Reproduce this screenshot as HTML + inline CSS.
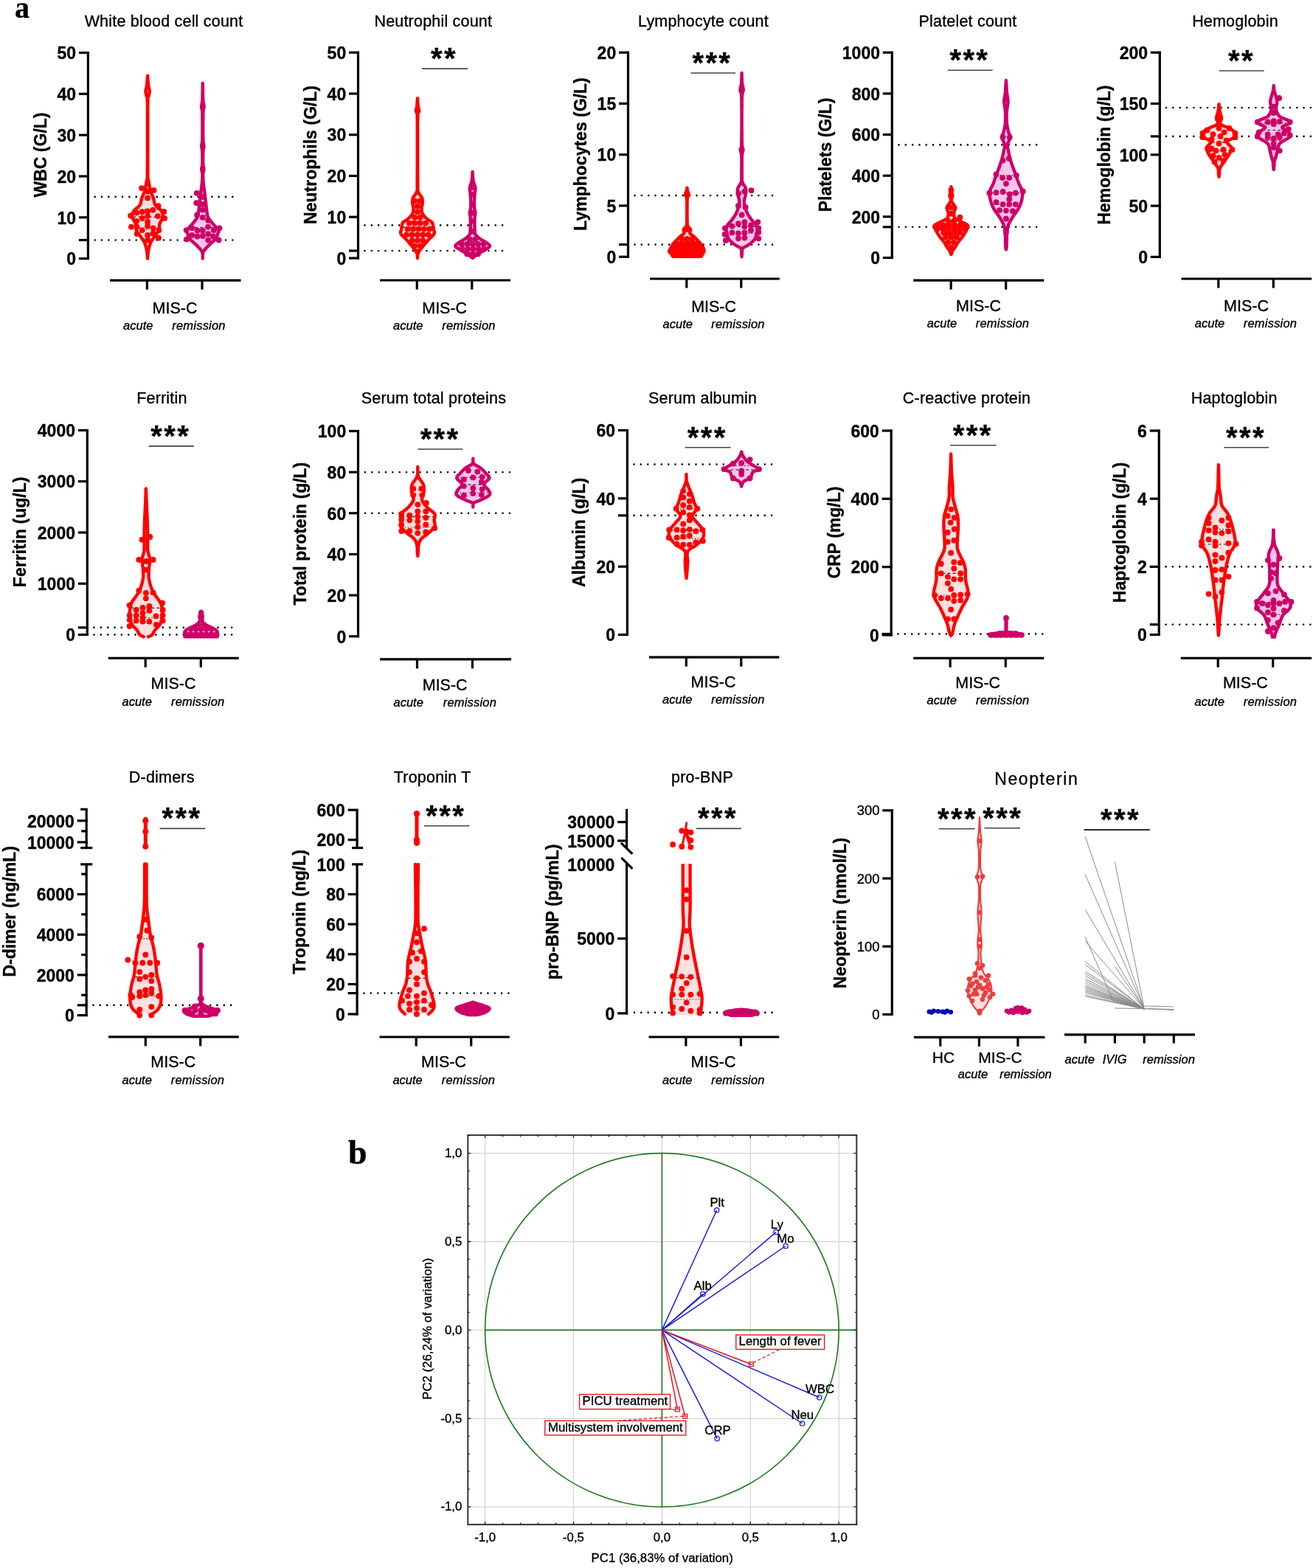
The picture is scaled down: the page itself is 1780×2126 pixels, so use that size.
<!DOCTYPE html>
<html><head><meta charset="utf-8"><title>MIS-C laboratory parameters</title><style>html,body{margin:0;padding:0;background:#fff;}svg{display:block;}</style></head><body>
<svg width="1780" height="2126" viewBox="0 0 1780 2126" style="font-family:'Liberation Sans',Arial,sans-serif">
<style>text{stroke:#000;stroke-width:0.35px;stroke-linejoin:round}</style>
<rect width="1780" height="2126" fill="#fff"/>
<text x="20.0" y="23.5" font-size="40" font-weight="bold" text-anchor="start" fill="#000" font-family="Liberation Serif">a</text>
<text x="222.0" y="35.5" font-size="21.5" text-anchor="middle" fill="#000" letter-spacing="0.2">White blood cell count</text>
<text x="62.5" y="210.0" font-size="23" font-weight="bold" text-anchor="middle" fill="#000" transform="rotate(-90 62.5 210.0)">WBC (G/L)</text>
<path d="M128.7,266.9h0M138.0,266.9h0M147.4,266.9h0M156.7,266.9h0M166.0,266.9h0M175.4,266.9h0M184.7,266.9h0M194.0,266.9h0M203.3,266.9h0M212.7,266.9h0M222.0,266.9h0M231.3,266.9h0M240.7,266.9h0M250.0,266.9h0M259.3,266.9h0M268.7,266.9h0M278.0,266.9h0M287.3,266.9h0M296.6,266.9h0M306.0,266.9h0M315.3,266.9h0" stroke="#000" stroke-width="2.6" stroke-linecap="round"/>
<path d="M128.7,325.5h0M138.0,325.5h0M147.4,325.5h0M156.7,325.5h0M166.0,325.5h0M175.4,325.5h0M184.7,325.5h0M194.0,325.5h0M203.3,325.5h0M212.7,325.5h0M222.0,325.5h0M231.3,325.5h0M240.7,325.5h0M250.0,325.5h0M259.3,325.5h0M268.7,325.5h0M278.0,325.5h0M287.3,325.5h0M296.6,325.5h0M306.0,325.5h0M315.3,325.5h0" stroke="#000" stroke-width="2.6" stroke-linecap="round"/>
<line x1="119.4" y1="70.0" x2="119.4" y2="352.1" stroke="#000" stroke-width="3.2"/>
<line x1="106.9" y1="350.6" x2="120.9" y2="350.6" stroke="#000" stroke-width="3.2"/>
<text x="103.1" y="359.3" font-size="23" font-weight="bold" text-anchor="end" fill="#000">0</text>
<line x1="106.9" y1="294.8" x2="120.9" y2="294.8" stroke="#000" stroke-width="3.2"/>
<text x="103.1" y="303.5" font-size="23" font-weight="bold" text-anchor="end" fill="#000">10</text>
<line x1="106.9" y1="239.0" x2="120.9" y2="239.0" stroke="#000" stroke-width="3.2"/>
<text x="103.1" y="247.7" font-size="23" font-weight="bold" text-anchor="end" fill="#000">20</text>
<line x1="106.9" y1="183.1" x2="120.9" y2="183.1" stroke="#000" stroke-width="3.2"/>
<text x="103.1" y="191.8" font-size="23" font-weight="bold" text-anchor="end" fill="#000">30</text>
<line x1="106.9" y1="127.3" x2="120.9" y2="127.3" stroke="#000" stroke-width="3.2"/>
<text x="103.1" y="136.0" font-size="23" font-weight="bold" text-anchor="end" fill="#000">40</text>
<line x1="106.9" y1="71.5" x2="120.9" y2="71.5" stroke="#000" stroke-width="3.2"/>
<text x="103.1" y="80.2" font-size="23" font-weight="bold" text-anchor="end" fill="#000">50</text>
<line x1="106.9" y1="325.5" x2="120.9" y2="325.5" stroke="#000" stroke-width="3.2"/>
<line x1="149.0" y1="380.1" x2="326.5" y2="380.1" stroke="#000" stroke-width="3.2"/>
<line x1="199.4" y1="380.1" x2="199.4" y2="392.6" stroke="#000" stroke-width="3.2"/>
<line x1="274.0" y1="380.1" x2="274.0" y2="392.6" stroke="#000" stroke-width="3.2"/>
<text x="237.0" y="425.0" font-size="21.5" text-anchor="middle" fill="#000">MIS-C</text>
<text x="187.3" y="447.0" font-size="16.5" font-style="italic" text-anchor="middle" fill="#000">acute</text>
<text x="269.5" y="447.0" font-size="16.5" font-style="italic" text-anchor="middle" fill="#000" letter-spacing="0.2">remission</text>
<path d="M200.1,350.6 L200.1,350.1 L200.2,349.4 L200.3,348.6 L200.4,347.7 L200.4,346.7 L200.5,345.7 L200.6,344.8 L200.7,343.8 L200.8,343.0 L200.9,342.2 L201.0,341.6 L201.0,341.1 L201.1,340.6 L201.1,340.1 L201.2,339.7 L201.3,339.3 L201.3,338.9 L201.4,338.4 L201.5,337.8 L201.7,337.2 L201.9,336.5 L202.1,335.7 L202.3,334.9 L202.5,334.1 L202.7,333.2 L203.0,332.3 L203.3,331.4 L203.6,330.6 L203.9,329.7 L204.3,328.8 L204.7,328.0 L205.2,327.2 L205.7,326.3 L206.3,325.5 L206.9,324.6 L207.5,323.8 L208.1,323.0 L208.7,322.1 L209.2,321.3 L209.8,320.5 L210.4,319.6 L211.0,318.8 L211.6,318.0 L212.2,317.1 L212.8,316.3 L213.4,315.5 L214.0,314.6 L214.5,313.8 L214.9,312.9 L215.3,312.1 L215.6,311.2 L215.8,310.3 L215.9,309.4 L216.0,308.5 L216.0,307.6 L216.1,306.7 L216.1,305.8 L216.2,304.9 L216.4,304.0 L216.6,303.2 L216.9,302.3 L217.3,301.4 L217.8,300.6 L218.3,299.8 L218.8,298.9 L219.3,298.1 L219.7,297.3 L220.1,296.4 L220.4,295.6 L220.6,294.8 L220.7,293.9 L220.8,293.1 L220.8,292.3 L220.7,291.4 L220.6,290.6 L220.5,289.8 L220.2,288.9 L219.9,288.1 L219.6,287.2 L219.1,286.4 L218.5,285.6 L217.8,284.7 L216.9,283.9 L215.9,283.1 L214.9,282.3 L213.9,281.4 L212.9,280.6 L212.0,279.7 L211.2,278.9 L210.6,278.0 L210.1,277.2 L209.7,276.3 L209.4,275.4 L209.2,274.5 L209.0,273.6 L208.9,272.7 L208.7,271.8 L208.6,270.9 L208.4,270.0 L208.1,269.1 L207.8,268.2 L207.5,267.4 L207.1,266.5 L206.7,265.7 L206.4,264.9 L206.0,264.1 L205.7,263.2 L205.3,262.4 L205.0,261.6 L204.7,260.7 L204.4,259.9 L204.2,259.1 L204.0,258.2 L203.7,257.4 L203.5,256.6 L203.3,255.7 L203.1,254.9 L203.0,254.1 L202.8,253.2 L202.6,252.4 L202.4,251.5 L202.2,250.6 L202.1,249.7 L201.9,248.8 L201.8,247.9 L201.6,247.0 L201.5,246.1 L201.3,245.2 L201.2,244.3 L201.1,243.4 L201.0,243.0 L200.9,243.1 L200.8,243.7 L200.7,244.3 L200.7,244.7 L200.6,244.7 L200.5,244.0 L200.5,242.4 L200.4,239.5 L200.4,235.1 L200.4,228.6 L200.3,220.0 L200.3,209.8 L200.3,198.5 L200.3,186.8 L200.3,175.0 L200.3,163.8 L200.3,153.6 L200.3,145.0 L200.4,138.5 L200.5,134.1 L200.6,131.1 L200.7,129.4 L200.8,128.7 L200.9,128.7 L201.1,129.1 L201.2,129.7 L201.3,130.3 L201.5,130.5 L201.6,130.1 L201.7,129.4 L201.9,128.7 L202.0,128.0 L202.2,127.3 L202.3,126.7 L202.4,126.1 L202.6,125.4 L202.6,124.8 L202.7,124.1 L202.7,123.4 L202.7,122.7 L202.6,122.1 L202.5,121.5 L202.3,120.8 L202.1,120.2 L202.0,119.5 L201.8,118.8 L201.6,118.0 L201.4,117.1 L201.3,116.2 L201.2,115.0 L201.0,113.7 L200.9,112.2 L200.7,110.6 L200.6,109.0 L200.5,107.4 L200.4,106.0 L200.3,104.7 L200.2,103.6 L200.1,102.8 L200.1,102.8 L200.0,103.6 L199.9,104.7 L199.8,106.0 L199.7,107.4 L199.6,109.0 L199.5,110.6 L199.3,112.2 L199.2,113.7 L199.0,115.0 L198.9,116.2 L198.8,117.1 L198.6,118.0 L198.4,118.8 L198.2,119.5 L198.1,120.2 L197.9,120.8 L197.7,121.5 L197.6,122.1 L197.5,122.7 L197.5,123.4 L197.5,124.1 L197.6,124.8 L197.6,125.4 L197.8,126.1 L197.9,126.7 L198.0,127.3 L198.2,128.0 L198.3,128.7 L198.5,129.4 L198.6,130.1 L198.7,130.5 L198.9,130.3 L199.0,129.7 L199.1,129.1 L199.3,128.7 L199.4,128.7 L199.5,129.4 L199.6,131.1 L199.7,134.1 L199.8,138.5 L199.9,145.0 L199.9,153.6 L199.9,163.8 L199.9,175.0 L199.9,186.8 L199.9,198.5 L199.9,209.8 L199.9,220.0 L199.8,228.6 L199.8,235.1 L199.8,239.5 L199.7,242.4 L199.7,244.0 L199.6,244.7 L199.5,244.7 L199.5,244.3 L199.4,243.7 L199.3,243.1 L199.2,243.0 L199.1,243.4 L199.0,244.3 L198.9,245.2 L198.7,246.1 L198.6,247.0 L198.4,247.9 L198.3,248.8 L198.1,249.7 L198.0,250.6 L197.8,251.5 L197.6,252.4 L197.4,253.2 L197.2,254.1 L197.1,254.9 L196.9,255.7 L196.7,256.6 L196.5,257.4 L196.2,258.2 L196.0,259.1 L195.8,259.9 L195.5,260.7 L195.2,261.6 L194.9,262.4 L194.5,263.2 L194.2,264.1 L193.8,264.9 L193.5,265.7 L193.1,266.5 L192.7,267.4 L192.4,268.2 L192.1,269.1 L191.8,270.0 L191.6,270.9 L191.5,271.8 L191.3,272.7 L191.2,273.6 L191.0,274.5 L190.8,275.4 L190.5,276.3 L190.1,277.2 L189.6,278.0 L189.0,278.9 L188.2,279.7 L187.3,280.6 L186.3,281.4 L185.3,282.3 L184.3,283.1 L183.3,283.9 L182.4,284.7 L181.7,285.6 L181.1,286.4 L180.6,287.2 L180.3,288.1 L180.0,288.9 L179.7,289.8 L179.6,290.6 L179.5,291.4 L179.4,292.3 L179.4,293.1 L179.5,293.9 L179.6,294.8 L179.8,295.6 L180.1,296.4 L180.5,297.3 L180.9,298.1 L181.4,298.9 L181.9,299.8 L182.4,300.6 L182.9,301.4 L183.3,302.3 L183.6,303.2 L183.8,304.0 L184.0,304.9 L184.1,305.8 L184.1,306.7 L184.2,307.6 L184.2,308.5 L184.3,309.4 L184.4,310.3 L184.6,311.2 L184.9,312.1 L185.3,312.9 L185.7,313.8 L186.2,314.6 L186.8,315.5 L187.4,316.3 L188.0,317.1 L188.6,318.0 L189.2,318.8 L189.8,319.6 L190.4,320.5 L191.0,321.3 L191.5,322.1 L192.1,323.0 L192.7,323.8 L193.3,324.6 L193.9,325.5 L194.5,326.3 L195.0,327.2 L195.5,328.0 L195.9,328.8 L196.3,329.7 L196.6,330.6 L196.9,331.4 L197.2,332.3 L197.5,333.2 L197.7,334.1 L197.9,334.9 L198.1,335.7 L198.3,336.5 L198.5,337.2 L198.7,337.8 L198.8,338.4 L198.9,338.9 L198.9,339.3 L199.0,339.7 L199.1,340.1 L199.1,340.6 L199.2,341.1 L199.2,341.6 L199.3,342.2 L199.4,343.0 L199.5,343.8 L199.6,344.8 L199.7,345.7 L199.8,346.7 L199.8,347.7 L199.9,348.6 L200.0,349.4 L200.1,350.1 L200.1,350.6 Z" fill="#fde0e0" stroke="none"/>
<line x1="180.5" y1="294.2" x2="219.7" y2="294.2" stroke="#222" stroke-width="1.2" stroke-dasharray="4,3"/>
<line x1="185.6" y1="311.0" x2="214.6" y2="311.0" stroke="#222" stroke-width="1.2" stroke-dasharray="1.5,2.5"/>
<line x1="184.3" y1="283.6" x2="215.9" y2="283.6" stroke="#222" stroke-width="1.2" stroke-dasharray="1.5,2.5"/>
<path d="M200.1,350.6 L200.1,350.1 L200.2,349.4 L200.3,348.6 L200.4,347.7 L200.4,346.7 L200.5,345.7 L200.6,344.8 L200.7,343.8 L200.8,343.0 L200.9,342.2 L201.0,341.6 L201.0,341.1 L201.1,340.6 L201.1,340.1 L201.2,339.7 L201.3,339.3 L201.3,338.9 L201.4,338.4 L201.5,337.8 L201.7,337.2 L201.9,336.5 L202.1,335.7 L202.3,334.9 L202.5,334.1 L202.7,333.2 L203.0,332.3 L203.3,331.4 L203.6,330.6 L203.9,329.7 L204.3,328.8 L204.7,328.0 L205.2,327.2 L205.7,326.3 L206.3,325.5 L206.9,324.6 L207.5,323.8 L208.1,323.0 L208.7,322.1 L209.2,321.3 L209.8,320.5 L210.4,319.6 L211.0,318.8 L211.6,318.0 L212.2,317.1 L212.8,316.3 L213.4,315.5 L214.0,314.6 L214.5,313.8 L214.9,312.9 L215.3,312.1 L215.6,311.2 L215.8,310.3 L215.9,309.4 L216.0,308.5 L216.0,307.6 L216.1,306.7 L216.1,305.8 L216.2,304.9 L216.4,304.0 L216.6,303.2 L216.9,302.3 L217.3,301.4 L217.8,300.6 L218.3,299.8 L218.8,298.9 L219.3,298.1 L219.7,297.3 L220.1,296.4 L220.4,295.6 L220.6,294.8 L220.7,293.9 L220.8,293.1 L220.8,292.3 L220.7,291.4 L220.6,290.6 L220.5,289.8 L220.2,288.9 L219.9,288.1 L219.6,287.2 L219.1,286.4 L218.5,285.6 L217.8,284.7 L216.9,283.9 L215.9,283.1 L214.9,282.3 L213.9,281.4 L212.9,280.6 L212.0,279.7 L211.2,278.9 L210.6,278.0 L210.1,277.2 L209.7,276.3 L209.4,275.4 L209.2,274.5 L209.0,273.6 L208.9,272.7 L208.7,271.8 L208.6,270.9 L208.4,270.0 L208.1,269.1 L207.8,268.2 L207.5,267.4 L207.1,266.5 L206.7,265.7 L206.4,264.9 L206.0,264.1 L205.7,263.2 L205.3,262.4 L205.0,261.6 L204.7,260.7 L204.4,259.9 L204.2,259.1 L204.0,258.2 L203.7,257.4 L203.5,256.6 L203.3,255.7 L203.1,254.9 L203.0,254.1 L202.8,253.2 L202.6,252.4 L202.4,251.5 L202.2,250.6 L202.1,249.7 L201.9,248.8 L201.8,247.9 L201.6,247.0 L201.5,246.1 L201.3,245.2 L201.2,244.3 L201.1,243.4 L201.0,243.0 L200.9,243.1 L200.8,243.7 L200.7,244.3 L200.7,244.7 L200.6,244.7 L200.5,244.0 L200.5,242.4 L200.4,239.5 L200.4,235.1 L200.4,228.6 L200.3,220.0 L200.3,209.8 L200.3,198.5 L200.3,186.8 L200.3,175.0 L200.3,163.8 L200.3,153.6 L200.3,145.0 L200.4,138.5 L200.5,134.1 L200.6,131.1 L200.7,129.4 L200.8,128.7 L200.9,128.7 L201.1,129.1 L201.2,129.7 L201.3,130.3 L201.5,130.5 L201.6,130.1 L201.7,129.4 L201.9,128.7 L202.0,128.0 L202.2,127.3 L202.3,126.7 L202.4,126.1 L202.6,125.4 L202.6,124.8 L202.7,124.1 L202.7,123.4 L202.7,122.7 L202.6,122.1 L202.5,121.5 L202.3,120.8 L202.1,120.2 L202.0,119.5 L201.8,118.8 L201.6,118.0 L201.4,117.1 L201.3,116.2 L201.2,115.0 L201.0,113.7 L200.9,112.2 L200.7,110.6 L200.6,109.0 L200.5,107.4 L200.4,106.0 L200.3,104.7 L200.2,103.6 L200.1,102.8 L200.1,102.8 L200.0,103.6 L199.9,104.7 L199.8,106.0 L199.7,107.4 L199.6,109.0 L199.5,110.6 L199.3,112.2 L199.2,113.7 L199.0,115.0 L198.9,116.2 L198.8,117.1 L198.6,118.0 L198.4,118.8 L198.2,119.5 L198.1,120.2 L197.9,120.8 L197.7,121.5 L197.6,122.1 L197.5,122.7 L197.5,123.4 L197.5,124.1 L197.6,124.8 L197.6,125.4 L197.8,126.1 L197.9,126.7 L198.0,127.3 L198.2,128.0 L198.3,128.7 L198.5,129.4 L198.6,130.1 L198.7,130.5 L198.9,130.3 L199.0,129.7 L199.1,129.1 L199.3,128.7 L199.4,128.7 L199.5,129.4 L199.6,131.1 L199.7,134.1 L199.8,138.5 L199.9,145.0 L199.9,153.6 L199.9,163.8 L199.9,175.0 L199.9,186.8 L199.9,198.5 L199.9,209.8 L199.9,220.0 L199.8,228.6 L199.8,235.1 L199.8,239.5 L199.7,242.4 L199.7,244.0 L199.6,244.7 L199.5,244.7 L199.5,244.3 L199.4,243.7 L199.3,243.1 L199.2,243.0 L199.1,243.4 L199.0,244.3 L198.9,245.2 L198.7,246.1 L198.6,247.0 L198.4,247.9 L198.3,248.8 L198.1,249.7 L198.0,250.6 L197.8,251.5 L197.6,252.4 L197.4,253.2 L197.2,254.1 L197.1,254.9 L196.9,255.7 L196.7,256.6 L196.5,257.4 L196.2,258.2 L196.0,259.1 L195.8,259.9 L195.5,260.7 L195.2,261.6 L194.9,262.4 L194.5,263.2 L194.2,264.1 L193.8,264.9 L193.5,265.7 L193.1,266.5 L192.7,267.4 L192.4,268.2 L192.1,269.1 L191.8,270.0 L191.6,270.9 L191.5,271.8 L191.3,272.7 L191.2,273.6 L191.0,274.5 L190.8,275.4 L190.5,276.3 L190.1,277.2 L189.6,278.0 L189.0,278.9 L188.2,279.7 L187.3,280.6 L186.3,281.4 L185.3,282.3 L184.3,283.1 L183.3,283.9 L182.4,284.7 L181.7,285.6 L181.1,286.4 L180.6,287.2 L180.3,288.1 L180.0,288.9 L179.7,289.8 L179.6,290.6 L179.5,291.4 L179.4,292.3 L179.4,293.1 L179.5,293.9 L179.6,294.8 L179.8,295.6 L180.1,296.4 L180.5,297.3 L180.9,298.1 L181.4,298.9 L181.9,299.8 L182.4,300.6 L182.9,301.4 L183.3,302.3 L183.6,303.2 L183.8,304.0 L184.0,304.9 L184.1,305.8 L184.1,306.7 L184.2,307.6 L184.2,308.5 L184.3,309.4 L184.4,310.3 L184.6,311.2 L184.9,312.1 L185.3,312.9 L185.7,313.8 L186.2,314.6 L186.8,315.5 L187.4,316.3 L188.0,317.1 L188.6,318.0 L189.2,318.8 L189.8,319.6 L190.4,320.5 L191.0,321.3 L191.5,322.1 L192.1,323.0 L192.7,323.8 L193.3,324.6 L193.9,325.5 L194.5,326.3 L195.0,327.2 L195.5,328.0 L195.9,328.8 L196.3,329.7 L196.6,330.6 L196.9,331.4 L197.2,332.3 L197.5,333.2 L197.7,334.1 L197.9,334.9 L198.1,335.7 L198.3,336.5 L198.5,337.2 L198.7,337.8 L198.8,338.4 L198.9,338.9 L198.9,339.3 L199.0,339.7 L199.1,340.1 L199.1,340.6 L199.2,341.1 L199.2,341.6 L199.3,342.2 L199.4,343.0 L199.5,343.8 L199.6,344.8 L199.7,345.7 L199.8,346.7 L199.8,347.7 L199.9,348.6 L200.0,349.4 L200.1,350.1 L200.1,350.6 Z" fill="none" stroke="#ff0000" stroke-width="4.4" stroke-linejoin="round"/>
<g fill="#ff0000"><circle cx="200.1" cy="259.6" r="3.9"/><circle cx="200.1" cy="268.5" r="3.9"/><circle cx="192.0" cy="255.1" r="3.9"/><circle cx="208.6" cy="257.9" r="3.9"/><circle cx="214.6" cy="279.2" r="3.9"/><circle cx="207.4" cy="284.7" r="3.9"/><circle cx="200.1" cy="286.4" r="3.9"/><circle cx="192.8" cy="287.5" r="3.9"/><circle cx="185.2" cy="288.6" r="3.9"/><circle cx="222.3" cy="287.0" r="3.9"/><circle cx="177.1" cy="292.5" r="3.9"/><circle cx="200.1" cy="293.1" r="3.9"/><circle cx="213.8" cy="293.1" r="3.9"/><circle cx="192.8" cy="295.9" r="3.9"/><circle cx="223.1" cy="295.9" r="3.9"/><circle cx="200.1" cy="300.9" r="3.9"/><circle cx="185.2" cy="299.8" r="3.9"/><circle cx="200.1" cy="306.5" r="3.9"/><circle cx="177.9" cy="307.6" r="3.9"/><circle cx="185.6" cy="307.6" r="3.9"/><circle cx="207.8" cy="309.3" r="3.9"/><circle cx="192.8" cy="312.1" r="3.9"/><circle cx="215.5" cy="312.1" r="3.9"/><circle cx="185.6" cy="317.1" r="3.9"/><circle cx="207.4" cy="316.5" r="3.9"/><circle cx="200.1" cy="318.8" r="3.9"/><circle cx="215.0" cy="322.7" r="3.9"/><circle cx="200.1" cy="325.5" r="3.9"/></g>
<path d="M274.8,350.6 L274.8,350.1 L274.8,349.4 L274.8,348.6 L274.8,347.6 L274.8,346.7 L274.8,345.6 L274.9,344.6 L275.0,343.6 L275.3,342.6 L275.6,341.7 L276.0,340.8 L276.5,340.0 L277.1,339.1 L277.8,338.3 L278.5,337.5 L279.2,336.7 L280.0,335.8 L280.8,335.0 L281.6,334.2 L282.4,333.3 L283.3,332.4 L284.2,331.5 L285.2,330.6 L286.2,329.7 L287.3,328.8 L288.3,327.9 L289.3,327.0 L290.2,326.1 L291.1,325.2 L291.8,324.4 L292.4,323.5 L293.0,322.6 L293.5,321.7 L293.9,320.8 L294.3,319.9 L294.6,319.0 L294.9,318.2 L295.1,317.4 L295.4,316.6 L295.6,316.0 L295.8,315.4 L296.0,315.0 L296.3,314.6 L296.4,314.3 L296.6,314.1 L296.6,313.8 L296.7,313.5 L296.6,313.1 L296.4,312.7 L296.1,312.1 L295.7,311.4 L295.1,310.6 L294.3,309.8 L293.5,308.8 L292.7,307.9 L291.8,306.9 L290.9,305.9 L290.0,305.0 L289.1,304.0 L288.4,303.2 L287.7,302.3 L287.0,301.4 L286.3,300.6 L285.6,299.8 L285.0,298.9 L284.4,298.1 L283.8,297.3 L283.2,296.4 L282.7,295.6 L282.3,294.8 L281.9,293.9 L281.6,293.1 L281.4,292.3 L281.2,291.4 L281.0,290.6 L280.8,289.8 L280.7,288.9 L280.6,288.1 L280.4,287.2 L280.3,286.4 L280.2,285.6 L280.1,284.7 L280.0,283.9 L279.9,283.1 L279.8,282.3 L279.7,281.4 L279.6,280.6 L279.6,279.7 L279.5,278.9 L279.4,278.0 L279.3,277.2 L279.2,276.3 L279.1,275.4 L279.0,274.5 L278.9,273.6 L278.8,272.7 L278.7,271.8 L278.6,270.9 L278.5,270.0 L278.4,269.1 L278.3,268.2 L278.2,267.4 L278.1,266.5 L278.0,265.7 L277.9,264.9 L277.8,264.1 L277.7,263.2 L277.6,262.4 L277.5,261.6 L277.4,260.7 L277.3,259.9 L277.2,259.1 L277.0,258.2 L276.9,257.4 L276.8,256.6 L276.7,255.7 L276.5,254.9 L276.4,254.1 L276.3,253.2 L276.2,252.4 L276.1,251.5 L276.0,250.6 L275.9,249.7 L275.8,248.8 L275.7,247.9 L275.7,247.0 L275.6,246.1 L275.5,245.2 L275.4,244.3 L275.4,243.4 L275.4,242.6 L275.3,241.7 L275.3,240.8 L275.3,239.9 L275.2,239.0 L275.2,238.2 L275.2,237.3 L275.2,236.5 L275.3,235.8 L275.3,235.1 L275.4,234.4 L275.5,233.8 L275.6,233.2 L275.8,232.7 L275.9,232.2 L276.1,231.7 L276.2,231.2 L276.3,230.6 L276.4,230.1 L276.4,229.5 L276.4,228.9 L276.3,228.3 L276.2,227.7 L276.1,227.1 L275.9,226.5 L275.8,225.9 L275.6,225.1 L275.5,224.3 L275.4,223.3 L275.3,222.2 L275.3,220.9 L275.2,219.3 L275.2,217.6 L275.2,215.8 L275.2,213.9 L275.2,212.0 L275.3,210.1 L275.3,208.4 L275.3,206.8 L275.4,205.5 L275.5,204.3 L275.6,203.4 L275.7,202.5 L275.8,201.8 L276.0,201.1 L276.1,200.4 L276.2,199.8 L276.3,199.1 L276.4,198.4 L276.4,197.7 L276.4,196.9 L276.3,196.4 L276.2,195.9 L276.1,195.5 L275.9,195.0 L275.8,194.3 L275.6,193.4 L275.5,192.3 L275.4,190.7 L275.3,188.7 L275.3,186.1 L275.2,182.8 L275.2,178.9 L275.2,174.8 L275.2,170.5 L275.2,166.2 L275.3,162.1 L275.3,158.3 L275.3,155.0 L275.4,152.4 L275.5,150.5 L275.6,149.2 L275.8,148.2 L275.9,147.6 L276.1,147.1 L276.2,146.9 L276.4,146.6 L276.5,146.3 L276.6,145.9 L276.6,145.2 L276.6,144.4 L276.5,143.6 L276.4,142.9 L276.2,142.2 L276.1,141.4 L275.9,140.6 L275.7,139.6 L275.5,138.5 L275.4,137.2 L275.3,135.7 L275.2,133.8 L275.1,131.6 L275.1,129.1 L275.0,126.4 L275.0,123.7 L274.9,121.0 L274.9,118.4 L274.9,116.1 L274.8,114.2 L274.8,112.8 L274.8,112.8 L274.8,114.2 L274.7,116.1 L274.7,118.4 L274.7,121.0 L274.6,123.7 L274.6,126.4 L274.5,129.1 L274.5,131.6 L274.4,133.8 L274.3,135.7 L274.2,137.2 L274.1,138.5 L273.9,139.6 L273.7,140.6 L273.5,141.4 L273.4,142.2 L273.2,142.9 L273.1,143.6 L273.0,144.4 L273.0,145.2 L273.0,145.9 L273.1,146.3 L273.2,146.6 L273.4,146.9 L273.5,147.1 L273.7,147.6 L273.8,148.2 L274.0,149.2 L274.1,150.5 L274.2,152.4 L274.3,155.0 L274.3,158.3 L274.3,162.1 L274.4,166.2 L274.4,170.5 L274.4,174.8 L274.4,178.9 L274.4,182.8 L274.3,186.1 L274.3,188.7 L274.2,190.7 L274.1,192.3 L274.0,193.4 L273.8,194.3 L273.7,195.0 L273.5,195.5 L273.4,195.9 L273.3,196.4 L273.2,196.9 L273.2,197.7 L273.2,198.4 L273.3,199.1 L273.4,199.8 L273.5,200.4 L273.6,201.1 L273.8,201.8 L273.9,202.5 L274.0,203.4 L274.1,204.3 L274.2,205.5 L274.3,206.8 L274.3,208.4 L274.3,210.1 L274.4,212.0 L274.4,213.9 L274.4,215.8 L274.4,217.6 L274.4,219.3 L274.3,220.9 L274.3,222.2 L274.2,223.3 L274.1,224.3 L274.0,225.1 L273.8,225.9 L273.7,226.5 L273.5,227.1 L273.4,227.7 L273.3,228.3 L273.2,228.9 L273.2,229.5 L273.2,230.1 L273.3,230.6 L273.4,231.2 L273.5,231.7 L273.7,232.2 L273.8,232.7 L274.0,233.2 L274.1,233.8 L274.2,234.4 L274.3,235.1 L274.3,235.8 L274.4,236.5 L274.4,237.3 L274.4,238.2 L274.4,239.0 L274.3,239.9 L274.3,240.8 L274.3,241.7 L274.2,242.6 L274.2,243.4 L274.2,244.3 L274.1,245.2 L274.0,246.1 L273.9,247.0 L273.9,247.9 L273.8,248.8 L273.7,249.7 L273.6,250.6 L273.5,251.5 L273.4,252.4 L273.3,253.2 L273.2,254.1 L273.1,254.9 L272.9,255.7 L272.8,256.6 L272.7,257.4 L272.6,258.2 L272.4,259.1 L272.3,259.9 L272.2,260.7 L272.1,261.6 L272.0,262.4 L271.9,263.2 L271.8,264.1 L271.7,264.9 L271.6,265.7 L271.5,266.5 L271.4,267.4 L271.3,268.2 L271.2,269.1 L271.1,270.0 L271.0,270.9 L270.9,271.8 L270.8,272.7 L270.7,273.6 L270.6,274.5 L270.5,275.4 L270.4,276.3 L270.3,277.2 L270.2,278.0 L270.1,278.9 L270.0,279.7 L270.0,280.6 L269.9,281.4 L269.8,282.3 L269.7,283.1 L269.6,283.9 L269.5,284.7 L269.4,285.6 L269.3,286.4 L269.2,287.2 L269.0,288.1 L268.9,288.9 L268.8,289.8 L268.6,290.6 L268.4,291.4 L268.2,292.3 L268.0,293.1 L267.7,293.9 L267.3,294.8 L266.9,295.6 L266.4,296.4 L265.8,297.3 L265.2,298.1 L264.6,298.9 L264.0,299.8 L263.3,300.6 L262.6,301.4 L261.9,302.3 L261.2,303.2 L260.5,304.0 L259.6,305.0 L258.7,305.9 L257.8,306.9 L256.9,307.9 L256.1,308.8 L255.3,309.8 L254.5,310.6 L253.9,311.4 L253.5,312.1 L253.2,312.7 L253.0,313.1 L252.9,313.5 L253.0,313.8 L253.0,314.1 L253.2,314.3 L253.3,314.6 L253.6,315.0 L253.8,315.4 L254.0,316.0 L254.2,316.6 L254.5,317.4 L254.7,318.2 L255.0,319.0 L255.3,319.9 L255.7,320.8 L256.1,321.7 L256.6,322.6 L257.2,323.5 L257.8,324.4 L258.5,325.2 L259.4,326.1 L260.3,327.0 L261.3,327.9 L262.3,328.8 L263.4,329.7 L264.4,330.6 L265.4,331.5 L266.3,332.4 L267.2,333.3 L268.0,334.2 L268.8,335.0 L269.6,335.8 L270.4,336.7 L271.1,337.5 L271.8,338.3 L272.5,339.1 L273.1,340.0 L273.6,340.8 L274.0,341.7 L274.3,342.6 L274.6,343.6 L274.7,344.6 L274.8,345.6 L274.8,346.7 L274.8,347.6 L274.8,348.6 L274.8,349.4 L274.8,350.1 L274.8,350.6 Z" fill="#f6c6ea" stroke="none"/>
<line x1="257.1" y1="308.5" x2="292.5" y2="308.5" stroke="#222" stroke-width="1.2" stroke-dasharray="4,3"/>
<line x1="256.3" y1="319.9" x2="293.3" y2="319.9" stroke="#222" stroke-width="1.2" stroke-dasharray="1.5,2.5"/>
<line x1="269.2" y1="292.0" x2="280.4" y2="292.0" stroke="#222" stroke-width="1.2" stroke-dasharray="1.5,2.5"/>
<path d="M274.8,350.6 L274.8,350.1 L274.8,349.4 L274.8,348.6 L274.8,347.6 L274.8,346.7 L274.8,345.6 L274.9,344.6 L275.0,343.6 L275.3,342.6 L275.6,341.7 L276.0,340.8 L276.5,340.0 L277.1,339.1 L277.8,338.3 L278.5,337.5 L279.2,336.7 L280.0,335.8 L280.8,335.0 L281.6,334.2 L282.4,333.3 L283.3,332.4 L284.2,331.5 L285.2,330.6 L286.2,329.7 L287.3,328.8 L288.3,327.9 L289.3,327.0 L290.2,326.1 L291.1,325.2 L291.8,324.4 L292.4,323.5 L293.0,322.6 L293.5,321.7 L293.9,320.8 L294.3,319.9 L294.6,319.0 L294.9,318.2 L295.1,317.4 L295.4,316.6 L295.6,316.0 L295.8,315.4 L296.0,315.0 L296.3,314.6 L296.4,314.3 L296.6,314.1 L296.6,313.8 L296.7,313.5 L296.6,313.1 L296.4,312.7 L296.1,312.1 L295.7,311.4 L295.1,310.6 L294.3,309.8 L293.5,308.8 L292.7,307.9 L291.8,306.9 L290.9,305.9 L290.0,305.0 L289.1,304.0 L288.4,303.2 L287.7,302.3 L287.0,301.4 L286.3,300.6 L285.6,299.8 L285.0,298.9 L284.4,298.1 L283.8,297.3 L283.2,296.4 L282.7,295.6 L282.3,294.8 L281.9,293.9 L281.6,293.1 L281.4,292.3 L281.2,291.4 L281.0,290.6 L280.8,289.8 L280.7,288.9 L280.6,288.1 L280.4,287.2 L280.3,286.4 L280.2,285.6 L280.1,284.7 L280.0,283.9 L279.9,283.1 L279.8,282.3 L279.7,281.4 L279.6,280.6 L279.6,279.7 L279.5,278.9 L279.4,278.0 L279.3,277.2 L279.2,276.3 L279.1,275.4 L279.0,274.5 L278.9,273.6 L278.8,272.7 L278.7,271.8 L278.6,270.9 L278.5,270.0 L278.4,269.1 L278.3,268.2 L278.2,267.4 L278.1,266.5 L278.0,265.7 L277.9,264.9 L277.8,264.1 L277.7,263.2 L277.6,262.4 L277.5,261.6 L277.4,260.7 L277.3,259.9 L277.2,259.1 L277.0,258.2 L276.9,257.4 L276.8,256.6 L276.7,255.7 L276.5,254.9 L276.4,254.1 L276.3,253.2 L276.2,252.4 L276.1,251.5 L276.0,250.6 L275.9,249.7 L275.8,248.8 L275.7,247.9 L275.7,247.0 L275.6,246.1 L275.5,245.2 L275.4,244.3 L275.4,243.4 L275.4,242.6 L275.3,241.7 L275.3,240.8 L275.3,239.9 L275.2,239.0 L275.2,238.2 L275.2,237.3 L275.2,236.5 L275.3,235.8 L275.3,235.1 L275.4,234.4 L275.5,233.8 L275.6,233.2 L275.8,232.7 L275.9,232.2 L276.1,231.7 L276.2,231.2 L276.3,230.6 L276.4,230.1 L276.4,229.5 L276.4,228.9 L276.3,228.3 L276.2,227.7 L276.1,227.1 L275.9,226.5 L275.8,225.9 L275.6,225.1 L275.5,224.3 L275.4,223.3 L275.3,222.2 L275.3,220.9 L275.2,219.3 L275.2,217.6 L275.2,215.8 L275.2,213.9 L275.2,212.0 L275.3,210.1 L275.3,208.4 L275.3,206.8 L275.4,205.5 L275.5,204.3 L275.6,203.4 L275.7,202.5 L275.8,201.8 L276.0,201.1 L276.1,200.4 L276.2,199.8 L276.3,199.1 L276.4,198.4 L276.4,197.7 L276.4,196.9 L276.3,196.4 L276.2,195.9 L276.1,195.5 L275.9,195.0 L275.8,194.3 L275.6,193.4 L275.5,192.3 L275.4,190.7 L275.3,188.7 L275.3,186.1 L275.2,182.8 L275.2,178.9 L275.2,174.8 L275.2,170.5 L275.2,166.2 L275.3,162.1 L275.3,158.3 L275.3,155.0 L275.4,152.4 L275.5,150.5 L275.6,149.2 L275.8,148.2 L275.9,147.6 L276.1,147.1 L276.2,146.9 L276.4,146.6 L276.5,146.3 L276.6,145.9 L276.6,145.2 L276.6,144.4 L276.5,143.6 L276.4,142.9 L276.2,142.2 L276.1,141.4 L275.9,140.6 L275.7,139.6 L275.5,138.5 L275.4,137.2 L275.3,135.7 L275.2,133.8 L275.1,131.6 L275.1,129.1 L275.0,126.4 L275.0,123.7 L274.9,121.0 L274.9,118.4 L274.9,116.1 L274.8,114.2 L274.8,112.8 L274.8,112.8 L274.8,114.2 L274.7,116.1 L274.7,118.4 L274.7,121.0 L274.6,123.7 L274.6,126.4 L274.5,129.1 L274.5,131.6 L274.4,133.8 L274.3,135.7 L274.2,137.2 L274.1,138.5 L273.9,139.6 L273.7,140.6 L273.5,141.4 L273.4,142.2 L273.2,142.9 L273.1,143.6 L273.0,144.4 L273.0,145.2 L273.0,145.9 L273.1,146.3 L273.2,146.6 L273.4,146.9 L273.5,147.1 L273.7,147.6 L273.8,148.2 L274.0,149.2 L274.1,150.5 L274.2,152.4 L274.3,155.0 L274.3,158.3 L274.3,162.1 L274.4,166.2 L274.4,170.5 L274.4,174.8 L274.4,178.9 L274.4,182.8 L274.3,186.1 L274.3,188.7 L274.2,190.7 L274.1,192.3 L274.0,193.4 L273.8,194.3 L273.7,195.0 L273.5,195.5 L273.4,195.9 L273.3,196.4 L273.2,196.9 L273.2,197.7 L273.2,198.4 L273.3,199.1 L273.4,199.8 L273.5,200.4 L273.6,201.1 L273.8,201.8 L273.9,202.5 L274.0,203.4 L274.1,204.3 L274.2,205.5 L274.3,206.8 L274.3,208.4 L274.3,210.1 L274.4,212.0 L274.4,213.9 L274.4,215.8 L274.4,217.6 L274.4,219.3 L274.3,220.9 L274.3,222.2 L274.2,223.3 L274.1,224.3 L274.0,225.1 L273.8,225.9 L273.7,226.5 L273.5,227.1 L273.4,227.7 L273.3,228.3 L273.2,228.9 L273.2,229.5 L273.2,230.1 L273.3,230.6 L273.4,231.2 L273.5,231.7 L273.7,232.2 L273.8,232.7 L274.0,233.2 L274.1,233.8 L274.2,234.4 L274.3,235.1 L274.3,235.8 L274.4,236.5 L274.4,237.3 L274.4,238.2 L274.4,239.0 L274.3,239.9 L274.3,240.8 L274.3,241.7 L274.2,242.6 L274.2,243.4 L274.2,244.3 L274.1,245.2 L274.0,246.1 L273.9,247.0 L273.9,247.9 L273.8,248.8 L273.7,249.7 L273.6,250.6 L273.5,251.5 L273.4,252.4 L273.3,253.2 L273.2,254.1 L273.1,254.9 L272.9,255.7 L272.8,256.6 L272.7,257.4 L272.6,258.2 L272.4,259.1 L272.3,259.9 L272.2,260.7 L272.1,261.6 L272.0,262.4 L271.9,263.2 L271.8,264.1 L271.7,264.9 L271.6,265.7 L271.5,266.5 L271.4,267.4 L271.3,268.2 L271.2,269.1 L271.1,270.0 L271.0,270.9 L270.9,271.8 L270.8,272.7 L270.7,273.6 L270.6,274.5 L270.5,275.4 L270.4,276.3 L270.3,277.2 L270.2,278.0 L270.1,278.9 L270.0,279.7 L270.0,280.6 L269.9,281.4 L269.8,282.3 L269.7,283.1 L269.6,283.9 L269.5,284.7 L269.4,285.6 L269.3,286.4 L269.2,287.2 L269.0,288.1 L268.9,288.9 L268.8,289.8 L268.6,290.6 L268.4,291.4 L268.2,292.3 L268.0,293.1 L267.7,293.9 L267.3,294.8 L266.9,295.6 L266.4,296.4 L265.8,297.3 L265.2,298.1 L264.6,298.9 L264.0,299.8 L263.3,300.6 L262.6,301.4 L261.9,302.3 L261.2,303.2 L260.5,304.0 L259.6,305.0 L258.7,305.9 L257.8,306.9 L256.9,307.9 L256.1,308.8 L255.3,309.8 L254.5,310.6 L253.9,311.4 L253.5,312.1 L253.2,312.7 L253.0,313.1 L252.9,313.5 L253.0,313.8 L253.0,314.1 L253.2,314.3 L253.3,314.6 L253.6,315.0 L253.8,315.4 L254.0,316.0 L254.2,316.6 L254.5,317.4 L254.7,318.2 L255.0,319.0 L255.3,319.9 L255.7,320.8 L256.1,321.7 L256.6,322.6 L257.2,323.5 L257.8,324.4 L258.5,325.2 L259.4,326.1 L260.3,327.0 L261.3,327.9 L262.3,328.8 L263.4,329.7 L264.4,330.6 L265.4,331.5 L266.3,332.4 L267.2,333.3 L268.0,334.2 L268.8,335.0 L269.6,335.8 L270.4,336.7 L271.1,337.5 L271.8,338.3 L272.5,339.1 L273.1,340.0 L273.6,340.8 L274.0,341.7 L274.3,342.6 L274.6,343.6 L274.7,344.6 L274.8,345.6 L274.8,346.7 L274.8,347.6 L274.8,348.6 L274.8,349.4 L274.8,350.1 L274.8,350.6 Z" fill="none" stroke="#cd0067" stroke-width="4.4" stroke-linejoin="round"/>
<g fill="#cd0067"><circle cx="274.8" cy="266.9" r="3.9"/><circle cx="274.8" cy="276.9" r="3.9"/><circle cx="274.8" cy="284.7" r="3.9"/><circle cx="274.8" cy="294.8" r="3.9"/><circle cx="266.7" cy="261.8" r="3.9"/><circle cx="266.3" cy="275.2" r="3.9"/><circle cx="267.1" cy="291.4" r="3.9"/><circle cx="282.1" cy="298.7" r="3.9"/><circle cx="282.1" cy="307.6" r="3.9"/><circle cx="289.8" cy="312.1" r="3.9"/><circle cx="297.5" cy="309.3" r="3.9"/><circle cx="260.3" cy="309.3" r="3.9"/><circle cx="267.5" cy="312.6" r="3.9"/><circle cx="274.8" cy="312.6" r="3.9"/><circle cx="252.6" cy="312.1" r="3.9"/><circle cx="282.1" cy="317.1" r="3.9"/><circle cx="260.3" cy="318.8" r="3.9"/><circle cx="267.5" cy="320.5" r="3.9"/><circle cx="274.8" cy="319.9" r="3.9"/><circle cx="288.9" cy="320.5" r="3.9"/><circle cx="253.0" cy="324.4" r="3.9"/><circle cx="282.1" cy="325.5" r="3.9"/><circle cx="296.6" cy="325.5" r="3.9"/></g>
<text x="587.3" y="35.5" font-size="21.5" text-anchor="middle" fill="#000" letter-spacing="0.2">Neutrophil count</text>
<text x="428.5" y="210.0" font-size="23" font-weight="bold" text-anchor="middle" fill="#000" transform="rotate(-90 428.5 210.0)">Neutrophils (G/L)</text>
<path d="M494.5,305.4h0M503.8,305.4h0M513.2,305.4h0M522.5,305.4h0M531.8,305.4h0M541.2,305.4h0M550.5,305.4h0M559.8,305.4h0M569.1,305.4h0M578.5,305.4h0M587.8,305.4h0M597.1,305.4h0M606.5,305.4h0M615.8,305.4h0M625.1,305.4h0M634.5,305.4h0M643.8,305.4h0M653.1,305.4h0M662.4,305.4h0M671.8,305.4h0M681.1,305.4h0" stroke="#000" stroke-width="2.6" stroke-linecap="round"/>
<path d="M494.5,340.0h0M503.8,340.0h0M513.2,340.0h0M522.5,340.0h0M531.8,340.0h0M541.2,340.0h0M550.5,340.0h0M559.8,340.0h0M569.1,340.0h0M578.5,340.0h0M587.8,340.0h0M597.1,340.0h0M606.5,340.0h0M615.8,340.0h0M625.1,340.0h0M634.5,340.0h0M643.8,340.0h0M653.1,340.0h0M662.4,340.0h0M671.8,340.0h0M681.1,340.0h0" stroke="#000" stroke-width="2.6" stroke-linecap="round"/>
<line x1="485.5" y1="69.7" x2="485.5" y2="351.5" stroke="#000" stroke-width="3.2"/>
<line x1="473.0" y1="350.0" x2="487.0" y2="350.0" stroke="#000" stroke-width="3.2"/>
<text x="469.2" y="358.7" font-size="23" font-weight="bold" text-anchor="end" fill="#000">0</text>
<line x1="473.0" y1="294.2" x2="487.0" y2="294.2" stroke="#000" stroke-width="3.2"/>
<text x="469.2" y="302.9" font-size="23" font-weight="bold" text-anchor="end" fill="#000">10</text>
<line x1="473.0" y1="238.5" x2="487.0" y2="238.5" stroke="#000" stroke-width="3.2"/>
<text x="469.2" y="247.2" font-size="23" font-weight="bold" text-anchor="end" fill="#000">20</text>
<line x1="473.0" y1="182.7" x2="487.0" y2="182.7" stroke="#000" stroke-width="3.2"/>
<text x="469.2" y="191.4" font-size="23" font-weight="bold" text-anchor="end" fill="#000">30</text>
<line x1="473.0" y1="127.0" x2="487.0" y2="127.0" stroke="#000" stroke-width="3.2"/>
<text x="469.2" y="135.7" font-size="23" font-weight="bold" text-anchor="end" fill="#000">40</text>
<line x1="473.0" y1="71.2" x2="487.0" y2="71.2" stroke="#000" stroke-width="3.2"/>
<text x="469.2" y="79.9" font-size="23" font-weight="bold" text-anchor="end" fill="#000">50</text>
<line x1="473.0" y1="340.0" x2="487.0" y2="340.0" stroke="#000" stroke-width="3.2"/>
<line x1="515.0" y1="380.0" x2="692.0" y2="380.0" stroke="#000" stroke-width="3.2"/>
<line x1="565.3" y1="380.0" x2="565.3" y2="392.5" stroke="#000" stroke-width="3.2"/>
<line x1="639.8" y1="380.0" x2="639.8" y2="392.5" stroke="#000" stroke-width="3.2"/>
<text x="602.7" y="425.0" font-size="21.5" text-anchor="middle" fill="#000">MIS-C</text>
<text x="553.3" y="447.0" font-size="16.5" font-style="italic" text-anchor="middle" fill="#000">acute</text>
<text x="635.5" y="447.0" font-size="16.5" font-style="italic" text-anchor="middle" fill="#000" letter-spacing="0.2">remission</text>
<text x="602.0" y="93.0" font-size="40" font-weight="bold" text-anchor="middle" fill="#000" letter-spacing="2.4">**</text>
<line x1="572.0" y1="93.1" x2="634.0" y2="93.1" stroke="#444" stroke-width="1.6"/>
<path d="M566.0,350.0 L566.0,349.6 L566.0,349.0 L566.1,348.4 L566.1,347.7 L566.1,346.9 L566.2,346.1 L566.3,345.3 L566.4,344.4 L566.7,343.6 L567.0,342.8 L567.4,341.9 L567.9,341.1 L568.5,340.2 L569.1,339.3 L569.8,338.4 L570.5,337.5 L571.2,336.6 L571.9,335.7 L572.7,334.8 L573.4,333.8 L574.2,332.9 L574.9,331.9 L575.8,331.0 L576.6,330.0 L577.5,329.0 L578.3,328.0 L579.2,327.0 L580.0,326.1 L580.8,325.2 L581.6,324.4 L582.4,323.5 L583.2,322.7 L584.0,322.0 L584.8,321.2 L585.6,320.5 L586.3,319.8 L587.0,319.1 L587.6,318.4 L588.1,317.8 L588.5,317.1 L588.7,316.5 L588.9,315.8 L588.9,315.3 L588.9,314.7 L588.8,314.1 L588.6,313.6 L588.4,313.0 L588.2,312.4 L588.0,311.7 L587.9,311.0 L587.8,310.2 L587.7,309.3 L587.6,308.4 L587.4,307.4 L587.3,306.4 L587.1,305.4 L586.9,304.5 L586.7,303.6 L586.4,302.8 L586.0,302.0 L585.6,301.4 L585.0,300.9 L584.5,300.5 L583.8,300.0 L583.2,299.7 L582.5,299.3 L581.8,298.9 L581.1,298.5 L580.4,298.1 L579.8,297.6 L579.1,297.0 L578.5,296.4 L577.8,295.8 L577.0,295.1 L576.3,294.4 L575.6,293.7 L575.0,293.0 L574.4,292.3 L573.9,291.6 L573.4,290.9 L573.0,290.2 L572.7,289.5 L572.4,288.8 L572.2,288.1 L572.0,287.4 L571.8,286.7 L571.7,286.0 L571.6,285.2 L571.5,284.4 L571.5,283.6 L571.5,282.8 L571.6,281.9 L571.7,281.0 L571.9,280.1 L572.1,279.1 L572.3,278.2 L572.5,277.3 L572.7,276.4 L572.8,275.5 L572.9,274.7 L572.9,274.0 L572.9,273.2 L572.9,272.5 L572.8,271.8 L572.7,271.1 L572.6,270.4 L572.5,269.8 L572.4,269.2 L572.2,268.6 L572.0,268.0 L571.8,267.5 L571.5,267.0 L571.2,266.6 L570.8,266.1 L570.5,265.7 L570.1,265.3 L569.8,264.9 L569.4,264.5 L569.1,264.1 L568.8,263.6 L568.5,263.1 L568.2,262.5 L567.9,262.0 L567.7,261.4 L567.4,260.9 L567.2,260.3 L566.9,259.7 L566.7,259.2 L566.5,258.6 L566.4,258.0 L566.3,257.8 L566.2,258.2 L566.2,258.9 L566.2,259.7 L566.2,260.3 L566.2,260.5 L566.3,260.0 L566.3,258.6 L566.3,255.9 L566.3,251.9 L566.3,245.8 L566.3,237.7 L566.2,228.1 L566.2,217.5 L566.2,206.3 L566.2,195.2 L566.2,184.5 L566.2,174.8 L566.2,166.6 L566.3,160.4 L566.4,156.1 L566.6,153.2 L566.8,151.5 L567.1,150.6 L567.3,150.4 L567.6,150.6 L567.8,151.0 L568.0,151.4 L568.1,151.4 L568.2,150.9 L568.2,150.1 L568.1,149.4 L568.0,148.7 L567.8,148.0 L567.7,147.4 L567.5,146.7 L567.3,146.0 L567.1,145.3 L566.9,144.5 L566.8,143.7 L566.7,142.7 L566.6,141.6 L566.5,140.4 L566.4,139.2 L566.3,137.9 L566.2,136.7 L566.2,135.6 L566.1,134.6 L566.0,133.7 L566.0,133.1 L566.0,133.1 L566.0,133.7 L565.9,134.6 L565.8,135.6 L565.8,136.7 L565.7,137.9 L565.6,139.2 L565.5,140.4 L565.4,141.6 L565.3,142.7 L565.2,143.7 L565.1,144.5 L564.9,145.3 L564.7,146.0 L564.5,146.7 L564.3,147.4 L564.2,148.0 L564.0,148.7 L563.9,149.4 L563.8,150.1 L563.8,150.9 L563.9,151.4 L564.0,151.4 L564.2,151.0 L564.4,150.6 L564.7,150.4 L564.9,150.6 L565.2,151.5 L565.4,153.2 L565.6,156.1 L565.7,160.4 L565.8,166.6 L565.8,174.8 L565.8,184.5 L565.8,195.2 L565.8,206.3 L565.8,217.5 L565.8,228.1 L565.7,237.7 L565.7,245.8 L565.7,251.9 L565.7,255.9 L565.7,258.6 L565.7,260.0 L565.8,260.5 L565.8,260.3 L565.8,259.7 L565.8,258.9 L565.8,258.2 L565.7,257.8 L565.6,258.0 L565.5,258.6 L565.3,259.2 L565.1,259.7 L564.8,260.3 L564.6,260.9 L564.3,261.4 L564.1,262.0 L563.8,262.5 L563.5,263.1 L563.2,263.6 L562.9,264.1 L562.6,264.5 L562.2,264.9 L561.9,265.3 L561.5,265.7 L561.2,266.1 L560.8,266.6 L560.5,267.0 L560.2,267.5 L560.0,268.0 L559.8,268.6 L559.6,269.2 L559.5,269.8 L559.4,270.4 L559.3,271.1 L559.2,271.8 L559.1,272.5 L559.1,273.2 L559.1,274.0 L559.1,274.7 L559.2,275.5 L559.3,276.4 L559.5,277.3 L559.7,278.2 L559.9,279.1 L560.1,280.1 L560.3,281.0 L560.4,281.9 L560.5,282.8 L560.5,283.6 L560.5,284.4 L560.4,285.2 L560.3,286.0 L560.2,286.7 L560.0,287.4 L559.8,288.1 L559.6,288.8 L559.3,289.5 L559.0,290.2 L558.6,290.9 L558.1,291.6 L557.6,292.3 L557.0,293.0 L556.4,293.7 L555.7,294.4 L555.0,295.1 L554.2,295.8 L553.5,296.4 L552.9,297.0 L552.2,297.6 L551.6,298.1 L550.9,298.5 L550.2,298.9 L549.5,299.3 L548.8,299.7 L548.2,300.0 L547.5,300.5 L547.0,300.9 L546.4,301.4 L546.0,302.0 L545.6,302.8 L545.3,303.6 L545.1,304.5 L544.9,305.4 L544.7,306.4 L544.6,307.4 L544.4,308.4 L544.3,309.3 L544.2,310.2 L544.1,311.0 L544.0,311.7 L543.8,312.4 L543.6,313.0 L543.4,313.6 L543.2,314.1 L543.1,314.7 L543.1,315.3 L543.1,315.8 L543.3,316.5 L543.5,317.1 L543.9,317.8 L544.4,318.4 L545.0,319.1 L545.7,319.8 L546.4,320.5 L547.2,321.2 L548.0,322.0 L548.8,322.7 L549.6,323.5 L550.4,324.4 L551.2,325.2 L552.0,326.1 L552.8,327.0 L553.7,328.0 L554.5,329.0 L555.4,330.0 L556.2,331.0 L557.1,331.9 L557.8,332.9 L558.6,333.8 L559.3,334.8 L560.1,335.7 L560.8,336.6 L561.5,337.5 L562.2,338.4 L562.9,339.3 L563.5,340.2 L564.1,341.1 L564.6,341.9 L565.0,342.8 L565.3,343.6 L565.6,344.4 L565.7,345.3 L565.8,346.1 L565.9,346.9 L565.9,347.7 L565.9,348.4 L566.0,349.0 L566.0,349.6 L566.0,350.0 Z" fill="#fde0e0" stroke="none"/>
<line x1="545.4" y1="308.2" x2="586.6" y2="308.2" stroke="#222" stroke-width="1.2" stroke-dasharray="4,3"/>
<line x1="546.0" y1="319.3" x2="586.0" y2="319.3" stroke="#222" stroke-width="1.2" stroke-dasharray="1.5,2.5"/>
<line x1="549.8" y1="299.8" x2="582.2" y2="299.8" stroke="#222" stroke-width="1.2" stroke-dasharray="1.5,2.5"/>
<path d="M566.0,350.0 L566.0,349.6 L566.0,349.0 L566.1,348.4 L566.1,347.7 L566.1,346.9 L566.2,346.1 L566.3,345.3 L566.4,344.4 L566.7,343.6 L567.0,342.8 L567.4,341.9 L567.9,341.1 L568.5,340.2 L569.1,339.3 L569.8,338.4 L570.5,337.5 L571.2,336.6 L571.9,335.7 L572.7,334.8 L573.4,333.8 L574.2,332.9 L574.9,331.9 L575.8,331.0 L576.6,330.0 L577.5,329.0 L578.3,328.0 L579.2,327.0 L580.0,326.1 L580.8,325.2 L581.6,324.4 L582.4,323.5 L583.2,322.7 L584.0,322.0 L584.8,321.2 L585.6,320.5 L586.3,319.8 L587.0,319.1 L587.6,318.4 L588.1,317.8 L588.5,317.1 L588.7,316.5 L588.9,315.8 L588.9,315.3 L588.9,314.7 L588.8,314.1 L588.6,313.6 L588.4,313.0 L588.2,312.4 L588.0,311.7 L587.9,311.0 L587.8,310.2 L587.7,309.3 L587.6,308.4 L587.4,307.4 L587.3,306.4 L587.1,305.4 L586.9,304.5 L586.7,303.6 L586.4,302.8 L586.0,302.0 L585.6,301.4 L585.0,300.9 L584.5,300.5 L583.8,300.0 L583.2,299.7 L582.5,299.3 L581.8,298.9 L581.1,298.5 L580.4,298.1 L579.8,297.6 L579.1,297.0 L578.5,296.4 L577.8,295.8 L577.0,295.1 L576.3,294.4 L575.6,293.7 L575.0,293.0 L574.4,292.3 L573.9,291.6 L573.4,290.9 L573.0,290.2 L572.7,289.5 L572.4,288.8 L572.2,288.1 L572.0,287.4 L571.8,286.7 L571.7,286.0 L571.6,285.2 L571.5,284.4 L571.5,283.6 L571.5,282.8 L571.6,281.9 L571.7,281.0 L571.9,280.1 L572.1,279.1 L572.3,278.2 L572.5,277.3 L572.7,276.4 L572.8,275.5 L572.9,274.7 L572.9,274.0 L572.9,273.2 L572.9,272.5 L572.8,271.8 L572.7,271.1 L572.6,270.4 L572.5,269.8 L572.4,269.2 L572.2,268.6 L572.0,268.0 L571.8,267.5 L571.5,267.0 L571.2,266.6 L570.8,266.1 L570.5,265.7 L570.1,265.3 L569.8,264.9 L569.4,264.5 L569.1,264.1 L568.8,263.6 L568.5,263.1 L568.2,262.5 L567.9,262.0 L567.7,261.4 L567.4,260.9 L567.2,260.3 L566.9,259.7 L566.7,259.2 L566.5,258.6 L566.4,258.0 L566.3,257.8 L566.2,258.2 L566.2,258.9 L566.2,259.7 L566.2,260.3 L566.2,260.5 L566.3,260.0 L566.3,258.6 L566.3,255.9 L566.3,251.9 L566.3,245.8 L566.3,237.7 L566.2,228.1 L566.2,217.5 L566.2,206.3 L566.2,195.2 L566.2,184.5 L566.2,174.8 L566.2,166.6 L566.3,160.4 L566.4,156.1 L566.6,153.2 L566.8,151.5 L567.1,150.6 L567.3,150.4 L567.6,150.6 L567.8,151.0 L568.0,151.4 L568.1,151.4 L568.2,150.9 L568.2,150.1 L568.1,149.4 L568.0,148.7 L567.8,148.0 L567.7,147.4 L567.5,146.7 L567.3,146.0 L567.1,145.3 L566.9,144.5 L566.8,143.7 L566.7,142.7 L566.6,141.6 L566.5,140.4 L566.4,139.2 L566.3,137.9 L566.2,136.7 L566.2,135.6 L566.1,134.6 L566.0,133.7 L566.0,133.1 L566.0,133.1 L566.0,133.7 L565.9,134.6 L565.8,135.6 L565.8,136.7 L565.7,137.9 L565.6,139.2 L565.5,140.4 L565.4,141.6 L565.3,142.7 L565.2,143.7 L565.1,144.5 L564.9,145.3 L564.7,146.0 L564.5,146.7 L564.3,147.4 L564.2,148.0 L564.0,148.7 L563.9,149.4 L563.8,150.1 L563.8,150.9 L563.9,151.4 L564.0,151.4 L564.2,151.0 L564.4,150.6 L564.7,150.4 L564.9,150.6 L565.2,151.5 L565.4,153.2 L565.6,156.1 L565.7,160.4 L565.8,166.6 L565.8,174.8 L565.8,184.5 L565.8,195.2 L565.8,206.3 L565.8,217.5 L565.8,228.1 L565.7,237.7 L565.7,245.8 L565.7,251.9 L565.7,255.9 L565.7,258.6 L565.7,260.0 L565.8,260.5 L565.8,260.3 L565.8,259.7 L565.8,258.9 L565.8,258.2 L565.7,257.8 L565.6,258.0 L565.5,258.6 L565.3,259.2 L565.1,259.7 L564.8,260.3 L564.6,260.9 L564.3,261.4 L564.1,262.0 L563.8,262.5 L563.5,263.1 L563.2,263.6 L562.9,264.1 L562.6,264.5 L562.2,264.9 L561.9,265.3 L561.5,265.7 L561.2,266.1 L560.8,266.6 L560.5,267.0 L560.2,267.5 L560.0,268.0 L559.8,268.6 L559.6,269.2 L559.5,269.8 L559.4,270.4 L559.3,271.1 L559.2,271.8 L559.1,272.5 L559.1,273.2 L559.1,274.0 L559.1,274.7 L559.2,275.5 L559.3,276.4 L559.5,277.3 L559.7,278.2 L559.9,279.1 L560.1,280.1 L560.3,281.0 L560.4,281.9 L560.5,282.8 L560.5,283.6 L560.5,284.4 L560.4,285.2 L560.3,286.0 L560.2,286.7 L560.0,287.4 L559.8,288.1 L559.6,288.8 L559.3,289.5 L559.0,290.2 L558.6,290.9 L558.1,291.6 L557.6,292.3 L557.0,293.0 L556.4,293.7 L555.7,294.4 L555.0,295.1 L554.2,295.8 L553.5,296.4 L552.9,297.0 L552.2,297.6 L551.6,298.1 L550.9,298.5 L550.2,298.9 L549.5,299.3 L548.8,299.7 L548.2,300.0 L547.5,300.5 L547.0,300.9 L546.4,301.4 L546.0,302.0 L545.6,302.8 L545.3,303.6 L545.1,304.5 L544.9,305.4 L544.7,306.4 L544.6,307.4 L544.4,308.4 L544.3,309.3 L544.2,310.2 L544.1,311.0 L544.0,311.7 L543.8,312.4 L543.6,313.0 L543.4,313.6 L543.2,314.1 L543.1,314.7 L543.1,315.3 L543.1,315.8 L543.3,316.5 L543.5,317.1 L543.9,317.8 L544.4,318.4 L545.0,319.1 L545.7,319.8 L546.4,320.5 L547.2,321.2 L548.0,322.0 L548.8,322.7 L549.6,323.5 L550.4,324.4 L551.2,325.2 L552.0,326.1 L552.8,327.0 L553.7,328.0 L554.5,329.0 L555.4,330.0 L556.2,331.0 L557.1,331.9 L557.8,332.9 L558.6,333.8 L559.3,334.8 L560.1,335.7 L560.8,336.6 L561.5,337.5 L562.2,338.4 L562.9,339.3 L563.5,340.2 L564.1,341.1 L564.6,341.9 L565.0,342.8 L565.3,343.6 L565.6,344.4 L565.7,345.3 L565.8,346.1 L565.9,346.9 L565.9,347.7 L565.9,348.4 L566.0,349.0 L566.0,349.6 L566.0,350.0 Z" fill="none" stroke="#ff0000" stroke-width="4.4" stroke-linejoin="round"/>
<g fill="#ff0000"><circle cx="566.0" cy="341.1" r="3.9"/><circle cx="562.3" cy="333.3" r="3.9"/><circle cx="569.7" cy="333.3" r="3.9"/><circle cx="558.6" cy="326.0" r="3.9"/><circle cx="566.0" cy="326.0" r="3.9"/><circle cx="573.4" cy="326.0" r="3.9"/><circle cx="551.2" cy="318.2" r="3.9"/><circle cx="558.6" cy="318.2" r="3.9"/><circle cx="566.0" cy="318.2" r="3.9"/><circle cx="573.4" cy="318.2" r="3.9"/><circle cx="580.8" cy="318.2" r="3.9"/><circle cx="552.7" cy="310.4" r="3.9"/><circle cx="560.1" cy="310.4" r="3.9"/><circle cx="567.5" cy="310.4" r="3.9"/><circle cx="574.9" cy="310.4" r="3.9"/><circle cx="582.3" cy="310.4" r="3.9"/><circle cx="554.9" cy="302.6" r="3.9"/><circle cx="562.3" cy="302.6" r="3.9"/><circle cx="569.7" cy="302.6" r="3.9"/><circle cx="577.1" cy="302.6" r="3.9"/><circle cx="562.3" cy="294.8" r="3.9"/><circle cx="569.7" cy="294.8" r="3.9"/><circle cx="566.0" cy="287.5" r="3.9"/><circle cx="566.0" cy="279.7" r="3.9"/><circle cx="562.3" cy="272.5" r="3.9"/><circle cx="569.7" cy="272.5" r="3.9"/><circle cx="566.0" cy="150.4" r="3.9"/></g>
<path d="M640.6,350.0 L640.9,349.7 L641.2,349.4 L641.6,349.1 L642.1,348.7 L642.6,348.2 L643.2,347.7 L643.8,347.2 L644.5,346.7 L645.3,346.1 L646.1,345.5 L647.1,344.9 L648.2,344.2 L649.4,343.5 L650.7,342.7 L652.0,341.9 L653.4,341.1 L654.7,340.3 L655.9,339.6 L657.0,338.9 L658.0,338.3 L658.9,337.7 L659.7,337.2 L660.5,336.7 L661.3,336.3 L662.0,335.9 L662.5,335.5 L663.1,335.1 L663.5,334.7 L663.7,334.3 L663.9,333.8 L663.9,333.4 L663.8,332.9 L663.5,332.5 L663.2,332.1 L662.7,331.6 L662.2,331.2 L661.6,330.7 L661.0,330.3 L660.4,329.8 L659.8,329.4 L659.1,328.9 L658.4,328.4 L657.6,327.9 L656.7,327.4 L655.8,326.9 L654.9,326.3 L654.0,325.8 L653.1,325.3 L652.3,324.8 L651.6,324.4 L650.9,323.9 L650.3,323.4 L649.6,323.0 L649.0,322.5 L648.5,322.1 L647.9,321.6 L647.4,321.2 L646.9,320.8 L646.5,320.3 L646.1,319.9 L645.7,319.5 L645.4,319.1 L645.1,318.8 L644.9,318.5 L644.7,318.2 L644.5,317.9 L644.3,317.4 L644.2,316.9 L644.0,316.2 L643.9,315.4 L643.8,314.4 L643.7,313.2 L643.6,311.9 L643.5,310.5 L643.5,308.9 L643.5,307.4 L643.4,305.9 L643.4,304.5 L643.4,303.2 L643.4,302.0 L643.4,301.0 L643.4,300.1 L643.4,299.2 L643.4,298.4 L643.4,297.7 L643.5,297.0 L643.5,296.3 L643.5,295.6 L643.6,294.9 L643.6,294.2 L643.7,293.6 L643.7,293.0 L643.8,292.4 L643.9,291.8 L644.1,291.2 L644.1,290.7 L644.2,290.1 L644.3,289.5 L644.3,288.8 L644.3,288.1 L644.2,287.3 L644.1,286.6 L644.0,285.8 L643.8,285.0 L643.6,284.1 L643.4,283.2 L643.2,282.3 L643.1,281.3 L643.0,280.3 L642.9,279.2 L642.9,278.0 L642.9,276.7 L642.9,275.3 L642.9,273.8 L643.0,272.3 L643.1,270.8 L643.2,269.3 L643.2,267.9 L643.3,266.5 L643.4,265.2 L643.5,264.0 L643.6,262.9 L643.7,261.7 L643.9,260.6 L644.0,259.6 L644.2,258.5 L644.3,257.5 L644.3,256.5 L644.3,255.6 L644.3,254.7 L644.2,253.8 L644.0,252.9 L643.8,252.1 L643.6,251.4 L643.3,250.6 L643.0,249.9 L642.7,249.2 L642.4,248.4 L642.2,247.7 L642.0,246.8 L641.8,246.0 L641.7,245.1 L641.6,244.1 L641.4,243.2 L641.3,242.2 L641.2,241.3 L641.1,240.3 L641.0,239.5 L641.0,238.7 L640.9,237.9 L640.8,237.2 L640.8,236.6 L640.7,236.0 L640.7,235.4 L640.7,234.9 L640.7,234.4 L640.6,233.9 L640.6,233.5 L640.6,233.2 L640.6,232.9 L640.6,232.9 L640.6,233.2 L640.6,233.5 L640.6,233.9 L640.5,234.4 L640.5,234.9 L640.5,235.4 L640.5,236.0 L640.4,236.6 L640.4,237.2 L640.3,237.9 L640.2,238.7 L640.2,239.5 L640.1,240.3 L640.0,241.3 L639.9,242.2 L639.8,243.2 L639.6,244.1 L639.5,245.1 L639.4,246.0 L639.2,246.8 L639.0,247.7 L638.8,248.4 L638.5,249.2 L638.2,249.9 L637.9,250.6 L637.6,251.4 L637.4,252.1 L637.2,252.9 L637.0,253.8 L636.9,254.7 L636.9,255.6 L636.9,256.5 L636.9,257.5 L637.0,258.5 L637.2,259.6 L637.3,260.6 L637.5,261.7 L637.6,262.9 L637.7,264.0 L637.8,265.2 L637.9,266.5 L638.0,267.9 L638.0,269.3 L638.1,270.8 L638.2,272.3 L638.3,273.8 L638.3,275.3 L638.3,276.7 L638.3,278.0 L638.3,279.2 L638.2,280.3 L638.1,281.3 L638.0,282.3 L637.8,283.2 L637.6,284.1 L637.4,285.0 L637.2,285.8 L637.1,286.6 L637.0,287.3 L636.9,288.1 L636.9,288.8 L636.9,289.5 L637.0,290.1 L637.1,290.7 L637.1,291.2 L637.3,291.8 L637.4,292.4 L637.5,293.0 L637.5,293.6 L637.6,294.2 L637.6,294.9 L637.7,295.6 L637.7,296.3 L637.7,297.0 L637.8,297.7 L637.8,298.4 L637.8,299.2 L637.8,300.1 L637.8,301.0 L637.8,302.0 L637.8,303.2 L637.8,304.5 L637.8,305.9 L637.7,307.4 L637.7,308.9 L637.7,310.5 L637.6,311.9 L637.5,313.2 L637.4,314.4 L637.3,315.4 L637.2,316.2 L637.0,316.9 L636.9,317.4 L636.7,317.9 L636.5,318.2 L636.3,318.5 L636.1,318.8 L635.8,319.1 L635.5,319.5 L635.1,319.9 L634.7,320.3 L634.3,320.8 L633.8,321.2 L633.3,321.6 L632.7,322.1 L632.2,322.5 L631.6,323.0 L630.9,323.4 L630.3,323.9 L629.6,324.4 L628.9,324.8 L628.1,325.3 L627.2,325.8 L626.3,326.3 L625.4,326.9 L624.5,327.4 L623.6,327.9 L622.8,328.4 L622.1,328.9 L621.4,329.4 L620.8,329.8 L620.2,330.3 L619.6,330.7 L619.0,331.2 L618.5,331.6 L618.0,332.1 L617.7,332.5 L617.4,332.9 L617.3,333.4 L617.3,333.8 L617.5,334.3 L617.7,334.7 L618.1,335.1 L618.7,335.5 L619.2,335.9 L619.9,336.3 L620.7,336.7 L621.5,337.2 L622.3,337.7 L623.2,338.3 L624.2,338.9 L625.3,339.6 L626.5,340.3 L627.8,341.1 L629.2,341.9 L630.5,342.7 L631.8,343.5 L633.0,344.2 L634.1,344.9 L635.1,345.5 L635.9,346.1 L636.7,346.7 L637.4,347.2 L638.0,347.7 L638.6,348.2 L639.1,348.7 L639.6,349.1 L640.0,349.4 L640.3,349.7 L640.6,350.0 Z" fill="#f6c6ea" stroke="none"/>
<path d="M640.6,350.0 L640.9,349.7 L641.2,349.4 L641.6,349.1 L642.1,348.7 L642.6,348.2 L643.2,347.7 L643.8,347.2 L644.5,346.7 L645.3,346.1 L646.1,345.5 L647.1,344.9 L648.2,344.2 L649.4,343.5 L650.7,342.7 L652.0,341.9 L653.4,341.1 L654.7,340.3 L655.9,339.6 L657.0,338.9 L658.0,338.3 L658.9,337.7 L659.7,337.2 L660.5,336.7 L661.3,336.3 L662.0,335.9 L662.5,335.5 L663.1,335.1 L663.5,334.7 L663.7,334.3 L663.9,333.8 L663.9,333.4 L663.8,332.9 L663.5,332.5 L663.2,332.1 L662.7,331.6 L662.2,331.2 L661.6,330.7 L661.0,330.3 L660.4,329.8 L659.8,329.4 L659.1,328.9 L658.4,328.4 L657.6,327.9 L656.7,327.4 L655.8,326.9 L654.9,326.3 L654.0,325.8 L653.1,325.3 L652.3,324.8 L651.6,324.4 L650.9,323.9 L650.3,323.4 L649.6,323.0 L649.0,322.5 L648.5,322.1 L647.9,321.6 L647.4,321.2 L646.9,320.8 L646.5,320.3 L646.1,319.9 L645.7,319.5 L645.4,319.1 L645.1,318.8 L644.9,318.5 L644.7,318.2 L644.5,317.9 L644.3,317.4 L644.2,316.9 L644.0,316.2 L643.9,315.4 L643.8,314.4 L643.7,313.2 L643.6,311.9 L643.5,310.5 L643.5,308.9 L643.5,307.4 L643.4,305.9 L643.4,304.5 L643.4,303.2 L643.4,302.0 L643.4,301.0 L643.4,300.1 L643.4,299.2 L643.4,298.4 L643.4,297.7 L643.5,297.0 L643.5,296.3 L643.5,295.6 L643.6,294.9 L643.6,294.2 L643.7,293.6 L643.7,293.0 L643.8,292.4 L643.9,291.8 L644.1,291.2 L644.1,290.7 L644.2,290.1 L644.3,289.5 L644.3,288.8 L644.3,288.1 L644.2,287.3 L644.1,286.6 L644.0,285.8 L643.8,285.0 L643.6,284.1 L643.4,283.2 L643.2,282.3 L643.1,281.3 L643.0,280.3 L642.9,279.2 L642.9,278.0 L642.9,276.7 L642.9,275.3 L642.9,273.8 L643.0,272.3 L643.1,270.8 L643.2,269.3 L643.2,267.9 L643.3,266.5 L643.4,265.2 L643.5,264.0 L643.6,262.9 L643.7,261.7 L643.9,260.6 L644.0,259.6 L644.2,258.5 L644.3,257.5 L644.3,256.5 L644.3,255.6 L644.3,254.7 L644.2,253.8 L644.0,252.9 L643.8,252.1 L643.6,251.4 L643.3,250.6 L643.0,249.9 L642.7,249.2 L642.4,248.4 L642.2,247.7 L642.0,246.8 L641.8,246.0 L641.7,245.1 L641.6,244.1 L641.4,243.2 L641.3,242.2 L641.2,241.3 L641.1,240.3 L641.0,239.5 L641.0,238.7 L640.9,237.9 L640.8,237.2 L640.8,236.6 L640.7,236.0 L640.7,235.4 L640.7,234.9 L640.7,234.4 L640.6,233.9 L640.6,233.5 L640.6,233.2 L640.6,232.9 L640.6,232.9 L640.6,233.2 L640.6,233.5 L640.6,233.9 L640.5,234.4 L640.5,234.9 L640.5,235.4 L640.5,236.0 L640.4,236.6 L640.4,237.2 L640.3,237.9 L640.2,238.7 L640.2,239.5 L640.1,240.3 L640.0,241.3 L639.9,242.2 L639.8,243.2 L639.6,244.1 L639.5,245.1 L639.4,246.0 L639.2,246.8 L639.0,247.7 L638.8,248.4 L638.5,249.2 L638.2,249.9 L637.9,250.6 L637.6,251.4 L637.4,252.1 L637.2,252.9 L637.0,253.8 L636.9,254.7 L636.9,255.6 L636.9,256.5 L636.9,257.5 L637.0,258.5 L637.2,259.6 L637.3,260.6 L637.5,261.7 L637.6,262.9 L637.7,264.0 L637.8,265.2 L637.9,266.5 L638.0,267.9 L638.0,269.3 L638.1,270.8 L638.2,272.3 L638.3,273.8 L638.3,275.3 L638.3,276.7 L638.3,278.0 L638.3,279.2 L638.2,280.3 L638.1,281.3 L638.0,282.3 L637.8,283.2 L637.6,284.1 L637.4,285.0 L637.2,285.8 L637.1,286.6 L637.0,287.3 L636.9,288.1 L636.9,288.8 L636.9,289.5 L637.0,290.1 L637.1,290.7 L637.1,291.2 L637.3,291.8 L637.4,292.4 L637.5,293.0 L637.5,293.6 L637.6,294.2 L637.6,294.9 L637.7,295.6 L637.7,296.3 L637.7,297.0 L637.8,297.7 L637.8,298.4 L637.8,299.2 L637.8,300.1 L637.8,301.0 L637.8,302.0 L637.8,303.2 L637.8,304.5 L637.8,305.9 L637.7,307.4 L637.7,308.9 L637.7,310.5 L637.6,311.9 L637.5,313.2 L637.4,314.4 L637.3,315.4 L637.2,316.2 L637.0,316.9 L636.9,317.4 L636.7,317.9 L636.5,318.2 L636.3,318.5 L636.1,318.8 L635.8,319.1 L635.5,319.5 L635.1,319.9 L634.7,320.3 L634.3,320.8 L633.8,321.2 L633.3,321.6 L632.7,322.1 L632.2,322.5 L631.6,323.0 L630.9,323.4 L630.3,323.9 L629.6,324.4 L628.9,324.8 L628.1,325.3 L627.2,325.8 L626.3,326.3 L625.4,326.9 L624.5,327.4 L623.6,327.9 L622.8,328.4 L622.1,328.9 L621.4,329.4 L620.8,329.8 L620.2,330.3 L619.6,330.7 L619.0,331.2 L618.5,331.6 L618.0,332.1 L617.7,332.5 L617.4,332.9 L617.3,333.4 L617.3,333.8 L617.5,334.3 L617.7,334.7 L618.1,335.1 L618.7,335.5 L619.2,335.9 L619.9,336.3 L620.7,336.7 L621.5,337.2 L622.3,337.7 L623.2,338.3 L624.2,338.9 L625.3,339.6 L626.5,340.3 L627.8,341.1 L629.2,341.9 L630.5,342.7 L631.8,343.5 L633.0,344.2 L634.1,344.9 L635.1,345.5 L635.9,346.1 L636.7,346.7 L637.4,347.2 L638.0,347.7 L638.6,348.2 L639.1,348.7 L639.6,349.1 L640.0,349.4 L640.3,349.7 L640.6,350.0 Z" fill="none" stroke="#cd0067" stroke-width="4.4" stroke-linejoin="round"/>
<g fill="#cd0067"><circle cx="633.2" cy="344.4" r="3.9"/><circle cx="640.6" cy="344.4" r="3.9"/><circle cx="648.0" cy="344.4" r="3.9"/><circle cx="626.8" cy="337.7" r="3.9"/><circle cx="634.2" cy="337.7" r="3.9"/><circle cx="641.6" cy="337.7" r="3.9"/><circle cx="649.0" cy="337.7" r="3.9"/><circle cx="656.4" cy="337.7" r="3.9"/><circle cx="625.8" cy="331.0" r="3.9"/><circle cx="633.2" cy="331.0" r="3.9"/><circle cx="640.6" cy="331.0" r="3.9"/><circle cx="648.0" cy="331.0" r="3.9"/><circle cx="655.4" cy="331.0" r="3.9"/><circle cx="636.9" cy="324.4" r="3.9"/><circle cx="644.3" cy="324.4" r="3.9"/><circle cx="640.6" cy="313.8" r="3.9"/><circle cx="640.6" cy="299.8" r="3.9"/><circle cx="640.6" cy="288.7" r="3.9"/><circle cx="640.6" cy="277.5" r="3.9"/><circle cx="640.6" cy="263.6" r="3.9"/><circle cx="640.6" cy="254.1" r="3.9"/></g>
<text x="953.5" y="35.5" font-size="21.5" text-anchor="middle" fill="#000" letter-spacing="0.2">Lymphocyte count</text>
<text x="795.0" y="209.0" font-size="23" font-weight="bold" text-anchor="middle" fill="#000" transform="rotate(-90 795.0 209.0)">Lymphocytes (G/L)</text>
<path d="M860.5,265.1h0M869.8,265.1h0M879.2,265.1h0M888.5,265.1h0M897.8,265.1h0M907.2,265.1h0M916.5,265.1h0M925.8,265.1h0M935.1,265.1h0M944.5,265.1h0M953.8,265.1h0M963.1,265.1h0M972.5,265.1h0M981.8,265.1h0M991.1,265.1h0M1000.5,265.1h0M1009.8,265.1h0M1019.1,265.1h0M1028.4,265.1h0M1037.8,265.1h0M1047.1,265.1h0" stroke="#000" stroke-width="2.6" stroke-linecap="round"/>
<path d="M860.5,331.6h0M869.8,331.6h0M879.2,331.6h0M888.5,331.6h0M897.8,331.6h0M907.2,331.6h0M916.5,331.6h0M925.8,331.6h0M935.1,331.6h0M944.5,331.6h0M953.8,331.6h0M963.1,331.6h0M972.5,331.6h0M981.8,331.6h0M991.1,331.6h0M1000.5,331.6h0M1009.8,331.6h0M1019.1,331.6h0M1028.4,331.6h0M1037.8,331.6h0M1047.1,331.6h0" stroke="#000" stroke-width="2.6" stroke-linecap="round"/>
<line x1="851.5" y1="69.7" x2="851.5" y2="349.7" stroke="#000" stroke-width="3.2"/>
<line x1="839.0" y1="348.2" x2="853.0" y2="348.2" stroke="#000" stroke-width="3.2"/>
<text x="835.2" y="356.9" font-size="23" font-weight="bold" text-anchor="end" fill="#000">0</text>
<line x1="839.0" y1="278.9" x2="853.0" y2="278.9" stroke="#000" stroke-width="3.2"/>
<text x="835.2" y="287.6" font-size="23" font-weight="bold" text-anchor="end" fill="#000">5</text>
<line x1="839.0" y1="209.7" x2="853.0" y2="209.7" stroke="#000" stroke-width="3.2"/>
<text x="835.2" y="218.4" font-size="23" font-weight="bold" text-anchor="end" fill="#000">10</text>
<line x1="839.0" y1="140.4" x2="853.0" y2="140.4" stroke="#000" stroke-width="3.2"/>
<text x="835.2" y="149.1" font-size="23" font-weight="bold" text-anchor="end" fill="#000">15</text>
<line x1="839.0" y1="71.2" x2="853.0" y2="71.2" stroke="#000" stroke-width="3.2"/>
<text x="835.2" y="79.9" font-size="23" font-weight="bold" text-anchor="end" fill="#000">20</text>
<line x1="839.0" y1="331.6" x2="853.0" y2="331.6" stroke="#000" stroke-width="3.2"/>
<line x1="881.0" y1="378.0" x2="1056.8" y2="378.0" stroke="#000" stroke-width="3.2"/>
<line x1="930.8" y1="378.0" x2="930.8" y2="390.5" stroke="#000" stroke-width="3.2"/>
<line x1="1004.8" y1="378.0" x2="1004.8" y2="390.5" stroke="#000" stroke-width="3.2"/>
<text x="967.6" y="423.0" font-size="21.5" text-anchor="middle" fill="#000">MIS-C</text>
<text x="918.8" y="445.0" font-size="16.5" font-style="italic" text-anchor="middle" fill="#000">acute</text>
<text x="1000.5" y="445.0" font-size="16.5" font-style="italic" text-anchor="middle" fill="#000" letter-spacing="0.2">remission</text>
<text x="965.4" y="99.0" font-size="40" font-weight="bold" text-anchor="middle" fill="#000" letter-spacing="2.4">***</text>
<line x1="936.5" y1="99.0" x2="997.2" y2="99.0" stroke="#444" stroke-width="1.6"/>
<path d="M949.9,347.9 L950.1,347.7 L950.3,347.4 L950.6,347.1 L951.0,346.7 L951.3,346.3 L951.7,345.9 L952.0,345.5 L952.3,345.0 L952.6,344.5 L952.9,344.0 L953.1,343.6 L953.4,343.1 L953.6,342.5 L953.8,342.0 L954.1,341.5 L954.2,340.9 L954.4,340.3 L954.4,339.7 L954.5,339.1 L954.4,338.5 L954.3,337.9 L954.0,337.2 L953.8,336.5 L953.4,335.8 L953.1,335.0 L952.6,334.3 L952.2,333.6 L951.8,332.9 L951.3,332.2 L950.9,331.6 L950.5,331.0 L950.0,330.4 L949.5,329.8 L949.0,329.3 L948.5,328.7 L948.0,328.2 L947.5,327.7 L947.0,327.1 L946.4,326.6 L945.9,326.0 L945.4,325.5 L944.8,324.9 L944.3,324.3 L943.7,323.8 L943.1,323.2 L942.6,322.6 L942.0,322.1 L941.5,321.5 L940.9,321.0 L940.4,320.5 L939.9,320.0 L939.3,319.6 L938.7,319.2 L938.1,318.8 L937.5,318.4 L937.0,318.0 L936.5,317.6 L936.0,317.2 L935.7,316.8 L935.4,316.3 L935.3,315.9 L935.2,315.4 L935.3,314.8 L935.4,314.3 L935.6,313.7 L935.8,313.2 L936.0,312.6 L936.1,312.1 L936.1,311.6 L936.0,311.1 L935.8,310.6 L935.5,310.2 L935.1,309.7 L934.7,309.3 L934.3,308.9 L933.8,308.5 L933.4,308.0 L933.0,307.6 L932.7,307.1 L932.4,306.6 L932.2,306.3 L932.1,306.0 L931.9,305.9 L931.9,305.7 L931.8,305.5 L931.8,305.2 L931.7,304.6 L931.7,303.8 L931.7,302.7 L931.6,301.1 L931.6,299.0 L931.6,296.2 L931.5,293.0 L931.5,289.6 L931.5,285.9 L931.5,282.3 L931.5,278.8 L931.5,275.6 L931.6,272.8 L931.6,270.6 L931.8,269.0 L932.0,267.8 L932.2,266.9 L932.5,266.2 L932.8,265.8 L933.0,265.4 L933.3,265.2 L933.5,264.9 L933.6,264.6 L933.7,264.1 L933.7,263.6 L933.6,263.1 L933.5,262.6 L933.4,262.2 L933.2,261.7 L933.1,261.3 L932.9,260.9 L932.7,260.5 L932.5,260.0 L932.4,259.6 L932.3,259.1 L932.2,258.5 L932.0,258.0 L931.9,257.4 L931.8,256.9 L931.7,256.3 L931.6,255.8 L931.5,255.4 L931.5,255.0 L931.4,254.7 L931.4,254.7 L931.3,255.0 L931.3,255.4 L931.2,255.8 L931.1,256.3 L931.0,256.9 L930.9,257.4 L930.8,258.0 L930.6,258.5 L930.5,259.1 L930.4,259.6 L930.3,260.0 L930.1,260.5 L929.9,260.9 L929.7,261.3 L929.6,261.7 L929.4,262.2 L929.3,262.6 L929.2,263.1 L929.1,263.6 L929.1,264.1 L929.2,264.6 L929.3,264.9 L929.5,265.2 L929.8,265.4 L930.0,265.8 L930.3,266.2 L930.6,266.9 L930.8,267.8 L931.0,269.0 L931.1,270.6 L931.2,272.8 L931.3,275.6 L931.3,278.8 L931.3,282.3 L931.3,285.9 L931.3,289.6 L931.3,293.0 L931.2,296.2 L931.2,299.0 L931.1,301.1 L931.1,302.7 L931.1,303.8 L931.1,304.6 L931.0,305.2 L931.0,305.5 L930.9,305.7 L930.9,305.9 L930.7,306.0 L930.6,306.3 L930.4,306.6 L930.1,307.1 L929.8,307.6 L929.4,308.0 L929.0,308.5 L928.5,308.9 L928.1,309.3 L927.7,309.7 L927.3,310.2 L927.0,310.6 L926.8,311.1 L926.7,311.6 L926.7,312.1 L926.8,312.6 L927.0,313.2 L927.2,313.7 L927.4,314.3 L927.5,314.8 L927.6,315.4 L927.5,315.9 L927.4,316.3 L927.1,316.8 L926.8,317.2 L926.3,317.6 L925.8,318.0 L925.3,318.4 L924.7,318.8 L924.1,319.2 L923.5,319.6 L922.9,320.0 L922.4,320.5 L921.9,321.0 L921.3,321.5 L920.8,322.1 L920.2,322.6 L919.6,323.2 L919.1,323.8 L918.5,324.3 L918.0,324.9 L917.4,325.5 L916.9,326.0 L916.4,326.6 L915.8,327.1 L915.3,327.7 L914.8,328.2 L914.3,328.7 L913.8,329.3 L913.3,329.8 L912.8,330.4 L912.3,331.0 L911.9,331.6 L911.5,332.2 L911.0,332.9 L910.6,333.6 L910.2,334.3 L909.7,335.0 L909.4,335.8 L909.0,336.5 L908.8,337.2 L908.5,337.9 L908.4,338.5 L908.3,339.1 L908.4,339.7 L908.4,340.3 L908.6,340.9 L908.7,341.5 L909.0,342.0 L909.2,342.5 L909.4,343.1 L909.7,343.6 L909.9,344.0 L910.2,344.5 L910.5,345.0 L910.8,345.5 L911.1,345.9 L911.5,346.3 L911.8,346.7 L912.2,347.1 L912.5,347.4 L912.7,347.7 L912.9,347.9 Z" fill="#fde0e0" stroke="none"/>
<line x1="910.4" y1="335.7" x2="952.4" y2="335.7" stroke="#222" stroke-width="1.2" stroke-dasharray="4,3"/>
<path d="M949.9,347.9 L950.1,347.7 L950.3,347.4 L950.6,347.1 L951.0,346.7 L951.3,346.3 L951.7,345.9 L952.0,345.5 L952.3,345.0 L952.6,344.5 L952.9,344.0 L953.1,343.6 L953.4,343.1 L953.6,342.5 L953.8,342.0 L954.1,341.5 L954.2,340.9 L954.4,340.3 L954.4,339.7 L954.5,339.1 L954.4,338.5 L954.3,337.9 L954.0,337.2 L953.8,336.5 L953.4,335.8 L953.1,335.0 L952.6,334.3 L952.2,333.6 L951.8,332.9 L951.3,332.2 L950.9,331.6 L950.5,331.0 L950.0,330.4 L949.5,329.8 L949.0,329.3 L948.5,328.7 L948.0,328.2 L947.5,327.7 L947.0,327.1 L946.4,326.6 L945.9,326.0 L945.4,325.5 L944.8,324.9 L944.3,324.3 L943.7,323.8 L943.1,323.2 L942.6,322.6 L942.0,322.1 L941.5,321.5 L940.9,321.0 L940.4,320.5 L939.9,320.0 L939.3,319.6 L938.7,319.2 L938.1,318.8 L937.5,318.4 L937.0,318.0 L936.5,317.6 L936.0,317.2 L935.7,316.8 L935.4,316.3 L935.3,315.9 L935.2,315.4 L935.3,314.8 L935.4,314.3 L935.6,313.7 L935.8,313.2 L936.0,312.6 L936.1,312.1 L936.1,311.6 L936.0,311.1 L935.8,310.6 L935.5,310.2 L935.1,309.7 L934.7,309.3 L934.3,308.9 L933.8,308.5 L933.4,308.0 L933.0,307.6 L932.7,307.1 L932.4,306.6 L932.2,306.3 L932.1,306.0 L931.9,305.9 L931.9,305.7 L931.8,305.5 L931.8,305.2 L931.7,304.6 L931.7,303.8 L931.7,302.7 L931.6,301.1 L931.6,299.0 L931.6,296.2 L931.5,293.0 L931.5,289.6 L931.5,285.9 L931.5,282.3 L931.5,278.8 L931.5,275.6 L931.6,272.8 L931.6,270.6 L931.8,269.0 L932.0,267.8 L932.2,266.9 L932.5,266.2 L932.8,265.8 L933.0,265.4 L933.3,265.2 L933.5,264.9 L933.6,264.6 L933.7,264.1 L933.7,263.6 L933.6,263.1 L933.5,262.6 L933.4,262.2 L933.2,261.7 L933.1,261.3 L932.9,260.9 L932.7,260.5 L932.5,260.0 L932.4,259.6 L932.3,259.1 L932.2,258.5 L932.0,258.0 L931.9,257.4 L931.8,256.9 L931.7,256.3 L931.6,255.8 L931.5,255.4 L931.5,255.0 L931.4,254.7 L931.4,254.7 L931.3,255.0 L931.3,255.4 L931.2,255.8 L931.1,256.3 L931.0,256.9 L930.9,257.4 L930.8,258.0 L930.6,258.5 L930.5,259.1 L930.4,259.6 L930.3,260.0 L930.1,260.5 L929.9,260.9 L929.7,261.3 L929.6,261.7 L929.4,262.2 L929.3,262.6 L929.2,263.1 L929.1,263.6 L929.1,264.1 L929.2,264.6 L929.3,264.9 L929.5,265.2 L929.8,265.4 L930.0,265.8 L930.3,266.2 L930.6,266.9 L930.8,267.8 L931.0,269.0 L931.1,270.6 L931.2,272.8 L931.3,275.6 L931.3,278.8 L931.3,282.3 L931.3,285.9 L931.3,289.6 L931.3,293.0 L931.2,296.2 L931.2,299.0 L931.1,301.1 L931.1,302.7 L931.1,303.8 L931.1,304.6 L931.0,305.2 L931.0,305.5 L930.9,305.7 L930.9,305.9 L930.7,306.0 L930.6,306.3 L930.4,306.6 L930.1,307.1 L929.8,307.6 L929.4,308.0 L929.0,308.5 L928.5,308.9 L928.1,309.3 L927.7,309.7 L927.3,310.2 L927.0,310.6 L926.8,311.1 L926.7,311.6 L926.7,312.1 L926.8,312.6 L927.0,313.2 L927.2,313.7 L927.4,314.3 L927.5,314.8 L927.6,315.4 L927.5,315.9 L927.4,316.3 L927.1,316.8 L926.8,317.2 L926.3,317.6 L925.8,318.0 L925.3,318.4 L924.7,318.8 L924.1,319.2 L923.5,319.6 L922.9,320.0 L922.4,320.5 L921.9,321.0 L921.3,321.5 L920.8,322.1 L920.2,322.6 L919.6,323.2 L919.1,323.8 L918.5,324.3 L918.0,324.9 L917.4,325.5 L916.9,326.0 L916.4,326.6 L915.8,327.1 L915.3,327.7 L914.8,328.2 L914.3,328.7 L913.8,329.3 L913.3,329.8 L912.8,330.4 L912.3,331.0 L911.9,331.6 L911.5,332.2 L911.0,332.9 L910.6,333.6 L910.2,334.3 L909.7,335.0 L909.4,335.8 L909.0,336.5 L908.8,337.2 L908.5,337.9 L908.4,338.5 L908.3,339.1 L908.4,339.7 L908.4,340.3 L908.6,340.9 L908.7,341.5 L909.0,342.0 L909.2,342.5 L909.4,343.1 L909.7,343.6 L909.9,344.0 L910.2,344.5 L910.5,345.0 L910.8,345.5 L911.1,345.9 L911.5,346.3 L911.8,346.7 L912.2,347.1 L912.5,347.4 L912.7,347.7 L912.9,347.9 Z" fill="none" stroke="#ff0000" stroke-width="4.4" stroke-linejoin="round"/>
<g fill="#ff0000"><circle cx="913.4" cy="346.1" r="3.9"/><circle cx="920.6" cy="346.1" r="3.9"/><circle cx="927.8" cy="346.1" r="3.9"/><circle cx="935.0" cy="346.1" r="3.9"/><circle cx="942.2" cy="346.1" r="3.9"/><circle cx="949.4" cy="346.1" r="3.9"/><circle cx="908.8" cy="340.6" r="3.9"/><circle cx="916.0" cy="340.6" r="3.9"/><circle cx="923.2" cy="340.6" r="3.9"/><circle cx="930.4" cy="340.6" r="3.9"/><circle cx="937.6" cy="340.6" r="3.9"/><circle cx="944.8" cy="340.6" r="3.9"/><circle cx="952.0" cy="340.6" r="3.9"/><circle cx="913.4" cy="335.0" r="3.9"/><circle cx="920.6" cy="335.0" r="3.9"/><circle cx="927.8" cy="335.0" r="3.9"/><circle cx="935.0" cy="335.0" r="3.9"/><circle cx="942.2" cy="335.0" r="3.9"/><circle cx="949.4" cy="335.0" r="3.9"/><circle cx="917.0" cy="329.5" r="3.9"/><circle cx="924.2" cy="329.5" r="3.9"/><circle cx="931.4" cy="329.5" r="3.9"/><circle cx="938.6" cy="329.5" r="3.9"/><circle cx="945.8" cy="329.5" r="3.9"/><circle cx="924.2" cy="324.0" r="3.9"/><circle cx="931.4" cy="324.0" r="3.9"/><circle cx="938.6" cy="324.0" r="3.9"/><circle cx="931.4" cy="311.1" r="3.9"/><circle cx="931.4" cy="264.1" r="3.9"/></g>
<path d="M1005.6,348.2 L1005.6,347.8 L1005.7,347.2 L1005.7,346.6 L1005.7,345.8 L1005.8,345.0 L1005.9,344.2 L1005.9,343.4 L1006.0,342.6 L1006.0,341.9 L1006.1,341.3 L1006.1,340.7 L1006.1,340.2 L1006.1,339.7 L1006.1,339.3 L1006.1,338.8 L1006.1,338.4 L1006.2,338.0 L1006.3,337.6 L1006.6,337.1 L1006.9,336.7 L1007.4,336.3 L1008.0,335.8 L1008.6,335.4 L1009.4,335.0 L1010.2,334.5 L1011.0,334.1 L1011.9,333.7 L1012.7,333.3 L1013.4,332.8 L1014.1,332.4 L1014.7,332.0 L1015.3,331.6 L1015.9,331.1 L1016.5,330.7 L1017.1,330.3 L1017.6,329.8 L1018.1,329.4 L1018.6,329.0 L1019.1,328.5 L1019.6,328.1 L1020.1,327.7 L1020.5,327.3 L1020.9,327.0 L1021.3,326.7 L1021.7,326.3 L1022.0,325.9 L1022.4,325.5 L1022.7,325.1 L1023.1,324.6 L1023.4,324.0 L1023.7,323.3 L1024.1,322.5 L1024.4,321.7 L1024.7,320.8 L1025.0,319.9 L1025.3,319.0 L1025.5,318.1 L1025.8,317.2 L1025.9,316.3 L1026.1,315.4 L1026.2,314.5 L1026.4,313.7 L1026.5,312.8 L1026.6,311.9 L1026.6,311.1 L1026.7,310.2 L1026.6,309.4 L1026.5,308.5 L1026.3,307.6 L1026.0,306.8 L1025.6,305.9 L1025.0,305.1 L1024.4,304.2 L1023.7,303.4 L1022.9,302.5 L1022.1,301.7 L1021.4,300.9 L1020.6,300.0 L1019.9,299.2 L1019.2,298.3 L1018.6,297.5 L1018.0,296.7 L1017.4,295.9 L1016.8,295.0 L1016.2,294.2 L1015.7,293.4 L1015.2,292.6 L1014.7,291.7 L1014.2,290.9 L1013.7,290.0 L1013.3,289.2 L1012.8,288.3 L1012.4,287.4 L1012.1,286.5 L1011.7,285.6 L1011.3,284.7 L1011.0,283.8 L1010.7,282.9 L1010.5,282.0 L1010.2,281.2 L1010.0,280.3 L1009.7,279.5 L1009.6,278.6 L1009.4,277.8 L1009.2,276.9 L1009.1,276.1 L1009.0,275.2 L1008.9,274.4 L1008.9,273.6 L1008.9,272.7 L1009.0,271.9 L1009.1,271.0 L1009.3,270.1 L1009.5,269.3 L1009.7,268.4 L1009.9,267.6 L1010.2,266.7 L1010.4,265.8 L1010.6,265.0 L1010.7,264.1 L1010.8,263.3 L1011.0,262.4 L1011.1,261.6 L1011.2,260.7 L1011.3,259.9 L1011.4,259.1 L1011.4,258.2 L1011.4,257.4 L1011.3,256.5 L1011.1,255.7 L1010.8,254.8 L1010.4,254.0 L1009.9,253.1 L1009.4,252.2 L1008.8,251.4 L1008.2,250.5 L1007.7,249.7 L1007.2,248.8 L1006.7,247.9 L1006.4,247.1 L1006.2,246.3 L1006.0,245.7 L1005.9,245.1 L1005.9,244.6 L1005.9,244.0 L1005.9,243.4 L1005.9,242.6 L1005.9,241.6 L1005.9,240.3 L1005.9,238.8 L1005.9,236.8 L1005.8,234.4 L1005.8,231.7 L1005.8,228.8 L1005.8,225.7 L1005.8,222.7 L1005.8,219.7 L1005.8,217.0 L1005.8,214.5 L1005.9,212.5 L1006.0,210.8 L1006.2,209.5 L1006.3,208.3 L1006.5,207.4 L1006.7,206.6 L1006.9,205.9 L1007.1,205.2 L1007.3,204.4 L1007.4,203.7 L1007.4,202.8 L1007.4,202.0 L1007.3,201.6 L1007.1,201.4 L1006.9,201.3 L1006.7,201.0 L1006.5,200.5 L1006.3,199.7 L1006.2,198.2 L1006.0,196.1 L1005.9,193.1 L1005.8,188.9 L1005.8,183.6 L1005.7,177.4 L1005.7,170.5 L1005.7,163.4 L1005.7,156.3 L1005.7,149.4 L1005.8,143.1 L1005.8,137.7 L1005.9,133.5 L1006.0,130.4 L1006.2,128.2 L1006.4,126.6 L1006.7,125.5 L1006.9,124.9 L1007.1,124.5 L1007.4,124.1 L1007.5,123.8 L1007.6,123.3 L1007.7,122.4 L1007.7,121.4 L1007.6,120.5 L1007.4,119.6 L1007.3,118.7 L1007.0,117.8 L1006.8,116.9 L1006.6,115.9 L1006.4,114.9 L1006.2,113.9 L1006.1,112.8 L1006.0,111.5 L1005.9,110.0 L1005.9,108.5 L1005.8,106.8 L1005.8,105.2 L1005.7,103.6 L1005.7,102.2 L1005.7,100.9 L1005.6,99.7 L1005.6,98.9 L1005.6,98.9 L1005.6,99.7 L1005.5,100.9 L1005.5,102.2 L1005.5,103.6 L1005.5,105.2 L1005.4,106.8 L1005.3,108.5 L1005.3,110.0 L1005.2,111.5 L1005.1,112.8 L1005.0,113.9 L1004.8,114.9 L1004.6,115.9 L1004.4,116.9 L1004.2,117.8 L1003.9,118.7 L1003.8,119.6 L1003.6,120.5 L1003.5,121.4 L1003.5,122.4 L1003.6,123.3 L1003.7,123.8 L1003.8,124.1 L1004.1,124.5 L1004.3,124.9 L1004.5,125.5 L1004.8,126.6 L1005.0,128.2 L1005.2,130.4 L1005.3,133.5 L1005.4,137.7 L1005.4,143.1 L1005.5,149.4 L1005.5,156.3 L1005.5,163.4 L1005.5,170.5 L1005.5,177.4 L1005.4,183.6 L1005.4,188.9 L1005.3,193.1 L1005.2,196.1 L1005.0,198.2 L1004.9,199.7 L1004.7,200.5 L1004.5,201.0 L1004.3,201.3 L1004.1,201.4 L1003.9,201.6 L1003.8,202.0 L1003.8,202.8 L1003.8,203.7 L1003.9,204.4 L1004.1,205.2 L1004.3,205.9 L1004.5,206.6 L1004.7,207.4 L1004.9,208.3 L1005.0,209.5 L1005.2,210.8 L1005.3,212.5 L1005.4,214.5 L1005.4,217.0 L1005.4,219.7 L1005.4,222.7 L1005.4,225.7 L1005.4,228.8 L1005.4,231.7 L1005.4,234.4 L1005.3,236.8 L1005.3,238.8 L1005.3,240.3 L1005.3,241.6 L1005.3,242.6 L1005.3,243.4 L1005.3,244.0 L1005.3,244.6 L1005.3,245.1 L1005.2,245.7 L1005.0,246.3 L1004.8,247.1 L1004.5,247.9 L1004.0,248.8 L1003.5,249.7 L1003.0,250.5 L1002.4,251.4 L1001.8,252.2 L1001.3,253.1 L1000.8,254.0 L1000.4,254.8 L1000.1,255.7 L999.9,256.5 L999.8,257.4 L999.8,258.2 L999.8,259.1 L999.9,259.9 L1000.0,260.7 L1000.1,261.6 L1000.2,262.4 L1000.4,263.3 L1000.5,264.1 L1000.6,265.0 L1000.8,265.8 L1001.0,266.7 L1001.3,267.6 L1001.5,268.4 L1001.7,269.3 L1001.9,270.1 L1002.1,271.0 L1002.2,271.9 L1002.3,272.7 L1002.3,273.6 L1002.3,274.4 L1002.2,275.2 L1002.1,276.1 L1002.0,276.9 L1001.8,277.8 L1001.6,278.6 L1001.5,279.5 L1001.2,280.3 L1001.0,281.2 L1000.7,282.0 L1000.5,282.9 L1000.2,283.8 L999.9,284.7 L999.5,285.6 L999.1,286.5 L998.8,287.4 L998.4,288.3 L997.9,289.2 L997.5,290.0 L997.0,290.9 L996.5,291.7 L996.0,292.6 L995.5,293.4 L995.0,294.2 L994.4,295.0 L993.8,295.9 L993.2,296.7 L992.6,297.5 L992.0,298.3 L991.3,299.2 L990.6,300.0 L989.8,300.9 L989.1,301.7 L988.3,302.5 L987.5,303.4 L986.8,304.2 L986.2,305.1 L985.6,305.9 L985.2,306.8 L984.9,307.6 L984.7,308.5 L984.6,309.4 L984.5,310.2 L984.6,311.1 L984.6,311.9 L984.7,312.8 L984.8,313.7 L985.0,314.5 L985.1,315.4 L985.3,316.3 L985.4,317.2 L985.7,318.1 L985.9,319.0 L986.2,319.9 L986.5,320.8 L986.8,321.7 L987.1,322.5 L987.5,323.3 L987.8,324.0 L988.1,324.6 L988.5,325.1 L988.8,325.5 L989.2,325.9 L989.5,326.3 L989.9,326.7 L990.3,327.0 L990.7,327.3 L991.1,327.7 L991.6,328.1 L992.1,328.5 L992.6,329.0 L993.1,329.4 L993.6,329.8 L994.1,330.3 L994.7,330.7 L995.3,331.1 L995.9,331.6 L996.5,332.0 L997.1,332.4 L997.8,332.8 L998.5,333.3 L999.3,333.7 L1000.2,334.1 L1001.0,334.5 L1001.8,335.0 L1002.6,335.4 L1003.2,335.8 L1003.8,336.3 L1004.3,336.7 L1004.6,337.1 L1004.9,337.6 L1005.0,338.0 L1005.1,338.4 L1005.1,338.8 L1005.1,339.3 L1005.1,339.7 L1005.1,340.2 L1005.1,340.7 L1005.1,341.3 L1005.2,341.9 L1005.2,342.6 L1005.3,343.4 L1005.3,344.2 L1005.4,345.0 L1005.5,345.8 L1005.5,346.6 L1005.5,347.2 L1005.6,347.8 L1005.6,348.2 Z" fill="#f6c6ea" stroke="none"/>
<line x1="985.9" y1="307.3" x2="1025.3" y2="307.3" stroke="#222" stroke-width="1.2" stroke-dasharray="4,3"/>
<line x1="986.3" y1="316.3" x2="1024.9" y2="316.3" stroke="#222" stroke-width="1.2" stroke-dasharray="1.5,2.5"/>
<path d="M1005.6,348.2 L1005.6,347.8 L1005.7,347.2 L1005.7,346.6 L1005.7,345.8 L1005.8,345.0 L1005.9,344.2 L1005.9,343.4 L1006.0,342.6 L1006.0,341.9 L1006.1,341.3 L1006.1,340.7 L1006.1,340.2 L1006.1,339.7 L1006.1,339.3 L1006.1,338.8 L1006.1,338.4 L1006.2,338.0 L1006.3,337.6 L1006.6,337.1 L1006.9,336.7 L1007.4,336.3 L1008.0,335.8 L1008.6,335.4 L1009.4,335.0 L1010.2,334.5 L1011.0,334.1 L1011.9,333.7 L1012.7,333.3 L1013.4,332.8 L1014.1,332.4 L1014.7,332.0 L1015.3,331.6 L1015.9,331.1 L1016.5,330.7 L1017.1,330.3 L1017.6,329.8 L1018.1,329.4 L1018.6,329.0 L1019.1,328.5 L1019.6,328.1 L1020.1,327.7 L1020.5,327.3 L1020.9,327.0 L1021.3,326.7 L1021.7,326.3 L1022.0,325.9 L1022.4,325.5 L1022.7,325.1 L1023.1,324.6 L1023.4,324.0 L1023.7,323.3 L1024.1,322.5 L1024.4,321.7 L1024.7,320.8 L1025.0,319.9 L1025.3,319.0 L1025.5,318.1 L1025.8,317.2 L1025.9,316.3 L1026.1,315.4 L1026.2,314.5 L1026.4,313.7 L1026.5,312.8 L1026.6,311.9 L1026.6,311.1 L1026.7,310.2 L1026.6,309.4 L1026.5,308.5 L1026.3,307.6 L1026.0,306.8 L1025.6,305.9 L1025.0,305.1 L1024.4,304.2 L1023.7,303.4 L1022.9,302.5 L1022.1,301.7 L1021.4,300.9 L1020.6,300.0 L1019.9,299.2 L1019.2,298.3 L1018.6,297.5 L1018.0,296.7 L1017.4,295.9 L1016.8,295.0 L1016.2,294.2 L1015.7,293.4 L1015.2,292.6 L1014.7,291.7 L1014.2,290.9 L1013.7,290.0 L1013.3,289.2 L1012.8,288.3 L1012.4,287.4 L1012.1,286.5 L1011.7,285.6 L1011.3,284.7 L1011.0,283.8 L1010.7,282.9 L1010.5,282.0 L1010.2,281.2 L1010.0,280.3 L1009.7,279.5 L1009.6,278.6 L1009.4,277.8 L1009.2,276.9 L1009.1,276.1 L1009.0,275.2 L1008.9,274.4 L1008.9,273.6 L1008.9,272.7 L1009.0,271.9 L1009.1,271.0 L1009.3,270.1 L1009.5,269.3 L1009.7,268.4 L1009.9,267.6 L1010.2,266.7 L1010.4,265.8 L1010.6,265.0 L1010.7,264.1 L1010.8,263.3 L1011.0,262.4 L1011.1,261.6 L1011.2,260.7 L1011.3,259.9 L1011.4,259.1 L1011.4,258.2 L1011.4,257.4 L1011.3,256.5 L1011.1,255.7 L1010.8,254.8 L1010.4,254.0 L1009.9,253.1 L1009.4,252.2 L1008.8,251.4 L1008.2,250.5 L1007.7,249.7 L1007.2,248.8 L1006.7,247.9 L1006.4,247.1 L1006.2,246.3 L1006.0,245.7 L1005.9,245.1 L1005.9,244.6 L1005.9,244.0 L1005.9,243.4 L1005.9,242.6 L1005.9,241.6 L1005.9,240.3 L1005.9,238.8 L1005.9,236.8 L1005.8,234.4 L1005.8,231.7 L1005.8,228.8 L1005.8,225.7 L1005.8,222.7 L1005.8,219.7 L1005.8,217.0 L1005.8,214.5 L1005.9,212.5 L1006.0,210.8 L1006.2,209.5 L1006.3,208.3 L1006.5,207.4 L1006.7,206.6 L1006.9,205.9 L1007.1,205.2 L1007.3,204.4 L1007.4,203.7 L1007.4,202.8 L1007.4,202.0 L1007.3,201.6 L1007.1,201.4 L1006.9,201.3 L1006.7,201.0 L1006.5,200.5 L1006.3,199.7 L1006.2,198.2 L1006.0,196.1 L1005.9,193.1 L1005.8,188.9 L1005.8,183.6 L1005.7,177.4 L1005.7,170.5 L1005.7,163.4 L1005.7,156.3 L1005.7,149.4 L1005.8,143.1 L1005.8,137.7 L1005.9,133.5 L1006.0,130.4 L1006.2,128.2 L1006.4,126.6 L1006.7,125.5 L1006.9,124.9 L1007.1,124.5 L1007.4,124.1 L1007.5,123.8 L1007.6,123.3 L1007.7,122.4 L1007.7,121.4 L1007.6,120.5 L1007.4,119.6 L1007.3,118.7 L1007.0,117.8 L1006.8,116.9 L1006.6,115.9 L1006.4,114.9 L1006.2,113.9 L1006.1,112.8 L1006.0,111.5 L1005.9,110.0 L1005.9,108.5 L1005.8,106.8 L1005.8,105.2 L1005.7,103.6 L1005.7,102.2 L1005.7,100.9 L1005.6,99.7 L1005.6,98.9 L1005.6,98.9 L1005.6,99.7 L1005.5,100.9 L1005.5,102.2 L1005.5,103.6 L1005.5,105.2 L1005.4,106.8 L1005.3,108.5 L1005.3,110.0 L1005.2,111.5 L1005.1,112.8 L1005.0,113.9 L1004.8,114.9 L1004.6,115.9 L1004.4,116.9 L1004.2,117.8 L1003.9,118.7 L1003.8,119.6 L1003.6,120.5 L1003.5,121.4 L1003.5,122.4 L1003.6,123.3 L1003.7,123.8 L1003.8,124.1 L1004.1,124.5 L1004.3,124.9 L1004.5,125.5 L1004.8,126.6 L1005.0,128.2 L1005.2,130.4 L1005.3,133.5 L1005.4,137.7 L1005.4,143.1 L1005.5,149.4 L1005.5,156.3 L1005.5,163.4 L1005.5,170.5 L1005.5,177.4 L1005.4,183.6 L1005.4,188.9 L1005.3,193.1 L1005.2,196.1 L1005.0,198.2 L1004.9,199.7 L1004.7,200.5 L1004.5,201.0 L1004.3,201.3 L1004.1,201.4 L1003.9,201.6 L1003.8,202.0 L1003.8,202.8 L1003.8,203.7 L1003.9,204.4 L1004.1,205.2 L1004.3,205.9 L1004.5,206.6 L1004.7,207.4 L1004.9,208.3 L1005.0,209.5 L1005.2,210.8 L1005.3,212.5 L1005.4,214.5 L1005.4,217.0 L1005.4,219.7 L1005.4,222.7 L1005.4,225.7 L1005.4,228.8 L1005.4,231.7 L1005.4,234.4 L1005.3,236.8 L1005.3,238.8 L1005.3,240.3 L1005.3,241.6 L1005.3,242.6 L1005.3,243.4 L1005.3,244.0 L1005.3,244.6 L1005.3,245.1 L1005.2,245.7 L1005.0,246.3 L1004.8,247.1 L1004.5,247.9 L1004.0,248.8 L1003.5,249.7 L1003.0,250.5 L1002.4,251.4 L1001.8,252.2 L1001.3,253.1 L1000.8,254.0 L1000.4,254.8 L1000.1,255.7 L999.9,256.5 L999.8,257.4 L999.8,258.2 L999.8,259.1 L999.9,259.9 L1000.0,260.7 L1000.1,261.6 L1000.2,262.4 L1000.4,263.3 L1000.5,264.1 L1000.6,265.0 L1000.8,265.8 L1001.0,266.7 L1001.3,267.6 L1001.5,268.4 L1001.7,269.3 L1001.9,270.1 L1002.1,271.0 L1002.2,271.9 L1002.3,272.7 L1002.3,273.6 L1002.3,274.4 L1002.2,275.2 L1002.1,276.1 L1002.0,276.9 L1001.8,277.8 L1001.6,278.6 L1001.5,279.5 L1001.2,280.3 L1001.0,281.2 L1000.7,282.0 L1000.5,282.9 L1000.2,283.8 L999.9,284.7 L999.5,285.6 L999.1,286.5 L998.8,287.4 L998.4,288.3 L997.9,289.2 L997.5,290.0 L997.0,290.9 L996.5,291.7 L996.0,292.6 L995.5,293.4 L995.0,294.2 L994.4,295.0 L993.8,295.9 L993.2,296.7 L992.6,297.5 L992.0,298.3 L991.3,299.2 L990.6,300.0 L989.8,300.9 L989.1,301.7 L988.3,302.5 L987.5,303.4 L986.8,304.2 L986.2,305.1 L985.6,305.9 L985.2,306.8 L984.9,307.6 L984.7,308.5 L984.6,309.4 L984.5,310.2 L984.6,311.1 L984.6,311.9 L984.7,312.8 L984.8,313.7 L985.0,314.5 L985.1,315.4 L985.3,316.3 L985.4,317.2 L985.7,318.1 L985.9,319.0 L986.2,319.9 L986.5,320.8 L986.8,321.7 L987.1,322.5 L987.5,323.3 L987.8,324.0 L988.1,324.6 L988.5,325.1 L988.8,325.5 L989.2,325.9 L989.5,326.3 L989.9,326.7 L990.3,327.0 L990.7,327.3 L991.1,327.7 L991.6,328.1 L992.1,328.5 L992.6,329.0 L993.1,329.4 L993.6,329.8 L994.1,330.3 L994.7,330.7 L995.3,331.1 L995.9,331.6 L996.5,332.0 L997.1,332.4 L997.8,332.8 L998.5,333.3 L999.3,333.7 L1000.2,334.1 L1001.0,334.5 L1001.8,335.0 L1002.6,335.4 L1003.2,335.8 L1003.8,336.3 L1004.3,336.7 L1004.6,337.1 L1004.9,337.6 L1005.0,338.0 L1005.1,338.4 L1005.1,338.8 L1005.1,339.3 L1005.1,339.7 L1005.1,340.2 L1005.1,340.7 L1005.1,341.3 L1005.2,341.9 L1005.2,342.6 L1005.3,343.4 L1005.3,344.2 L1005.4,345.0 L1005.5,345.8 L1005.5,346.6 L1005.5,347.2 L1005.6,347.8 L1005.6,348.2 Z" fill="none" stroke="#cd0067" stroke-width="4.4" stroke-linejoin="round"/>
<g fill="#cd0067"><circle cx="1005.6" cy="291.4" r="3.9"/><circle cx="1000.9" cy="303.2" r="3.9"/><circle cx="1009.4" cy="301.1" r="3.9"/><circle cx="1009.4" cy="307.3" r="3.9"/><circle cx="1018.0" cy="305.3" r="3.9"/><circle cx="1027.4" cy="301.1" r="3.9"/><circle cx="992.4" cy="306.6" r="3.9"/><circle cx="992.4" cy="315.4" r="3.9"/><circle cx="1000.9" cy="316.3" r="3.9"/><circle cx="1009.4" cy="315.4" r="3.9"/><circle cx="1018.0" cy="312.2" r="3.9"/><circle cx="1000.9" cy="323.3" r="3.9"/><circle cx="1009.4" cy="322.6" r="3.9"/><circle cx="983.8" cy="326.0" r="3.9"/><circle cx="1028.3" cy="309.4" r="3.9"/><circle cx="1028.3" cy="315.0" r="3.9"/><circle cx="1028.3" cy="323.3" r="3.9"/><circle cx="982.9" cy="309.4" r="3.9"/><circle cx="982.6" cy="317.7" r="3.9"/><circle cx="1018.5" cy="258.2" r="3.9"/><circle cx="1001.3" cy="262.3" r="3.9"/><circle cx="1000.9" cy="278.9" r="3.9"/><circle cx="1009.4" cy="259.6" r="3.9"/><circle cx="1010.7" cy="281.0" r="3.9"/></g>
<text x="1312.0" y="35.5" font-size="21.5" text-anchor="middle" fill="#000" letter-spacing="0.2">Platelet count</text>
<text x="1127.0" y="210.0" font-size="23" font-weight="bold" text-anchor="middle" fill="#000" transform="rotate(-90 1127.0 210.0)">Platelets (G/L)</text>
<path d="M1218.5,196.4h0M1227.8,196.4h0M1237.2,196.4h0M1246.5,196.4h0M1255.8,196.4h0M1265.1,196.4h0M1274.5,196.4h0M1283.8,196.4h0M1293.1,196.4h0M1302.5,196.4h0M1311.8,196.4h0M1321.1,196.4h0M1330.5,196.4h0M1339.8,196.4h0M1349.1,196.4h0M1358.4,196.4h0M1367.8,196.4h0M1377.1,196.4h0M1386.4,196.4h0M1395.8,196.4h0M1405.1,196.4h0" stroke="#000" stroke-width="2.6" stroke-linecap="round"/>
<path d="M1218.5,307.8h0M1227.8,307.8h0M1237.2,307.8h0M1246.5,307.8h0M1255.8,307.8h0M1265.1,307.8h0M1274.5,307.8h0M1283.8,307.8h0M1293.1,307.8h0M1302.5,307.8h0M1311.8,307.8h0M1321.1,307.8h0M1330.5,307.8h0M1339.8,307.8h0M1349.1,307.8h0M1358.4,307.8h0M1367.8,307.8h0M1377.1,307.8h0M1386.4,307.8h0M1395.8,307.8h0M1405.1,307.8h0" stroke="#000" stroke-width="2.6" stroke-linecap="round"/>
<line x1="1209.3" y1="69.7" x2="1209.3" y2="351.0" stroke="#000" stroke-width="3.2"/>
<line x1="1196.8" y1="349.5" x2="1210.8" y2="349.5" stroke="#000" stroke-width="3.2"/>
<text x="1193.0" y="358.2" font-size="23" font-weight="bold" text-anchor="end" fill="#000">0</text>
<line x1="1196.8" y1="293.8" x2="1210.8" y2="293.8" stroke="#000" stroke-width="3.2"/>
<text x="1193.0" y="302.5" font-size="23" font-weight="bold" text-anchor="end" fill="#000">200</text>
<line x1="1196.8" y1="238.2" x2="1210.8" y2="238.2" stroke="#000" stroke-width="3.2"/>
<text x="1193.0" y="246.9" font-size="23" font-weight="bold" text-anchor="end" fill="#000">400</text>
<line x1="1196.8" y1="182.5" x2="1210.8" y2="182.5" stroke="#000" stroke-width="3.2"/>
<text x="1193.0" y="191.2" font-size="23" font-weight="bold" text-anchor="end" fill="#000">600</text>
<line x1="1196.8" y1="126.9" x2="1210.8" y2="126.9" stroke="#000" stroke-width="3.2"/>
<text x="1193.0" y="135.6" font-size="23" font-weight="bold" text-anchor="end" fill="#000">800</text>
<line x1="1196.8" y1="71.2" x2="1210.8" y2="71.2" stroke="#000" stroke-width="3.2"/>
<text x="1193.0" y="79.9" font-size="23" font-weight="bold" text-anchor="end" fill="#000">1000</text>
<line x1="1196.8" y1="307.8" x2="1210.8" y2="307.8" stroke="#000" stroke-width="3.2"/>
<line x1="1238.2" y1="380.1" x2="1415.2" y2="380.1" stroke="#000" stroke-width="3.2"/>
<line x1="1289.2" y1="380.1" x2="1289.2" y2="392.6" stroke="#000" stroke-width="3.2"/>
<line x1="1363.7" y1="380.1" x2="1363.7" y2="392.6" stroke="#000" stroke-width="3.2"/>
<text x="1326.5" y="422.0" font-size="21.5" text-anchor="middle" fill="#000">MIS-C</text>
<text x="1277.0" y="444.0" font-size="16.5" font-style="italic" text-anchor="middle" fill="#000">acute</text>
<text x="1359.0" y="444.0" font-size="16.5" font-style="italic" text-anchor="middle" fill="#000" letter-spacing="0.2">remission</text>
<text x="1314.4" y="95.3" font-size="40" font-weight="bold" text-anchor="middle" fill="#000" letter-spacing="2.4">***</text>
<line x1="1284.9" y1="95.3" x2="1345.6" y2="95.3" stroke="#444" stroke-width="1.6"/>
<path d="M1289.4,345.0 L1289.5,344.8 L1289.6,344.4 L1289.8,343.9 L1290.0,343.4 L1290.2,342.9 L1290.4,342.3 L1290.6,341.8 L1290.8,341.2 L1291.1,340.6 L1291.4,340.0 L1291.7,339.5 L1292.1,338.9 L1292.5,338.3 L1292.9,337.7 L1293.3,337.2 L1293.8,336.6 L1294.2,336.0 L1294.6,335.4 L1295.0,334.8 L1295.4,334.2 L1295.7,333.6 L1296.1,333.1 L1296.4,332.5 L1296.7,332.0 L1297.0,331.4 L1297.2,330.9 L1297.5,330.3 L1297.9,329.8 L1298.2,329.2 L1298.6,328.6 L1299.0,328.1 L1299.5,327.5 L1300.0,326.9 L1300.5,326.3 L1301.0,325.7 L1301.5,325.1 L1302.0,324.5 L1302.5,323.9 L1303.0,323.4 L1303.4,322.8 L1303.8,322.2 L1304.2,321.7 L1304.6,321.1 L1305.0,320.6 L1305.4,320.1 L1305.7,319.5 L1306.1,319.0 L1306.5,318.4 L1306.8,317.8 L1307.2,317.2 L1307.6,316.6 L1308.0,315.9 L1308.4,315.2 L1308.8,314.5 L1309.2,313.8 L1309.6,313.1 L1310.0,312.4 L1310.3,311.8 L1310.6,311.1 L1310.9,310.5 L1311.2,310.0 L1311.5,309.5 L1311.8,309.0 L1312.0,308.5 L1312.3,308.1 L1312.5,307.6 L1312.5,307.2 L1312.5,306.7 L1312.4,306.3 L1312.1,305.8 L1311.6,305.3 L1311.0,304.8 L1310.2,304.3 L1309.3,303.8 L1308.3,303.3 L1307.3,302.8 L1306.3,302.2 L1305.3,301.8 L1304.3,301.3 L1303.4,300.8 L1302.5,300.3 L1301.7,299.9 L1300.8,299.5 L1299.9,299.1 L1299.0,298.7 L1298.1,298.3 L1297.4,297.9 L1296.6,297.5 L1296.0,297.1 L1295.4,296.6 L1294.9,296.2 L1294.5,295.7 L1294.2,295.3 L1294.0,294.8 L1293.8,294.3 L1293.6,293.8 L1293.5,293.3 L1293.4,292.9 L1293.3,292.4 L1293.2,291.9 L1293.1,291.4 L1293.1,290.9 L1293.1,290.4 L1293.1,289.9 L1293.2,289.4 L1293.2,288.9 L1293.3,288.4 L1293.4,287.9 L1293.5,287.4 L1293.6,286.9 L1293.7,286.4 L1293.9,285.8 L1294.1,285.3 L1294.4,284.8 L1294.6,284.2 L1294.8,283.7 L1295.0,283.2 L1295.1,282.6 L1295.2,282.1 L1295.2,281.6 L1295.1,281.1 L1294.9,280.6 L1294.7,280.0 L1294.4,279.5 L1294.1,279.0 L1293.7,278.5 L1293.4,278.0 L1293.0,277.5 L1292.7,277.0 L1292.4,276.6 L1292.1,276.2 L1291.8,275.7 L1291.5,275.3 L1291.2,274.9 L1290.9,274.6 L1290.6,274.2 L1290.4,273.8 L1290.1,273.5 L1289.9,273.1 L1289.8,272.7 L1289.7,272.3 L1289.7,271.9 L1289.7,271.5 L1289.7,271.1 L1289.8,270.8 L1289.9,270.4 L1289.9,270.0 L1290.0,269.6 L1290.1,269.2 L1290.2,268.8 L1290.3,268.4 L1290.4,268.0 L1290.5,267.6 L1290.7,267.2 L1290.8,266.8 L1290.9,266.4 L1291.1,266.0 L1291.1,265.5 L1291.2,265.1 L1291.2,264.6 L1291.2,264.1 L1291.1,263.6 L1291.0,263.1 L1290.8,262.5 L1290.6,261.9 L1290.5,261.4 L1290.3,260.8 L1290.1,260.2 L1290.0,259.6 L1289.9,259.1 L1289.8,258.5 L1289.7,257.8 L1289.7,257.1 L1289.6,256.5 L1289.6,255.8 L1289.5,255.1 L1289.5,254.5 L1289.5,254.0 L1289.4,253.6 L1289.4,253.2 L1289.4,253.2 L1289.4,253.6 L1289.3,254.0 L1289.3,254.5 L1289.3,255.1 L1289.2,255.8 L1289.2,256.5 L1289.1,257.1 L1289.1,257.8 L1289.0,258.5 L1288.9,259.1 L1288.8,259.6 L1288.7,260.2 L1288.5,260.8 L1288.3,261.4 L1288.2,261.9 L1288.0,262.5 L1287.8,263.1 L1287.7,263.6 L1287.6,264.1 L1287.6,264.6 L1287.6,265.1 L1287.7,265.5 L1287.7,266.0 L1287.9,266.4 L1288.0,266.8 L1288.1,267.2 L1288.3,267.6 L1288.4,268.0 L1288.5,268.4 L1288.6,268.8 L1288.7,269.2 L1288.8,269.6 L1288.9,270.0 L1288.9,270.4 L1289.0,270.8 L1289.1,271.1 L1289.1,271.5 L1289.1,271.9 L1289.1,272.3 L1289.0,272.7 L1288.9,273.1 L1288.7,273.5 L1288.4,273.8 L1288.2,274.2 L1287.9,274.6 L1287.6,274.9 L1287.3,275.3 L1287.0,275.7 L1286.7,276.2 L1286.4,276.6 L1286.1,277.0 L1285.8,277.5 L1285.4,278.0 L1285.1,278.5 L1284.7,279.0 L1284.4,279.5 L1284.1,280.0 L1283.9,280.6 L1283.7,281.1 L1283.6,281.6 L1283.6,282.1 L1283.7,282.6 L1283.8,283.2 L1284.0,283.7 L1284.2,284.2 L1284.4,284.8 L1284.7,285.3 L1284.9,285.8 L1285.1,286.4 L1285.2,286.9 L1285.3,287.4 L1285.4,287.9 L1285.5,288.4 L1285.6,288.9 L1285.6,289.4 L1285.7,289.9 L1285.7,290.4 L1285.7,290.9 L1285.7,291.4 L1285.6,291.9 L1285.5,292.4 L1285.4,292.9 L1285.3,293.3 L1285.2,293.8 L1285.0,294.3 L1284.8,294.8 L1284.6,295.3 L1284.3,295.7 L1283.9,296.2 L1283.4,296.6 L1282.8,297.1 L1282.2,297.5 L1281.4,297.9 L1280.7,298.3 L1279.8,298.7 L1278.9,299.1 L1278.0,299.5 L1277.1,299.9 L1276.3,300.3 L1275.4,300.8 L1274.5,301.3 L1273.5,301.8 L1272.5,302.2 L1271.5,302.8 L1270.5,303.3 L1269.5,303.8 L1268.6,304.3 L1267.8,304.8 L1267.2,305.3 L1266.7,305.8 L1266.4,306.3 L1266.3,306.7 L1266.3,307.2 L1266.3,307.6 L1266.5,308.1 L1266.8,308.5 L1267.0,309.0 L1267.3,309.5 L1267.6,310.0 L1267.9,310.5 L1268.2,311.1 L1268.5,311.8 L1268.8,312.4 L1269.2,313.1 L1269.6,313.8 L1270.0,314.5 L1270.4,315.2 L1270.8,315.9 L1271.2,316.6 L1271.6,317.2 L1272.0,317.8 L1272.3,318.4 L1272.7,319.0 L1273.1,319.5 L1273.4,320.1 L1273.8,320.6 L1274.2,321.1 L1274.6,321.7 L1275.0,322.2 L1275.4,322.8 L1275.8,323.4 L1276.3,323.9 L1276.8,324.5 L1277.3,325.1 L1277.8,325.7 L1278.3,326.3 L1278.8,326.9 L1279.3,327.5 L1279.8,328.1 L1280.2,328.6 L1280.6,329.2 L1280.9,329.8 L1281.3,330.3 L1281.6,330.9 L1281.9,331.4 L1282.1,332.0 L1282.4,332.5 L1282.7,333.1 L1283.1,333.6 L1283.4,334.2 L1283.8,334.8 L1284.2,335.4 L1284.6,336.0 L1285.0,336.6 L1285.5,337.2 L1285.9,337.7 L1286.3,338.3 L1286.7,338.9 L1287.1,339.5 L1287.4,340.0 L1287.7,340.6 L1288.0,341.2 L1288.2,341.8 L1288.4,342.3 L1288.7,342.9 L1288.8,343.4 L1289.0,343.9 L1289.2,344.4 L1289.3,344.8 L1289.4,345.0 Z" fill="#fde0e0" stroke="none"/>
<line x1="1268.9" y1="310.5" x2="1309.9" y2="310.5" stroke="#222" stroke-width="1.2" stroke-dasharray="4,3"/>
<path d="M1289.4,345.0 L1289.5,344.8 L1289.6,344.4 L1289.8,343.9 L1290.0,343.4 L1290.2,342.9 L1290.4,342.3 L1290.6,341.8 L1290.8,341.2 L1291.1,340.6 L1291.4,340.0 L1291.7,339.5 L1292.1,338.9 L1292.5,338.3 L1292.9,337.7 L1293.3,337.2 L1293.8,336.6 L1294.2,336.0 L1294.6,335.4 L1295.0,334.8 L1295.4,334.2 L1295.7,333.6 L1296.1,333.1 L1296.4,332.5 L1296.7,332.0 L1297.0,331.4 L1297.2,330.9 L1297.5,330.3 L1297.9,329.8 L1298.2,329.2 L1298.6,328.6 L1299.0,328.1 L1299.5,327.5 L1300.0,326.9 L1300.5,326.3 L1301.0,325.7 L1301.5,325.1 L1302.0,324.5 L1302.5,323.9 L1303.0,323.4 L1303.4,322.8 L1303.8,322.2 L1304.2,321.7 L1304.6,321.1 L1305.0,320.6 L1305.4,320.1 L1305.7,319.5 L1306.1,319.0 L1306.5,318.4 L1306.8,317.8 L1307.2,317.2 L1307.6,316.6 L1308.0,315.9 L1308.4,315.2 L1308.8,314.5 L1309.2,313.8 L1309.6,313.1 L1310.0,312.4 L1310.3,311.8 L1310.6,311.1 L1310.9,310.5 L1311.2,310.0 L1311.5,309.5 L1311.8,309.0 L1312.0,308.5 L1312.3,308.1 L1312.5,307.6 L1312.5,307.2 L1312.5,306.7 L1312.4,306.3 L1312.1,305.8 L1311.6,305.3 L1311.0,304.8 L1310.2,304.3 L1309.3,303.8 L1308.3,303.3 L1307.3,302.8 L1306.3,302.2 L1305.3,301.8 L1304.3,301.3 L1303.4,300.8 L1302.5,300.3 L1301.7,299.9 L1300.8,299.5 L1299.9,299.1 L1299.0,298.7 L1298.1,298.3 L1297.4,297.9 L1296.6,297.5 L1296.0,297.1 L1295.4,296.6 L1294.9,296.2 L1294.5,295.7 L1294.2,295.3 L1294.0,294.8 L1293.8,294.3 L1293.6,293.8 L1293.5,293.3 L1293.4,292.9 L1293.3,292.4 L1293.2,291.9 L1293.1,291.4 L1293.1,290.9 L1293.1,290.4 L1293.1,289.9 L1293.2,289.4 L1293.2,288.9 L1293.3,288.4 L1293.4,287.9 L1293.5,287.4 L1293.6,286.9 L1293.7,286.4 L1293.9,285.8 L1294.1,285.3 L1294.4,284.8 L1294.6,284.2 L1294.8,283.7 L1295.0,283.2 L1295.1,282.6 L1295.2,282.1 L1295.2,281.6 L1295.1,281.1 L1294.9,280.6 L1294.7,280.0 L1294.4,279.5 L1294.1,279.0 L1293.7,278.5 L1293.4,278.0 L1293.0,277.5 L1292.7,277.0 L1292.4,276.6 L1292.1,276.2 L1291.8,275.7 L1291.5,275.3 L1291.2,274.9 L1290.9,274.6 L1290.6,274.2 L1290.4,273.8 L1290.1,273.5 L1289.9,273.1 L1289.8,272.7 L1289.7,272.3 L1289.7,271.9 L1289.7,271.5 L1289.7,271.1 L1289.8,270.8 L1289.9,270.4 L1289.9,270.0 L1290.0,269.6 L1290.1,269.2 L1290.2,268.8 L1290.3,268.4 L1290.4,268.0 L1290.5,267.6 L1290.7,267.2 L1290.8,266.8 L1290.9,266.4 L1291.1,266.0 L1291.1,265.5 L1291.2,265.1 L1291.2,264.6 L1291.2,264.1 L1291.1,263.6 L1291.0,263.1 L1290.8,262.5 L1290.6,261.9 L1290.5,261.4 L1290.3,260.8 L1290.1,260.2 L1290.0,259.6 L1289.9,259.1 L1289.8,258.5 L1289.7,257.8 L1289.7,257.1 L1289.6,256.5 L1289.6,255.8 L1289.5,255.1 L1289.5,254.5 L1289.5,254.0 L1289.4,253.6 L1289.4,253.2 L1289.4,253.2 L1289.4,253.6 L1289.3,254.0 L1289.3,254.5 L1289.3,255.1 L1289.2,255.8 L1289.2,256.5 L1289.1,257.1 L1289.1,257.8 L1289.0,258.5 L1288.9,259.1 L1288.8,259.6 L1288.7,260.2 L1288.5,260.8 L1288.3,261.4 L1288.2,261.9 L1288.0,262.5 L1287.8,263.1 L1287.7,263.6 L1287.6,264.1 L1287.6,264.6 L1287.6,265.1 L1287.7,265.5 L1287.7,266.0 L1287.9,266.4 L1288.0,266.8 L1288.1,267.2 L1288.3,267.6 L1288.4,268.0 L1288.5,268.4 L1288.6,268.8 L1288.7,269.2 L1288.8,269.6 L1288.9,270.0 L1288.9,270.4 L1289.0,270.8 L1289.1,271.1 L1289.1,271.5 L1289.1,271.9 L1289.1,272.3 L1289.0,272.7 L1288.9,273.1 L1288.7,273.5 L1288.4,273.8 L1288.2,274.2 L1287.9,274.6 L1287.6,274.9 L1287.3,275.3 L1287.0,275.7 L1286.7,276.2 L1286.4,276.6 L1286.1,277.0 L1285.8,277.5 L1285.4,278.0 L1285.1,278.5 L1284.7,279.0 L1284.4,279.5 L1284.1,280.0 L1283.9,280.6 L1283.7,281.1 L1283.6,281.6 L1283.6,282.1 L1283.7,282.6 L1283.8,283.2 L1284.0,283.7 L1284.2,284.2 L1284.4,284.8 L1284.7,285.3 L1284.9,285.8 L1285.1,286.4 L1285.2,286.9 L1285.3,287.4 L1285.4,287.9 L1285.5,288.4 L1285.6,288.9 L1285.6,289.4 L1285.7,289.9 L1285.7,290.4 L1285.7,290.9 L1285.7,291.4 L1285.6,291.9 L1285.5,292.4 L1285.4,292.9 L1285.3,293.3 L1285.2,293.8 L1285.0,294.3 L1284.8,294.8 L1284.6,295.3 L1284.3,295.7 L1283.9,296.2 L1283.4,296.6 L1282.8,297.1 L1282.2,297.5 L1281.4,297.9 L1280.7,298.3 L1279.8,298.7 L1278.9,299.1 L1278.0,299.5 L1277.1,299.9 L1276.3,300.3 L1275.4,300.8 L1274.5,301.3 L1273.5,301.8 L1272.5,302.2 L1271.5,302.8 L1270.5,303.3 L1269.5,303.8 L1268.6,304.3 L1267.8,304.8 L1267.2,305.3 L1266.7,305.8 L1266.4,306.3 L1266.3,306.7 L1266.3,307.2 L1266.3,307.6 L1266.5,308.1 L1266.8,308.5 L1267.0,309.0 L1267.3,309.5 L1267.6,310.0 L1267.9,310.5 L1268.2,311.1 L1268.5,311.8 L1268.8,312.4 L1269.2,313.1 L1269.6,313.8 L1270.0,314.5 L1270.4,315.2 L1270.8,315.9 L1271.2,316.6 L1271.6,317.2 L1272.0,317.8 L1272.3,318.4 L1272.7,319.0 L1273.1,319.5 L1273.4,320.1 L1273.8,320.6 L1274.2,321.1 L1274.6,321.7 L1275.0,322.2 L1275.4,322.8 L1275.8,323.4 L1276.3,323.9 L1276.8,324.5 L1277.3,325.1 L1277.8,325.7 L1278.3,326.3 L1278.8,326.9 L1279.3,327.5 L1279.8,328.1 L1280.2,328.6 L1280.6,329.2 L1280.9,329.8 L1281.3,330.3 L1281.6,330.9 L1281.9,331.4 L1282.1,332.0 L1282.4,332.5 L1282.7,333.1 L1283.1,333.6 L1283.4,334.2 L1283.8,334.8 L1284.2,335.4 L1284.6,336.0 L1285.0,336.6 L1285.5,337.2 L1285.9,337.7 L1286.3,338.3 L1286.7,338.9 L1287.1,339.5 L1287.4,340.0 L1287.7,340.6 L1288.0,341.2 L1288.2,341.8 L1288.4,342.3 L1288.7,342.9 L1288.8,343.4 L1289.0,343.9 L1289.2,344.4 L1289.3,344.8 L1289.4,345.0 Z" fill="none" stroke="#ff0000" stroke-width="4.4" stroke-linejoin="round"/>
<g fill="#ff0000"><circle cx="1289.4" cy="335.6" r="3.9"/><circle cx="1285.7" cy="328.6" r="3.9"/><circle cx="1293.1" cy="328.6" r="3.9"/><circle cx="1282.0" cy="321.7" r="3.9"/><circle cx="1289.4" cy="321.7" r="3.9"/><circle cx="1296.8" cy="321.7" r="3.9"/><circle cx="1279.3" cy="315.5" r="3.9"/><circle cx="1286.7" cy="315.5" r="3.9"/><circle cx="1294.1" cy="315.5" r="3.9"/><circle cx="1301.5" cy="315.5" r="3.9"/><circle cx="1270.9" cy="310.3" r="3.9"/><circle cx="1278.3" cy="310.3" r="3.9"/><circle cx="1285.7" cy="310.3" r="3.9"/><circle cx="1293.1" cy="310.3" r="3.9"/><circle cx="1300.5" cy="310.3" r="3.9"/><circle cx="1307.9" cy="310.3" r="3.9"/><circle cx="1271.9" cy="305.5" r="3.9"/><circle cx="1279.3" cy="305.5" r="3.9"/><circle cx="1286.7" cy="305.5" r="3.9"/><circle cx="1294.1" cy="305.5" r="3.9"/><circle cx="1301.5" cy="305.5" r="3.9"/><circle cx="1308.9" cy="305.5" r="3.9"/><circle cx="1285.7" cy="300.0" r="3.9"/><circle cx="1293.1" cy="300.0" r="3.9"/><circle cx="1301.4" cy="294.7" r="3.9"/><circle cx="1289.4" cy="289.7" r="3.9"/><circle cx="1289.4" cy="281.3" r="3.9"/><circle cx="1289.4" cy="266.0" r="3.9"/><circle cx="1289.4" cy="257.7" r="3.9"/></g>
<path d="M1363.9,338.4 L1363.9,338.2 L1364.0,338.0 L1364.1,337.8 L1364.1,337.6 L1364.2,337.3 L1364.3,337.0 L1364.4,336.5 L1364.5,335.9 L1364.5,335.1 L1364.6,334.2 L1364.7,333.0 L1364.7,331.5 L1364.7,329.9 L1364.8,328.1 L1364.8,326.2 L1364.8,324.2 L1364.9,322.3 L1364.9,320.5 L1365.0,318.7 L1365.1,317.2 L1365.2,315.9 L1365.3,314.6 L1365.4,313.4 L1365.5,312.3 L1365.6,311.2 L1365.8,310.1 L1365.9,309.1 L1366.2,308.0 L1366.5,306.9 L1366.8,305.8 L1367.2,304.7 L1367.7,303.5 L1368.2,302.4 L1368.8,301.2 L1369.4,300.1 L1370.1,299.0 L1370.7,297.8 L1371.4,296.7 L1372.1,295.5 L1372.8,294.4 L1373.5,293.3 L1374.3,292.1 L1375.1,291.0 L1375.9,289.8 L1376.8,288.7 L1377.6,287.6 L1378.4,286.4 L1379.2,285.3 L1379.9,284.1 L1380.6,283.0 L1381.2,281.8 L1381.8,280.7 L1382.3,279.5 L1382.8,278.3 L1383.3,277.1 L1383.7,276.0 L1384.1,274.8 L1384.5,273.6 L1384.8,272.5 L1385.1,271.3 L1385.4,270.1 L1385.6,269.0 L1385.8,267.9 L1386.0,266.7 L1386.1,265.6 L1386.2,264.4 L1386.3,263.3 L1386.2,262.2 L1386.2,261.0 L1386.0,259.9 L1385.7,258.7 L1385.4,257.6 L1384.9,256.5 L1384.4,255.3 L1383.9,254.2 L1383.3,253.0 L1382.7,251.9 L1382.1,250.8 L1381.6,249.6 L1381.1,248.5 L1380.7,247.3 L1380.2,246.2 L1379.8,245.1 L1379.4,243.9 L1379.1,242.8 L1378.7,241.6 L1378.3,240.5 L1377.9,239.3 L1377.5,238.2 L1377.1,237.1 L1376.7,235.9 L1376.2,234.8 L1375.8,233.6 L1375.4,232.5 L1374.9,231.4 L1374.5,230.2 L1374.1,229.1 L1373.6,227.9 L1373.2,226.8 L1372.8,225.7 L1372.4,224.5 L1372.0,223.3 L1371.6,222.2 L1371.2,221.0 L1370.8,219.8 L1370.4,218.7 L1370.1,217.5 L1369.7,216.4 L1369.4,215.3 L1369.1,214.2 L1368.8,213.2 L1368.6,212.2 L1368.4,211.2 L1368.1,210.2 L1368.0,209.3 L1367.8,208.4 L1367.6,207.4 L1367.4,206.5 L1367.3,205.7 L1367.1,204.8 L1366.9,203.9 L1366.7,203.1 L1366.5,202.3 L1366.3,201.5 L1366.1,200.7 L1366.0,199.9 L1365.8,199.2 L1365.7,198.4 L1365.7,197.7 L1365.7,197.0 L1365.8,196.3 L1365.9,195.6 L1366.1,195.0 L1366.3,194.4 L1366.6,193.8 L1366.9,193.2 L1367.2,192.6 L1367.4,192.0 L1367.7,191.4 L1367.9,190.9 L1368.1,190.3 L1368.4,189.8 L1368.6,189.2 L1368.8,188.7 L1369.1,188.2 L1369.3,187.7 L1369.5,187.2 L1369.6,186.7 L1369.7,186.1 L1369.7,185.6 L1369.6,185.0 L1369.5,184.5 L1369.3,184.0 L1369.1,183.5 L1368.8,183.0 L1368.5,182.5 L1368.2,181.9 L1367.9,181.3 L1367.6,180.5 L1367.4,179.7 L1367.2,178.8 L1366.9,177.9 L1366.7,176.8 L1366.4,175.7 L1366.1,174.5 L1365.9,173.3 L1365.7,172.1 L1365.4,170.9 L1365.3,169.8 L1365.1,168.6 L1365.0,167.5 L1364.9,166.3 L1364.8,165.2 L1364.7,164.0 L1364.7,162.9 L1364.6,161.7 L1364.6,160.6 L1364.6,159.4 L1364.6,158.3 L1364.6,157.2 L1364.6,156.1 L1364.7,155.0 L1364.7,153.8 L1364.8,152.7 L1364.9,151.6 L1365.0,150.5 L1365.1,149.4 L1365.2,148.4 L1365.3,147.3 L1365.4,146.3 L1365.5,145.4 L1365.7,144.5 L1365.8,143.7 L1366.0,142.8 L1366.1,142.0 L1366.3,141.2 L1366.4,140.4 L1366.5,139.5 L1366.6,138.7 L1366.6,137.7 L1366.6,136.7 L1366.5,135.6 L1366.3,134.5 L1366.2,133.4 L1366.0,132.3 L1365.8,131.1 L1365.6,130.0 L1365.4,128.9 L1365.2,127.9 L1365.1,126.9 L1365.0,125.9 L1364.9,125.0 L1364.9,124.2 L1364.8,123.4 L1364.7,122.6 L1364.7,121.8 L1364.7,121.0 L1364.6,120.2 L1364.6,119.4 L1364.5,118.5 L1364.4,117.6 L1364.4,116.5 L1364.3,115.5 L1364.2,114.4 L1364.2,113.3 L1364.1,112.2 L1364.0,111.2 L1364.0,110.4 L1363.9,109.6 L1363.9,109.0 L1363.9,109.0 L1363.9,109.6 L1363.8,110.4 L1363.8,111.2 L1363.7,112.2 L1363.6,113.3 L1363.6,114.4 L1363.5,115.5 L1363.4,116.5 L1363.4,117.6 L1363.3,118.5 L1363.2,119.4 L1363.2,120.2 L1363.1,121.0 L1363.1,121.8 L1363.1,122.6 L1363.0,123.4 L1362.9,124.2 L1362.9,125.0 L1362.8,125.9 L1362.7,126.9 L1362.6,127.9 L1362.4,128.9 L1362.2,130.0 L1362.0,131.1 L1361.8,132.3 L1361.6,133.4 L1361.5,134.5 L1361.3,135.6 L1361.2,136.7 L1361.2,137.7 L1361.2,138.7 L1361.3,139.5 L1361.4,140.4 L1361.5,141.2 L1361.7,142.0 L1361.8,142.8 L1362.0,143.7 L1362.1,144.5 L1362.3,145.4 L1362.4,146.3 L1362.5,147.3 L1362.6,148.4 L1362.7,149.4 L1362.8,150.5 L1362.9,151.6 L1363.0,152.7 L1363.1,153.8 L1363.1,155.0 L1363.2,156.1 L1363.2,157.2 L1363.2,158.3 L1363.2,159.4 L1363.2,160.6 L1363.2,161.7 L1363.1,162.9 L1363.1,164.0 L1363.0,165.2 L1362.9,166.3 L1362.8,167.5 L1362.7,168.6 L1362.5,169.8 L1362.4,170.9 L1362.1,172.1 L1361.9,173.3 L1361.7,174.5 L1361.4,175.7 L1361.1,176.8 L1360.9,177.9 L1360.6,178.8 L1360.4,179.7 L1360.2,180.5 L1359.9,181.3 L1359.6,181.9 L1359.3,182.5 L1359.0,183.0 L1358.7,183.5 L1358.5,184.0 L1358.3,184.5 L1358.2,185.0 L1358.1,185.6 L1358.1,186.1 L1358.2,186.7 L1358.3,187.2 L1358.5,187.7 L1358.7,188.2 L1359.0,188.7 L1359.2,189.2 L1359.4,189.8 L1359.7,190.3 L1359.9,190.9 L1360.1,191.4 L1360.4,192.0 L1360.6,192.6 L1360.9,193.2 L1361.2,193.8 L1361.5,194.4 L1361.7,195.0 L1361.9,195.6 L1362.0,196.3 L1362.1,197.0 L1362.1,197.7 L1362.1,198.4 L1362.0,199.2 L1361.8,199.9 L1361.7,200.7 L1361.5,201.5 L1361.3,202.3 L1361.1,203.1 L1360.9,203.9 L1360.7,204.8 L1360.5,205.7 L1360.4,206.5 L1360.2,207.4 L1360.0,208.4 L1359.8,209.3 L1359.7,210.2 L1359.4,211.2 L1359.2,212.2 L1359.0,213.2 L1358.7,214.2 L1358.4,215.3 L1358.1,216.4 L1357.7,217.5 L1357.4,218.7 L1357.0,219.8 L1356.6,221.0 L1356.2,222.2 L1355.8,223.3 L1355.4,224.5 L1355.0,225.7 L1354.6,226.8 L1354.2,227.9 L1353.7,229.1 L1353.3,230.2 L1352.9,231.4 L1352.4,232.5 L1352.0,233.6 L1351.6,234.8 L1351.1,235.9 L1350.7,237.1 L1350.3,238.2 L1349.9,239.3 L1349.5,240.5 L1349.1,241.6 L1348.7,242.8 L1348.4,243.9 L1348.0,245.1 L1347.6,246.2 L1347.1,247.3 L1346.7,248.5 L1346.2,249.6 L1345.7,250.8 L1345.1,251.9 L1344.5,253.0 L1343.9,254.2 L1343.4,255.3 L1342.9,256.5 L1342.4,257.6 L1342.1,258.7 L1341.8,259.9 L1341.6,261.0 L1341.6,262.2 L1341.5,263.3 L1341.6,264.4 L1341.7,265.6 L1341.8,266.7 L1342.0,267.9 L1342.2,269.0 L1342.4,270.1 L1342.7,271.3 L1343.0,272.5 L1343.3,273.6 L1343.7,274.8 L1344.1,276.0 L1344.5,277.1 L1345.0,278.3 L1345.5,279.5 L1346.0,280.7 L1346.6,281.8 L1347.2,283.0 L1347.9,284.1 L1348.6,285.3 L1349.4,286.4 L1350.2,287.6 L1351.0,288.7 L1351.9,289.8 L1352.7,291.0 L1353.5,292.1 L1354.3,293.3 L1355.0,294.4 L1355.7,295.5 L1356.4,296.7 L1357.1,297.8 L1357.7,299.0 L1358.4,300.1 L1359.0,301.2 L1359.6,302.4 L1360.1,303.5 L1360.6,304.7 L1361.0,305.8 L1361.3,306.9 L1361.6,308.0 L1361.9,309.1 L1362.0,310.1 L1362.2,311.2 L1362.3,312.3 L1362.4,313.4 L1362.5,314.6 L1362.6,315.9 L1362.7,317.2 L1362.8,318.7 L1362.9,320.5 L1362.9,322.3 L1363.0,324.2 L1363.0,326.2 L1363.0,328.1 L1363.1,329.9 L1363.1,331.5 L1363.1,333.0 L1363.2,334.2 L1363.3,335.1 L1363.3,335.9 L1363.4,336.5 L1363.5,337.0 L1363.6,337.3 L1363.7,337.6 L1363.7,337.8 L1363.8,338.0 L1363.9,338.2 L1363.9,338.4 Z" fill="#f6c6ea" stroke="none"/>
<line x1="1342.6" y1="261.7" x2="1385.2" y2="261.7" stroke="#222" stroke-width="1.2" stroke-dasharray="4,3"/>
<line x1="1345.5" y1="277.1" x2="1382.3" y2="277.1" stroke="#222" stroke-width="1.2" stroke-dasharray="1.5,2.5"/>
<line x1="1351.7" y1="237.6" x2="1376.1" y2="237.6" stroke="#222" stroke-width="1.2" stroke-dasharray="1.5,2.5"/>
<path d="M1363.9,338.4 L1363.9,338.2 L1364.0,338.0 L1364.1,337.8 L1364.1,337.6 L1364.2,337.3 L1364.3,337.0 L1364.4,336.5 L1364.5,335.9 L1364.5,335.1 L1364.6,334.2 L1364.7,333.0 L1364.7,331.5 L1364.7,329.9 L1364.8,328.1 L1364.8,326.2 L1364.8,324.2 L1364.9,322.3 L1364.9,320.5 L1365.0,318.7 L1365.1,317.2 L1365.2,315.9 L1365.3,314.6 L1365.4,313.4 L1365.5,312.3 L1365.6,311.2 L1365.8,310.1 L1365.9,309.1 L1366.2,308.0 L1366.5,306.9 L1366.8,305.8 L1367.2,304.7 L1367.7,303.5 L1368.2,302.4 L1368.8,301.2 L1369.4,300.1 L1370.1,299.0 L1370.7,297.8 L1371.4,296.7 L1372.1,295.5 L1372.8,294.4 L1373.5,293.3 L1374.3,292.1 L1375.1,291.0 L1375.9,289.8 L1376.8,288.7 L1377.6,287.6 L1378.4,286.4 L1379.2,285.3 L1379.9,284.1 L1380.6,283.0 L1381.2,281.8 L1381.8,280.7 L1382.3,279.5 L1382.8,278.3 L1383.3,277.1 L1383.7,276.0 L1384.1,274.8 L1384.5,273.6 L1384.8,272.5 L1385.1,271.3 L1385.4,270.1 L1385.6,269.0 L1385.8,267.9 L1386.0,266.7 L1386.1,265.6 L1386.2,264.4 L1386.3,263.3 L1386.2,262.2 L1386.2,261.0 L1386.0,259.9 L1385.7,258.7 L1385.4,257.6 L1384.9,256.5 L1384.4,255.3 L1383.9,254.2 L1383.3,253.0 L1382.7,251.9 L1382.1,250.8 L1381.6,249.6 L1381.1,248.5 L1380.7,247.3 L1380.2,246.2 L1379.8,245.1 L1379.4,243.9 L1379.1,242.8 L1378.7,241.6 L1378.3,240.5 L1377.9,239.3 L1377.5,238.2 L1377.1,237.1 L1376.7,235.9 L1376.2,234.8 L1375.8,233.6 L1375.4,232.5 L1374.9,231.4 L1374.5,230.2 L1374.1,229.1 L1373.6,227.9 L1373.2,226.8 L1372.8,225.7 L1372.4,224.5 L1372.0,223.3 L1371.6,222.2 L1371.2,221.0 L1370.8,219.8 L1370.4,218.7 L1370.1,217.5 L1369.7,216.4 L1369.4,215.3 L1369.1,214.2 L1368.8,213.2 L1368.6,212.2 L1368.4,211.2 L1368.1,210.2 L1368.0,209.3 L1367.8,208.4 L1367.6,207.4 L1367.4,206.5 L1367.3,205.7 L1367.1,204.8 L1366.9,203.9 L1366.7,203.1 L1366.5,202.3 L1366.3,201.5 L1366.1,200.7 L1366.0,199.9 L1365.8,199.2 L1365.7,198.4 L1365.7,197.7 L1365.7,197.0 L1365.8,196.3 L1365.9,195.6 L1366.1,195.0 L1366.3,194.4 L1366.6,193.8 L1366.9,193.2 L1367.2,192.6 L1367.4,192.0 L1367.7,191.4 L1367.9,190.9 L1368.1,190.3 L1368.4,189.8 L1368.6,189.2 L1368.8,188.7 L1369.1,188.2 L1369.3,187.7 L1369.5,187.2 L1369.6,186.7 L1369.7,186.1 L1369.7,185.6 L1369.6,185.0 L1369.5,184.5 L1369.3,184.0 L1369.1,183.5 L1368.8,183.0 L1368.5,182.5 L1368.2,181.9 L1367.9,181.3 L1367.6,180.5 L1367.4,179.7 L1367.2,178.8 L1366.9,177.9 L1366.7,176.8 L1366.4,175.7 L1366.1,174.5 L1365.9,173.3 L1365.7,172.1 L1365.4,170.9 L1365.3,169.8 L1365.1,168.6 L1365.0,167.5 L1364.9,166.3 L1364.8,165.2 L1364.7,164.0 L1364.7,162.9 L1364.6,161.7 L1364.6,160.6 L1364.6,159.4 L1364.6,158.3 L1364.6,157.2 L1364.6,156.1 L1364.7,155.0 L1364.7,153.8 L1364.8,152.7 L1364.9,151.6 L1365.0,150.5 L1365.1,149.4 L1365.2,148.4 L1365.3,147.3 L1365.4,146.3 L1365.5,145.4 L1365.7,144.5 L1365.8,143.7 L1366.0,142.8 L1366.1,142.0 L1366.3,141.2 L1366.4,140.4 L1366.5,139.5 L1366.6,138.7 L1366.6,137.7 L1366.6,136.7 L1366.5,135.6 L1366.3,134.5 L1366.2,133.4 L1366.0,132.3 L1365.8,131.1 L1365.6,130.0 L1365.4,128.9 L1365.2,127.9 L1365.1,126.9 L1365.0,125.9 L1364.9,125.0 L1364.9,124.2 L1364.8,123.4 L1364.7,122.6 L1364.7,121.8 L1364.7,121.0 L1364.6,120.2 L1364.6,119.4 L1364.5,118.5 L1364.4,117.6 L1364.4,116.5 L1364.3,115.5 L1364.2,114.4 L1364.2,113.3 L1364.1,112.2 L1364.0,111.2 L1364.0,110.4 L1363.9,109.6 L1363.9,109.0 L1363.9,109.0 L1363.9,109.6 L1363.8,110.4 L1363.8,111.2 L1363.7,112.2 L1363.6,113.3 L1363.6,114.4 L1363.5,115.5 L1363.4,116.5 L1363.4,117.6 L1363.3,118.5 L1363.2,119.4 L1363.2,120.2 L1363.1,121.0 L1363.1,121.8 L1363.1,122.6 L1363.0,123.4 L1362.9,124.2 L1362.9,125.0 L1362.8,125.9 L1362.7,126.9 L1362.6,127.9 L1362.4,128.9 L1362.2,130.0 L1362.0,131.1 L1361.8,132.3 L1361.6,133.4 L1361.5,134.5 L1361.3,135.6 L1361.2,136.7 L1361.2,137.7 L1361.2,138.7 L1361.3,139.5 L1361.4,140.4 L1361.5,141.2 L1361.7,142.0 L1361.8,142.8 L1362.0,143.7 L1362.1,144.5 L1362.3,145.4 L1362.4,146.3 L1362.5,147.3 L1362.6,148.4 L1362.7,149.4 L1362.8,150.5 L1362.9,151.6 L1363.0,152.7 L1363.1,153.8 L1363.1,155.0 L1363.2,156.1 L1363.2,157.2 L1363.2,158.3 L1363.2,159.4 L1363.2,160.6 L1363.2,161.7 L1363.1,162.9 L1363.1,164.0 L1363.0,165.2 L1362.9,166.3 L1362.8,167.5 L1362.7,168.6 L1362.5,169.8 L1362.4,170.9 L1362.1,172.1 L1361.9,173.3 L1361.7,174.5 L1361.4,175.7 L1361.1,176.8 L1360.9,177.9 L1360.6,178.8 L1360.4,179.7 L1360.2,180.5 L1359.9,181.3 L1359.6,181.9 L1359.3,182.5 L1359.0,183.0 L1358.7,183.5 L1358.5,184.0 L1358.3,184.5 L1358.2,185.0 L1358.1,185.6 L1358.1,186.1 L1358.2,186.7 L1358.3,187.2 L1358.5,187.7 L1358.7,188.2 L1359.0,188.7 L1359.2,189.2 L1359.4,189.8 L1359.7,190.3 L1359.9,190.9 L1360.1,191.4 L1360.4,192.0 L1360.6,192.6 L1360.9,193.2 L1361.2,193.8 L1361.5,194.4 L1361.7,195.0 L1361.9,195.6 L1362.0,196.3 L1362.1,197.0 L1362.1,197.7 L1362.1,198.4 L1362.0,199.2 L1361.8,199.9 L1361.7,200.7 L1361.5,201.5 L1361.3,202.3 L1361.1,203.1 L1360.9,203.9 L1360.7,204.8 L1360.5,205.7 L1360.4,206.5 L1360.2,207.4 L1360.0,208.4 L1359.8,209.3 L1359.7,210.2 L1359.4,211.2 L1359.2,212.2 L1359.0,213.2 L1358.7,214.2 L1358.4,215.3 L1358.1,216.4 L1357.7,217.5 L1357.4,218.7 L1357.0,219.8 L1356.6,221.0 L1356.2,222.2 L1355.8,223.3 L1355.4,224.5 L1355.0,225.7 L1354.6,226.8 L1354.2,227.9 L1353.7,229.1 L1353.3,230.2 L1352.9,231.4 L1352.4,232.5 L1352.0,233.6 L1351.6,234.8 L1351.1,235.9 L1350.7,237.1 L1350.3,238.2 L1349.9,239.3 L1349.5,240.5 L1349.1,241.6 L1348.7,242.8 L1348.4,243.9 L1348.0,245.1 L1347.6,246.2 L1347.1,247.3 L1346.7,248.5 L1346.2,249.6 L1345.7,250.8 L1345.1,251.9 L1344.5,253.0 L1343.9,254.2 L1343.4,255.3 L1342.9,256.5 L1342.4,257.6 L1342.1,258.7 L1341.8,259.9 L1341.6,261.0 L1341.6,262.2 L1341.5,263.3 L1341.6,264.4 L1341.7,265.6 L1341.8,266.7 L1342.0,267.9 L1342.2,269.0 L1342.4,270.1 L1342.7,271.3 L1343.0,272.5 L1343.3,273.6 L1343.7,274.8 L1344.1,276.0 L1344.5,277.1 L1345.0,278.3 L1345.5,279.5 L1346.0,280.7 L1346.6,281.8 L1347.2,283.0 L1347.9,284.1 L1348.6,285.3 L1349.4,286.4 L1350.2,287.6 L1351.0,288.7 L1351.9,289.8 L1352.7,291.0 L1353.5,292.1 L1354.3,293.3 L1355.0,294.4 L1355.7,295.5 L1356.4,296.7 L1357.1,297.8 L1357.7,299.0 L1358.4,300.1 L1359.0,301.2 L1359.6,302.4 L1360.1,303.5 L1360.6,304.7 L1361.0,305.8 L1361.3,306.9 L1361.6,308.0 L1361.9,309.1 L1362.0,310.1 L1362.2,311.2 L1362.3,312.3 L1362.4,313.4 L1362.5,314.6 L1362.6,315.9 L1362.7,317.2 L1362.8,318.7 L1362.9,320.5 L1362.9,322.3 L1363.0,324.2 L1363.0,326.2 L1363.0,328.1 L1363.1,329.9 L1363.1,331.5 L1363.1,333.0 L1363.2,334.2 L1363.3,335.1 L1363.3,335.9 L1363.4,336.5 L1363.5,337.0 L1363.6,337.3 L1363.7,337.6 L1363.7,337.8 L1363.8,338.0 L1363.9,338.2 L1363.9,338.4 Z" fill="none" stroke="#cd0067" stroke-width="4.4" stroke-linejoin="round"/>
<g fill="#cd0067"><circle cx="1359.1" cy="241.1" r="3.9"/><circle cx="1368.2" cy="241.1" r="3.9"/><circle cx="1363.9" cy="249.1" r="3.9"/><circle cx="1350.5" cy="261.1" r="3.9"/><circle cx="1359.6" cy="260.0" r="3.9"/><circle cx="1368.8" cy="263.4" r="3.9"/><circle cx="1376.8" cy="261.7" r="3.9"/><circle cx="1368.2" cy="270.2" r="3.9"/><circle cx="1350.5" cy="274.2" r="3.9"/><circle cx="1359.6" cy="277.1" r="3.9"/><circle cx="1368.2" cy="277.1" r="3.9"/><circle cx="1376.8" cy="277.1" r="3.9"/><circle cx="1355.1" cy="285.1" r="3.9"/><circle cx="1363.9" cy="285.6" r="3.9"/><circle cx="1373.0" cy="286.2" r="3.9"/><circle cx="1363.9" cy="296.5" r="3.9"/><circle cx="1350.5" cy="236.5" r="3.9"/><circle cx="1377.9" cy="237.6" r="3.9"/><circle cx="1341.4" cy="261.7" r="3.9"/><circle cx="1386.7" cy="259.4" r="3.9"/><circle cx="1359.6" cy="217.6" r="3.9"/><circle cx="1367.7" cy="214.8" r="3.9"/><circle cx="1359.6" cy="186.1" r="3.9"/><circle cx="1368.8" cy="186.1" r="3.9"/><circle cx="1363.9" cy="134.4" r="3.9"/><circle cx="1363.9" cy="143.6" r="3.9"/><circle cx="1363.9" cy="314.7" r="3.9"/></g>
<text x="1674.5" y="35.5" font-size="21.5" text-anchor="middle" fill="#000" letter-spacing="0.2">Hemoglobin</text>
<text x="1504.5" y="210.0" font-size="23" font-weight="bold" text-anchor="middle" fill="#000" transform="rotate(-90 1504.5 210.0)">Hemoglobin (g/L)</text>
<path d="M1581.0,146.0h0M1590.3,146.0h0M1599.7,146.0h0M1609.0,146.0h0M1618.3,146.0h0M1627.6,146.0h0M1637.0,146.0h0M1646.3,146.0h0M1655.6,146.0h0M1665.0,146.0h0M1674.3,146.0h0M1683.6,146.0h0M1693.0,146.0h0M1702.3,146.0h0M1711.6,146.0h0M1720.9,146.0h0M1730.3,146.0h0M1739.6,146.0h0M1748.9,146.0h0M1758.3,146.0h0M1767.6,146.0h0M1776.9,146.0h0" stroke="#000" stroke-width="2.6" stroke-linecap="round"/>
<path d="M1581.0,184.9h0M1590.3,184.9h0M1599.7,184.9h0M1609.0,184.9h0M1618.3,184.9h0M1627.6,184.9h0M1637.0,184.9h0M1646.3,184.9h0M1655.6,184.9h0M1665.0,184.9h0M1674.3,184.9h0M1683.6,184.9h0M1693.0,184.9h0M1702.3,184.9h0M1711.6,184.9h0M1720.9,184.9h0M1730.3,184.9h0M1739.6,184.9h0M1748.9,184.9h0M1758.3,184.9h0M1767.6,184.9h0M1776.9,184.9h0" stroke="#000" stroke-width="2.6" stroke-linecap="round"/>
<line x1="1572.3" y1="69.7" x2="1572.3" y2="349.9" stroke="#000" stroke-width="3.2"/>
<line x1="1559.8" y1="348.4" x2="1573.8" y2="348.4" stroke="#000" stroke-width="3.2"/>
<text x="1556.0" y="357.1" font-size="23" font-weight="bold" text-anchor="end" fill="#000">0</text>
<line x1="1559.8" y1="279.1" x2="1573.8" y2="279.1" stroke="#000" stroke-width="3.2"/>
<text x="1556.0" y="287.8" font-size="23" font-weight="bold" text-anchor="end" fill="#000">50</text>
<line x1="1559.8" y1="209.8" x2="1573.8" y2="209.8" stroke="#000" stroke-width="3.2"/>
<text x="1556.0" y="218.5" font-size="23" font-weight="bold" text-anchor="end" fill="#000">100</text>
<line x1="1559.8" y1="140.5" x2="1573.8" y2="140.5" stroke="#000" stroke-width="3.2"/>
<text x="1556.0" y="149.2" font-size="23" font-weight="bold" text-anchor="end" fill="#000">150</text>
<line x1="1559.8" y1="71.2" x2="1573.8" y2="71.2" stroke="#000" stroke-width="3.2"/>
<text x="1556.0" y="79.9" font-size="23" font-weight="bold" text-anchor="end" fill="#000">200</text>
<line x1="1559.8" y1="184.9" x2="1573.8" y2="184.9" stroke="#000" stroke-width="3.2"/>
<line x1="1601.4" y1="378.0" x2="1778.2" y2="378.0" stroke="#000" stroke-width="3.2"/>
<line x1="1651.8" y1="378.0" x2="1651.8" y2="390.5" stroke="#000" stroke-width="3.2"/>
<line x1="1726.3" y1="378.0" x2="1726.3" y2="390.5" stroke="#000" stroke-width="3.2"/>
<text x="1689.5" y="422.0" font-size="21.5" text-anchor="middle" fill="#000">MIS-C</text>
<text x="1640.0" y="444.0" font-size="16.5" font-style="italic" text-anchor="middle" fill="#000">acute</text>
<text x="1722.0" y="444.0" font-size="16.5" font-style="italic" text-anchor="middle" fill="#000" letter-spacing="0.2">remission</text>
<text x="1683.0" y="96.0" font-size="40" font-weight="bold" text-anchor="middle" fill="#000" letter-spacing="2.4">**</text>
<line x1="1652.7" y1="96.0" x2="1713.6" y2="96.0" stroke="#444" stroke-width="1.6"/>
<path d="M1652.5,239.7 L1652.5,239.4 L1652.6,239.1 L1652.6,238.7 L1652.7,238.2 L1652.8,237.6 L1652.8,237.1 L1652.9,236.5 L1653.0,235.9 L1653.0,235.3 L1653.1,234.7 L1653.1,234.2 L1653.1,233.6 L1653.1,233.0 L1653.1,232.4 L1653.1,231.8 L1653.1,231.2 L1653.1,230.5 L1653.3,229.8 L1653.4,229.1 L1653.7,228.4 L1654.1,227.6 L1654.5,226.7 L1655.0,225.8 L1655.6,224.9 L1656.2,224.0 L1656.8,223.0 L1657.5,222.1 L1658.1,221.1 L1658.8,220.2 L1659.4,219.2 L1660.0,218.3 L1660.7,217.4 L1661.4,216.5 L1662.0,215.6 L1662.7,214.6 L1663.4,213.7 L1664.1,212.8 L1664.7,211.9 L1665.3,211.0 L1665.8,210.1 L1666.3,209.2 L1666.8,208.2 L1667.3,207.2 L1667.8,206.2 L1668.2,205.3 L1668.6,204.3 L1669.0,203.4 L1669.2,202.6 L1669.4,201.8 L1669.5,201.1 L1669.5,200.4 L1669.3,199.9 L1669.1,199.4 L1668.8,199.0 L1668.4,198.6 L1668.0,198.2 L1667.6,197.8 L1667.2,197.5 L1666.8,197.1 L1666.5,196.6 L1666.1,196.2 L1665.7,195.7 L1665.2,195.3 L1664.7,194.8 L1664.2,194.4 L1663.7,193.9 L1663.4,193.5 L1663.2,193.0 L1663.3,192.5 L1663.5,191.9 L1664.1,191.3 L1664.9,190.7 L1666.0,190.1 L1667.2,189.5 L1668.6,188.8 L1669.9,188.2 L1671.2,187.5 L1672.4,186.8 L1673.3,186.2 L1674.0,185.5 L1674.5,184.9 L1674.8,184.3 L1675.0,183.6 L1675.1,183.0 L1675.2,182.4 L1675.1,181.7 L1674.9,181.1 L1674.7,180.5 L1674.4,179.9 L1674.0,179.3 L1673.5,178.7 L1672.9,178.1 L1672.2,177.6 L1671.4,177.0 L1670.5,176.4 L1669.6,175.8 L1668.6,175.3 L1667.6,174.8 L1666.7,174.3 L1665.8,173.8 L1664.9,173.3 L1663.9,172.8 L1662.9,172.4 L1661.8,172.0 L1660.8,171.5 L1659.8,171.1 L1658.8,170.7 L1657.9,170.4 L1657.2,170.0 L1656.5,169.6 L1656.0,169.3 L1655.5,169.0 L1655.1,168.7 L1654.8,168.4 L1654.5,168.2 L1654.3,167.9 L1654.2,167.6 L1654.1,167.2 L1654.0,166.9 L1654.0,166.4 L1654.0,165.9 L1654.2,165.4 L1654.4,164.8 L1654.7,164.2 L1655.0,163.6 L1655.3,162.9 L1655.6,162.3 L1655.8,161.5 L1656.0,160.8 L1656.0,160.0 L1655.9,159.2 L1655.8,158.4 L1655.6,157.5 L1655.3,156.6 L1655.0,155.7 L1654.7,154.7 L1654.4,153.8 L1654.2,152.8 L1653.9,151.8 L1653.7,150.9 L1653.5,149.9 L1653.4,148.9 L1653.2,147.8 L1653.1,146.6 L1653.0,145.5 L1652.8,144.5 L1652.7,143.5 L1652.6,142.6 L1652.6,141.9 L1652.5,141.3 L1652.5,141.3 L1652.4,141.9 L1652.4,142.6 L1652.3,143.5 L1652.2,144.5 L1652.0,145.5 L1651.9,146.6 L1651.8,147.8 L1651.6,148.9 L1651.5,149.9 L1651.3,150.9 L1651.1,151.8 L1650.8,152.8 L1650.6,153.8 L1650.3,154.7 L1650.0,155.7 L1649.7,156.6 L1649.4,157.5 L1649.2,158.4 L1649.1,159.2 L1649.0,160.0 L1649.0,160.8 L1649.2,161.5 L1649.4,162.3 L1649.7,162.9 L1650.0,163.6 L1650.3,164.2 L1650.6,164.8 L1650.8,165.4 L1651.0,165.9 L1651.0,166.4 L1651.0,166.9 L1650.9,167.2 L1650.8,167.6 L1650.7,167.9 L1650.5,168.2 L1650.2,168.4 L1649.9,168.7 L1649.5,169.0 L1649.0,169.3 L1648.5,169.6 L1647.8,170.0 L1647.1,170.4 L1646.2,170.7 L1645.2,171.1 L1644.2,171.5 L1643.2,172.0 L1642.1,172.4 L1641.1,172.8 L1640.1,173.3 L1639.2,173.8 L1638.3,174.3 L1637.4,174.8 L1636.4,175.3 L1635.4,175.8 L1634.5,176.4 L1633.6,177.0 L1632.8,177.6 L1632.1,178.1 L1631.5,178.7 L1631.0,179.3 L1630.6,179.9 L1630.3,180.5 L1630.1,181.1 L1629.9,181.7 L1629.8,182.4 L1629.9,183.0 L1630.0,183.6 L1630.2,184.3 L1630.5,184.9 L1631.0,185.5 L1631.7,186.2 L1632.6,186.8 L1633.8,187.5 L1635.1,188.2 L1636.4,188.8 L1637.8,189.5 L1639.0,190.1 L1640.1,190.7 L1640.9,191.3 L1641.5,191.9 L1641.7,192.5 L1641.8,193.0 L1641.6,193.5 L1641.3,193.9 L1640.8,194.4 L1640.3,194.8 L1639.8,195.3 L1639.3,195.7 L1638.9,196.2 L1638.5,196.6 L1638.2,197.1 L1637.8,197.5 L1637.4,197.8 L1637.0,198.2 L1636.6,198.6 L1636.2,199.0 L1635.9,199.4 L1635.7,199.9 L1635.5,200.4 L1635.5,201.1 L1635.6,201.8 L1635.8,202.6 L1636.0,203.4 L1636.4,204.3 L1636.8,205.3 L1637.2,206.2 L1637.7,207.2 L1638.2,208.2 L1638.7,209.2 L1639.2,210.1 L1639.7,211.0 L1640.3,211.9 L1640.9,212.8 L1641.6,213.7 L1642.3,214.6 L1643.0,215.6 L1643.6,216.5 L1644.3,217.4 L1645.0,218.3 L1645.6,219.2 L1646.2,220.2 L1646.9,221.1 L1647.5,222.1 L1648.2,223.0 L1648.8,224.0 L1649.4,224.9 L1650.0,225.8 L1650.5,226.7 L1650.9,227.6 L1651.3,228.4 L1651.6,229.1 L1651.7,229.8 L1651.9,230.5 L1651.9,231.2 L1651.9,231.8 L1651.9,232.4 L1651.9,233.0 L1651.9,233.6 L1651.9,234.2 L1651.9,234.7 L1652.0,235.3 L1652.0,235.9 L1652.1,236.5 L1652.2,237.1 L1652.2,237.6 L1652.3,238.2 L1652.4,238.7 L1652.4,239.1 L1652.5,239.4 L1652.5,239.7 Z" fill="#fde0e0" stroke="none"/>
<line x1="1642.8" y1="193.2" x2="1662.2" y2="193.2" stroke="#222" stroke-width="1.2" stroke-dasharray="4,3"/>
<line x1="1637.4" y1="204.3" x2="1667.6" y2="204.3" stroke="#222" stroke-width="1.2" stroke-dasharray="1.5,2.5"/>
<path d="M1652.5,239.7 L1652.5,239.4 L1652.6,239.1 L1652.6,238.7 L1652.7,238.2 L1652.8,237.6 L1652.8,237.1 L1652.9,236.5 L1653.0,235.9 L1653.0,235.3 L1653.1,234.7 L1653.1,234.2 L1653.1,233.6 L1653.1,233.0 L1653.1,232.4 L1653.1,231.8 L1653.1,231.2 L1653.1,230.5 L1653.3,229.8 L1653.4,229.1 L1653.7,228.4 L1654.1,227.6 L1654.5,226.7 L1655.0,225.8 L1655.6,224.9 L1656.2,224.0 L1656.8,223.0 L1657.5,222.1 L1658.1,221.1 L1658.8,220.2 L1659.4,219.2 L1660.0,218.3 L1660.7,217.4 L1661.4,216.5 L1662.0,215.6 L1662.7,214.6 L1663.4,213.7 L1664.1,212.8 L1664.7,211.9 L1665.3,211.0 L1665.8,210.1 L1666.3,209.2 L1666.8,208.2 L1667.3,207.2 L1667.8,206.2 L1668.2,205.3 L1668.6,204.3 L1669.0,203.4 L1669.2,202.6 L1669.4,201.8 L1669.5,201.1 L1669.5,200.4 L1669.3,199.9 L1669.1,199.4 L1668.8,199.0 L1668.4,198.6 L1668.0,198.2 L1667.6,197.8 L1667.2,197.5 L1666.8,197.1 L1666.5,196.6 L1666.1,196.2 L1665.7,195.7 L1665.2,195.3 L1664.7,194.8 L1664.2,194.4 L1663.7,193.9 L1663.4,193.5 L1663.2,193.0 L1663.3,192.5 L1663.5,191.9 L1664.1,191.3 L1664.9,190.7 L1666.0,190.1 L1667.2,189.5 L1668.6,188.8 L1669.9,188.2 L1671.2,187.5 L1672.4,186.8 L1673.3,186.2 L1674.0,185.5 L1674.5,184.9 L1674.8,184.3 L1675.0,183.6 L1675.1,183.0 L1675.2,182.4 L1675.1,181.7 L1674.9,181.1 L1674.7,180.5 L1674.4,179.9 L1674.0,179.3 L1673.5,178.7 L1672.9,178.1 L1672.2,177.6 L1671.4,177.0 L1670.5,176.4 L1669.6,175.8 L1668.6,175.3 L1667.6,174.8 L1666.7,174.3 L1665.8,173.8 L1664.9,173.3 L1663.9,172.8 L1662.9,172.4 L1661.8,172.0 L1660.8,171.5 L1659.8,171.1 L1658.8,170.7 L1657.9,170.4 L1657.2,170.0 L1656.5,169.6 L1656.0,169.3 L1655.5,169.0 L1655.1,168.7 L1654.8,168.4 L1654.5,168.2 L1654.3,167.9 L1654.2,167.6 L1654.1,167.2 L1654.0,166.9 L1654.0,166.4 L1654.0,165.9 L1654.2,165.4 L1654.4,164.8 L1654.7,164.2 L1655.0,163.6 L1655.3,162.9 L1655.6,162.3 L1655.8,161.5 L1656.0,160.8 L1656.0,160.0 L1655.9,159.2 L1655.8,158.4 L1655.6,157.5 L1655.3,156.6 L1655.0,155.7 L1654.7,154.7 L1654.4,153.8 L1654.2,152.8 L1653.9,151.8 L1653.7,150.9 L1653.5,149.9 L1653.4,148.9 L1653.2,147.8 L1653.1,146.6 L1653.0,145.5 L1652.8,144.5 L1652.7,143.5 L1652.6,142.6 L1652.6,141.9 L1652.5,141.3 L1652.5,141.3 L1652.4,141.9 L1652.4,142.6 L1652.3,143.5 L1652.2,144.5 L1652.0,145.5 L1651.9,146.6 L1651.8,147.8 L1651.6,148.9 L1651.5,149.9 L1651.3,150.9 L1651.1,151.8 L1650.8,152.8 L1650.6,153.8 L1650.3,154.7 L1650.0,155.7 L1649.7,156.6 L1649.4,157.5 L1649.2,158.4 L1649.1,159.2 L1649.0,160.0 L1649.0,160.8 L1649.2,161.5 L1649.4,162.3 L1649.7,162.9 L1650.0,163.6 L1650.3,164.2 L1650.6,164.8 L1650.8,165.4 L1651.0,165.9 L1651.0,166.4 L1651.0,166.9 L1650.9,167.2 L1650.8,167.6 L1650.7,167.9 L1650.5,168.2 L1650.2,168.4 L1649.9,168.7 L1649.5,169.0 L1649.0,169.3 L1648.5,169.6 L1647.8,170.0 L1647.1,170.4 L1646.2,170.7 L1645.2,171.1 L1644.2,171.5 L1643.2,172.0 L1642.1,172.4 L1641.1,172.8 L1640.1,173.3 L1639.2,173.8 L1638.3,174.3 L1637.4,174.8 L1636.4,175.3 L1635.4,175.8 L1634.5,176.4 L1633.6,177.0 L1632.8,177.6 L1632.1,178.1 L1631.5,178.7 L1631.0,179.3 L1630.6,179.9 L1630.3,180.5 L1630.1,181.1 L1629.9,181.7 L1629.8,182.4 L1629.9,183.0 L1630.0,183.6 L1630.2,184.3 L1630.5,184.9 L1631.0,185.5 L1631.7,186.2 L1632.6,186.8 L1633.8,187.5 L1635.1,188.2 L1636.4,188.8 L1637.8,189.5 L1639.0,190.1 L1640.1,190.7 L1640.9,191.3 L1641.5,191.9 L1641.7,192.5 L1641.8,193.0 L1641.6,193.5 L1641.3,193.9 L1640.8,194.4 L1640.3,194.8 L1639.8,195.3 L1639.3,195.7 L1638.9,196.2 L1638.5,196.6 L1638.2,197.1 L1637.8,197.5 L1637.4,197.8 L1637.0,198.2 L1636.6,198.6 L1636.2,199.0 L1635.9,199.4 L1635.7,199.9 L1635.5,200.4 L1635.5,201.1 L1635.6,201.8 L1635.8,202.6 L1636.0,203.4 L1636.4,204.3 L1636.8,205.3 L1637.2,206.2 L1637.7,207.2 L1638.2,208.2 L1638.7,209.2 L1639.2,210.1 L1639.7,211.0 L1640.3,211.9 L1640.9,212.8 L1641.6,213.7 L1642.3,214.6 L1643.0,215.6 L1643.6,216.5 L1644.3,217.4 L1645.0,218.3 L1645.6,219.2 L1646.2,220.2 L1646.9,221.1 L1647.5,222.1 L1648.2,223.0 L1648.8,224.0 L1649.4,224.9 L1650.0,225.8 L1650.5,226.7 L1650.9,227.6 L1651.3,228.4 L1651.6,229.1 L1651.7,229.8 L1651.9,230.5 L1651.9,231.2 L1651.9,231.8 L1651.9,232.4 L1651.9,233.0 L1651.9,233.6 L1651.9,234.2 L1651.9,234.7 L1652.0,235.3 L1652.0,235.9 L1652.1,236.5 L1652.2,237.1 L1652.2,237.6 L1652.3,238.2 L1652.4,238.7 L1652.4,239.1 L1652.5,239.4 L1652.5,239.7 Z" fill="none" stroke="#ff0000" stroke-width="4.4" stroke-linejoin="round"/>
<g fill="#ff0000"><circle cx="1636.5" cy="176.5" r="3.9"/><circle cx="1630.5" cy="180.7" r="3.9"/><circle cx="1674.5" cy="180.7" r="3.9"/><circle cx="1674.5" cy="186.2" r="3.9"/><circle cx="1630.5" cy="186.2" r="3.9"/><circle cx="1644.5" cy="182.1" r="3.9"/><circle cx="1659.5" cy="179.3" r="3.9"/><circle cx="1666.5" cy="173.8" r="3.9"/><circle cx="1654.5" cy="184.9" r="3.9"/><circle cx="1642.5" cy="189.0" r="3.9"/><circle cx="1662.5" cy="190.4" r="3.9"/><circle cx="1652.5" cy="194.6" r="3.9"/><circle cx="1638.5" cy="202.9" r="3.9"/><circle cx="1648.5" cy="204.3" r="3.9"/><circle cx="1658.5" cy="202.9" r="3.9"/><circle cx="1670.5" cy="202.9" r="3.9"/><circle cx="1644.5" cy="211.2" r="3.9"/><circle cx="1660.5" cy="209.8" r="3.9"/><circle cx="1642.5" cy="201.5" r="3.9"/><circle cx="1652.5" cy="214.0" r="3.9"/><circle cx="1652.5" cy="173.8" r="3.9"/><circle cx="1652.5" cy="159.9" r="3.9"/><circle cx="1646.5" cy="219.5" r="3.9"/><circle cx="1658.5" cy="218.1" r="3.9"/></g>
<path d="M1726.7,230.0 L1726.7,229.7 L1726.8,229.4 L1726.8,228.9 L1726.9,228.4 L1727.0,227.9 L1727.0,227.3 L1727.1,226.8 L1727.2,226.2 L1727.2,225.6 L1727.3,225.0 L1727.3,224.5 L1727.4,223.9 L1727.4,223.4 L1727.4,222.8 L1727.4,222.2 L1727.4,221.7 L1727.5,221.1 L1727.5,220.5 L1727.6,219.8 L1727.7,219.2 L1727.8,218.6 L1728.0,218.0 L1728.2,217.3 L1728.4,216.6 L1728.6,216.0 L1728.8,215.3 L1729.1,214.6 L1729.3,213.9 L1729.5,213.3 L1729.7,212.6 L1729.9,211.9 L1730.0,211.2 L1730.2,210.6 L1730.4,210.0 L1730.5,209.3 L1730.7,208.6 L1730.8,207.9 L1731.0,207.2 L1731.3,206.4 L1731.5,205.5 L1731.7,204.6 L1731.9,203.5 L1732.1,202.4 L1732.3,201.3 L1732.5,200.1 L1732.8,199.0 L1733.2,197.8 L1733.6,196.7 L1734.2,195.6 L1735.0,194.6 L1736.0,193.6 L1737.3,192.6 L1738.8,191.6 L1740.4,190.7 L1742.1,189.8 L1743.8,188.9 L1745.3,188.0 L1746.7,187.1 L1747.8,186.3 L1748.6,185.5 L1749.1,184.8 L1749.4,184.1 L1749.4,183.4 L1749.4,182.8 L1749.2,182.1 L1748.8,181.5 L1748.5,180.9 L1748.0,180.4 L1747.6,179.8 L1747.2,179.3 L1746.7,178.8 L1746.2,178.3 L1745.5,177.9 L1744.8,177.5 L1744.0,177.0 L1743.2,176.7 L1742.5,176.3 L1741.8,175.9 L1741.2,175.5 L1740.7,175.1 L1740.3,174.8 L1739.8,174.5 L1739.4,174.2 L1739.0,173.9 L1738.6,173.6 L1738.4,173.3 L1738.2,173.0 L1738.2,172.7 L1738.4,172.3 L1738.7,171.8 L1739.4,171.3 L1740.4,170.8 L1741.8,170.2 L1743.3,169.5 L1744.9,168.9 L1746.4,168.2 L1747.7,167.5 L1748.7,166.8 L1749.4,166.1 L1749.5,165.4 L1749.1,164.8 L1748.1,164.1 L1746.8,163.4 L1745.2,162.6 L1743.4,161.9 L1741.6,161.2 L1739.7,160.4 L1738.0,159.7 L1736.5,159.0 L1735.4,158.2 L1734.5,157.5 L1733.8,156.8 L1733.1,156.0 L1732.6,155.3 L1732.1,154.5 L1731.8,153.8 L1731.4,153.0 L1731.1,152.3 L1730.9,151.6 L1730.6,150.9 L1730.4,150.2 L1730.2,149.6 L1730.1,149.0 L1730.1,148.4 L1730.0,147.8 L1730.0,147.2 L1730.1,146.6 L1730.1,146.0 L1730.2,145.3 L1730.2,144.7 L1730.3,144.0 L1730.4,143.3 L1730.5,142.6 L1730.7,141.9 L1730.9,141.2 L1731.0,140.4 L1731.2,139.7 L1731.3,138.9 L1731.3,138.1 L1731.3,137.3 L1731.2,136.5 L1731.0,135.5 L1730.8,134.6 L1730.6,133.6 L1730.3,132.6 L1730.0,131.7 L1729.7,130.7 L1729.5,129.8 L1729.2,128.9 L1729.0,128.2 L1728.8,127.5 L1728.6,126.8 L1728.5,126.2 L1728.3,125.7 L1728.2,125.2 L1728.0,124.6 L1727.9,124.1 L1727.7,123.6 L1727.6,123.1 L1727.5,122.5 L1727.4,121.8 L1727.3,121.1 L1727.2,120.4 L1727.1,119.6 L1727.0,118.9 L1726.9,118.1 L1726.9,117.5 L1726.8,116.9 L1726.7,116.4 L1726.7,116.0 L1726.7,116.0 L1726.7,116.4 L1726.6,116.9 L1726.5,117.5 L1726.5,118.1 L1726.4,118.9 L1726.3,119.6 L1726.2,120.4 L1726.1,121.1 L1726.0,121.8 L1725.9,122.5 L1725.8,123.1 L1725.7,123.6 L1725.5,124.1 L1725.4,124.6 L1725.2,125.2 L1725.1,125.7 L1724.9,126.2 L1724.8,126.8 L1724.6,127.5 L1724.4,128.2 L1724.2,128.9 L1723.9,129.8 L1723.7,130.7 L1723.4,131.7 L1723.1,132.6 L1722.8,133.6 L1722.6,134.6 L1722.4,135.5 L1722.2,136.5 L1722.1,137.3 L1722.1,138.1 L1722.1,138.9 L1722.2,139.7 L1722.4,140.4 L1722.5,141.2 L1722.7,141.9 L1722.9,142.6 L1723.0,143.3 L1723.1,144.0 L1723.2,144.7 L1723.2,145.3 L1723.3,146.0 L1723.3,146.6 L1723.4,147.2 L1723.4,147.8 L1723.3,148.4 L1723.3,149.0 L1723.2,149.6 L1723.0,150.2 L1722.8,150.9 L1722.5,151.6 L1722.3,152.3 L1722.0,153.0 L1721.6,153.8 L1721.3,154.5 L1720.8,155.3 L1720.3,156.0 L1719.6,156.8 L1718.9,157.5 L1718.0,158.2 L1716.9,159.0 L1715.4,159.7 L1713.7,160.4 L1711.8,161.2 L1710.0,161.9 L1708.2,162.6 L1706.6,163.4 L1705.3,164.1 L1704.3,164.8 L1703.9,165.4 L1704.0,166.1 L1704.7,166.8 L1705.7,167.5 L1707.0,168.2 L1708.5,168.9 L1710.1,169.5 L1711.6,170.2 L1713.0,170.8 L1714.0,171.3 L1714.7,171.8 L1715.0,172.3 L1715.2,172.7 L1715.2,173.0 L1715.0,173.3 L1714.8,173.6 L1714.4,173.9 L1714.0,174.2 L1713.6,174.5 L1713.1,174.8 L1712.7,175.1 L1712.2,175.5 L1711.6,175.9 L1710.9,176.3 L1710.2,176.7 L1709.4,177.0 L1708.6,177.5 L1707.9,177.9 L1707.2,178.3 L1706.7,178.8 L1706.2,179.3 L1705.8,179.8 L1705.4,180.4 L1704.9,180.9 L1704.6,181.5 L1704.2,182.1 L1704.0,182.8 L1704.0,183.4 L1704.0,184.1 L1704.3,184.8 L1704.8,185.5 L1705.6,186.3 L1706.7,187.1 L1708.1,188.0 L1709.6,188.9 L1711.3,189.8 L1713.0,190.7 L1714.6,191.6 L1716.1,192.6 L1717.4,193.6 L1718.4,194.6 L1719.2,195.6 L1719.8,196.7 L1720.2,197.8 L1720.6,199.0 L1720.9,200.1 L1721.1,201.3 L1721.3,202.4 L1721.5,203.5 L1721.7,204.6 L1721.9,205.5 L1722.1,206.4 L1722.4,207.2 L1722.6,207.9 L1722.7,208.6 L1722.9,209.3 L1723.0,210.0 L1723.2,210.6 L1723.4,211.2 L1723.5,211.9 L1723.7,212.6 L1723.9,213.3 L1724.1,213.9 L1724.3,214.6 L1724.6,215.3 L1724.8,216.0 L1725.0,216.6 L1725.2,217.3 L1725.4,218.0 L1725.6,218.6 L1725.7,219.2 L1725.8,219.8 L1725.9,220.5 L1725.9,221.1 L1726.0,221.7 L1726.0,222.2 L1726.0,222.8 L1726.0,223.4 L1726.0,223.9 L1726.1,224.5 L1726.1,225.0 L1726.2,225.6 L1726.2,226.2 L1726.3,226.8 L1726.4,227.3 L1726.4,227.9 L1726.5,228.4 L1726.6,228.9 L1726.6,229.4 L1726.7,229.7 L1726.7,230.0 Z" fill="#f6c6ea" stroke="none"/>
<line x1="1711.2" y1="176.5" x2="1742.2" y2="176.5" stroke="#222" stroke-width="1.2" stroke-dasharray="4,3"/>
<line x1="1714.0" y1="190.4" x2="1739.4" y2="190.4" stroke="#222" stroke-width="1.2" stroke-dasharray="1.5,2.5"/>
<line x1="1705.7" y1="166.8" x2="1747.7" y2="166.8" stroke="#222" stroke-width="1.2" stroke-dasharray="1.5,2.5"/>
<path d="M1726.7,230.0 L1726.7,229.7 L1726.8,229.4 L1726.8,228.9 L1726.9,228.4 L1727.0,227.9 L1727.0,227.3 L1727.1,226.8 L1727.2,226.2 L1727.2,225.6 L1727.3,225.0 L1727.3,224.5 L1727.4,223.9 L1727.4,223.4 L1727.4,222.8 L1727.4,222.2 L1727.4,221.7 L1727.5,221.1 L1727.5,220.5 L1727.6,219.8 L1727.7,219.2 L1727.8,218.6 L1728.0,218.0 L1728.2,217.3 L1728.4,216.6 L1728.6,216.0 L1728.8,215.3 L1729.1,214.6 L1729.3,213.9 L1729.5,213.3 L1729.7,212.6 L1729.9,211.9 L1730.0,211.2 L1730.2,210.6 L1730.4,210.0 L1730.5,209.3 L1730.7,208.6 L1730.8,207.9 L1731.0,207.2 L1731.3,206.4 L1731.5,205.5 L1731.7,204.6 L1731.9,203.5 L1732.1,202.4 L1732.3,201.3 L1732.5,200.1 L1732.8,199.0 L1733.2,197.8 L1733.6,196.7 L1734.2,195.6 L1735.0,194.6 L1736.0,193.6 L1737.3,192.6 L1738.8,191.6 L1740.4,190.7 L1742.1,189.8 L1743.8,188.9 L1745.3,188.0 L1746.7,187.1 L1747.8,186.3 L1748.6,185.5 L1749.1,184.8 L1749.4,184.1 L1749.4,183.4 L1749.4,182.8 L1749.2,182.1 L1748.8,181.5 L1748.5,180.9 L1748.0,180.4 L1747.6,179.8 L1747.2,179.3 L1746.7,178.8 L1746.2,178.3 L1745.5,177.9 L1744.8,177.5 L1744.0,177.0 L1743.2,176.7 L1742.5,176.3 L1741.8,175.9 L1741.2,175.5 L1740.7,175.1 L1740.3,174.8 L1739.8,174.5 L1739.4,174.2 L1739.0,173.9 L1738.6,173.6 L1738.4,173.3 L1738.2,173.0 L1738.2,172.7 L1738.4,172.3 L1738.7,171.8 L1739.4,171.3 L1740.4,170.8 L1741.8,170.2 L1743.3,169.5 L1744.9,168.9 L1746.4,168.2 L1747.7,167.5 L1748.7,166.8 L1749.4,166.1 L1749.5,165.4 L1749.1,164.8 L1748.1,164.1 L1746.8,163.4 L1745.2,162.6 L1743.4,161.9 L1741.6,161.2 L1739.7,160.4 L1738.0,159.7 L1736.5,159.0 L1735.4,158.2 L1734.5,157.5 L1733.8,156.8 L1733.1,156.0 L1732.6,155.3 L1732.1,154.5 L1731.8,153.8 L1731.4,153.0 L1731.1,152.3 L1730.9,151.6 L1730.6,150.9 L1730.4,150.2 L1730.2,149.6 L1730.1,149.0 L1730.1,148.4 L1730.0,147.8 L1730.0,147.2 L1730.1,146.6 L1730.1,146.0 L1730.2,145.3 L1730.2,144.7 L1730.3,144.0 L1730.4,143.3 L1730.5,142.6 L1730.7,141.9 L1730.9,141.2 L1731.0,140.4 L1731.2,139.7 L1731.3,138.9 L1731.3,138.1 L1731.3,137.3 L1731.2,136.5 L1731.0,135.5 L1730.8,134.6 L1730.6,133.6 L1730.3,132.6 L1730.0,131.7 L1729.7,130.7 L1729.5,129.8 L1729.2,128.9 L1729.0,128.2 L1728.8,127.5 L1728.6,126.8 L1728.5,126.2 L1728.3,125.7 L1728.2,125.2 L1728.0,124.6 L1727.9,124.1 L1727.7,123.6 L1727.6,123.1 L1727.5,122.5 L1727.4,121.8 L1727.3,121.1 L1727.2,120.4 L1727.1,119.6 L1727.0,118.9 L1726.9,118.1 L1726.9,117.5 L1726.8,116.9 L1726.7,116.4 L1726.7,116.0 L1726.7,116.0 L1726.7,116.4 L1726.6,116.9 L1726.5,117.5 L1726.5,118.1 L1726.4,118.9 L1726.3,119.6 L1726.2,120.4 L1726.1,121.1 L1726.0,121.8 L1725.9,122.5 L1725.8,123.1 L1725.7,123.6 L1725.5,124.1 L1725.4,124.6 L1725.2,125.2 L1725.1,125.7 L1724.9,126.2 L1724.8,126.8 L1724.6,127.5 L1724.4,128.2 L1724.2,128.9 L1723.9,129.8 L1723.7,130.7 L1723.4,131.7 L1723.1,132.6 L1722.8,133.6 L1722.6,134.6 L1722.4,135.5 L1722.2,136.5 L1722.1,137.3 L1722.1,138.1 L1722.1,138.9 L1722.2,139.7 L1722.4,140.4 L1722.5,141.2 L1722.7,141.9 L1722.9,142.6 L1723.0,143.3 L1723.1,144.0 L1723.2,144.7 L1723.2,145.3 L1723.3,146.0 L1723.3,146.6 L1723.4,147.2 L1723.4,147.8 L1723.3,148.4 L1723.3,149.0 L1723.2,149.6 L1723.0,150.2 L1722.8,150.9 L1722.5,151.6 L1722.3,152.3 L1722.0,153.0 L1721.6,153.8 L1721.3,154.5 L1720.8,155.3 L1720.3,156.0 L1719.6,156.8 L1718.9,157.5 L1718.0,158.2 L1716.9,159.0 L1715.4,159.7 L1713.7,160.4 L1711.8,161.2 L1710.0,161.9 L1708.2,162.6 L1706.6,163.4 L1705.3,164.1 L1704.3,164.8 L1703.9,165.4 L1704.0,166.1 L1704.7,166.8 L1705.7,167.5 L1707.0,168.2 L1708.5,168.9 L1710.1,169.5 L1711.6,170.2 L1713.0,170.8 L1714.0,171.3 L1714.7,171.8 L1715.0,172.3 L1715.2,172.7 L1715.2,173.0 L1715.0,173.3 L1714.8,173.6 L1714.4,173.9 L1714.0,174.2 L1713.6,174.5 L1713.1,174.8 L1712.7,175.1 L1712.2,175.5 L1711.6,175.9 L1710.9,176.3 L1710.2,176.7 L1709.4,177.0 L1708.6,177.5 L1707.9,177.9 L1707.2,178.3 L1706.7,178.8 L1706.2,179.3 L1705.8,179.8 L1705.4,180.4 L1704.9,180.9 L1704.6,181.5 L1704.2,182.1 L1704.0,182.8 L1704.0,183.4 L1704.0,184.1 L1704.3,184.8 L1704.8,185.5 L1705.6,186.3 L1706.7,187.1 L1708.1,188.0 L1709.6,188.9 L1711.3,189.8 L1713.0,190.7 L1714.6,191.6 L1716.1,192.6 L1717.4,193.6 L1718.4,194.6 L1719.2,195.6 L1719.8,196.7 L1720.2,197.8 L1720.6,199.0 L1720.9,200.1 L1721.1,201.3 L1721.3,202.4 L1721.5,203.5 L1721.7,204.6 L1721.9,205.5 L1722.1,206.4 L1722.4,207.2 L1722.6,207.9 L1722.7,208.6 L1722.9,209.3 L1723.0,210.0 L1723.2,210.6 L1723.4,211.2 L1723.5,211.9 L1723.7,212.6 L1723.9,213.3 L1724.1,213.9 L1724.3,214.6 L1724.6,215.3 L1724.8,216.0 L1725.0,216.6 L1725.2,217.3 L1725.4,218.0 L1725.6,218.6 L1725.7,219.2 L1725.8,219.8 L1725.9,220.5 L1725.9,221.1 L1726.0,221.7 L1726.0,222.2 L1726.0,222.8 L1726.0,223.4 L1726.0,223.9 L1726.1,224.5 L1726.1,225.0 L1726.2,225.6 L1726.2,226.2 L1726.3,226.8 L1726.4,227.3 L1726.4,227.9 L1726.5,228.4 L1726.6,228.9 L1726.6,229.4 L1726.7,229.7 L1726.7,230.0 Z" fill="none" stroke="#cd0067" stroke-width="4.4" stroke-linejoin="round"/>
<g fill="#cd0067"><circle cx="1734.2" cy="132.9" r="3.9"/><circle cx="1718.7" cy="165.4" r="3.9"/><circle cx="1726.7" cy="164.1" r="3.9"/><circle cx="1734.7" cy="164.8" r="3.9"/><circle cx="1704.7" cy="165.4" r="3.9"/><circle cx="1748.7" cy="165.4" r="3.9"/><circle cx="1726.7" cy="168.2" r="3.9"/><circle cx="1718.7" cy="182.1" r="3.9"/><circle cx="1732.7" cy="182.1" r="3.9"/><circle cx="1740.7" cy="180.7" r="3.9"/><circle cx="1748.7" cy="183.5" r="3.9"/><circle cx="1704.7" cy="184.9" r="3.9"/><circle cx="1726.7" cy="187.6" r="3.9"/><circle cx="1718.7" cy="186.2" r="3.9"/><circle cx="1734.7" cy="186.2" r="3.9"/><circle cx="1726.7" cy="194.6" r="3.9"/><circle cx="1726.7" cy="200.1" r="3.9"/><circle cx="1706.7" cy="179.3" r="3.9"/><circle cx="1746.7" cy="175.1" r="3.9"/><circle cx="1734.7" cy="204.3" r="3.9"/><circle cx="1726.7" cy="153.0" r="3.9"/><circle cx="1726.7" cy="144.7" r="3.9"/></g>
<text x="219.4" y="546.5" font-size="21.5" text-anchor="middle" fill="#000" letter-spacing="0.2">Ferritin</text>
<text x="34.7" y="721.4" font-size="23" font-weight="bold" text-anchor="middle" fill="#000" transform="rotate(-90 34.7 721.4)">Ferritin (ug/L)</text>
<path d="M127.5,850.9h0M136.8,850.9h0M146.2,850.9h0M155.5,850.9h0M164.8,850.9h0M174.2,850.9h0M183.5,850.9h0M192.8,850.9h0M202.1,850.9h0M211.5,850.9h0M220.8,850.9h0M230.1,850.9h0M239.5,850.9h0M248.8,850.9h0M258.1,850.9h0M267.5,850.9h0M276.8,850.9h0M286.1,850.9h0M295.4,850.9h0M304.8,850.9h0M314.1,850.9h0" stroke="#000" stroke-width="2.6" stroke-linecap="round"/>
<path d="M127.5,860.6h0M136.8,860.6h0M146.2,860.6h0M155.5,860.6h0M164.8,860.6h0M174.2,860.6h0M183.5,860.6h0M192.8,860.6h0M202.1,860.6h0M211.5,860.6h0M220.8,860.6h0M230.1,860.6h0M239.5,860.6h0M248.8,860.6h0M258.1,860.6h0M267.5,860.6h0M276.8,860.6h0M286.1,860.6h0M295.4,860.6h0M304.8,860.6h0M314.1,860.6h0" stroke="#000" stroke-width="2.6" stroke-linecap="round"/>
<line x1="118.3" y1="581.9" x2="118.3" y2="862.1" stroke="#000" stroke-width="3.2"/>
<line x1="105.8" y1="860.6" x2="119.8" y2="860.6" stroke="#000" stroke-width="3.2"/>
<text x="102.0" y="869.3" font-size="23" font-weight="bold" text-anchor="end" fill="#000">0</text>
<line x1="105.8" y1="791.3" x2="119.8" y2="791.3" stroke="#000" stroke-width="3.2"/>
<text x="102.0" y="800.0" font-size="23" font-weight="bold" text-anchor="end" fill="#000">1000</text>
<line x1="105.8" y1="722.0" x2="119.8" y2="722.0" stroke="#000" stroke-width="3.2"/>
<text x="102.0" y="730.7" font-size="23" font-weight="bold" text-anchor="end" fill="#000">2000</text>
<line x1="105.8" y1="652.7" x2="119.8" y2="652.7" stroke="#000" stroke-width="3.2"/>
<text x="102.0" y="661.4" font-size="23" font-weight="bold" text-anchor="end" fill="#000">3000</text>
<line x1="105.8" y1="583.4" x2="119.8" y2="583.4" stroke="#000" stroke-width="3.2"/>
<text x="102.0" y="592.1" font-size="23" font-weight="bold" text-anchor="end" fill="#000">4000</text>
<line x1="105.8" y1="850.9" x2="119.8" y2="850.9" stroke="#000" stroke-width="3.2"/>
<line x1="146.8" y1="892.3" x2="323.8" y2="892.3" stroke="#000" stroke-width="3.2"/>
<line x1="197.2" y1="892.3" x2="197.2" y2="904.8" stroke="#000" stroke-width="3.2"/>
<line x1="272.3" y1="892.3" x2="272.3" y2="904.8" stroke="#000" stroke-width="3.2"/>
<text x="235.0" y="934.0" font-size="21.5" text-anchor="middle" fill="#000">MIS-C</text>
<text x="185.7" y="957.0" font-size="16.5" font-style="italic" text-anchor="middle" fill="#000">acute</text>
<text x="268.2" y="957.0" font-size="16.5" font-style="italic" text-anchor="middle" fill="#000" letter-spacing="0.2">remission</text>
<text x="231.2" y="604.9" font-size="40" font-weight="bold" text-anchor="middle" fill="#000" letter-spacing="2.4">***</text>
<line x1="201.6" y1="604.9" x2="262.9" y2="604.9" stroke="#444" stroke-width="1.6"/>
<path d="M201.1,863.4 L201.4,863.2 L201.8,863.1 L202.4,862.9 L202.9,862.6 L203.5,862.4 L204.1,862.1 L204.8,861.8 L205.4,861.4 L205.9,861.0 L206.4,860.6 L206.8,860.1 L207.2,859.6 L207.5,859.0 L207.9,858.4 L208.2,857.7 L208.5,857.1 L208.8,856.4 L209.2,855.7 L209.6,855.0 L210.1,854.3 L210.7,853.6 L211.3,852.9 L212.0,852.2 L212.7,851.5 L213.5,850.7 L214.2,850.0 L214.9,849.2 L215.6,848.4 L216.2,847.7 L216.7,846.9 L217.1,846.1 L217.5,845.3 L217.8,844.5 L218.1,843.7 L218.4,842.9 L218.6,842.0 L218.8,841.2 L219.0,840.3 L219.1,839.4 L219.3,838.5 L219.4,837.5 L219.6,836.5 L219.7,835.5 L219.8,834.5 L219.8,833.4 L219.9,832.4 L219.9,831.3 L219.9,830.2 L219.9,829.1 L219.8,828.1 L219.7,827.1 L219.7,826.1 L219.6,825.1 L219.6,824.2 L219.4,823.2 L219.3,822.2 L219.0,821.2 L218.7,820.1 L218.3,818.9 L217.7,817.6 L217.0,816.3 L216.0,814.8 L215.0,813.3 L213.8,811.7 L212.6,810.1 L211.4,808.4 L210.2,806.8 L209.1,805.1 L208.1,803.5 L207.2,801.9 L206.5,800.3 L205.8,798.7 L205.2,797.0 L204.6,795.4 L204.1,793.7 L203.6,792.1 L203.2,790.5 L202.8,789.0 L202.5,787.5 L202.2,786.2 L202.0,784.9 L201.8,783.7 L201.7,782.6 L201.6,781.5 L201.6,780.5 L201.6,779.5 L201.6,778.5 L201.7,777.6 L201.7,776.7 L201.7,775.7 L201.7,774.8 L201.8,773.9 L201.8,773.0 L201.9,772.1 L202.0,771.2 L202.0,770.4 L202.1,769.6 L202.2,768.7 L202.3,767.9 L202.4,767.0 L202.5,766.2 L202.6,765.4 L202.8,764.6 L202.9,763.8 L203.0,763.0 L203.2,762.2 L203.3,761.4 L203.3,760.6 L203.3,759.7 L203.3,758.9 L203.2,758.0 L203.0,757.0 L202.8,756.1 L202.6,755.1 L202.3,754.1 L202.0,753.2 L201.8,752.2 L201.5,751.3 L201.3,750.5 L201.1,749.7 L201.0,749.1 L200.8,748.6 L200.7,748.3 L200.6,748.0 L200.5,747.8 L200.4,747.4 L200.4,747.0 L200.3,746.3 L200.2,745.5 L200.2,744.3 L200.2,742.8 L200.2,741.1 L200.2,739.2 L200.2,737.0 L200.2,734.8 L200.2,732.5 L200.2,730.1 L200.2,727.8 L200.2,725.5 L200.2,723.3 L200.2,721.2 L200.1,719.1 L200.1,717.0 L200.0,714.9 L200.0,712.9 L199.9,710.8 L199.8,708.7 L199.8,706.6 L199.7,704.5 L199.6,702.4 L199.5,700.3 L199.4,698.2 L199.3,696.0 L199.2,693.9 L199.1,691.8 L199.0,689.6 L198.9,687.5 L198.8,685.4 L198.7,683.4 L198.6,681.4 L198.5,679.3 L198.4,677.2 L198.3,675.0 L198.3,672.8 L198.2,670.7 L198.1,668.7 L198.0,666.8 L198.0,665.1 L197.9,663.7 L197.9,662.6 L197.9,662.6 L197.9,663.7 L197.8,665.1 L197.8,666.8 L197.7,668.7 L197.6,670.7 L197.5,672.8 L197.5,675.0 L197.4,677.2 L197.3,679.3 L197.2,681.4 L197.1,683.4 L197.0,685.4 L196.9,687.5 L196.8,689.6 L196.7,691.8 L196.6,693.9 L196.5,696.0 L196.4,698.2 L196.3,700.3 L196.2,702.4 L196.1,704.5 L196.0,706.6 L196.0,708.7 L195.9,710.8 L195.8,712.9 L195.8,714.9 L195.7,717.0 L195.7,719.1 L195.6,721.2 L195.6,723.3 L195.6,725.5 L195.6,727.8 L195.6,730.1 L195.6,732.5 L195.6,734.8 L195.6,737.0 L195.6,739.2 L195.6,741.1 L195.6,742.8 L195.6,744.3 L195.6,745.5 L195.5,746.3 L195.4,747.0 L195.4,747.4 L195.3,747.8 L195.2,748.0 L195.1,748.3 L195.0,748.6 L194.8,749.1 L194.7,749.7 L194.5,750.5 L194.3,751.3 L194.0,752.2 L193.8,753.2 L193.5,754.1 L193.2,755.1 L193.0,756.1 L192.8,757.0 L192.6,758.0 L192.5,758.9 L192.5,759.7 L192.5,760.6 L192.5,761.4 L192.6,762.2 L192.8,763.0 L192.9,763.8 L193.0,764.6 L193.2,765.4 L193.3,766.2 L193.4,767.0 L193.5,767.9 L193.6,768.7 L193.7,769.6 L193.8,770.4 L193.8,771.2 L193.9,772.1 L194.0,773.0 L194.0,773.9 L194.1,774.8 L194.1,775.7 L194.1,776.7 L194.1,777.6 L194.2,778.5 L194.2,779.5 L194.2,780.5 L194.2,781.5 L194.1,782.6 L194.0,783.7 L193.8,784.9 L193.6,786.2 L193.3,787.5 L193.0,789.0 L192.6,790.5 L192.2,792.1 L191.7,793.7 L191.2,795.4 L190.6,797.0 L190.0,798.7 L189.3,800.3 L188.6,801.9 L187.7,803.5 L186.7,805.1 L185.6,806.8 L184.4,808.4 L183.2,810.1 L182.0,811.7 L180.8,813.3 L179.8,814.8 L178.8,816.3 L178.1,817.6 L177.5,818.9 L177.1,820.1 L176.8,821.2 L176.5,822.2 L176.4,823.2 L176.2,824.2 L176.2,825.1 L176.1,826.1 L176.1,827.1 L176.0,828.1 L175.9,829.1 L175.9,830.2 L175.9,831.3 L175.9,832.4 L176.0,833.4 L176.0,834.5 L176.1,835.5 L176.2,836.5 L176.4,837.5 L176.5,838.5 L176.7,839.4 L176.8,840.3 L177.0,841.2 L177.2,842.0 L177.4,842.9 L177.7,843.7 L178.0,844.5 L178.3,845.3 L178.7,846.1 L179.1,846.9 L179.6,847.7 L180.2,848.4 L180.9,849.2 L181.6,850.0 L182.3,850.7 L183.1,851.5 L183.8,852.2 L184.5,852.9 L185.1,853.6 L185.7,854.3 L186.2,855.0 L186.6,855.7 L187.0,856.4 L187.3,857.1 L187.6,857.7 L187.9,858.4 L188.3,859.0 L188.6,859.6 L189.0,860.1 L189.4,860.6 L189.9,861.0 L190.4,861.4 L191.0,861.8 L191.7,862.1 L192.3,862.4 L192.9,862.6 L193.4,862.9 L194.0,863.1 L194.4,863.2 L194.7,863.4 Z" fill="#fde0e0" stroke="none"/>
<line x1="177.2" y1="824.4" x2="218.6" y2="824.4" stroke="#222" stroke-width="1.2" stroke-dasharray="4,3"/>
<line x1="177.4" y1="837.5" x2="218.4" y2="837.5" stroke="#222" stroke-width="1.2" stroke-dasharray="1.5,2.5"/>
<path d="M201.1,863.4 L201.4,863.2 L201.8,863.1 L202.4,862.9 L202.9,862.6 L203.5,862.4 L204.1,862.1 L204.8,861.8 L205.4,861.4 L205.9,861.0 L206.4,860.6 L206.8,860.1 L207.2,859.6 L207.5,859.0 L207.9,858.4 L208.2,857.7 L208.5,857.1 L208.8,856.4 L209.2,855.7 L209.6,855.0 L210.1,854.3 L210.7,853.6 L211.3,852.9 L212.0,852.2 L212.7,851.5 L213.5,850.7 L214.2,850.0 L214.9,849.2 L215.6,848.4 L216.2,847.7 L216.7,846.9 L217.1,846.1 L217.5,845.3 L217.8,844.5 L218.1,843.7 L218.4,842.9 L218.6,842.0 L218.8,841.2 L219.0,840.3 L219.1,839.4 L219.3,838.5 L219.4,837.5 L219.6,836.5 L219.7,835.5 L219.8,834.5 L219.8,833.4 L219.9,832.4 L219.9,831.3 L219.9,830.2 L219.9,829.1 L219.8,828.1 L219.7,827.1 L219.7,826.1 L219.6,825.1 L219.6,824.2 L219.4,823.2 L219.3,822.2 L219.0,821.2 L218.7,820.1 L218.3,818.9 L217.7,817.6 L217.0,816.3 L216.0,814.8 L215.0,813.3 L213.8,811.7 L212.6,810.1 L211.4,808.4 L210.2,806.8 L209.1,805.1 L208.1,803.5 L207.2,801.9 L206.5,800.3 L205.8,798.7 L205.2,797.0 L204.6,795.4 L204.1,793.7 L203.6,792.1 L203.2,790.5 L202.8,789.0 L202.5,787.5 L202.2,786.2 L202.0,784.9 L201.8,783.7 L201.7,782.6 L201.6,781.5 L201.6,780.5 L201.6,779.5 L201.6,778.5 L201.7,777.6 L201.7,776.7 L201.7,775.7 L201.7,774.8 L201.8,773.9 L201.8,773.0 L201.9,772.1 L202.0,771.2 L202.0,770.4 L202.1,769.6 L202.2,768.7 L202.3,767.9 L202.4,767.0 L202.5,766.2 L202.6,765.4 L202.8,764.6 L202.9,763.8 L203.0,763.0 L203.2,762.2 L203.3,761.4 L203.3,760.6 L203.3,759.7 L203.3,758.9 L203.2,758.0 L203.0,757.0 L202.8,756.1 L202.6,755.1 L202.3,754.1 L202.0,753.2 L201.8,752.2 L201.5,751.3 L201.3,750.5 L201.1,749.7 L201.0,749.1 L200.8,748.6 L200.7,748.3 L200.6,748.0 L200.5,747.8 L200.4,747.4 L200.4,747.0 L200.3,746.3 L200.2,745.5 L200.2,744.3 L200.2,742.8 L200.2,741.1 L200.2,739.2 L200.2,737.0 L200.2,734.8 L200.2,732.5 L200.2,730.1 L200.2,727.8 L200.2,725.5 L200.2,723.3 L200.2,721.2 L200.1,719.1 L200.1,717.0 L200.0,714.9 L200.0,712.9 L199.9,710.8 L199.8,708.7 L199.8,706.6 L199.7,704.5 L199.6,702.4 L199.5,700.3 L199.4,698.2 L199.3,696.0 L199.2,693.9 L199.1,691.8 L199.0,689.6 L198.9,687.5 L198.8,685.4 L198.7,683.4 L198.6,681.4 L198.5,679.3 L198.4,677.2 L198.3,675.0 L198.3,672.8 L198.2,670.7 L198.1,668.7 L198.0,666.8 L198.0,665.1 L197.9,663.7 L197.9,662.6" fill="none" stroke="#ff0000" stroke-width="4.4" stroke-linejoin="round" stroke-linecap="round"/>
<path d="M197.9,662.6 L197.9,663.7 L197.8,665.1 L197.8,666.8 L197.7,668.7 L197.6,670.7 L197.5,672.8 L197.5,675.0 L197.4,677.2 L197.3,679.3 L197.2,681.4 L197.1,683.4 L197.0,685.4 L196.9,687.5 L196.8,689.6 L196.7,691.8 L196.6,693.9 L196.5,696.0 L196.4,698.2 L196.3,700.3 L196.2,702.4 L196.1,704.5 L196.0,706.6 L196.0,708.7 L195.9,710.8 L195.8,712.9 L195.8,714.9 L195.7,717.0 L195.7,719.1 L195.6,721.2 L195.6,723.3 L195.6,725.5 L195.6,727.8 L195.6,730.1 L195.6,732.5 L195.6,734.8 L195.6,737.0 L195.6,739.2 L195.6,741.1 L195.6,742.8 L195.6,744.3 L195.6,745.5 L195.5,746.3 L195.4,747.0 L195.4,747.4 L195.3,747.8 L195.2,748.0 L195.1,748.3 L195.0,748.6 L194.8,749.1 L194.7,749.7 L194.5,750.5 L194.3,751.3 L194.0,752.2 L193.8,753.2 L193.5,754.1 L193.2,755.1 L193.0,756.1 L192.8,757.0 L192.6,758.0 L192.5,758.9 L192.5,759.7 L192.5,760.6 L192.5,761.4 L192.6,762.2 L192.8,763.0 L192.9,763.8 L193.0,764.6 L193.2,765.4 L193.3,766.2 L193.4,767.0 L193.5,767.9 L193.6,768.7 L193.7,769.6 L193.8,770.4 L193.8,771.2 L193.9,772.1 L194.0,773.0 L194.0,773.9 L194.1,774.8 L194.1,775.7 L194.1,776.7 L194.1,777.6 L194.2,778.5 L194.2,779.5 L194.2,780.5 L194.2,781.5 L194.1,782.6 L194.0,783.7 L193.8,784.9 L193.6,786.2 L193.3,787.5 L193.0,789.0 L192.6,790.5 L192.2,792.1 L191.7,793.7 L191.2,795.4 L190.6,797.0 L190.0,798.7 L189.3,800.3 L188.6,801.9 L187.7,803.5 L186.7,805.1 L185.6,806.8 L184.4,808.4 L183.2,810.1 L182.0,811.7 L180.8,813.3 L179.8,814.8 L178.8,816.3 L178.1,817.6 L177.5,818.9 L177.1,820.1 L176.8,821.2 L176.5,822.2 L176.4,823.2 L176.2,824.2 L176.2,825.1 L176.1,826.1 L176.1,827.1 L176.0,828.1 L175.9,829.1 L175.9,830.2 L175.9,831.3 L175.9,832.4 L176.0,833.4 L176.0,834.5 L176.1,835.5 L176.2,836.5 L176.4,837.5 L176.5,838.5 L176.7,839.4 L176.8,840.3 L177.0,841.2 L177.2,842.0 L177.4,842.9 L177.7,843.7 L178.0,844.5 L178.3,845.3 L178.7,846.1 L179.1,846.9 L179.6,847.7 L180.2,848.4 L180.9,849.2 L181.6,850.0 L182.3,850.7 L183.1,851.5 L183.8,852.2 L184.5,852.9 L185.1,853.6 L185.7,854.3 L186.2,855.0 L186.6,855.7 L187.0,856.4 L187.3,857.1 L187.6,857.7 L187.9,858.4 L188.3,859.0 L188.6,859.6 L189.0,860.1 L189.4,860.6 L189.9,861.0 L190.4,861.4 L191.0,861.8 L191.7,862.1 L192.3,862.4 L192.9,862.6 L193.4,862.9 L194.0,863.1 L194.4,863.2 L194.7,863.4" fill="none" stroke="#ff0000" stroke-width="4.4" stroke-linejoin="round" stroke-linecap="round"/>
<g fill="#ff0000"><circle cx="197.9" cy="761.0" r="3.9"/><circle cx="197.9" cy="772.6" r="3.9"/><circle cx="188.3" cy="758.9" r="3.9"/><circle cx="207.6" cy="758.9" r="3.9"/><circle cx="192.5" cy="731.6" r="3.9"/><circle cx="203.3" cy="728.0" r="3.9"/><circle cx="188.3" cy="800.8" r="3.9"/><circle cx="207.6" cy="803.4" r="3.9"/><circle cx="197.9" cy="803.9" r="3.9"/><circle cx="197.9" cy="811.3" r="3.9"/><circle cx="175.7" cy="820.7" r="3.9"/><circle cx="220.1" cy="817.6" r="3.9"/><circle cx="193.5" cy="823.9" r="3.9"/><circle cx="202.4" cy="821.8" r="3.9"/><circle cx="184.7" cy="827.0" r="3.9"/><circle cx="202.4" cy="828.1" r="3.9"/><circle cx="193.5" cy="831.1" r="3.9"/><circle cx="220.7" cy="827.0" r="3.9"/><circle cx="184.7" cy="834.3" r="3.9"/><circle cx="193.5" cy="837.5" r="3.9"/><circle cx="211.5" cy="835.4" r="3.9"/><circle cx="175.7" cy="834.3" r="3.9"/><circle cx="175.7" cy="840.6" r="3.9"/><circle cx="220.7" cy="834.3" r="3.9"/><circle cx="184.7" cy="841.6" r="3.9"/><circle cx="193.5" cy="842.7" r="3.9"/><circle cx="202.4" cy="842.7" r="3.9"/><circle cx="220.7" cy="841.6" r="3.9"/><circle cx="175.7" cy="849.0" r="3.9"/><circle cx="211.9" cy="846.9" r="3.9"/></g>
<path d="M294.6,863.4 L294.6,863.1 L294.7,862.9 L294.8,862.5 L294.9,862.2 L294.9,861.8 L295.0,861.3 L295.1,860.9 L295.1,860.4 L295.1,860.0 L295.0,859.5 L294.9,859.0 L294.9,858.6 L294.9,858.1 L294.9,857.6 L294.9,857.1 L294.7,856.6 L294.5,856.1 L294.1,855.5 L293.6,854.9 L292.9,854.3 L291.9,853.6 L290.7,852.9 L289.2,852.1 L287.6,851.3 L286.0,850.5 L284.3,849.7 L282.7,848.9 L281.2,848.2 L279.9,847.5 L278.8,846.9 L278.0,846.4 L277.3,845.9 L276.8,845.5 L276.4,845.2 L276.0,844.8 L275.7,844.5 L275.5,844.2 L275.3,843.9 L275.1,843.6 L274.9,843.3 L274.7,842.9 L274.5,842.6 L274.4,842.2 L274.3,841.9 L274.2,841.5 L274.2,841.2 L274.1,840.8 L274.1,840.5 L274.1,840.2 L274.1,839.8 L274.1,839.5 L274.2,839.1 L274.3,838.8 L274.4,838.4 L274.5,838.1 L274.6,837.7 L274.7,837.4 L274.8,837.0 L274.9,836.7 L274.9,836.3 L274.9,836.0 L274.8,835.7 L274.7,835.3 L274.6,835.0 L274.5,834.7 L274.4,834.3 L274.3,834.0 L274.1,833.6 L274.0,833.3 L273.9,832.9 L273.8,832.5 L273.6,832.0 L273.5,831.5 L273.3,831.0 L273.2,830.5 L273.0,830.1 L272.9,829.6 L272.8,829.2 L272.7,828.9 L272.6,828.7 L272.6,828.7 L272.5,828.9 L272.4,829.2 L272.3,829.6 L272.2,830.1 L272.0,830.5 L271.9,831.0 L271.7,831.5 L271.6,832.0 L271.4,832.5 L271.3,832.9 L271.2,833.3 L271.1,833.6 L270.9,834.0 L270.8,834.3 L270.7,834.7 L270.6,835.0 L270.5,835.3 L270.4,835.7 L270.3,836.0 L270.3,836.3 L270.3,836.7 L270.4,837.0 L270.5,837.4 L270.6,837.7 L270.7,838.1 L270.8,838.4 L270.9,838.8 L271.0,839.1 L271.1,839.5 L271.1,839.8 L271.1,840.2 L271.1,840.5 L271.1,840.8 L271.0,841.2 L271.0,841.5 L270.9,841.9 L270.8,842.2 L270.7,842.6 L270.5,842.9 L270.3,843.3 L270.1,843.6 L269.9,843.9 L269.7,844.2 L269.5,844.5 L269.2,844.8 L268.8,845.2 L268.4,845.5 L267.9,845.9 L267.2,846.4 L266.4,846.9 L265.3,847.5 L264.0,848.2 L262.5,848.9 L260.9,849.7 L259.2,850.5 L257.6,851.3 L256.0,852.1 L254.5,852.9 L253.3,853.6 L252.3,854.3 L251.6,854.9 L251.1,855.5 L250.7,856.1 L250.5,856.6 L250.3,857.1 L250.3,857.6 L250.3,858.1 L250.3,858.6 L250.3,859.0 L250.2,859.5 L250.1,860.0 L250.1,860.4 L250.1,860.9 L250.2,861.3 L250.3,861.8 L250.3,862.2 L250.4,862.5 L250.5,862.9 L250.6,863.1 L250.6,863.4 Z" fill="#f6c6ea" stroke="none"/>
<path d="M294.6,863.4 L294.6,863.1 L294.7,862.9 L294.8,862.5 L294.9,862.2 L294.9,861.8 L295.0,861.3 L295.1,860.9 L295.1,860.4 L295.1,860.0 L295.0,859.5 L294.9,859.0 L294.9,858.6 L294.9,858.1 L294.9,857.6 L294.9,857.1 L294.7,856.6 L294.5,856.1 L294.1,855.5 L293.6,854.9 L292.9,854.3 L291.9,853.6 L290.7,852.9 L289.2,852.1 L287.6,851.3 L286.0,850.5 L284.3,849.7 L282.7,848.9 L281.2,848.2 L279.9,847.5 L278.8,846.9 L278.0,846.4 L277.3,845.9 L276.8,845.5 L276.4,845.2 L276.0,844.8 L275.7,844.5 L275.5,844.2 L275.3,843.9 L275.1,843.6 L274.9,843.3 L274.7,842.9 L274.5,842.6 L274.4,842.2 L274.3,841.9 L274.2,841.5 L274.2,841.2 L274.1,840.8 L274.1,840.5 L274.1,840.2 L274.1,839.8 L274.1,839.5 L274.2,839.1 L274.3,838.8 L274.4,838.4 L274.5,838.1 L274.6,837.7 L274.7,837.4 L274.8,837.0 L274.9,836.7 L274.9,836.3 L274.9,836.0 L274.8,835.7 L274.7,835.3 L274.6,835.0 L274.5,834.7 L274.4,834.3 L274.3,834.0 L274.1,833.6 L274.0,833.3 L273.9,832.9 L273.8,832.5 L273.6,832.0 L273.5,831.5 L273.3,831.0 L273.2,830.5 L273.0,830.1 L272.9,829.6 L272.8,829.2 L272.7,828.9 L272.6,828.7 L272.6,828.7 L272.5,828.9 L272.4,829.2 L272.3,829.6 L272.2,830.1 L272.0,830.5 L271.9,831.0 L271.7,831.5 L271.6,832.0 L271.4,832.5 L271.3,832.9 L271.2,833.3 L271.1,833.6 L270.9,834.0 L270.8,834.3 L270.7,834.7 L270.6,835.0 L270.5,835.3 L270.4,835.7 L270.3,836.0 L270.3,836.3 L270.3,836.7 L270.4,837.0 L270.5,837.4 L270.6,837.7 L270.7,838.1 L270.8,838.4 L270.9,838.8 L271.0,839.1 L271.1,839.5 L271.1,839.8 L271.1,840.2 L271.1,840.5 L271.1,840.8 L271.0,841.2 L271.0,841.5 L270.9,841.9 L270.8,842.2 L270.7,842.6 L270.5,842.9 L270.3,843.3 L270.1,843.6 L269.9,843.9 L269.7,844.2 L269.5,844.5 L269.2,844.8 L268.8,845.2 L268.4,845.5 L267.9,845.9 L267.2,846.4 L266.4,846.9 L265.3,847.5 L264.0,848.2 L262.5,848.9 L260.9,849.7 L259.2,850.5 L257.6,851.3 L256.0,852.1 L254.5,852.9 L253.3,853.6 L252.3,854.3 L251.6,854.9 L251.1,855.5 L250.7,856.1 L250.5,856.6 L250.3,857.1 L250.3,857.6 L250.3,858.1 L250.3,858.6 L250.3,859.0 L250.2,859.5 L250.1,860.0 L250.1,860.4 L250.1,860.9 L250.2,861.3 L250.3,861.8 L250.3,862.2 L250.4,862.5 L250.5,862.9 L250.6,863.1 L250.6,863.4 Z" fill="none" stroke="#cd0067" stroke-width="4.4" stroke-linejoin="round"/>
<g fill="#cd0067"><circle cx="251.6" cy="859.9" r="3.8"/><circle cx="258.6" cy="859.9" r="3.8"/><circle cx="265.6" cy="859.9" r="3.8"/><circle cx="272.6" cy="859.9" r="3.8"/><circle cx="279.6" cy="859.9" r="3.8"/><circle cx="286.6" cy="859.9" r="3.8"/><circle cx="293.6" cy="859.9" r="3.8"/><circle cx="258.6" cy="853.0" r="3.8"/><circle cx="265.6" cy="853.0" r="3.8"/><circle cx="272.6" cy="853.0" r="3.8"/><circle cx="279.6" cy="853.0" r="3.8"/><circle cx="286.6" cy="853.0" r="3.8"/><circle cx="269.1" cy="846.7" r="3.8"/><circle cx="276.1" cy="846.7" r="3.8"/><circle cx="272.6" cy="840.5" r="3.8"/><circle cx="272.6" cy="835.0" r="3.8"/><circle cx="272.6" cy="830.8" r="3.8"/></g>
<text x="587.9" y="546.5" font-size="21.5" text-anchor="middle" fill="#000" letter-spacing="0.2">Serum total proteins</text>
<text x="414.9" y="723.6" font-size="23" font-weight="bold" text-anchor="middle" fill="#000" transform="rotate(-90 414.9 723.6)">Total protein (g/L)</text>
<path d="M495.0,640.2h0M504.3,640.2h0M513.7,640.2h0M523.0,640.2h0M532.3,640.2h0M541.7,640.2h0M551.0,640.2h0M560.3,640.2h0M569.6,640.2h0M579.0,640.2h0M588.3,640.2h0M597.6,640.2h0M607.0,640.2h0M616.3,640.2h0M625.6,640.2h0M635.0,640.2h0M644.3,640.2h0M653.6,640.2h0M662.9,640.2h0M672.3,640.2h0M681.6,640.2h0M690.9,640.2h0" stroke="#000" stroke-width="2.6" stroke-linecap="round"/>
<path d="M495.0,695.8h0M504.3,695.8h0M513.7,695.8h0M523.0,695.8h0M532.3,695.8h0M541.7,695.8h0M551.0,695.8h0M560.3,695.8h0M569.6,695.8h0M579.0,695.8h0M588.3,695.8h0M597.6,695.8h0M607.0,695.8h0M616.3,695.8h0M625.6,695.8h0M635.0,695.8h0M644.3,695.8h0M653.6,695.8h0M662.9,695.8h0M672.3,695.8h0M681.6,695.8h0M690.9,695.8h0" stroke="#000" stroke-width="2.6" stroke-linecap="round"/>
<line x1="485.5" y1="583.0" x2="485.5" y2="864.3" stroke="#000" stroke-width="3.2"/>
<line x1="473.0" y1="862.8" x2="487.0" y2="862.8" stroke="#000" stroke-width="3.2"/>
<text x="469.2" y="871.5" font-size="23" font-weight="bold" text-anchor="end" fill="#000">0</text>
<line x1="473.0" y1="807.1" x2="487.0" y2="807.1" stroke="#000" stroke-width="3.2"/>
<text x="469.2" y="815.8" font-size="23" font-weight="bold" text-anchor="end" fill="#000">20</text>
<line x1="473.0" y1="751.5" x2="487.0" y2="751.5" stroke="#000" stroke-width="3.2"/>
<text x="469.2" y="760.2" font-size="23" font-weight="bold" text-anchor="end" fill="#000">40</text>
<line x1="473.0" y1="695.8" x2="487.0" y2="695.8" stroke="#000" stroke-width="3.2"/>
<text x="469.2" y="704.5" font-size="23" font-weight="bold" text-anchor="end" fill="#000">60</text>
<line x1="473.0" y1="640.2" x2="487.0" y2="640.2" stroke="#000" stroke-width="3.2"/>
<text x="469.2" y="648.9" font-size="23" font-weight="bold" text-anchor="end" fill="#000">80</text>
<line x1="473.0" y1="584.5" x2="487.0" y2="584.5" stroke="#000" stroke-width="3.2"/>
<text x="469.2" y="593.2" font-size="23" font-weight="bold" text-anchor="end" fill="#000">100</text>
<line x1="515.1" y1="893.9" x2="693.0" y2="893.9" stroke="#000" stroke-width="3.2"/>
<line x1="565.5" y1="893.9" x2="565.5" y2="906.4" stroke="#000" stroke-width="3.2"/>
<line x1="640.5" y1="893.9" x2="640.5" y2="906.4" stroke="#000" stroke-width="3.2"/>
<text x="603.2" y="936.0" font-size="21.5" text-anchor="middle" fill="#000">MIS-C</text>
<text x="553.7" y="958.0" font-size="16.5" font-style="italic" text-anchor="middle" fill="#000">acute</text>
<text x="636.9" y="958.0" font-size="16.5" font-style="italic" text-anchor="middle" fill="#000" letter-spacing="0.2">remission</text>
<text x="596.6" y="609.0" font-size="40" font-weight="bold" text-anchor="middle" fill="#000" letter-spacing="2.4">***</text>
<line x1="566.4" y1="609.0" x2="627.3" y2="609.0" stroke="#444" stroke-width="1.6"/>
<path d="M566.3,754.0 L566.3,753.7 L566.4,753.3 L566.4,752.9 L566.5,752.4 L566.6,751.9 L566.6,751.3 L566.7,750.7 L566.8,750.1 L566.8,749.4 L566.9,748.7 L566.9,747.9 L566.9,747.1 L566.9,746.2 L566.9,745.3 L566.9,744.3 L566.9,743.3 L567.0,742.4 L567.0,741.4 L567.1,740.4 L567.3,739.5 L567.5,738.6 L567.7,737.7 L567.9,736.9 L568.2,736.0 L568.5,735.1 L568.8,734.3 L569.2,733.4 L569.7,732.6 L570.3,731.7 L570.9,730.9 L571.7,730.0 L572.6,729.2 L573.6,728.4 L574.6,727.5 L575.8,726.7 L576.9,725.9 L578.1,725.1 L579.2,724.2 L580.2,723.4 L581.2,722.5 L582.1,721.7 L583.1,720.8 L584.1,720.0 L585.0,719.1 L585.9,718.2 L586.8,717.4 L587.6,716.5 L588.3,715.6 L588.9,714.8 L589.3,713.9 L589.6,713.0 L589.7,712.2 L589.7,711.3 L589.6,710.4 L589.4,709.6 L589.2,708.7 L589.0,707.8 L588.8,707.0 L588.7,706.1 L588.6,705.3 L588.7,704.4 L588.8,703.6 L589.0,702.8 L589.3,701.9 L589.5,701.1 L589.7,700.3 L589.8,699.4 L589.8,698.6 L589.6,697.8 L589.3,696.9 L588.7,696.1 L588.0,695.2 L587.0,694.3 L586.0,693.5 L584.8,692.6 L583.7,691.7 L582.5,690.8 L581.4,690.0 L580.4,689.1 L579.5,688.3 L578.7,687.5 L577.9,686.6 L577.2,685.8 L576.5,685.0 L575.9,684.2 L575.2,683.4 L574.7,682.6 L574.2,681.9 L573.7,681.2 L573.3,680.5 L573.0,679.9 L572.7,679.4 L572.5,678.9 L572.3,678.5 L572.2,678.1 L572.1,677.6 L572.1,677.2 L572.1,676.7 L572.1,676.1 L572.2,675.5 L572.3,674.8 L572.5,674.0 L572.8,673.2 L573.1,672.4 L573.4,671.5 L573.7,670.6 L574.0,669.7 L574.3,668.7 L574.5,667.8 L574.6,666.9 L574.7,665.9 L574.8,665.0 L574.8,664.0 L574.8,663.0 L574.8,662.0 L574.8,661.0 L574.7,660.0 L574.5,659.0 L574.2,657.9 L573.9,656.9 L573.4,655.8 L572.8,654.7 L572.1,653.7 L571.3,652.6 L570.5,651.5 L569.7,650.4 L568.9,649.2 L568.2,648.1 L567.6,646.9 L567.1,645.7 L566.8,644.5 L566.5,643.1 L566.4,641.6 L566.3,640.1 L566.3,638.6 L566.3,637.2 L566.3,635.9 L566.3,634.7 L566.3,633.7 L566.3,632.9 L566.3,632.9 L566.3,633.7 L566.3,634.7 L566.3,635.9 L566.3,637.2 L566.3,638.6 L566.3,640.1 L566.2,641.6 L566.1,643.1 L565.8,644.5 L565.5,645.7 L565.0,646.9 L564.4,648.1 L563.7,649.2 L562.9,650.4 L562.1,651.5 L561.3,652.6 L560.5,653.7 L559.8,654.7 L559.2,655.8 L558.7,656.9 L558.4,657.9 L558.1,659.0 L557.9,660.0 L557.8,661.0 L557.8,662.0 L557.8,663.0 L557.8,664.0 L557.8,665.0 L557.9,665.9 L558.0,666.9 L558.1,667.8 L558.3,668.7 L558.6,669.7 L558.9,670.6 L559.2,671.5 L559.5,672.4 L559.8,673.2 L560.1,674.0 L560.3,674.8 L560.4,675.5 L560.5,676.1 L560.5,676.7 L560.5,677.2 L560.5,677.6 L560.4,678.1 L560.3,678.5 L560.1,678.9 L559.9,679.4 L559.6,679.9 L559.3,680.5 L558.9,681.2 L558.4,681.9 L557.9,682.6 L557.4,683.4 L556.7,684.2 L556.1,685.0 L555.4,685.8 L554.7,686.6 L553.9,687.5 L553.1,688.3 L552.2,689.1 L551.2,690.0 L550.1,690.8 L548.9,691.7 L547.8,692.6 L546.6,693.5 L545.6,694.3 L544.6,695.2 L543.9,696.1 L543.3,696.9 L543.0,697.8 L542.8,698.6 L542.8,699.4 L542.9,700.3 L543.1,701.1 L543.3,701.9 L543.6,702.8 L543.8,703.6 L543.9,704.4 L544.0,705.3 L543.9,706.1 L543.8,707.0 L543.6,707.8 L543.4,708.7 L543.2,709.6 L543.0,710.4 L542.9,711.3 L542.9,712.2 L543.0,713.0 L543.3,713.9 L543.7,714.8 L544.3,715.6 L545.0,716.5 L545.8,717.4 L546.7,718.2 L547.6,719.1 L548.5,720.0 L549.5,720.8 L550.5,721.7 L551.4,722.5 L552.4,723.4 L553.4,724.2 L554.5,725.1 L555.7,725.9 L556.8,726.7 L558.0,727.5 L559.0,728.4 L560.0,729.2 L560.9,730.0 L561.7,730.9 L562.3,731.7 L562.9,732.6 L563.4,733.4 L563.8,734.3 L564.1,735.1 L564.4,736.0 L564.7,736.9 L564.9,737.7 L565.1,738.6 L565.3,739.5 L565.5,740.4 L565.6,741.4 L565.6,742.4 L565.7,743.3 L565.7,744.3 L565.7,745.3 L565.7,746.2 L565.7,747.1 L565.7,747.9 L565.7,748.7 L565.8,749.4 L565.8,750.1 L565.9,750.7 L566.0,751.3 L566.0,751.9 L566.1,752.4 L566.2,752.9 L566.2,753.3 L566.3,753.7 L566.3,754.0 Z" fill="#fde0e0" stroke="none"/>
<line x1="543.9" y1="700.6" x2="588.7" y2="700.6" stroke="#222" stroke-width="1.2" stroke-dasharray="4,3"/>
<line x1="544.7" y1="715.0" x2="587.9" y2="715.0" stroke="#222" stroke-width="1.2" stroke-dasharray="1.5,2.5"/>
<path d="M566.3,754.0 L566.3,753.7 L566.4,753.3 L566.4,752.9 L566.5,752.4 L566.6,751.9 L566.6,751.3 L566.7,750.7 L566.8,750.1 L566.8,749.4 L566.9,748.7 L566.9,747.9 L566.9,747.1 L566.9,746.2 L566.9,745.3 L566.9,744.3 L566.9,743.3 L567.0,742.4 L567.0,741.4 L567.1,740.4 L567.3,739.5 L567.5,738.6 L567.7,737.7 L567.9,736.9 L568.2,736.0 L568.5,735.1 L568.8,734.3 L569.2,733.4 L569.7,732.6 L570.3,731.7 L570.9,730.9 L571.7,730.0 L572.6,729.2 L573.6,728.4 L574.6,727.5 L575.8,726.7 L576.9,725.9 L578.1,725.1 L579.2,724.2 L580.2,723.4 L581.2,722.5 L582.1,721.7 L583.1,720.8 L584.1,720.0 L585.0,719.1 L585.9,718.2 L586.8,717.4 L587.6,716.5 L588.3,715.6 L588.9,714.8 L589.3,713.9 L589.6,713.0 L589.7,712.2 L589.7,711.3 L589.6,710.4 L589.4,709.6 L589.2,708.7 L589.0,707.8 L588.8,707.0 L588.7,706.1 L588.6,705.3 L588.7,704.4 L588.8,703.6 L589.0,702.8 L589.3,701.9 L589.5,701.1 L589.7,700.3 L589.8,699.4 L589.8,698.6 L589.6,697.8 L589.3,696.9 L588.7,696.1 L588.0,695.2 L587.0,694.3 L586.0,693.5 L584.8,692.6 L583.7,691.7 L582.5,690.8 L581.4,690.0 L580.4,689.1 L579.5,688.3 L578.7,687.5 L577.9,686.6 L577.2,685.8 L576.5,685.0 L575.9,684.2 L575.2,683.4 L574.7,682.6 L574.2,681.9 L573.7,681.2 L573.3,680.5 L573.0,679.9 L572.7,679.4 L572.5,678.9 L572.3,678.5 L572.2,678.1 L572.1,677.6 L572.1,677.2 L572.1,676.7 L572.1,676.1 L572.2,675.5 L572.3,674.8 L572.5,674.0 L572.8,673.2 L573.1,672.4 L573.4,671.5 L573.7,670.6 L574.0,669.7 L574.3,668.7 L574.5,667.8 L574.6,666.9 L574.7,665.9 L574.8,665.0 L574.8,664.0 L574.8,663.0 L574.8,662.0 L574.8,661.0 L574.7,660.0 L574.5,659.0 L574.2,657.9 L573.9,656.9 L573.4,655.8 L572.8,654.7 L572.1,653.7 L571.3,652.6 L570.5,651.5 L569.7,650.4 L568.9,649.2 L568.2,648.1 L567.6,646.9 L567.1,645.7 L566.8,644.5 L566.5,643.1 L566.4,641.6 L566.3,640.1 L566.3,638.6 L566.3,637.2 L566.3,635.9 L566.3,634.7 L566.3,633.7 L566.3,632.9 L566.3,632.9 L566.3,633.7 L566.3,634.7 L566.3,635.9 L566.3,637.2 L566.3,638.6 L566.3,640.1 L566.2,641.6 L566.1,643.1 L565.8,644.5 L565.5,645.7 L565.0,646.9 L564.4,648.1 L563.7,649.2 L562.9,650.4 L562.1,651.5 L561.3,652.6 L560.5,653.7 L559.8,654.7 L559.2,655.8 L558.7,656.9 L558.4,657.9 L558.1,659.0 L557.9,660.0 L557.8,661.0 L557.8,662.0 L557.8,663.0 L557.8,664.0 L557.8,665.0 L557.9,665.9 L558.0,666.9 L558.1,667.8 L558.3,668.7 L558.6,669.7 L558.9,670.6 L559.2,671.5 L559.5,672.4 L559.8,673.2 L560.1,674.0 L560.3,674.8 L560.4,675.5 L560.5,676.1 L560.5,676.7 L560.5,677.2 L560.5,677.6 L560.4,678.1 L560.3,678.5 L560.1,678.9 L559.9,679.4 L559.6,679.9 L559.3,680.5 L558.9,681.2 L558.4,681.9 L557.9,682.6 L557.4,683.4 L556.7,684.2 L556.1,685.0 L555.4,685.8 L554.7,686.6 L553.9,687.5 L553.1,688.3 L552.2,689.1 L551.2,690.0 L550.1,690.8 L548.9,691.7 L547.8,692.6 L546.6,693.5 L545.6,694.3 L544.6,695.2 L543.9,696.1 L543.3,696.9 L543.0,697.8 L542.8,698.6 L542.8,699.4 L542.9,700.3 L543.1,701.1 L543.3,701.9 L543.6,702.8 L543.8,703.6 L543.9,704.4 L544.0,705.3 L543.9,706.1 L543.8,707.0 L543.6,707.8 L543.4,708.7 L543.2,709.6 L543.0,710.4 L542.9,711.3 L542.9,712.2 L543.0,713.0 L543.3,713.9 L543.7,714.8 L544.3,715.6 L545.0,716.5 L545.8,717.4 L546.7,718.2 L547.6,719.1 L548.5,720.0 L549.5,720.8 L550.5,721.7 L551.4,722.5 L552.4,723.4 L553.4,724.2 L554.5,725.1 L555.7,725.9 L556.8,726.7 L558.0,727.5 L559.0,728.4 L560.0,729.2 L560.9,730.0 L561.7,730.9 L562.3,731.7 L562.9,732.6 L563.4,733.4 L563.8,734.3 L564.1,735.1 L564.4,736.0 L564.7,736.9 L564.9,737.7 L565.1,738.6 L565.3,739.5 L565.5,740.4 L565.6,741.4 L565.6,742.4 L565.7,743.3 L565.7,744.3 L565.7,745.3 L565.7,746.2 L565.7,747.1 L565.7,747.9 L565.7,748.7 L565.8,749.4 L565.8,750.1 L565.9,750.7 L566.0,751.3 L566.0,751.9 L566.1,752.4 L566.2,752.9 L566.2,753.3 L566.3,753.7 L566.3,754.0 Z" fill="none" stroke="#ff0000" stroke-width="4.4" stroke-linejoin="round"/>
<g fill="#ff0000"><circle cx="566.3" cy="684.1" r="3.9"/><circle cx="566.3" cy="693.3" r="3.9"/><circle cx="566.3" cy="700.3" r="3.9"/><circle cx="566.3" cy="707.0" r="3.9"/><circle cx="566.3" cy="714.7" r="3.9"/><circle cx="566.3" cy="722.8" r="3.9"/><circle cx="555.3" cy="698.6" r="3.9"/><circle cx="555.3" cy="705.3" r="3.9"/><circle cx="555.3" cy="719.8" r="3.9"/><circle cx="577.3" cy="693.3" r="3.9"/><circle cx="577.3" cy="701.9" r="3.9"/><circle cx="577.3" cy="711.4" r="3.9"/><circle cx="577.3" cy="721.4" r="3.9"/><circle cx="544.3" cy="696.9" r="3.9"/><circle cx="544.3" cy="704.4" r="3.9"/><circle cx="544.3" cy="711.4" r="3.9"/><circle cx="544.3" cy="720.0" r="3.9"/><circle cx="589.3" cy="716.1" r="3.9"/><circle cx="560.3" cy="662.7" r="3.9"/><circle cx="571.3" cy="662.7" r="3.9"/><circle cx="560.3" cy="671.3" r="3.9"/><circle cx="572.3" cy="671.3" r="3.9"/><circle cx="577.8" cy="681.9" r="3.9"/></g>
<path d="M641.3,687.5 L641.3,687.2 L641.3,686.7 L641.3,686.2 L641.3,685.7 L641.3,685.1 L641.3,684.5 L641.3,683.9 L641.3,683.3 L641.3,682.7 L641.7,682.2 L642.3,681.7 L643.0,681.3 L643.9,680.9 L644.8,680.6 L645.9,680.2 L647.0,679.8 L648.1,679.4 L649.3,679.0 L650.4,678.5 L651.5,678.0 L652.7,677.4 L653.9,676.8 L655.3,676.2 L656.7,675.5 L658.1,674.8 L659.5,674.1 L660.7,673.4 L661.8,672.7 L662.7,672.0 L663.4,671.3 L663.9,670.7 L664.1,670.1 L664.3,669.5 L664.3,669.0 L664.1,668.4 L663.9,667.8 L663.7,667.2 L663.3,666.6 L663.0,665.9 L662.6,665.2 L662.1,664.4 L661.5,663.6 L660.7,662.8 L659.8,661.9 L658.9,661.0 L658.0,660.1 L657.3,659.2 L656.7,658.3 L656.3,657.4 L656.2,656.6 L656.4,655.7 L657.0,654.9 L657.7,654.0 L658.7,653.2 L659.7,652.3 L660.8,651.5 L661.7,650.6 L662.5,649.8 L663.1,649.0 L663.4,648.2 L663.4,647.5 L663.2,646.7 L662.8,646.0 L662.3,645.3 L661.7,644.6 L661.1,644.0 L660.3,643.3 L659.6,642.6 L658.9,642.0 L658.3,641.3 L657.7,640.6 L657.1,639.9 L656.5,639.2 L655.8,638.6 L655.2,637.9 L654.5,637.2 L653.8,636.5 L653.1,635.9 L652.3,635.2 L651.5,634.6 L650.6,634.0 L649.6,633.3 L648.5,632.7 L647.4,632.1 L646.3,631.5 L645.2,630.9 L644.1,630.3 L643.2,629.7 L642.4,629.1 L641.8,628.5 L641.4,627.8 L641.3,627.1 L641.3,626.3 L641.3,625.5 L641.3,624.7 L641.3,624.0 L641.3,623.3 L641.3,622.7 L641.3,622.2 L641.3,621.8 L641.3,621.8 L641.3,622.2 L641.3,622.7 L641.3,623.3 L641.3,624.0 L641.3,624.7 L641.3,625.5 L641.3,626.3 L641.3,627.1 L641.2,627.8 L640.8,628.5 L640.2,629.1 L639.4,629.7 L638.5,630.3 L637.4,630.9 L636.3,631.5 L635.2,632.1 L634.1,632.7 L633.0,633.3 L632.0,634.0 L631.1,634.6 L630.3,635.2 L629.5,635.9 L628.8,636.5 L628.1,637.2 L627.4,637.9 L626.8,638.6 L626.1,639.2 L625.5,639.9 L624.9,640.6 L624.3,641.3 L623.7,642.0 L623.0,642.6 L622.3,643.3 L621.5,644.0 L620.9,644.6 L620.3,645.3 L619.8,646.0 L619.4,646.7 L619.2,647.5 L619.2,648.2 L619.5,649.0 L620.1,649.8 L620.9,650.6 L621.8,651.5 L622.9,652.3 L623.9,653.2 L624.9,654.0 L625.6,654.9 L626.2,655.7 L626.4,656.6 L626.3,657.4 L625.9,658.3 L625.3,659.2 L624.6,660.1 L623.7,661.0 L622.8,661.9 L621.9,662.8 L621.1,663.6 L620.5,664.4 L620.0,665.2 L619.6,665.9 L619.3,666.6 L618.9,667.2 L618.7,667.8 L618.5,668.4 L618.3,669.0 L618.3,669.5 L618.5,670.1 L618.7,670.7 L619.2,671.3 L619.9,672.0 L620.8,672.7 L621.9,673.4 L623.1,674.1 L624.5,674.8 L625.9,675.5 L627.3,676.2 L628.7,676.8 L629.9,677.4 L631.1,678.0 L632.2,678.5 L633.3,679.0 L634.5,679.4 L635.6,679.8 L636.7,680.2 L637.8,680.6 L638.7,680.9 L639.6,681.3 L640.3,681.7 L640.9,682.2 L641.3,682.7 L641.3,683.3 L641.3,683.9 L641.3,684.5 L641.3,685.1 L641.3,685.7 L641.3,686.2 L641.3,686.7 L641.3,687.2 L641.3,687.5 Z" fill="#f6c6ea" stroke="none"/>
<line x1="627.3" y1="657.1" x2="655.3" y2="657.1" stroke="#222" stroke-width="1.2" stroke-dasharray="4,3"/>
<line x1="620.2" y1="647.4" x2="662.4" y2="647.4" stroke="#222" stroke-width="1.2" stroke-dasharray="1.5,2.5"/>
<line x1="619.7" y1="668.0" x2="662.9" y2="668.0" stroke="#222" stroke-width="1.2" stroke-dasharray="1.5,2.5"/>
<path d="M641.3,687.5 L641.3,687.2 L641.3,686.7 L641.3,686.2 L641.3,685.7 L641.3,685.1 L641.3,684.5 L641.3,683.9 L641.3,683.3 L641.3,682.7 L641.7,682.2 L642.3,681.7 L643.0,681.3 L643.9,680.9 L644.8,680.6 L645.9,680.2 L647.0,679.8 L648.1,679.4 L649.3,679.0 L650.4,678.5 L651.5,678.0 L652.7,677.4 L653.9,676.8 L655.3,676.2 L656.7,675.5 L658.1,674.8 L659.5,674.1 L660.7,673.4 L661.8,672.7 L662.7,672.0 L663.4,671.3 L663.9,670.7 L664.1,670.1 L664.3,669.5 L664.3,669.0 L664.1,668.4 L663.9,667.8 L663.7,667.2 L663.3,666.6 L663.0,665.9 L662.6,665.2 L662.1,664.4 L661.5,663.6 L660.7,662.8 L659.8,661.9 L658.9,661.0 L658.0,660.1 L657.3,659.2 L656.7,658.3 L656.3,657.4 L656.2,656.6 L656.4,655.7 L657.0,654.9 L657.7,654.0 L658.7,653.2 L659.7,652.3 L660.8,651.5 L661.7,650.6 L662.5,649.8 L663.1,649.0 L663.4,648.2 L663.4,647.5 L663.2,646.7 L662.8,646.0 L662.3,645.3 L661.7,644.6 L661.1,644.0 L660.3,643.3 L659.6,642.6 L658.9,642.0 L658.3,641.3 L657.7,640.6 L657.1,639.9 L656.5,639.2 L655.8,638.6 L655.2,637.9 L654.5,637.2 L653.8,636.5 L653.1,635.9 L652.3,635.2 L651.5,634.6 L650.6,634.0 L649.6,633.3 L648.5,632.7 L647.4,632.1 L646.3,631.5 L645.2,630.9 L644.1,630.3 L643.2,629.7 L642.4,629.1 L641.8,628.5 L641.4,627.8 L641.3,627.1 L641.3,626.3 L641.3,625.5 L641.3,624.7 L641.3,624.0 L641.3,623.3 L641.3,622.7 L641.3,622.2 L641.3,621.8 L641.3,621.8 L641.3,622.2 L641.3,622.7 L641.3,623.3 L641.3,624.0 L641.3,624.7 L641.3,625.5 L641.3,626.3 L641.3,627.1 L641.2,627.8 L640.8,628.5 L640.2,629.1 L639.4,629.7 L638.5,630.3 L637.4,630.9 L636.3,631.5 L635.2,632.1 L634.1,632.7 L633.0,633.3 L632.0,634.0 L631.1,634.6 L630.3,635.2 L629.5,635.9 L628.8,636.5 L628.1,637.2 L627.4,637.9 L626.8,638.6 L626.1,639.2 L625.5,639.9 L624.9,640.6 L624.3,641.3 L623.7,642.0 L623.0,642.6 L622.3,643.3 L621.5,644.0 L620.9,644.6 L620.3,645.3 L619.8,646.0 L619.4,646.7 L619.2,647.5 L619.2,648.2 L619.5,649.0 L620.1,649.8 L620.9,650.6 L621.8,651.5 L622.9,652.3 L623.9,653.2 L624.9,654.0 L625.6,654.9 L626.2,655.7 L626.4,656.6 L626.3,657.4 L625.9,658.3 L625.3,659.2 L624.6,660.1 L623.7,661.0 L622.8,661.9 L621.9,662.8 L621.1,663.6 L620.5,664.4 L620.0,665.2 L619.6,665.9 L619.3,666.6 L618.9,667.2 L618.7,667.8 L618.5,668.4 L618.3,669.0 L618.3,669.5 L618.5,670.1 L618.7,670.7 L619.2,671.3 L619.9,672.0 L620.8,672.7 L621.9,673.4 L623.1,674.1 L624.5,674.8 L625.9,675.5 L627.3,676.2 L628.7,676.8 L629.9,677.4 L631.1,678.0 L632.2,678.5 L633.3,679.0 L634.5,679.4 L635.6,679.8 L636.7,680.2 L637.8,680.6 L638.7,680.9 L639.6,681.3 L640.3,681.7 L640.9,682.2 L641.3,682.7 L641.3,683.3 L641.3,683.9 L641.3,684.5 L641.3,685.1 L641.3,685.7 L641.3,686.2 L641.3,686.7 L641.3,687.2 L641.3,687.5 Z" fill="none" stroke="#cd0067" stroke-width="4.4" stroke-linejoin="round"/>
<g fill="#cd0067"><circle cx="634.9" cy="637.9" r="3.9"/><circle cx="647.3" cy="639.6" r="3.9"/><circle cx="653.7" cy="646.6" r="3.9"/><circle cx="641.3" cy="647.4" r="3.9"/><circle cx="628.9" cy="650.2" r="3.9"/><circle cx="652.8" cy="653.5" r="3.9"/><circle cx="628.9" cy="659.1" r="3.9"/><circle cx="641.3" cy="661.9" r="3.9"/><circle cx="653.7" cy="663.3" r="3.9"/><circle cx="641.3" cy="669.1" r="3.9"/><circle cx="628.9" cy="671.6" r="3.9"/><circle cx="652.8" cy="670.8" r="3.9"/></g>
<text x="952.6" y="546.5" font-size="21.5" text-anchor="middle" fill="#000" letter-spacing="0.2">Serum albumin</text>
<text x="792.5" y="722.0" font-size="23" font-weight="bold" text-anchor="middle" fill="#000" transform="rotate(-90 792.5 722.0)">Albumin (g/L)</text>
<path d="M859.5,629.6h0M868.8,629.6h0M878.2,629.6h0M887.5,629.6h0M896.8,629.6h0M906.2,629.6h0M915.5,629.6h0M924.8,629.6h0M934.1,629.6h0M943.5,629.6h0M952.8,629.6h0M962.1,629.6h0M971.5,629.6h0M980.8,629.6h0M990.1,629.6h0M999.5,629.6h0M1008.8,629.6h0M1018.1,629.6h0M1027.4,629.6h0M1036.8,629.6h0M1046.1,629.6h0" stroke="#000" stroke-width="2.6" stroke-linecap="round"/>
<path d="M859.5,698.9h0M868.8,698.9h0M878.2,698.9h0M887.5,698.9h0M896.8,698.9h0M906.2,698.9h0M915.5,698.9h0M924.8,698.9h0M934.1,698.9h0M943.5,698.9h0M952.8,698.9h0M962.1,698.9h0M971.5,698.9h0M980.8,698.9h0M990.1,698.9h0M999.5,698.9h0M1008.8,698.9h0M1018.1,698.9h0M1027.4,698.9h0M1036.8,698.9h0M1046.1,698.9h0" stroke="#000" stroke-width="2.6" stroke-linecap="round"/>
<line x1="850.4" y1="581.9" x2="850.4" y2="862.1" stroke="#000" stroke-width="3.2"/>
<line x1="837.9" y1="860.6" x2="851.9" y2="860.6" stroke="#000" stroke-width="3.2"/>
<text x="834.1" y="869.3" font-size="23" font-weight="bold" text-anchor="end" fill="#000">0</text>
<line x1="837.9" y1="768.2" x2="851.9" y2="768.2" stroke="#000" stroke-width="3.2"/>
<text x="834.1" y="776.9" font-size="23" font-weight="bold" text-anchor="end" fill="#000">20</text>
<line x1="837.9" y1="675.8" x2="851.9" y2="675.8" stroke="#000" stroke-width="3.2"/>
<text x="834.1" y="684.5" font-size="23" font-weight="bold" text-anchor="end" fill="#000">40</text>
<line x1="837.9" y1="583.4" x2="851.9" y2="583.4" stroke="#000" stroke-width="3.2"/>
<text x="834.1" y="592.1" font-size="23" font-weight="bold" text-anchor="end" fill="#000">60</text>
<line x1="837.9" y1="698.9" x2="851.9" y2="698.9" stroke="#000" stroke-width="3.2"/>
<line x1="880.0" y1="891.2" x2="1056.3" y2="891.2" stroke="#000" stroke-width="3.2"/>
<line x1="930.3" y1="891.2" x2="930.3" y2="903.7" stroke="#000" stroke-width="3.2"/>
<line x1="1004.8" y1="891.2" x2="1004.8" y2="903.7" stroke="#000" stroke-width="3.2"/>
<text x="967.0" y="932.4" font-size="21.5" text-anchor="middle" fill="#000">MIS-C</text>
<text x="918.3" y="953.7" font-size="16.5" font-style="italic" text-anchor="middle" fill="#000">acute</text>
<text x="1000.5" y="953.7" font-size="16.5" font-style="italic" text-anchor="middle" fill="#000" letter-spacing="0.2">remission</text>
<text x="958.8" y="606.8" font-size="40" font-weight="bold" text-anchor="middle" fill="#000" letter-spacing="2.4">***</text>
<line x1="928.6" y1="606.8" x2="990.6" y2="606.8" stroke="#444" stroke-width="1.6"/>
<path d="M930.5,783.9 L930.5,783.5 L930.6,782.9 L930.7,782.3 L930.8,781.6 L930.8,780.9 L930.9,780.0 L931.0,779.1 L931.1,778.2 L931.2,777.1 L931.3,776.1 L931.4,774.9 L931.5,773.6 L931.6,772.2 L931.7,770.8 L931.8,769.3 L931.9,767.8 L932.0,766.2 L932.1,764.7 L932.2,763.2 L932.3,761.7 L932.3,760.3 L932.2,758.8 L932.1,757.3 L931.9,755.8 L931.7,754.3 L931.6,752.8 L931.6,751.3 L931.8,749.9 L932.1,748.6 L932.6,747.4 L933.4,746.3 L934.4,745.2 L935.6,744.3 L936.9,743.4 L938.3,742.5 L939.8,741.7 L941.2,740.8 L942.6,740.0 L943.9,739.1 L945.0,738.2 L946.0,737.2 L947.1,736.3 L948.1,735.3 L949.0,734.3 L949.9,733.3 L950.8,732.3 L951.5,731.4 L952.2,730.4 L952.8,729.4 L953.3,728.5 L953.7,727.5 L953.9,726.6 L954.1,725.7 L954.3,724.8 L954.3,723.8 L954.2,722.9 L954.1,722.0 L953.9,721.1 L953.6,720.2 L953.3,719.2 L952.9,718.3 L952.3,717.3 L951.6,716.4 L950.9,715.4 L950.1,714.4 L949.2,713.4 L948.4,712.5 L947.5,711.5 L946.7,710.5 L945.9,709.5 L945.1,708.6 L944.2,707.6 L943.3,706.6 L942.3,705.6 L941.4,704.6 L940.5,703.7 L939.8,702.7 L939.2,701.7 L938.7,700.8 L938.5,699.8 L938.6,698.9 L938.9,698.0 L939.5,697.0 L940.2,696.1 L941.0,695.2 L941.8,694.3 L942.6,693.4 L943.2,692.5 L943.7,691.5 L944.0,690.6 L944.0,689.6 L943.9,688.7 L943.7,687.7 L943.4,686.7 L943.0,685.8 L942.5,684.8 L942.1,683.8 L941.6,682.8 L941.2,681.9 L940.9,680.9 L940.6,679.9 L940.3,678.9 L940.1,678.0 L939.8,677.0 L939.5,676.0 L939.3,675.0 L939.0,674.1 L938.7,673.1 L938.4,672.1 L938.1,671.2 L937.8,670.2 L937.4,669.3 L937.0,668.4 L936.6,667.5 L936.2,666.6 L935.8,665.6 L935.4,664.7 L935.1,663.8 L934.7,662.9 L934.3,661.9 L933.9,661.0 L933.5,660.0 L933.2,659.0 L932.8,658.1 L932.4,657.1 L932.0,656.1 L931.7,655.1 L931.4,654.2 L931.1,653.2 L930.9,652.2 L930.7,651.3 L930.6,650.2 L930.5,649.1 L930.5,648.1 L930.5,647.0 L930.5,646.0 L930.5,645.1 L930.5,644.2 L930.5,643.5 L930.5,643.0 L930.5,643.0 L930.5,643.5 L930.5,644.2 L930.5,645.1 L930.5,646.0 L930.5,647.0 L930.5,648.1 L930.5,649.1 L930.4,650.2 L930.3,651.3 L930.1,652.2 L929.9,653.2 L929.6,654.2 L929.3,655.1 L929.0,656.1 L928.6,657.1 L928.2,658.1 L927.8,659.0 L927.5,660.0 L927.1,661.0 L926.7,661.9 L926.3,662.9 L925.9,663.8 L925.6,664.7 L925.2,665.6 L924.8,666.6 L924.4,667.5 L924.0,668.4 L923.6,669.3 L923.2,670.2 L922.9,671.2 L922.6,672.1 L922.3,673.1 L922.0,674.1 L921.7,675.0 L921.5,676.0 L921.2,677.0 L920.9,678.0 L920.7,678.9 L920.4,679.9 L920.1,680.9 L919.8,681.9 L919.4,682.8 L918.9,683.8 L918.5,684.8 L918.0,685.8 L917.6,686.7 L917.3,687.7 L917.1,688.7 L917.0,689.6 L917.0,690.6 L917.3,691.5 L917.8,692.5 L918.4,693.4 L919.2,694.3 L920.0,695.2 L920.8,696.1 L921.5,697.0 L922.1,698.0 L922.4,698.9 L922.5,699.8 L922.3,700.8 L921.8,701.7 L921.2,702.7 L920.5,703.7 L919.6,704.6 L918.7,705.6 L917.7,706.6 L916.8,707.6 L915.9,708.6 L915.1,709.5 L914.3,710.5 L913.5,711.5 L912.6,712.5 L911.8,713.4 L910.9,714.4 L910.1,715.4 L909.4,716.4 L908.7,717.3 L908.1,718.3 L907.7,719.2 L907.4,720.2 L907.1,721.1 L906.9,722.0 L906.8,722.9 L906.7,723.8 L906.7,724.8 L906.9,725.7 L907.1,726.6 L907.3,727.5 L907.7,728.5 L908.2,729.4 L908.8,730.4 L909.5,731.4 L910.2,732.3 L911.1,733.3 L912.0,734.3 L912.9,735.3 L913.9,736.3 L915.0,737.2 L916.0,738.2 L917.1,739.1 L918.4,740.0 L919.8,740.8 L921.2,741.7 L922.7,742.5 L924.1,743.4 L925.4,744.3 L926.6,745.2 L927.6,746.3 L928.4,747.4 L928.9,748.6 L929.2,749.9 L929.4,751.3 L929.4,752.8 L929.3,754.3 L929.1,755.8 L928.9,757.3 L928.8,758.8 L928.7,760.3 L928.7,761.7 L928.8,763.2 L928.9,764.7 L929.0,766.2 L929.1,767.8 L929.2,769.3 L929.3,770.8 L929.4,772.2 L929.5,773.6 L929.6,774.9 L929.7,776.1 L929.8,777.1 L929.9,778.2 L930.0,779.1 L930.1,780.0 L930.2,780.9 L930.2,781.6 L930.3,782.3 L930.4,782.9 L930.5,783.5 L930.5,783.9 Z" fill="#fde0e0" stroke="none"/>
<line x1="908.7" y1="718.8" x2="952.3" y2="718.8" stroke="#222" stroke-width="1.2" stroke-dasharray="4,3"/>
<line x1="918.0" y1="690.1" x2="943.0" y2="690.1" stroke="#222" stroke-width="1.2" stroke-dasharray="1.5,2.5"/>
<line x1="909.8" y1="730.3" x2="951.2" y2="730.3" stroke="#222" stroke-width="1.2" stroke-dasharray="1.5,2.5"/>
<path d="M930.5,783.9 L930.5,783.5 L930.6,782.9 L930.7,782.3 L930.8,781.6 L930.8,780.9 L930.9,780.0 L931.0,779.1 L931.1,778.2 L931.2,777.1 L931.3,776.1 L931.4,774.9 L931.5,773.6 L931.6,772.2 L931.7,770.8 L931.8,769.3 L931.9,767.8 L932.0,766.2 L932.1,764.7 L932.2,763.2 L932.3,761.7 L932.3,760.3 L932.2,758.8 L932.1,757.3 L931.9,755.8 L931.7,754.3 L931.6,752.8 L931.6,751.3 L931.8,749.9 L932.1,748.6 L932.6,747.4 L933.4,746.3 L934.4,745.2 L935.6,744.3 L936.9,743.4 L938.3,742.5 L939.8,741.7 L941.2,740.8 L942.6,740.0 L943.9,739.1 L945.0,738.2 L946.0,737.2 L947.1,736.3 L948.1,735.3 L949.0,734.3 L949.9,733.3 L950.8,732.3 L951.5,731.4 L952.2,730.4 L952.8,729.4 L953.3,728.5 L953.7,727.5 L953.9,726.6 L954.1,725.7 L954.3,724.8 L954.3,723.8 L954.2,722.9 L954.1,722.0 L953.9,721.1 L953.6,720.2 L953.3,719.2 L952.9,718.3 L952.3,717.3 L951.6,716.4 L950.9,715.4 L950.1,714.4 L949.2,713.4 L948.4,712.5 L947.5,711.5 L946.7,710.5 L945.9,709.5 L945.1,708.6 L944.2,707.6 L943.3,706.6 L942.3,705.6 L941.4,704.6 L940.5,703.7 L939.8,702.7 L939.2,701.7 L938.7,700.8 L938.5,699.8 L938.6,698.9 L938.9,698.0 L939.5,697.0 L940.2,696.1 L941.0,695.2 L941.8,694.3 L942.6,693.4 L943.2,692.5 L943.7,691.5 L944.0,690.6 L944.0,689.6 L943.9,688.7 L943.7,687.7 L943.4,686.7 L943.0,685.8 L942.5,684.8 L942.1,683.8 L941.6,682.8 L941.2,681.9 L940.9,680.9 L940.6,679.9 L940.3,678.9 L940.1,678.0 L939.8,677.0 L939.5,676.0 L939.3,675.0 L939.0,674.1 L938.7,673.1 L938.4,672.1 L938.1,671.2 L937.8,670.2 L937.4,669.3 L937.0,668.4 L936.6,667.5 L936.2,666.6 L935.8,665.6 L935.4,664.7 L935.1,663.8 L934.7,662.9 L934.3,661.9 L933.9,661.0 L933.5,660.0 L933.2,659.0 L932.8,658.1 L932.4,657.1 L932.0,656.1 L931.7,655.1 L931.4,654.2 L931.1,653.2 L930.9,652.2 L930.7,651.3 L930.6,650.2 L930.5,649.1 L930.5,648.1 L930.5,647.0 L930.5,646.0 L930.5,645.1 L930.5,644.2 L930.5,643.5 L930.5,643.0 L930.5,643.0 L930.5,643.5 L930.5,644.2 L930.5,645.1 L930.5,646.0 L930.5,647.0 L930.5,648.1 L930.5,649.1 L930.4,650.2 L930.3,651.3 L930.1,652.2 L929.9,653.2 L929.6,654.2 L929.3,655.1 L929.0,656.1 L928.6,657.1 L928.2,658.1 L927.8,659.0 L927.5,660.0 L927.1,661.0 L926.7,661.9 L926.3,662.9 L925.9,663.8 L925.6,664.7 L925.2,665.6 L924.8,666.6 L924.4,667.5 L924.0,668.4 L923.6,669.3 L923.2,670.2 L922.9,671.2 L922.6,672.1 L922.3,673.1 L922.0,674.1 L921.7,675.0 L921.5,676.0 L921.2,677.0 L920.9,678.0 L920.7,678.9 L920.4,679.9 L920.1,680.9 L919.8,681.9 L919.4,682.8 L918.9,683.8 L918.5,684.8 L918.0,685.8 L917.6,686.7 L917.3,687.7 L917.1,688.7 L917.0,689.6 L917.0,690.6 L917.3,691.5 L917.8,692.5 L918.4,693.4 L919.2,694.3 L920.0,695.2 L920.8,696.1 L921.5,697.0 L922.1,698.0 L922.4,698.9 L922.5,699.8 L922.3,700.8 L921.8,701.7 L921.2,702.7 L920.5,703.7 L919.6,704.6 L918.7,705.6 L917.7,706.6 L916.8,707.6 L915.9,708.6 L915.1,709.5 L914.3,710.5 L913.5,711.5 L912.6,712.5 L911.8,713.4 L910.9,714.4 L910.1,715.4 L909.4,716.4 L908.7,717.3 L908.1,718.3 L907.7,719.2 L907.4,720.2 L907.1,721.1 L906.9,722.0 L906.8,722.9 L906.7,723.8 L906.7,724.8 L906.9,725.7 L907.1,726.6 L907.3,727.5 L907.7,728.5 L908.2,729.4 L908.8,730.4 L909.5,731.4 L910.2,732.3 L911.1,733.3 L912.0,734.3 L912.9,735.3 L913.9,736.3 L915.0,737.2 L916.0,738.2 L917.1,739.1 L918.4,740.0 L919.8,740.8 L921.2,741.7 L922.7,742.5 L924.1,743.4 L925.4,744.3 L926.6,745.2 L927.6,746.3 L928.4,747.4 L928.9,748.6 L929.2,749.9 L929.4,751.3 L929.4,752.8 L929.3,754.3 L929.1,755.8 L928.9,757.3 L928.8,758.8 L928.7,760.3 L928.7,761.7 L928.8,763.2 L928.9,764.7 L929.0,766.2 L929.1,767.8 L929.2,769.3 L929.3,770.8 L929.4,772.2 L929.5,773.6 L929.6,774.9 L929.7,776.1 L929.8,777.1 L929.9,778.2 L930.0,779.1 L930.1,780.0 L930.2,780.9 L930.2,781.6 L930.3,782.3 L930.4,782.9 L930.5,783.5 L930.5,783.9 Z" fill="none" stroke="#ff0000" stroke-width="4.4" stroke-linejoin="round"/>
<g fill="#ff0000"><circle cx="926.2" cy="665.6" r="3.9"/><circle cx="934.8" cy="669.8" r="3.9"/><circle cx="926.2" cy="674.4" r="3.9"/><circle cx="934.8" cy="679.5" r="3.9"/><circle cx="926.2" cy="685.0" r="3.9"/><circle cx="934.8" cy="687.8" r="3.9"/><circle cx="926.2" cy="694.7" r="3.9"/><circle cx="934.8" cy="698.4" r="3.9"/><circle cx="934.8" cy="705.4" r="3.9"/><circle cx="926.2" cy="710.5" r="3.9"/><circle cx="917.6" cy="718.3" r="3.9"/><circle cx="926.2" cy="719.2" r="3.9"/><circle cx="934.8" cy="717.8" r="3.9"/><circle cx="943.4" cy="720.2" r="3.9"/><circle cx="917.6" cy="728.9" r="3.9"/><circle cx="926.2" cy="727.5" r="3.9"/><circle cx="934.8" cy="726.2" r="3.9"/><circle cx="943.4" cy="735.4" r="3.9"/><circle cx="917.6" cy="737.7" r="3.9"/><circle cx="926.2" cy="738.6" r="3.9"/><circle cx="934.8" cy="738.6" r="3.9"/><circle cx="907.2" cy="718.3" r="3.9"/><circle cx="952.4" cy="718.3" r="3.9"/><circle cx="906.7" cy="728.9" r="3.9"/><circle cx="952.9" cy="733.5" r="3.9"/><circle cx="916.7" cy="689.7" r="3.9"/><circle cx="945.3" cy="689.7" r="3.9"/></g>
<path d="M1005.2,659.6 L1005.3,659.2 L1005.5,658.7 L1005.6,658.1 L1005.8,657.5 L1006.0,656.7 L1006.3,656.0 L1006.6,655.2 L1007.0,654.5 L1007.4,653.8 L1008.0,653.2 L1008.7,652.6 L1009.5,652.0 L1010.5,651.5 L1011.5,651.0 L1012.6,650.5 L1013.7,650.0 L1014.7,649.4 L1015.7,648.9 L1016.6,648.3 L1017.3,647.6 L1017.9,646.9 L1018.3,646.1 L1018.7,645.3 L1019.0,644.4 L1019.3,643.6 L1019.5,642.7 L1019.8,641.9 L1020.1,641.1 L1020.5,640.4 L1021.0,639.8 L1021.7,639.3 L1022.6,638.8 L1023.7,638.5 L1024.8,638.3 L1025.9,638.0 L1026.9,637.7 L1027.7,637.5 L1028.3,637.1 L1028.6,636.6 L1028.5,636.1 L1027.9,635.4 L1026.9,634.6 L1025.6,633.7 L1024.1,632.7 L1022.3,631.7 L1020.5,630.7 L1018.8,629.7 L1017.1,628.7 L1015.6,627.7 L1014.4,626.8 L1013.4,626.0 L1012.5,625.1 L1011.7,624.3 L1011.0,623.5 L1010.4,622.7 L1009.8,621.9 L1009.2,621.2 L1008.7,620.4 L1008.3,619.7 L1007.8,619.0 L1007.4,618.2 L1007.0,617.5 L1006.6,616.7 L1006.3,616.0 L1006.1,615.2 L1005.9,614.6 L1005.7,613.9 L1005.5,613.4 L1005.3,612.9 L1005.2,612.5 L1005.2,612.5 L1005.1,612.9 L1004.9,613.4 L1004.7,613.9 L1004.5,614.6 L1004.3,615.2 L1004.1,616.0 L1003.8,616.7 L1003.4,617.5 L1003.0,618.2 L1002.6,619.0 L1002.1,619.7 L1001.7,620.4 L1001.2,621.2 L1000.6,621.9 L1000.0,622.7 L999.4,623.5 L998.7,624.3 L997.9,625.1 L997.0,626.0 L996.0,626.8 L994.8,627.7 L993.3,628.7 L991.6,629.7 L989.9,630.7 L988.1,631.7 L986.3,632.7 L984.8,633.7 L983.5,634.6 L982.5,635.4 L981.9,636.1 L981.8,636.6 L982.1,637.1 L982.7,637.5 L983.5,637.7 L984.5,638.0 L985.6,638.3 L986.7,638.5 L987.8,638.8 L988.7,639.3 L989.4,639.8 L989.9,640.4 L990.3,641.1 L990.6,641.9 L990.9,642.7 L991.1,643.6 L991.4,644.4 L991.7,645.3 L992.1,646.1 L992.5,646.9 L993.1,647.6 L993.8,648.3 L994.7,648.9 L995.7,649.4 L996.7,650.0 L997.8,650.5 L998.9,651.0 L999.9,651.5 L1000.9,652.0 L1001.7,652.6 L1002.4,653.2 L1003.0,653.8 L1003.4,654.5 L1003.8,655.2 L1004.1,656.0 L1004.4,656.7 L1004.6,657.5 L1004.8,658.1 L1004.9,658.7 L1005.1,659.2 L1005.2,659.6 Z" fill="#f6c6ea" stroke="none"/>
<line x1="983.1" y1="637.0" x2="1027.3" y2="637.0" stroke="#222" stroke-width="1.2" stroke-dasharray="4,3"/>
<line x1="989.1" y1="631.4" x2="1021.3" y2="631.4" stroke="#222" stroke-width="1.2" stroke-dasharray="1.5,2.5"/>
<path d="M1005.2,659.6 L1005.3,659.2 L1005.5,658.7 L1005.6,658.1 L1005.8,657.5 L1006.0,656.7 L1006.3,656.0 L1006.6,655.2 L1007.0,654.5 L1007.4,653.8 L1008.0,653.2 L1008.7,652.6 L1009.5,652.0 L1010.5,651.5 L1011.5,651.0 L1012.6,650.5 L1013.7,650.0 L1014.7,649.4 L1015.7,648.9 L1016.6,648.3 L1017.3,647.6 L1017.9,646.9 L1018.3,646.1 L1018.7,645.3 L1019.0,644.4 L1019.3,643.6 L1019.5,642.7 L1019.8,641.9 L1020.1,641.1 L1020.5,640.4 L1021.0,639.8 L1021.7,639.3 L1022.6,638.8 L1023.7,638.5 L1024.8,638.3 L1025.9,638.0 L1026.9,637.7 L1027.7,637.5 L1028.3,637.1 L1028.6,636.6 L1028.5,636.1 L1027.9,635.4 L1026.9,634.6 L1025.6,633.7 L1024.1,632.7 L1022.3,631.7 L1020.5,630.7 L1018.8,629.7 L1017.1,628.7 L1015.6,627.7 L1014.4,626.8 L1013.4,626.0 L1012.5,625.1 L1011.7,624.3 L1011.0,623.5 L1010.4,622.7 L1009.8,621.9 L1009.2,621.2 L1008.7,620.4 L1008.3,619.7 L1007.8,619.0 L1007.4,618.2 L1007.0,617.5 L1006.6,616.7 L1006.3,616.0 L1006.1,615.2 L1005.9,614.6 L1005.7,613.9 L1005.5,613.4 L1005.3,612.9 L1005.2,612.5 L1005.2,612.5 L1005.1,612.9 L1004.9,613.4 L1004.7,613.9 L1004.5,614.6 L1004.3,615.2 L1004.1,616.0 L1003.8,616.7 L1003.4,617.5 L1003.0,618.2 L1002.6,619.0 L1002.1,619.7 L1001.7,620.4 L1001.2,621.2 L1000.6,621.9 L1000.0,622.7 L999.4,623.5 L998.7,624.3 L997.9,625.1 L997.0,626.0 L996.0,626.8 L994.8,627.7 L993.3,628.7 L991.6,629.7 L989.9,630.7 L988.1,631.7 L986.3,632.7 L984.8,633.7 L983.5,634.6 L982.5,635.4 L981.9,636.1 L981.8,636.6 L982.1,637.1 L982.7,637.5 L983.5,637.7 L984.5,638.0 L985.6,638.3 L986.7,638.5 L987.8,638.8 L988.7,639.3 L989.4,639.8 L989.9,640.4 L990.3,641.1 L990.6,641.9 L990.9,642.7 L991.1,643.6 L991.4,644.4 L991.7,645.3 L992.1,646.1 L992.5,646.9 L993.1,647.6 L993.8,648.3 L994.7,648.9 L995.7,649.4 L996.7,650.0 L997.8,650.5 L998.9,651.0 L999.9,651.5 L1000.9,652.0 L1001.7,652.6 L1002.4,653.2 L1003.0,653.8 L1003.4,654.5 L1003.8,655.2 L1004.1,656.0 L1004.4,656.7 L1004.6,657.5 L1004.8,658.1 L1004.9,658.7 L1005.1,659.2 L1005.2,659.6 Z" fill="none" stroke="#cd0067" stroke-width="4.4" stroke-linejoin="round"/>
<g fill="#cd0067"><circle cx="1005.2" cy="627.8" r="3.9"/><circle cx="1005.2" cy="638.4" r="3.9"/><circle cx="1005.2" cy="643.0" r="3.9"/><circle cx="1016.6" cy="623.1" r="3.9"/><circle cx="993.8" cy="628.7" r="3.9"/><circle cx="993.8" cy="648.5" r="3.9"/><circle cx="1016.6" cy="648.5" r="3.9"/><circle cx="981.4" cy="636.1" r="3.9"/><circle cx="1029.0" cy="636.1" r="3.9"/></g>
<text x="1310.5" y="546.5" font-size="21.5" text-anchor="middle" fill="#000" letter-spacing="0.2">C-reactive protein</text>
<text x="1138.7" y="722.0" font-size="23" font-weight="bold" text-anchor="middle" fill="#000" transform="rotate(-90 1138.7 722.0)">CRP (mg/L)</text>
<path d="M1217.5,859.6h0M1226.8,859.6h0M1236.2,859.6h0M1245.5,859.6h0M1254.8,859.6h0M1264.1,859.6h0M1273.5,859.6h0M1282.8,859.6h0M1292.1,859.6h0M1301.5,859.6h0M1310.8,859.6h0M1320.1,859.6h0M1329.5,859.6h0M1338.8,859.6h0M1348.1,859.6h0M1357.4,859.6h0M1366.8,859.6h0M1376.1,859.6h0M1385.4,859.6h0M1394.8,859.6h0M1404.1,859.6h0M1413.4,859.6h0" stroke="#000" stroke-width="2.6" stroke-linecap="round"/>
<line x1="1208.2" y1="582.5" x2="1208.2" y2="862.5" stroke="#000" stroke-width="3.2"/>
<line x1="1195.7" y1="861.0" x2="1209.7" y2="861.0" stroke="#000" stroke-width="3.2"/>
<text x="1191.9" y="869.7" font-size="23" font-weight="bold" text-anchor="end" fill="#000">0</text>
<line x1="1195.7" y1="768.7" x2="1209.7" y2="768.7" stroke="#000" stroke-width="3.2"/>
<text x="1191.9" y="777.4" font-size="23" font-weight="bold" text-anchor="end" fill="#000">200</text>
<line x1="1195.7" y1="676.3" x2="1209.7" y2="676.3" stroke="#000" stroke-width="3.2"/>
<text x="1191.9" y="685.0" font-size="23" font-weight="bold" text-anchor="end" fill="#000">400</text>
<line x1="1195.7" y1="584.0" x2="1209.7" y2="584.0" stroke="#000" stroke-width="3.2"/>
<text x="1191.9" y="592.7" font-size="23" font-weight="bold" text-anchor="end" fill="#000">600</text>
<line x1="1195.7" y1="859.6" x2="1209.7" y2="859.6" stroke="#000" stroke-width="3.2"/>
<line x1="1238.2" y1="892.3" x2="1415.2" y2="892.3" stroke="#000" stroke-width="3.2"/>
<line x1="1288.2" y1="892.3" x2="1288.2" y2="904.8" stroke="#000" stroke-width="3.2"/>
<line x1="1363.3" y1="892.3" x2="1363.3" y2="904.8" stroke="#000" stroke-width="3.2"/>
<text x="1325.7" y="933.0" font-size="21.5" text-anchor="middle" fill="#000">MIS-C</text>
<text x="1276.7" y="954.8" font-size="16.5" font-style="italic" text-anchor="middle" fill="#000">acute</text>
<text x="1359.2" y="954.8" font-size="16.5" font-style="italic" text-anchor="middle" fill="#000" letter-spacing="0.2">remission</text>
<text x="1318.8" y="603.8" font-size="40" font-weight="bold" text-anchor="middle" fill="#000" letter-spacing="2.4">***</text>
<line x1="1288.2" y1="603.8" x2="1350.6" y2="603.8" stroke="#444" stroke-width="1.6"/>
<path d="M1289.2,861.9 L1289.3,861.6 L1289.5,861.3 L1289.8,860.9 L1290.0,860.4 L1290.3,859.9 L1290.5,859.3 L1290.8,858.7 L1291.1,858.0 L1291.4,857.2 L1291.7,856.4 L1292.0,855.5 L1292.2,854.5 L1292.4,853.5 L1292.6,852.4 L1292.8,851.2 L1293.1,850.0 L1293.4,848.7 L1293.7,847.4 L1294.2,845.9 L1294.7,844.4 L1295.3,842.7 L1296.1,841.0 L1296.9,839.1 L1297.8,837.1 L1298.7,835.1 L1299.6,833.0 L1300.6,830.9 L1301.5,828.9 L1302.5,826.9 L1303.4,825.0 L1304.3,823.1 L1305.4,821.3 L1306.5,819.6 L1307.6,817.8 L1308.6,816.0 L1309.7,814.3 L1310.6,812.5 L1311.4,810.7 L1312.0,808.9 L1312.4,807.0 L1312.6,805.0 L1312.5,803.1 L1312.3,801.0 L1311.9,799.0 L1311.4,796.9 L1310.9,794.8 L1310.4,792.8 L1309.9,790.7 L1309.5,788.7 L1309.2,786.7 L1309.0,784.7 L1308.9,782.7 L1308.9,780.8 L1308.9,778.8 L1308.9,776.9 L1308.9,775.0 L1308.8,773.1 L1308.6,771.1 L1308.3,769.2 L1307.9,767.3 L1307.3,765.3 L1306.5,763.2 L1305.6,761.1 L1304.6,759.0 L1303.6,756.9 L1302.5,754.8 L1301.5,752.9 L1300.6,751.0 L1299.8,749.4 L1299.2,747.9 L1298.7,746.7 L1298.4,745.7 L1298.2,744.9 L1298.0,744.2 L1297.9,743.6 L1297.8,743.0 L1297.8,742.4 L1297.8,741.8 L1297.7,741.0 L1297.7,740.0 L1297.7,738.9 L1297.7,737.7 L1297.7,736.4 L1297.8,735.1 L1297.9,733.7 L1298.0,732.3 L1298.0,730.8 L1298.1,729.4 L1298.2,728.0 L1298.3,726.7 L1298.4,725.3 L1298.5,724.0 L1298.5,722.6 L1298.6,721.3 L1298.7,720.0 L1298.8,718.6 L1298.9,717.3 L1298.9,715.9 L1299.0,714.6 L1299.0,713.3 L1299.0,711.9 L1299.0,710.6 L1299.0,709.3 L1299.0,707.9 L1298.9,706.6 L1298.9,705.2 L1298.8,703.9 L1298.6,702.6 L1298.5,701.2 L1298.3,699.9 L1298.1,698.5 L1297.8,697.2 L1297.4,695.8 L1297.0,694.5 L1296.6,693.2 L1296.2,691.8 L1295.8,690.5 L1295.4,689.1 L1295.0,687.8 L1294.7,686.5 L1294.4,685.2 L1294.0,683.9 L1293.7,682.6 L1293.3,681.3 L1293.0,680.0 L1292.7,678.7 L1292.4,677.5 L1292.1,676.2 L1291.9,674.9 L1291.7,673.6 L1291.6,672.3 L1291.5,671.0 L1291.5,669.8 L1291.5,668.6 L1291.5,667.3 L1291.5,666.1 L1291.6,664.7 L1291.6,663.3 L1291.6,661.8 L1291.5,660.2 L1291.4,658.4 L1291.3,656.6 L1291.1,654.7 L1291.0,652.7 L1290.8,650.7 L1290.6,648.6 L1290.4,646.5 L1290.3,644.3 L1290.1,642.1 L1290.0,639.9 L1289.9,637.5 L1289.8,634.8 L1289.7,632.1 L1289.6,629.2 L1289.5,626.4 L1289.4,623.6 L1289.4,621.1 L1289.3,618.8 L1289.2,616.9 L1289.2,615.4 L1289.2,615.4 L1289.2,616.9 L1289.1,618.8 L1289.0,621.1 L1289.0,623.6 L1288.9,626.4 L1288.8,629.2 L1288.7,632.1 L1288.6,634.8 L1288.5,637.5 L1288.4,639.9 L1288.3,642.1 L1288.1,644.3 L1288.0,646.5 L1287.8,648.6 L1287.6,650.7 L1287.4,652.7 L1287.3,654.7 L1287.1,656.6 L1287.0,658.4 L1286.9,660.2 L1286.8,661.8 L1286.8,663.3 L1286.8,664.7 L1286.9,666.1 L1286.9,667.3 L1286.9,668.6 L1286.9,669.8 L1286.9,671.0 L1286.8,672.3 L1286.7,673.6 L1286.5,674.9 L1286.3,676.2 L1286.0,677.5 L1285.7,678.7 L1285.4,680.0 L1285.1,681.3 L1284.7,682.6 L1284.4,683.9 L1284.0,685.2 L1283.7,686.5 L1283.4,687.8 L1283.0,689.1 L1282.6,690.5 L1282.2,691.8 L1281.8,693.2 L1281.4,694.5 L1281.0,695.8 L1280.6,697.2 L1280.3,698.5 L1280.1,699.9 L1279.9,701.2 L1279.8,702.6 L1279.6,703.9 L1279.5,705.2 L1279.5,706.6 L1279.4,707.9 L1279.4,709.3 L1279.4,710.6 L1279.4,711.9 L1279.4,713.3 L1279.4,714.6 L1279.5,715.9 L1279.5,717.3 L1279.6,718.6 L1279.7,720.0 L1279.8,721.3 L1279.9,722.6 L1279.9,724.0 L1280.0,725.3 L1280.1,726.7 L1280.2,728.0 L1280.3,729.4 L1280.4,730.8 L1280.4,732.3 L1280.5,733.7 L1280.6,735.1 L1280.7,736.4 L1280.7,737.7 L1280.7,738.9 L1280.7,740.0 L1280.7,741.0 L1280.6,741.8 L1280.6,742.4 L1280.6,743.0 L1280.5,743.6 L1280.4,744.2 L1280.2,744.9 L1280.0,745.7 L1279.7,746.7 L1279.2,747.9 L1278.6,749.4 L1277.8,751.0 L1276.9,752.9 L1275.9,754.8 L1274.8,756.9 L1273.8,759.0 L1272.8,761.1 L1271.9,763.2 L1271.1,765.3 L1270.5,767.3 L1270.1,769.2 L1269.8,771.1 L1269.6,773.1 L1269.5,775.0 L1269.5,776.9 L1269.5,778.8 L1269.5,780.8 L1269.5,782.7 L1269.4,784.7 L1269.2,786.7 L1268.9,788.7 L1268.5,790.7 L1268.0,792.8 L1267.5,794.8 L1267.0,796.9 L1266.5,799.0 L1266.1,801.0 L1265.9,803.1 L1265.8,805.0 L1266.0,807.0 L1266.4,808.9 L1267.0,810.7 L1267.8,812.5 L1268.7,814.3 L1269.8,816.0 L1270.8,817.8 L1271.9,819.6 L1273.0,821.3 L1274.1,823.1 L1275.0,825.0 L1275.9,826.9 L1276.9,828.9 L1277.8,830.9 L1278.8,833.0 L1279.7,835.1 L1280.6,837.1 L1281.5,839.1 L1282.3,841.0 L1283.1,842.7 L1283.7,844.4 L1284.2,845.9 L1284.7,847.4 L1285.0,848.7 L1285.3,850.0 L1285.6,851.2 L1285.8,852.4 L1286.0,853.5 L1286.2,854.5 L1286.4,855.5 L1286.7,856.4 L1287.0,857.2 L1287.3,858.0 L1287.6,858.7 L1287.9,859.3 L1288.1,859.9 L1288.4,860.4 L1288.6,860.9 L1288.9,861.3 L1289.1,861.6 L1289.2,861.9 Z" fill="#fde0e0" stroke="none"/>
<line x1="1270.5" y1="777.4" x2="1307.9" y2="777.4" stroke="#222" stroke-width="1.2" stroke-dasharray="4,3"/>
<line x1="1267.0" y1="807.0" x2="1311.4" y2="807.0" stroke="#222" stroke-width="1.2" stroke-dasharray="1.5,2.5"/>
<path d="M1289.2,861.9 L1289.3,861.6 L1289.5,861.3 L1289.8,860.9 L1290.0,860.4 L1290.3,859.9 L1290.5,859.3 L1290.8,858.7 L1291.1,858.0 L1291.4,857.2 L1291.7,856.4 L1292.0,855.5 L1292.2,854.5 L1292.4,853.5 L1292.6,852.4 L1292.8,851.2 L1293.1,850.0 L1293.4,848.7 L1293.7,847.4 L1294.2,845.9 L1294.7,844.4 L1295.3,842.7 L1296.1,841.0 L1296.9,839.1 L1297.8,837.1 L1298.7,835.1 L1299.6,833.0 L1300.6,830.9 L1301.5,828.9 L1302.5,826.9 L1303.4,825.0 L1304.3,823.1 L1305.4,821.3 L1306.5,819.6 L1307.6,817.8 L1308.6,816.0 L1309.7,814.3 L1310.6,812.5 L1311.4,810.7 L1312.0,808.9 L1312.4,807.0 L1312.6,805.0 L1312.5,803.1 L1312.3,801.0 L1311.9,799.0 L1311.4,796.9 L1310.9,794.8 L1310.4,792.8 L1309.9,790.7 L1309.5,788.7 L1309.2,786.7 L1309.0,784.7 L1308.9,782.7 L1308.9,780.8 L1308.9,778.8 L1308.9,776.9 L1308.9,775.0 L1308.8,773.1 L1308.6,771.1 L1308.3,769.2 L1307.9,767.3 L1307.3,765.3 L1306.5,763.2 L1305.6,761.1 L1304.6,759.0 L1303.6,756.9 L1302.5,754.8 L1301.5,752.9 L1300.6,751.0 L1299.8,749.4 L1299.2,747.9 L1298.7,746.7 L1298.4,745.7 L1298.2,744.9 L1298.0,744.2 L1297.9,743.6 L1297.8,743.0 L1297.8,742.4 L1297.8,741.8 L1297.7,741.0 L1297.7,740.0 L1297.7,738.9 L1297.7,737.7 L1297.7,736.4 L1297.8,735.1 L1297.9,733.7 L1298.0,732.3 L1298.0,730.8 L1298.1,729.4 L1298.2,728.0 L1298.3,726.7 L1298.4,725.3 L1298.5,724.0 L1298.5,722.6 L1298.6,721.3 L1298.7,720.0 L1298.8,718.6 L1298.9,717.3 L1298.9,715.9 L1299.0,714.6 L1299.0,713.3 L1299.0,711.9 L1299.0,710.6 L1299.0,709.3 L1299.0,707.9 L1298.9,706.6 L1298.9,705.2 L1298.8,703.9 L1298.6,702.6 L1298.5,701.2 L1298.3,699.9 L1298.1,698.5 L1297.8,697.2 L1297.4,695.8 L1297.0,694.5 L1296.6,693.2 L1296.2,691.8 L1295.8,690.5 L1295.4,689.1 L1295.0,687.8 L1294.7,686.5 L1294.4,685.2 L1294.0,683.9 L1293.7,682.6 L1293.3,681.3 L1293.0,680.0 L1292.7,678.7 L1292.4,677.5 L1292.1,676.2 L1291.9,674.9 L1291.7,673.6 L1291.6,672.3 L1291.5,671.0 L1291.5,669.8 L1291.5,668.6 L1291.5,667.3 L1291.5,666.1 L1291.6,664.7 L1291.6,663.3 L1291.6,661.8 L1291.5,660.2 L1291.4,658.4 L1291.3,656.6 L1291.1,654.7 L1291.0,652.7 L1290.8,650.7 L1290.6,648.6 L1290.4,646.5 L1290.3,644.3 L1290.1,642.1 L1290.0,639.9 L1289.9,637.5 L1289.8,634.8 L1289.7,632.1 L1289.6,629.2 L1289.5,626.4 L1289.4,623.6 L1289.4,621.1 L1289.3,618.8 L1289.2,616.9 L1289.2,615.4 L1289.2,615.4 L1289.2,616.9 L1289.1,618.8 L1289.0,621.1 L1289.0,623.6 L1288.9,626.4 L1288.8,629.2 L1288.7,632.1 L1288.6,634.8 L1288.5,637.5 L1288.4,639.9 L1288.3,642.1 L1288.1,644.3 L1288.0,646.5 L1287.8,648.6 L1287.6,650.7 L1287.4,652.7 L1287.3,654.7 L1287.1,656.6 L1287.0,658.4 L1286.9,660.2 L1286.8,661.8 L1286.8,663.3 L1286.8,664.7 L1286.9,666.1 L1286.9,667.3 L1286.9,668.6 L1286.9,669.8 L1286.9,671.0 L1286.8,672.3 L1286.7,673.6 L1286.5,674.9 L1286.3,676.2 L1286.0,677.5 L1285.7,678.7 L1285.4,680.0 L1285.1,681.3 L1284.7,682.6 L1284.4,683.9 L1284.0,685.2 L1283.7,686.5 L1283.4,687.8 L1283.0,689.1 L1282.6,690.5 L1282.2,691.8 L1281.8,693.2 L1281.4,694.5 L1281.0,695.8 L1280.6,697.2 L1280.3,698.5 L1280.1,699.9 L1279.9,701.2 L1279.8,702.6 L1279.6,703.9 L1279.5,705.2 L1279.5,706.6 L1279.4,707.9 L1279.4,709.3 L1279.4,710.6 L1279.4,711.9 L1279.4,713.3 L1279.4,714.6 L1279.5,715.9 L1279.5,717.3 L1279.6,718.6 L1279.7,720.0 L1279.8,721.3 L1279.9,722.6 L1279.9,724.0 L1280.0,725.3 L1280.1,726.7 L1280.2,728.0 L1280.3,729.4 L1280.4,730.8 L1280.4,732.3 L1280.5,733.7 L1280.6,735.1 L1280.7,736.4 L1280.7,737.7 L1280.7,738.9 L1280.7,740.0 L1280.7,741.0 L1280.6,741.8 L1280.6,742.4 L1280.6,743.0 L1280.5,743.6 L1280.4,744.2 L1280.2,744.9 L1280.0,745.7 L1279.7,746.7 L1279.2,747.9 L1278.6,749.4 L1277.8,751.0 L1276.9,752.9 L1275.9,754.8 L1274.8,756.9 L1273.8,759.0 L1272.8,761.1 L1271.9,763.2 L1271.1,765.3 L1270.5,767.3 L1270.1,769.2 L1269.8,771.1 L1269.6,773.1 L1269.5,775.0 L1269.5,776.9 L1269.5,778.8 L1269.5,780.8 L1269.5,782.7 L1269.4,784.7 L1269.2,786.7 L1268.9,788.7 L1268.5,790.7 L1268.0,792.8 L1267.5,794.8 L1267.0,796.9 L1266.5,799.0 L1266.1,801.0 L1265.9,803.1 L1265.8,805.0 L1266.0,807.0 L1266.4,808.9 L1267.0,810.7 L1267.8,812.5 L1268.7,814.3 L1269.8,816.0 L1270.8,817.8 L1271.9,819.6 L1273.0,821.3 L1274.1,823.1 L1275.0,825.0 L1275.9,826.9 L1276.9,828.9 L1277.8,830.9 L1278.8,833.0 L1279.7,835.1 L1280.6,837.1 L1281.5,839.1 L1282.3,841.0 L1283.1,842.7 L1283.7,844.4 L1284.2,845.9 L1284.7,847.4 L1285.0,848.7 L1285.3,850.0 L1285.6,851.2 L1285.8,852.4 L1286.0,853.5 L1286.2,854.5 L1286.4,855.5 L1286.7,856.4 L1287.0,857.2 L1287.3,858.0 L1287.6,858.7 L1287.9,859.3 L1288.1,859.9 L1288.4,860.4 L1288.6,860.9 L1288.9,861.3 L1289.1,861.6 L1289.2,861.9 Z" fill="none" stroke="#ff0000" stroke-width="4.4" stroke-linejoin="round"/>
<g fill="#ff0000"><circle cx="1289.2" cy="690.6" r="3.9"/><circle cx="1284.7" cy="699.4" r="3.9"/><circle cx="1293.7" cy="701.9" r="3.9"/><circle cx="1288.7" cy="708.6" r="3.9"/><circle cx="1293.7" cy="717.4" r="3.9"/><circle cx="1284.7" cy="722.0" r="3.9"/><circle cx="1293.3" cy="732.7" r="3.9"/><circle cx="1284.7" cy="734.7" r="3.9"/><circle cx="1289.2" cy="749.7" r="3.9"/><circle cx="1275.8" cy="764.5" r="3.9"/><circle cx="1293.3" cy="762.2" r="3.9"/><circle cx="1301.7" cy="763.1" r="3.9"/><circle cx="1293.3" cy="771.0" r="3.9"/><circle cx="1275.8" cy="777.4" r="3.9"/><circle cx="1302.2" cy="777.4" r="3.9"/><circle cx="1284.9" cy="782.1" r="3.9"/><circle cx="1293.3" cy="785.3" r="3.9"/><circle cx="1302.2" cy="785.3" r="3.9"/><circle cx="1284.9" cy="790.8" r="3.9"/><circle cx="1289.2" cy="798.7" r="3.9"/><circle cx="1275.8" cy="811.1" r="3.9"/><circle cx="1284.9" cy="811.1" r="3.9"/><circle cx="1293.3" cy="807.0" r="3.9"/><circle cx="1302.2" cy="806.5" r="3.9"/><circle cx="1293.3" cy="814.8" r="3.9"/><circle cx="1302.2" cy="813.9" r="3.9"/><circle cx="1289.2" cy="826.4" r="3.9"/><circle cx="1284.9" cy="839.3" r="3.9"/><circle cx="1293.3" cy="839.3" r="3.9"/><circle cx="1267.0" cy="807.0" r="3.9"/><circle cx="1311.7" cy="805.6" r="3.9"/></g>
<path d="M1384.0,862.4 L1384.2,862.2 L1384.5,862.1 L1384.8,861.8 L1385.2,861.6 L1385.6,861.3 L1386.0,861.1 L1386.2,860.8 L1386.3,860.5 L1386.3,860.3 L1386.0,860.1 L1385.5,859.9 L1384.8,859.7 L1383.9,859.5 L1382.9,859.3 L1381.8,859.1 L1380.6,858.9 L1379.5,858.7 L1378.3,858.6 L1377.1,858.4 L1376.0,858.2 L1374.9,858.1 L1373.7,857.9 L1372.4,857.8 L1371.2,857.6 L1369.9,857.5 L1368.7,857.4 L1367.6,857.2 L1366.6,857.1 L1365.7,857.0 L1365.0,856.8 L1364.5,856.8 L1364.2,856.8 L1364.0,856.9 L1364.0,857.0 L1364.0,857.1 L1364.1,857.1 L1364.2,857.0 L1364.3,856.7 L1364.4,856.2 L1364.4,855.5 L1364.4,854.3 L1364.4,852.9 L1364.4,851.1 L1364.4,849.2 L1364.4,847.2 L1364.4,845.2 L1364.4,843.2 L1364.4,841.5 L1364.4,840.0 L1364.4,838.8 L1364.4,838.0 L1364.3,837.5 L1364.3,837.1 L1364.2,836.9 L1364.2,836.9 L1364.2,836.9 L1364.1,836.9 L1364.1,837.0 L1364.0,837.0 L1364.0,837.0 L1364.0,837.0 L1364.0,837.0 L1363.9,837.0 L1363.9,836.9 L1363.8,836.9 L1363.8,836.9 L1363.8,836.9 L1363.7,837.1 L1363.7,837.5 L1363.6,838.0 L1363.6,838.8 L1363.6,840.0 L1363.6,841.5 L1363.6,843.2 L1363.6,845.2 L1363.6,847.2 L1363.6,849.2 L1363.6,851.1 L1363.6,852.9 L1363.6,854.3 L1363.6,855.5 L1363.6,856.2 L1363.7,856.7 L1363.8,857.0 L1363.9,857.1 L1364.0,857.1 L1364.0,857.0 L1364.0,856.9 L1363.8,856.8 L1363.5,856.8 L1363.0,856.8 L1362.3,857.0 L1361.4,857.1 L1360.4,857.2 L1359.3,857.4 L1358.1,857.5 L1356.8,857.6 L1355.6,857.8 L1354.3,857.9 L1353.1,858.1 L1352.0,858.2 L1350.9,858.4 L1349.7,858.6 L1348.5,858.7 L1347.4,858.9 L1346.2,859.1 L1345.1,859.3 L1344.1,859.5 L1343.2,859.7 L1342.5,859.9 L1342.0,860.1 L1341.7,860.3 L1341.7,860.5 L1341.8,860.8 L1342.0,861.1 L1342.4,861.3 L1342.8,861.6 L1343.2,861.8 L1343.5,862.1 L1343.8,862.2 L1344.0,862.4 Z" fill="#f6c6ea" stroke="none"/>
<path d="M1384.0,862.4 L1384.2,862.2 L1384.5,862.1 L1384.8,861.8 L1385.2,861.6 L1385.6,861.3 L1386.0,861.1 L1386.2,860.8 L1386.3,860.5 L1386.3,860.3 L1386.0,860.1 L1385.5,859.9 L1384.8,859.7 L1383.9,859.5 L1382.9,859.3 L1381.8,859.1 L1380.6,858.9 L1379.5,858.7 L1378.3,858.6 L1377.1,858.4 L1376.0,858.2 L1374.9,858.1 L1373.7,857.9 L1372.4,857.8 L1371.2,857.6 L1369.9,857.5 L1368.7,857.4 L1367.6,857.2 L1366.6,857.1 L1365.7,857.0 L1365.0,856.8 L1364.5,856.8 L1364.2,856.8 L1364.0,856.9 L1364.0,857.0 L1364.0,857.1 L1364.1,857.1 L1364.2,857.0 L1364.3,856.7 L1364.4,856.2 L1364.4,855.5 L1364.4,854.3 L1364.4,852.9 L1364.4,851.1 L1364.4,849.2 L1364.4,847.2 L1364.4,845.2 L1364.4,843.2 L1364.4,841.5 L1364.4,840.0 L1364.4,838.8 L1364.4,838.0 L1364.3,837.5 L1364.3,837.1 L1364.2,836.9 L1364.2,836.9 L1364.2,836.9 L1364.1,836.9 L1364.1,837.0 L1364.0,837.0 L1364.0,837.0 L1364.0,837.0 L1364.0,837.0 L1363.9,837.0 L1363.9,836.9 L1363.8,836.9 L1363.8,836.9 L1363.8,836.9 L1363.7,837.1 L1363.7,837.5 L1363.6,838.0 L1363.6,838.8 L1363.6,840.0 L1363.6,841.5 L1363.6,843.2 L1363.6,845.2 L1363.6,847.2 L1363.6,849.2 L1363.6,851.1 L1363.6,852.9 L1363.6,854.3 L1363.6,855.5 L1363.6,856.2 L1363.7,856.7 L1363.8,857.0 L1363.9,857.1 L1364.0,857.1 L1364.0,857.0 L1364.0,856.9 L1363.8,856.8 L1363.5,856.8 L1363.0,856.8 L1362.3,857.0 L1361.4,857.1 L1360.4,857.2 L1359.3,857.4 L1358.1,857.5 L1356.8,857.6 L1355.6,857.8 L1354.3,857.9 L1353.1,858.1 L1352.0,858.2 L1350.9,858.4 L1349.7,858.6 L1348.5,858.7 L1347.4,858.9 L1346.2,859.1 L1345.1,859.3 L1344.1,859.5 L1343.2,859.7 L1342.5,859.9 L1342.0,860.1 L1341.7,860.3 L1341.7,860.5 L1341.8,860.8 L1342.0,861.1 L1342.4,861.3 L1342.8,861.6 L1343.2,861.8 L1343.5,862.1 L1343.8,862.2 L1344.0,862.4 Z" fill="none" stroke="#cd0067" stroke-width="4.4" stroke-linejoin="round"/>
<g fill="#cd0067"><circle cx="1343.0" cy="861.0" r="3.8"/><circle cx="1350.0" cy="861.0" r="3.8"/><circle cx="1357.0" cy="861.0" r="3.8"/><circle cx="1364.0" cy="861.0" r="3.8"/><circle cx="1371.0" cy="861.0" r="3.8"/><circle cx="1378.0" cy="861.0" r="3.8"/><circle cx="1385.0" cy="861.0" r="3.8"/><circle cx="1355.5" cy="858.7" r="3.8"/><circle cx="1362.5" cy="858.7" r="3.8"/><circle cx="1369.5" cy="858.7" r="3.8"/><circle cx="1376.5" cy="858.7" r="3.8"/></g>
<circle cx="1364" cy="837.9" r="3.9" fill="#cd0067"/>
<text x="1673.2" y="546.5" font-size="21.5" text-anchor="middle" fill="#000" letter-spacing="0.2">Haptoglobin</text>
<text x="1526.2" y="722.0" font-size="23" font-weight="bold" text-anchor="middle" fill="#000" transform="rotate(-90 1526.2 722.0)">Haptoglobin (g/L)</text>
<path d="M1580.5,768.4h0M1589.8,768.4h0M1599.2,768.4h0M1608.5,768.4h0M1617.8,768.4h0M1627.1,768.4h0M1636.5,768.4h0M1645.8,768.4h0M1655.1,768.4h0M1664.5,768.4h0M1673.8,768.4h0M1683.1,768.4h0M1692.5,768.4h0M1701.8,768.4h0M1711.1,768.4h0M1720.4,768.4h0M1729.8,768.4h0M1739.1,768.4h0M1748.4,768.4h0M1757.8,768.4h0M1767.1,768.4h0M1776.4,768.4h0" stroke="#000" stroke-width="2.6" stroke-linecap="round"/>
<path d="M1580.5,846.8h0M1589.8,846.8h0M1599.2,846.8h0M1608.5,846.8h0M1617.8,846.8h0M1627.1,846.8h0M1636.5,846.8h0M1645.8,846.8h0M1655.1,846.8h0M1664.5,846.8h0M1673.8,846.8h0M1683.1,846.8h0M1692.5,846.8h0M1701.8,846.8h0M1711.1,846.8h0M1720.4,846.8h0M1729.8,846.8h0M1739.1,846.8h0M1748.4,846.8h0M1757.8,846.8h0M1767.1,846.8h0M1776.4,846.8h0" stroke="#000" stroke-width="2.6" stroke-linecap="round"/>
<line x1="1571.2" y1="582.5" x2="1571.2" y2="862.1" stroke="#000" stroke-width="3.2"/>
<line x1="1558.7" y1="860.6" x2="1572.7" y2="860.6" stroke="#000" stroke-width="3.2"/>
<text x="1554.9" y="869.3" font-size="23" font-weight="bold" text-anchor="end" fill="#000">0</text>
<line x1="1558.7" y1="768.4" x2="1572.7" y2="768.4" stroke="#000" stroke-width="3.2"/>
<text x="1554.9" y="777.1" font-size="23" font-weight="bold" text-anchor="end" fill="#000">2</text>
<line x1="1558.7" y1="676.2" x2="1572.7" y2="676.2" stroke="#000" stroke-width="3.2"/>
<text x="1554.9" y="684.9" font-size="23" font-weight="bold" text-anchor="end" fill="#000">4</text>
<line x1="1558.7" y1="584.0" x2="1572.7" y2="584.0" stroke="#000" stroke-width="3.2"/>
<text x="1554.9" y="592.7" font-size="23" font-weight="bold" text-anchor="end" fill="#000">6</text>
<line x1="1558.7" y1="846.8" x2="1572.7" y2="846.8" stroke="#000" stroke-width="3.2"/>
<line x1="1600.8" y1="892.3" x2="1778.2" y2="892.3" stroke="#000" stroke-width="3.2"/>
<line x1="1651.2" y1="892.3" x2="1651.2" y2="904.8" stroke="#000" stroke-width="3.2"/>
<line x1="1725.7" y1="892.3" x2="1725.7" y2="904.8" stroke="#000" stroke-width="3.2"/>
<text x="1688.4" y="933.0" font-size="21.5" text-anchor="middle" fill="#000">MIS-C</text>
<text x="1639.7" y="957.0" font-size="16.5" font-style="italic" text-anchor="middle" fill="#000">acute</text>
<text x="1722.0" y="957.0" font-size="16.5" font-style="italic" text-anchor="middle" fill="#000" letter-spacing="0.2">remission</text>
<text x="1689.0" y="606.8" font-size="40" font-weight="bold" text-anchor="middle" fill="#000" letter-spacing="2.4">***</text>
<line x1="1659.3" y1="606.8" x2="1720.2" y2="606.8" stroke="#444" stroke-width="1.6"/>
<path d="M1651.9,861.5 L1651.9,860.9 L1652.0,860.2 L1652.1,859.3 L1652.2,858.2 L1652.3,857.1 L1652.4,856.0 L1652.4,854.8 L1652.5,853.6 L1652.6,852.5 L1652.7,851.4 L1652.8,850.4 L1652.8,849.4 L1652.8,848.5 L1652.9,847.6 L1652.9,846.7 L1652.9,845.7 L1653.0,844.6 L1653.0,843.4 L1653.2,841.9 L1653.3,840.3 L1653.5,838.4 L1653.7,836.3 L1654.0,834.1 L1654.2,831.6 L1654.5,829.1 L1654.8,826.5 L1655.1,823.9 L1655.4,821.3 L1655.7,818.8 L1656.0,816.3 L1656.3,814.0 L1656.5,811.6 L1656.8,809.3 L1657.0,806.9 L1657.2,804.6 L1657.5,802.2 L1657.7,799.9 L1658.0,797.6 L1658.3,795.2 L1658.6,792.8 L1658.9,790.4 L1659.2,788.0 L1659.6,785.5 L1659.9,783.0 L1660.3,780.5 L1660.6,778.0 L1661.0,775.6 L1661.4,773.3 L1661.8,771.0 L1662.2,768.9 L1662.6,766.8 L1663.0,764.8 L1663.5,762.9 L1663.9,761.1 L1664.4,759.3 L1664.8,757.5 L1665.3,755.8 L1665.9,754.1 L1666.4,752.5 L1667.0,750.9 L1667.7,749.3 L1668.5,747.9 L1669.4,746.5 L1670.3,745.2 L1671.2,743.9 L1672.1,742.6 L1672.9,741.3 L1673.6,739.8 L1674.1,738.3 L1674.4,736.6 L1674.5,734.7 L1674.5,732.7 L1674.3,730.6 L1674.0,728.5 L1673.6,726.2 L1673.1,724.0 L1672.6,721.7 L1672.1,719.5 L1671.6,717.4 L1671.1,715.4 L1670.6,713.4 L1670.1,711.5 L1669.5,709.6 L1668.9,707.7 L1668.3,705.8 L1667.7,704.0 L1667.0,702.3 L1666.3,700.6 L1665.6,698.9 L1664.9,697.4 L1664.1,696.0 L1663.3,694.6 L1662.3,693.4 L1661.4,692.2 L1660.4,691.0 L1659.5,689.9 L1658.6,688.8 L1657.8,687.7 L1657.1,686.6 L1656.5,685.4 L1656.1,684.2 L1655.7,683.0 L1655.5,681.8 L1655.3,680.6 L1655.2,679.4 L1655.2,678.2 L1655.1,677.0 L1655.0,675.8 L1654.9,674.6 L1654.8,673.4 L1654.6,672.3 L1654.4,671.2 L1654.2,670.1 L1654.0,669.0 L1653.8,667.9 L1653.6,666.9 L1653.4,665.8 L1653.2,664.7 L1653.0,663.5 L1652.9,662.4 L1652.8,661.2 L1652.7,660.1 L1652.6,659.0 L1652.6,657.8 L1652.6,656.7 L1652.5,655.5 L1652.5,654.2 L1652.5,652.9 L1652.4,651.5 L1652.4,649.9 L1652.3,648.2 L1652.3,646.1 L1652.2,643.9 L1652.2,641.6 L1652.1,639.2 L1652.1,637.0 L1652.0,634.8 L1652.0,632.9 L1651.9,631.3 L1651.9,630.1 L1651.9,630.1 L1651.9,631.3 L1651.8,632.9 L1651.8,634.8 L1651.7,637.0 L1651.7,639.2 L1651.6,641.6 L1651.6,643.9 L1651.5,646.1 L1651.5,648.2 L1651.4,649.9 L1651.4,651.5 L1651.3,652.9 L1651.3,654.2 L1651.3,655.5 L1651.2,656.7 L1651.2,657.8 L1651.2,659.0 L1651.1,660.1 L1651.0,661.2 L1650.9,662.4 L1650.8,663.5 L1650.6,664.7 L1650.4,665.8 L1650.2,666.9 L1650.0,667.9 L1649.8,669.0 L1649.6,670.1 L1649.4,671.2 L1649.2,672.3 L1649.0,673.4 L1648.9,674.6 L1648.8,675.8 L1648.7,677.0 L1648.6,678.2 L1648.6,679.4 L1648.5,680.6 L1648.3,681.8 L1648.1,683.0 L1647.7,684.2 L1647.3,685.4 L1646.7,686.6 L1646.0,687.7 L1645.2,688.8 L1644.3,689.9 L1643.4,691.0 L1642.4,692.2 L1641.5,693.4 L1640.5,694.6 L1639.7,696.0 L1638.9,697.4 L1638.2,698.9 L1637.5,700.6 L1636.8,702.3 L1636.1,704.0 L1635.5,705.8 L1634.9,707.7 L1634.3,709.6 L1633.7,711.5 L1633.2,713.4 L1632.7,715.4 L1632.2,717.4 L1631.7,719.5 L1631.2,721.7 L1630.7,724.0 L1630.2,726.2 L1629.8,728.5 L1629.5,730.6 L1629.3,732.7 L1629.3,734.7 L1629.4,736.6 L1629.7,738.3 L1630.2,739.8 L1630.9,741.3 L1631.7,742.6 L1632.6,743.9 L1633.5,745.2 L1634.4,746.5 L1635.3,747.9 L1636.1,749.3 L1636.8,750.9 L1637.4,752.5 L1637.9,754.1 L1638.5,755.8 L1639.0,757.5 L1639.4,759.3 L1639.9,761.1 L1640.3,762.9 L1640.8,764.8 L1641.2,766.8 L1641.6,768.9 L1642.0,771.0 L1642.4,773.3 L1642.8,775.6 L1643.2,778.0 L1643.5,780.5 L1643.9,783.0 L1644.2,785.5 L1644.6,788.0 L1644.9,790.4 L1645.2,792.8 L1645.5,795.2 L1645.8,797.6 L1646.1,799.9 L1646.3,802.2 L1646.6,804.6 L1646.8,806.9 L1647.0,809.3 L1647.3,811.6 L1647.5,814.0 L1647.8,816.3 L1648.1,818.8 L1648.4,821.3 L1648.7,823.9 L1649.0,826.5 L1649.3,829.1 L1649.6,831.6 L1649.8,834.1 L1650.1,836.3 L1650.3,838.4 L1650.5,840.3 L1650.6,841.9 L1650.8,843.4 L1650.8,844.6 L1650.9,845.7 L1650.9,846.7 L1650.9,847.6 L1651.0,848.5 L1651.0,849.4 L1651.0,850.4 L1651.1,851.4 L1651.2,852.5 L1651.3,853.6 L1651.4,854.8 L1651.4,856.0 L1651.5,857.1 L1651.6,858.2 L1651.7,859.3 L1651.8,860.2 L1651.9,860.9 L1651.9,861.5 Z" fill="#fde0e0" stroke="none"/>
<line x1="1630.7" y1="738.0" x2="1673.1" y2="738.0" stroke="#222" stroke-width="1.2" stroke-dasharray="4,3"/>
<line x1="1633.2" y1="717.7" x2="1670.6" y2="717.7" stroke="#222" stroke-width="1.2" stroke-dasharray="1.5,2.5"/>
<line x1="1643.4" y1="773.0" x2="1660.4" y2="773.0" stroke="#222" stroke-width="1.2" stroke-dasharray="1.5,2.5"/>
<path d="M1651.9,861.5 L1651.9,860.9 L1652.0,860.2 L1652.1,859.3 L1652.2,858.2 L1652.3,857.1 L1652.4,856.0 L1652.4,854.8 L1652.5,853.6 L1652.6,852.5 L1652.7,851.4 L1652.8,850.4 L1652.8,849.4 L1652.8,848.5 L1652.9,847.6 L1652.9,846.7 L1652.9,845.7 L1653.0,844.6 L1653.0,843.4 L1653.2,841.9 L1653.3,840.3 L1653.5,838.4 L1653.7,836.3 L1654.0,834.1 L1654.2,831.6 L1654.5,829.1 L1654.8,826.5 L1655.1,823.9 L1655.4,821.3 L1655.7,818.8 L1656.0,816.3 L1656.3,814.0 L1656.5,811.6 L1656.8,809.3 L1657.0,806.9 L1657.2,804.6 L1657.5,802.2 L1657.7,799.9 L1658.0,797.6 L1658.3,795.2 L1658.6,792.8 L1658.9,790.4 L1659.2,788.0 L1659.6,785.5 L1659.9,783.0 L1660.3,780.5 L1660.6,778.0 L1661.0,775.6 L1661.4,773.3 L1661.8,771.0 L1662.2,768.9 L1662.6,766.8 L1663.0,764.8 L1663.5,762.9 L1663.9,761.1 L1664.4,759.3 L1664.8,757.5 L1665.3,755.8 L1665.9,754.1 L1666.4,752.5 L1667.0,750.9 L1667.7,749.3 L1668.5,747.9 L1669.4,746.5 L1670.3,745.2 L1671.2,743.9 L1672.1,742.6 L1672.9,741.3 L1673.6,739.8 L1674.1,738.3 L1674.4,736.6 L1674.5,734.7 L1674.5,732.7 L1674.3,730.6 L1674.0,728.5 L1673.6,726.2 L1673.1,724.0 L1672.6,721.7 L1672.1,719.5 L1671.6,717.4 L1671.1,715.4 L1670.6,713.4 L1670.1,711.5 L1669.5,709.6 L1668.9,707.7 L1668.3,705.8 L1667.7,704.0 L1667.0,702.3 L1666.3,700.6 L1665.6,698.9 L1664.9,697.4 L1664.1,696.0 L1663.3,694.6 L1662.3,693.4 L1661.4,692.2 L1660.4,691.0 L1659.5,689.9 L1658.6,688.8 L1657.8,687.7 L1657.1,686.6 L1656.5,685.4 L1656.1,684.2 L1655.7,683.0 L1655.5,681.8 L1655.3,680.6 L1655.2,679.4 L1655.2,678.2 L1655.1,677.0 L1655.0,675.8 L1654.9,674.6 L1654.8,673.4 L1654.6,672.3 L1654.4,671.2 L1654.2,670.1 L1654.0,669.0 L1653.8,667.9 L1653.6,666.9 L1653.4,665.8 L1653.2,664.7 L1653.0,663.5 L1652.9,662.4 L1652.8,661.2 L1652.7,660.1 L1652.6,659.0 L1652.6,657.8 L1652.6,656.7 L1652.5,655.5 L1652.5,654.2 L1652.5,652.9 L1652.4,651.5 L1652.4,649.9 L1652.3,648.2 L1652.3,646.1 L1652.2,643.9 L1652.2,641.6 L1652.1,639.2 L1652.1,637.0 L1652.0,634.8 L1652.0,632.9 L1651.9,631.3 L1651.9,630.1 L1651.9,630.1 L1651.9,631.3 L1651.8,632.9 L1651.8,634.8 L1651.7,637.0 L1651.7,639.2 L1651.6,641.6 L1651.6,643.9 L1651.5,646.1 L1651.5,648.2 L1651.4,649.9 L1651.4,651.5 L1651.3,652.9 L1651.3,654.2 L1651.3,655.5 L1651.2,656.7 L1651.2,657.8 L1651.2,659.0 L1651.1,660.1 L1651.0,661.2 L1650.9,662.4 L1650.8,663.5 L1650.6,664.7 L1650.4,665.8 L1650.2,666.9 L1650.0,667.9 L1649.8,669.0 L1649.6,670.1 L1649.4,671.2 L1649.2,672.3 L1649.0,673.4 L1648.9,674.6 L1648.8,675.8 L1648.7,677.0 L1648.6,678.2 L1648.6,679.4 L1648.5,680.6 L1648.3,681.8 L1648.1,683.0 L1647.7,684.2 L1647.3,685.4 L1646.7,686.6 L1646.0,687.7 L1645.2,688.8 L1644.3,689.9 L1643.4,691.0 L1642.4,692.2 L1641.5,693.4 L1640.5,694.6 L1639.7,696.0 L1638.9,697.4 L1638.2,698.9 L1637.5,700.6 L1636.8,702.3 L1636.1,704.0 L1635.5,705.8 L1634.9,707.7 L1634.3,709.6 L1633.7,711.5 L1633.2,713.4 L1632.7,715.4 L1632.2,717.4 L1631.7,719.5 L1631.2,721.7 L1630.7,724.0 L1630.2,726.2 L1629.8,728.5 L1629.5,730.6 L1629.3,732.7 L1629.3,734.7 L1629.4,736.6 L1629.7,738.3 L1630.2,739.8 L1630.9,741.3 L1631.7,742.6 L1632.6,743.9 L1633.5,745.2 L1634.4,746.5 L1635.3,747.9 L1636.1,749.3 L1636.8,750.9 L1637.4,752.5 L1637.9,754.1 L1638.5,755.8 L1639.0,757.5 L1639.4,759.3 L1639.9,761.1 L1640.3,762.9 L1640.8,764.8 L1641.2,766.8 L1641.6,768.9 L1642.0,771.0 L1642.4,773.3 L1642.8,775.6 L1643.2,778.0 L1643.5,780.5 L1643.9,783.0 L1644.2,785.5 L1644.6,788.0 L1644.9,790.4 L1645.2,792.8 L1645.5,795.2 L1645.8,797.6 L1646.1,799.9 L1646.3,802.2 L1646.6,804.6 L1646.8,806.9 L1647.0,809.3 L1647.3,811.6 L1647.5,814.0 L1647.8,816.3 L1648.1,818.8 L1648.4,821.3 L1648.7,823.9 L1649.0,826.5 L1649.3,829.1 L1649.6,831.6 L1649.8,834.1 L1650.1,836.3 L1650.3,838.4 L1650.5,840.3 L1650.6,841.9 L1650.8,843.4 L1650.8,844.6 L1650.9,845.7 L1650.9,846.7 L1650.9,847.6 L1651.0,848.5 L1651.0,849.4 L1651.0,850.4 L1651.1,851.4 L1651.2,852.5 L1651.3,853.6 L1651.4,854.8 L1651.4,856.0 L1651.5,857.1 L1651.6,858.2 L1651.7,859.3 L1651.8,860.2 L1651.9,860.9 L1651.9,861.5 Z" fill="none" stroke="#ff0000" stroke-width="4.4" stroke-linejoin="round"/>
<g fill="#ff0000"><circle cx="1656.4" cy="705.7" r="3.9"/><circle cx="1638.6" cy="702.0" r="3.9"/><circle cx="1665.4" cy="702.0" r="3.9"/><circle cx="1638.6" cy="709.4" r="3.9"/><circle cx="1665.4" cy="712.2" r="3.9"/><circle cx="1647.5" cy="715.4" r="3.9"/><circle cx="1638.6" cy="719.1" r="3.9"/><circle cx="1647.5" cy="721.8" r="3.9"/><circle cx="1656.4" cy="722.8" r="3.9"/><circle cx="1665.4" cy="720.5" r="3.9"/><circle cx="1638.6" cy="731.5" r="3.9"/><circle cx="1647.5" cy="734.7" r="3.9"/><circle cx="1665.4" cy="736.6" r="3.9"/><circle cx="1647.5" cy="739.8" r="3.9"/><circle cx="1629.0" cy="734.7" r="3.9"/><circle cx="1629.0" cy="739.8" r="3.9"/><circle cx="1675.5" cy="737.5" r="3.9"/><circle cx="1665.4" cy="749.5" r="3.9"/><circle cx="1647.5" cy="752.3" r="3.9"/><circle cx="1656.4" cy="756.4" r="3.9"/><circle cx="1647.5" cy="761.0" r="3.9"/><circle cx="1647.5" cy="773.0" r="3.9"/><circle cx="1656.4" cy="772.1" r="3.9"/><circle cx="1665.4" cy="781.8" r="3.9"/><circle cx="1647.5" cy="786.4" r="3.9"/><circle cx="1656.4" cy="786.4" r="3.9"/><circle cx="1638.6" cy="805.3" r="3.9"/><circle cx="1647.5" cy="809.0" r="3.9"/><circle cx="1656.4" cy="803.0" r="3.9"/></g>
<path d="M1727.9,863.8 L1728.0,863.5 L1728.0,863.2 L1728.1,862.8 L1728.1,862.3 L1728.2,861.8 L1728.3,861.2 L1728.5,860.6 L1728.7,859.9 L1728.9,859.1 L1729.2,858.3 L1729.6,857.4 L1730.0,856.3 L1730.5,855.2 L1731.0,854.0 L1731.5,852.7 L1732.1,851.4 L1732.7,850.1 L1733.2,848.8 L1733.8,847.5 L1734.3,846.3 L1734.8,845.1 L1735.2,843.9 L1735.6,842.6 L1736.0,841.4 L1736.4,840.2 L1736.9,839.0 L1737.3,837.7 L1737.8,836.6 L1738.4,835.4 L1739.1,834.3 L1739.9,833.3 L1740.9,832.2 L1741.9,831.2 L1743.0,830.2 L1744.2,829.3 L1745.3,828.3 L1746.3,827.4 L1747.2,826.5 L1748.0,825.5 L1748.6,824.6 L1749.0,823.8 L1749.4,823.0 L1749.6,822.2 L1749.7,821.4 L1749.8,820.6 L1749.7,819.9 L1749.6,819.1 L1749.3,818.2 L1749.0,817.3 L1748.6,816.3 L1748.1,815.3 L1747.4,814.2 L1746.5,813.0 L1745.6,811.8 L1744.6,810.6 L1743.6,809.3 L1742.5,808.0 L1741.5,806.8 L1740.6,805.6 L1739.7,804.4 L1738.9,803.2 L1738.0,802.1 L1737.1,801.1 L1736.3,800.0 L1735.4,799.0 L1734.6,797.9 L1733.9,796.8 L1733.2,795.5 L1732.7,794.2 L1732.2,792.8 L1731.9,791.3 L1731.6,789.5 L1731.5,787.7 L1731.4,785.8 L1731.4,783.8 L1731.4,781.9 L1731.5,779.9 L1731.5,778.1 L1731.6,776.4 L1731.6,774.9 L1731.6,773.5 L1731.6,772.2 L1731.7,771.1 L1731.8,770.0 L1731.8,769.0 L1731.9,768.0 L1732.0,767.0 L1732.1,766.0 L1732.1,764.9 L1732.2,763.8 L1732.3,762.6 L1732.4,761.3 L1732.5,760.0 L1732.7,758.7 L1732.8,757.4 L1732.9,756.1 L1733.0,754.7 L1733.0,753.4 L1733.0,752.1 L1732.8,750.9 L1732.5,749.6 L1732.1,748.4 L1731.7,747.1 L1731.1,745.9 L1730.6,744.7 L1730.0,743.5 L1729.4,742.3 L1728.9,741.1 L1728.5,740.0 L1728.1,738.9 L1727.8,737.8 L1727.6,736.8 L1727.5,735.9 L1727.3,734.9 L1727.2,734.0 L1727.2,733.0 L1727.1,732.1 L1727.0,731.2 L1727.0,730.2 L1726.9,729.2 L1726.8,728.1 L1726.7,727.0 L1726.7,725.8 L1726.6,724.5 L1726.6,723.3 L1726.5,722.1 L1726.5,721.0 L1726.5,720.1 L1726.4,719.2 L1726.4,718.6 L1726.4,718.6 L1726.4,719.2 L1726.3,720.1 L1726.3,721.0 L1726.3,722.1 L1726.2,723.3 L1726.2,724.5 L1726.1,725.8 L1726.1,727.0 L1726.0,728.1 L1725.9,729.2 L1725.8,730.2 L1725.8,731.2 L1725.7,732.1 L1725.6,733.0 L1725.6,734.0 L1725.5,734.9 L1725.3,735.9 L1725.2,736.8 L1725.0,737.8 L1724.7,738.9 L1724.3,740.0 L1723.9,741.1 L1723.4,742.3 L1722.8,743.5 L1722.2,744.7 L1721.7,745.9 L1721.1,747.1 L1720.7,748.4 L1720.3,749.6 L1720.0,750.9 L1719.8,752.1 L1719.8,753.4 L1719.8,754.7 L1719.9,756.1 L1720.0,757.4 L1720.1,758.7 L1720.3,760.0 L1720.4,761.3 L1720.5,762.6 L1720.6,763.8 L1720.7,764.9 L1720.7,766.0 L1720.8,767.0 L1720.9,768.0 L1721.0,769.0 L1721.0,770.0 L1721.1,771.1 L1721.2,772.2 L1721.2,773.5 L1721.2,774.9 L1721.2,776.4 L1721.3,778.1 L1721.3,779.9 L1721.4,781.9 L1721.4,783.8 L1721.4,785.8 L1721.3,787.7 L1721.2,789.5 L1720.9,791.3 L1720.6,792.8 L1720.1,794.2 L1719.6,795.5 L1718.9,796.8 L1718.2,797.9 L1717.4,799.0 L1716.5,800.0 L1715.7,801.1 L1714.8,802.1 L1713.9,803.2 L1713.1,804.4 L1712.2,805.6 L1711.3,806.8 L1710.3,808.0 L1709.2,809.3 L1708.2,810.6 L1707.2,811.8 L1706.3,813.0 L1705.4,814.2 L1704.7,815.3 L1704.2,816.3 L1703.8,817.3 L1703.5,818.2 L1703.2,819.1 L1703.1,819.9 L1703.1,820.6 L1703.1,821.4 L1703.2,822.2 L1703.4,823.0 L1703.8,823.8 L1704.2,824.6 L1704.8,825.5 L1705.6,826.5 L1706.5,827.4 L1707.5,828.3 L1708.7,829.3 L1709.8,830.2 L1710.9,831.2 L1711.9,832.2 L1712.9,833.3 L1713.7,834.3 L1714.4,835.4 L1715.0,836.6 L1715.5,837.7 L1715.9,839.0 L1716.4,840.2 L1716.8,841.4 L1717.2,842.6 L1717.6,843.9 L1718.0,845.1 L1718.5,846.3 L1719.0,847.5 L1719.6,848.8 L1720.1,850.1 L1720.7,851.4 L1721.3,852.7 L1721.8,854.0 L1722.3,855.2 L1722.8,856.3 L1723.2,857.4 L1723.6,858.3 L1723.9,859.1 L1724.1,859.9 L1724.3,860.6 L1724.5,861.2 L1724.6,861.8 L1724.7,862.3 L1724.7,862.8 L1724.8,863.2 L1724.8,863.5 L1724.9,863.8 Z" fill="#f6c6ea" stroke="none"/>
<line x1="1705.2" y1="816.8" x2="1747.6" y2="816.8" stroke="#222" stroke-width="1.2" stroke-dasharray="4,3"/>
<line x1="1713.9" y1="833.4" x2="1738.9" y2="833.4" stroke="#222" stroke-width="1.2" stroke-dasharray="1.5,2.5"/>
<path d="M1727.9,863.8 L1728.0,863.5 L1728.0,863.2 L1728.1,862.8 L1728.1,862.3 L1728.2,861.8 L1728.3,861.2 L1728.5,860.6 L1728.7,859.9 L1728.9,859.1 L1729.2,858.3 L1729.6,857.4 L1730.0,856.3 L1730.5,855.2 L1731.0,854.0 L1731.5,852.7 L1732.1,851.4 L1732.7,850.1 L1733.2,848.8 L1733.8,847.5 L1734.3,846.3 L1734.8,845.1 L1735.2,843.9 L1735.6,842.6 L1736.0,841.4 L1736.4,840.2 L1736.9,839.0 L1737.3,837.7 L1737.8,836.6 L1738.4,835.4 L1739.1,834.3 L1739.9,833.3 L1740.9,832.2 L1741.9,831.2 L1743.0,830.2 L1744.2,829.3 L1745.3,828.3 L1746.3,827.4 L1747.2,826.5 L1748.0,825.5 L1748.6,824.6 L1749.0,823.8 L1749.4,823.0 L1749.6,822.2 L1749.7,821.4 L1749.8,820.6 L1749.7,819.9 L1749.6,819.1 L1749.3,818.2 L1749.0,817.3 L1748.6,816.3 L1748.1,815.3 L1747.4,814.2 L1746.5,813.0 L1745.6,811.8 L1744.6,810.6 L1743.6,809.3 L1742.5,808.0 L1741.5,806.8 L1740.6,805.6 L1739.7,804.4 L1738.9,803.2 L1738.0,802.1 L1737.1,801.1 L1736.3,800.0 L1735.4,799.0 L1734.6,797.9 L1733.9,796.8 L1733.2,795.5 L1732.7,794.2 L1732.2,792.8 L1731.9,791.3 L1731.6,789.5 L1731.5,787.7 L1731.4,785.8 L1731.4,783.8 L1731.4,781.9 L1731.5,779.9 L1731.5,778.1 L1731.6,776.4 L1731.6,774.9 L1731.6,773.5 L1731.6,772.2 L1731.7,771.1 L1731.8,770.0 L1731.8,769.0 L1731.9,768.0 L1732.0,767.0 L1732.1,766.0 L1732.1,764.9 L1732.2,763.8 L1732.3,762.6 L1732.4,761.3 L1732.5,760.0 L1732.7,758.7 L1732.8,757.4 L1732.9,756.1 L1733.0,754.7 L1733.0,753.4 L1733.0,752.1 L1732.8,750.9 L1732.5,749.6 L1732.1,748.4 L1731.7,747.1 L1731.1,745.9 L1730.6,744.7 L1730.0,743.5 L1729.4,742.3 L1728.9,741.1 L1728.5,740.0 L1728.1,738.9 L1727.8,737.8 L1727.6,736.8 L1727.5,735.9 L1727.3,734.9 L1727.2,734.0 L1727.2,733.0 L1727.1,732.1 L1727.0,731.2 L1727.0,730.2 L1726.9,729.2 L1726.8,728.1 L1726.7,727.0 L1726.7,725.8 L1726.6,724.5 L1726.6,723.3 L1726.5,722.1 L1726.5,721.0 L1726.5,720.1 L1726.4,719.2 L1726.4,718.6" fill="none" stroke="#cd0067" stroke-width="4.4" stroke-linejoin="round" stroke-linecap="round"/>
<path d="M1726.4,718.6 L1726.4,719.2 L1726.3,720.1 L1726.3,721.0 L1726.3,722.1 L1726.2,723.3 L1726.2,724.5 L1726.1,725.8 L1726.1,727.0 L1726.0,728.1 L1725.9,729.2 L1725.8,730.2 L1725.8,731.2 L1725.7,732.1 L1725.6,733.0 L1725.6,734.0 L1725.5,734.9 L1725.3,735.9 L1725.2,736.8 L1725.0,737.8 L1724.7,738.9 L1724.3,740.0 L1723.9,741.1 L1723.4,742.3 L1722.8,743.5 L1722.2,744.7 L1721.7,745.9 L1721.1,747.1 L1720.7,748.4 L1720.3,749.6 L1720.0,750.9 L1719.8,752.1 L1719.8,753.4 L1719.8,754.7 L1719.9,756.1 L1720.0,757.4 L1720.1,758.7 L1720.3,760.0 L1720.4,761.3 L1720.5,762.6 L1720.6,763.8 L1720.7,764.9 L1720.7,766.0 L1720.8,767.0 L1720.9,768.0 L1721.0,769.0 L1721.0,770.0 L1721.1,771.1 L1721.2,772.2 L1721.2,773.5 L1721.2,774.9 L1721.2,776.4 L1721.3,778.1 L1721.3,779.9 L1721.4,781.9 L1721.4,783.8 L1721.4,785.8 L1721.3,787.7 L1721.2,789.5 L1720.9,791.3 L1720.6,792.8 L1720.1,794.2 L1719.6,795.5 L1718.9,796.8 L1718.2,797.9 L1717.4,799.0 L1716.5,800.0 L1715.7,801.1 L1714.8,802.1 L1713.9,803.2 L1713.1,804.4 L1712.2,805.6 L1711.3,806.8 L1710.3,808.0 L1709.2,809.3 L1708.2,810.6 L1707.2,811.8 L1706.3,813.0 L1705.4,814.2 L1704.7,815.3 L1704.2,816.3 L1703.8,817.3 L1703.5,818.2 L1703.2,819.1 L1703.1,819.9 L1703.1,820.6 L1703.1,821.4 L1703.2,822.2 L1703.4,823.0 L1703.8,823.8 L1704.2,824.6 L1704.8,825.5 L1705.6,826.5 L1706.5,827.4 L1707.5,828.3 L1708.7,829.3 L1709.8,830.2 L1710.9,831.2 L1711.9,832.2 L1712.9,833.3 L1713.7,834.3 L1714.4,835.4 L1715.0,836.6 L1715.5,837.7 L1715.9,839.0 L1716.4,840.2 L1716.8,841.4 L1717.2,842.6 L1717.6,843.9 L1718.0,845.1 L1718.5,846.3 L1719.0,847.5 L1719.6,848.8 L1720.1,850.1 L1720.7,851.4 L1721.3,852.7 L1721.8,854.0 L1722.3,855.2 L1722.8,856.3 L1723.2,857.4 L1723.6,858.3 L1723.9,859.1 L1724.1,859.9 L1724.3,860.6 L1724.5,861.2 L1724.6,861.8 L1724.7,862.3 L1724.7,862.8 L1724.8,863.2 L1724.8,863.5 L1724.9,863.8" fill="none" stroke="#cd0067" stroke-width="4.4" stroke-linejoin="round" stroke-linecap="round"/>
<g fill="#cd0067"><circle cx="1726.4" cy="765.6" r="3.9"/><circle cx="1718.9" cy="759.6" r="3.9"/><circle cx="1734.4" cy="756.9" r="3.9"/><circle cx="1723.1" cy="775.8" r="3.9"/><circle cx="1729.6" cy="777.2" r="3.9"/><circle cx="1723.1" cy="784.1" r="3.9"/><circle cx="1729.6" cy="801.6" r="3.9"/><circle cx="1718.9" cy="804.4" r="3.9"/><circle cx="1740.9" cy="806.2" r="3.9"/><circle cx="1726.4" cy="814.0" r="3.9"/><circle cx="1711.2" cy="818.2" r="3.9"/><circle cx="1718.9" cy="820.5" r="3.9"/><circle cx="1726.4" cy="818.2" r="3.9"/><circle cx="1734.4" cy="818.2" r="3.9"/><circle cx="1742.1" cy="815.9" r="3.9"/><circle cx="1726.4" cy="825.1" r="3.9"/><circle cx="1718.9" cy="830.2" r="3.9"/><circle cx="1726.4" cy="833.4" r="3.9"/><circle cx="1740.9" cy="827.9" r="3.9"/><circle cx="1704.0" cy="815.9" r="3.9"/><circle cx="1704.0" cy="824.6" r="3.9"/><circle cx="1750.4" cy="815.9" r="3.9"/><circle cx="1718.9" cy="840.8" r="3.9"/><circle cx="1732.6" cy="844.5" r="3.9"/><circle cx="1726.4" cy="851.4" r="3.9"/><circle cx="1718.9" cy="856.0" r="3.9"/></g>
<text x="219.2" y="1060.5" font-size="21.5" text-anchor="middle" fill="#000" letter-spacing="0.2">D-dimers</text>
<text x="21.0" y="1235.8" font-size="23" font-weight="bold" text-anchor="middle" fill="#000" transform="rotate(-90 21.0 1235.8)">D-dimer (ng/mL)</text>
<path d="M126.5,1362.9h0M135.8,1362.9h0M145.2,1362.9h0M154.5,1362.9h0M163.8,1362.9h0M173.2,1362.9h0M182.5,1362.9h0M191.8,1362.9h0M201.1,1362.9h0M210.5,1362.9h0M219.8,1362.9h0M229.1,1362.9h0M238.5,1362.9h0M247.8,1362.9h0M257.1,1362.9h0M266.5,1362.9h0M275.8,1362.9h0M285.1,1362.9h0M294.4,1362.9h0M303.8,1362.9h0M313.1,1362.9h0" stroke="#000" stroke-width="2.6" stroke-linecap="round"/>
<line x1="117.2" y1="1097.3" x2="117.2" y2="1149.6" stroke="#000" stroke-width="3.2"/>
<line x1="117.2" y1="1171.9" x2="117.2" y2="1378.1" stroke="#000" stroke-width="3.2"/>
<line x1="109.2" y1="1097.3" x2="118.7" y2="1097.3" stroke="#000" stroke-width="3.2"/>
<line x1="104.7" y1="1112.8" x2="118.7" y2="1112.8" stroke="#000" stroke-width="3.2"/>
<text x="100.9" y="1121.5" font-size="23" font-weight="bold" text-anchor="end" fill="#000">20000</text>
<line x1="110.2" y1="1126.9" x2="117.2" y2="1126.9" stroke="#000" stroke-width="3.2"/>
<line x1="104.7" y1="1141.9" x2="118.7" y2="1141.9" stroke="#000" stroke-width="3.2"/>
<text x="100.9" y="1150.6" font-size="23" font-weight="bold" text-anchor="end" fill="#000">10000</text>
<line x1="109.2" y1="1149.6" x2="125.2" y2="1149.6" stroke="#000" stroke-width="3.2"/>
<line x1="109.2" y1="1171.9" x2="125.2" y2="1171.9" stroke="#000" stroke-width="3.2"/>
<line x1="110.2" y1="1349.2" x2="117.2" y2="1349.2" stroke="#000" stroke-width="3.2"/>
<line x1="110.2" y1="1294.5" x2="117.2" y2="1294.5" stroke="#000" stroke-width="3.2"/>
<line x1="110.2" y1="1239.8" x2="117.2" y2="1239.8" stroke="#000" stroke-width="3.2"/>
<line x1="110.2" y1="1185.1" x2="117.2" y2="1185.1" stroke="#000" stroke-width="3.2"/>
<line x1="104.7" y1="1376.6" x2="118.7" y2="1376.6" stroke="#000" stroke-width="3.2"/>
<text x="100.9" y="1385.3" font-size="23" font-weight="bold" text-anchor="end" fill="#000">0</text>
<line x1="104.7" y1="1321.9" x2="118.7" y2="1321.9" stroke="#000" stroke-width="3.2"/>
<text x="100.9" y="1330.6" font-size="23" font-weight="bold" text-anchor="end" fill="#000">2000</text>
<line x1="104.7" y1="1267.2" x2="118.7" y2="1267.2" stroke="#000" stroke-width="3.2"/>
<text x="100.9" y="1275.9" font-size="23" font-weight="bold" text-anchor="end" fill="#000">4000</text>
<line x1="104.7" y1="1212.5" x2="118.7" y2="1212.5" stroke="#000" stroke-width="3.2"/>
<text x="100.9" y="1221.2" font-size="23" font-weight="bold" text-anchor="end" fill="#000">6000</text>
<line x1="104.7" y1="1362.9" x2="118.7" y2="1362.9" stroke="#000" stroke-width="3.2"/>
<line x1="147.0" y1="1405.9" x2="323.8" y2="1405.9" stroke="#000" stroke-width="3.2"/>
<line x1="197.3" y1="1405.9" x2="197.3" y2="1418.4" stroke="#000" stroke-width="3.2"/>
<line x1="271.7" y1="1405.9" x2="271.7" y2="1418.4" stroke="#000" stroke-width="3.2"/>
<text x="234.8" y="1447.0" font-size="21.5" text-anchor="middle" fill="#000">MIS-C</text>
<text x="185.7" y="1470.0" font-size="16.5" font-style="italic" text-anchor="middle" fill="#000">acute</text>
<text x="268.0" y="1470.0" font-size="16.5" font-style="italic" text-anchor="middle" fill="#000" letter-spacing="0.2">remission</text>
<text x="246.5" y="1123.4" font-size="40" font-weight="bold" text-anchor="middle" fill="#000" letter-spacing="2.4">***</text>
<line x1="216.5" y1="1123.4" x2="278.3" y2="1123.4" stroke="#444" stroke-width="1.6"/>
<path d="M207.8,1373.9 L208.2,1373.6 L208.7,1373.2 L209.4,1372.7 L210.1,1372.2 L210.8,1371.6 L211.6,1371.0 L212.4,1370.4 L213.1,1369.8 L213.7,1369.1 L214.3,1368.4 L214.8,1367.7 L215.2,1367.0 L215.7,1366.2 L216.1,1365.4 L216.4,1364.6 L216.8,1363.8 L217.1,1362.9 L217.3,1362.0 L217.6,1361.1 L217.8,1360.2 L218.0,1359.2 L218.1,1358.2 L218.2,1357.2 L218.3,1356.1 L218.4,1355.1 L218.4,1354.0 L218.4,1352.8 L218.4,1351.7 L218.4,1350.5 L218.3,1349.2 L218.2,1348.0 L218.1,1346.7 L217.9,1345.3 L217.8,1344.0 L217.6,1342.6 L217.3,1341.2 L217.1,1339.8 L216.8,1338.4 L216.6,1337.0 L216.3,1335.6 L216.0,1334.2 L215.7,1332.8 L215.3,1331.5 L214.9,1330.1 L214.5,1328.7 L214.1,1327.4 L213.8,1326.0 L213.4,1324.6 L213.1,1323.3 L212.8,1321.9 L212.6,1320.5 L212.4,1319.2 L212.2,1317.8 L212.1,1316.4 L211.9,1315.1 L211.8,1313.7 L211.7,1312.3 L211.6,1311.0 L211.4,1309.6 L211.3,1308.2 L211.2,1306.9 L211.0,1305.5 L210.9,1304.1 L210.7,1302.8 L210.6,1301.4 L210.5,1300.0 L210.3,1298.7 L210.2,1297.3 L210.0,1295.9 L209.8,1294.5 L209.6,1293.2 L209.4,1291.8 L209.2,1290.4 L208.9,1289.1 L208.7,1287.7 L208.4,1286.3 L208.2,1285.0 L207.9,1283.6 L207.6,1282.2 L207.3,1280.9 L207.0,1279.5 L206.6,1278.1 L206.3,1276.8 L205.9,1275.4 L205.5,1274.0 L205.1,1272.7 L204.8,1271.3 L204.4,1269.9 L204.1,1268.6 L203.8,1267.2 L203.5,1265.8 L203.3,1264.5 L203.1,1263.1 L202.9,1261.7 L202.7,1260.4 L202.5,1259.0 L202.3,1257.6 L202.2,1256.3 L202.0,1254.9 L201.8,1253.5 L201.6,1252.2 L201.4,1250.8 L201.3,1249.4 L201.1,1248.1 L200.9,1246.7 L200.7,1245.3 L200.6,1244.0 L200.4,1242.6 L200.3,1241.2 L200.1,1239.8 L199.9,1238.5 L199.8,1237.3 L199.6,1236.2 L199.5,1235.0 L199.4,1233.9 L199.2,1232.6 L199.1,1231.3 L199.0,1229.8 L198.9,1228.1 L198.8,1226.2 L198.7,1224.0 L198.7,1221.6 L198.6,1219.0 L198.6,1216.2 L198.6,1213.4 L198.6,1210.4 L198.5,1207.5 L198.5,1204.5 L198.5,1201.6 L198.5,1198.8 L198.5,1196.0 L198.5,1192.9 L198.5,1189.8 L198.5,1186.6 L198.5,1183.4 L198.5,1180.4 L198.5,1177.7 L198.5,1175.2 L198.5,1173.1 L198.5,1171.5 L196.1,1171.5 L196.1,1173.1 L196.1,1175.2 L196.1,1177.7 L196.1,1180.4 L196.1,1183.4 L196.1,1186.6 L196.1,1189.8 L196.1,1192.9 L196.1,1196.0 L196.1,1198.8 L196.1,1201.6 L196.1,1204.5 L196.1,1207.5 L196.0,1210.4 L196.0,1213.4 L196.0,1216.2 L196.0,1219.0 L195.9,1221.6 L195.9,1224.0 L195.8,1226.2 L195.7,1228.1 L195.6,1229.8 L195.5,1231.3 L195.4,1232.6 L195.2,1233.9 L195.1,1235.0 L195.0,1236.2 L194.8,1237.3 L194.7,1238.5 L194.5,1239.8 L194.3,1241.2 L194.2,1242.6 L194.0,1244.0 L193.9,1245.3 L193.7,1246.7 L193.5,1248.1 L193.3,1249.4 L193.2,1250.8 L193.0,1252.2 L192.8,1253.5 L192.6,1254.9 L192.4,1256.3 L192.3,1257.6 L192.1,1259.0 L191.9,1260.4 L191.7,1261.7 L191.5,1263.1 L191.3,1264.5 L191.1,1265.8 L190.8,1267.2 L190.5,1268.6 L190.2,1269.9 L189.8,1271.3 L189.5,1272.7 L189.1,1274.0 L188.7,1275.4 L188.3,1276.8 L188.0,1278.1 L187.6,1279.5 L187.3,1280.9 L187.0,1282.2 L186.7,1283.6 L186.4,1285.0 L186.2,1286.3 L185.9,1287.7 L185.7,1289.1 L185.4,1290.4 L185.2,1291.8 L185.0,1293.2 L184.8,1294.5 L184.6,1295.9 L184.4,1297.3 L184.3,1298.7 L184.1,1300.0 L184.0,1301.4 L183.9,1302.8 L183.7,1304.1 L183.6,1305.5 L183.4,1306.9 L183.3,1308.2 L183.2,1309.6 L183.0,1311.0 L182.9,1312.3 L182.8,1313.7 L182.7,1315.1 L182.5,1316.4 L182.4,1317.8 L182.2,1319.2 L182.0,1320.5 L181.8,1321.9 L181.5,1323.3 L181.2,1324.6 L180.8,1326.0 L180.5,1327.4 L180.1,1328.7 L179.7,1330.1 L179.3,1331.5 L178.9,1332.8 L178.6,1334.2 L178.3,1335.6 L178.0,1337.0 L177.8,1338.4 L177.5,1339.8 L177.3,1341.2 L177.1,1342.6 L176.8,1344.0 L176.7,1345.3 L176.5,1346.7 L176.4,1348.0 L176.3,1349.2 L176.2,1350.5 L176.2,1351.7 L176.2,1352.8 L176.2,1354.0 L176.2,1355.1 L176.3,1356.1 L176.4,1357.2 L176.5,1358.2 L176.6,1359.2 L176.8,1360.2 L177.0,1361.1 L177.3,1362.0 L177.5,1362.9 L177.8,1363.8 L178.2,1364.6 L178.5,1365.4 L178.9,1366.2 L179.4,1367.0 L179.8,1367.7 L180.3,1368.4 L180.9,1369.1 L181.5,1369.8 L182.2,1370.4 L183.0,1371.0 L183.8,1371.6 L184.5,1372.2 L185.2,1372.7 L185.9,1373.2 L186.4,1373.6 L186.8,1373.9 Z" fill="#fde0e0" stroke="none"/>
<line x1="182.2" y1="1324.6" x2="212.4" y2="1324.6" stroke="#222" stroke-width="1.2" stroke-dasharray="4,3"/>
<line x1="177.2" y1="1350.6" x2="217.4" y2="1350.6" stroke="#222" stroke-width="1.2" stroke-dasharray="1.5,2.5"/>
<line x1="190.5" y1="1272.7" x2="204.1" y2="1272.7" stroke="#222" stroke-width="1.2" stroke-dasharray="1.5,2.5"/>
<path d="M207.8,1373.9 L208.2,1373.6 L208.7,1373.2 L209.4,1372.7 L210.1,1372.2 L210.8,1371.6 L211.6,1371.0 L212.4,1370.4 L213.1,1369.8 L213.7,1369.1 L214.3,1368.4 L214.8,1367.7 L215.2,1367.0 L215.7,1366.2 L216.1,1365.4 L216.4,1364.6 L216.8,1363.8 L217.1,1362.9 L217.3,1362.0 L217.6,1361.1 L217.8,1360.2 L218.0,1359.2 L218.1,1358.2 L218.2,1357.2 L218.3,1356.1 L218.4,1355.1 L218.4,1354.0 L218.4,1352.8 L218.4,1351.7 L218.4,1350.5 L218.3,1349.2 L218.2,1348.0 L218.1,1346.7 L217.9,1345.3 L217.8,1344.0 L217.6,1342.6 L217.3,1341.2 L217.1,1339.8 L216.8,1338.4 L216.6,1337.0 L216.3,1335.6 L216.0,1334.2 L215.7,1332.8 L215.3,1331.5 L214.9,1330.1 L214.5,1328.7 L214.1,1327.4 L213.8,1326.0 L213.4,1324.6 L213.1,1323.3 L212.8,1321.9 L212.6,1320.5 L212.4,1319.2 L212.2,1317.8 L212.1,1316.4 L211.9,1315.1 L211.8,1313.7 L211.7,1312.3 L211.6,1311.0 L211.4,1309.6 L211.3,1308.2 L211.2,1306.9 L211.0,1305.5 L210.9,1304.1 L210.7,1302.8 L210.6,1301.4 L210.5,1300.0 L210.3,1298.7 L210.2,1297.3 L210.0,1295.9 L209.8,1294.5 L209.6,1293.2 L209.4,1291.8 L209.2,1290.4 L208.9,1289.1 L208.7,1287.7 L208.4,1286.3 L208.2,1285.0 L207.9,1283.6 L207.6,1282.2 L207.3,1280.9 L207.0,1279.5 L206.6,1278.1 L206.3,1276.8 L205.9,1275.4 L205.5,1274.0 L205.1,1272.7 L204.8,1271.3 L204.4,1269.9 L204.1,1268.6 L203.8,1267.2 L203.5,1265.8 L203.3,1264.5 L203.1,1263.1 L202.9,1261.7 L202.7,1260.4 L202.5,1259.0 L202.3,1257.6 L202.2,1256.3 L202.0,1254.9 L201.8,1253.5 L201.6,1252.2 L201.4,1250.8 L201.3,1249.4 L201.1,1248.1 L200.9,1246.7 L200.7,1245.3 L200.6,1244.0 L200.4,1242.6 L200.3,1241.2 L200.1,1239.8 L199.9,1238.5 L199.8,1237.3 L199.6,1236.2 L199.5,1235.0 L199.4,1233.9 L199.2,1232.6 L199.1,1231.3 L199.0,1229.8 L198.9,1228.1 L198.8,1226.2 L198.7,1224.0 L198.7,1221.6 L198.6,1219.0 L198.6,1216.2 L198.6,1213.4 L198.6,1210.4 L198.5,1207.5 L198.5,1204.5 L198.5,1201.6 L198.5,1198.8 L198.5,1196.0 L198.5,1192.9 L198.5,1189.8 L198.5,1186.6 L198.5,1183.4 L198.5,1180.4 L198.5,1177.7 L198.5,1175.2 L198.5,1173.1 L198.5,1171.5" fill="none" stroke="#ff0000" stroke-width="4.4" stroke-linejoin="round" stroke-linecap="round"/>
<path d="M196.1,1171.5 L196.1,1173.1 L196.1,1175.2 L196.1,1177.7 L196.1,1180.4 L196.1,1183.4 L196.1,1186.6 L196.1,1189.8 L196.1,1192.9 L196.1,1196.0 L196.1,1198.8 L196.1,1201.6 L196.1,1204.5 L196.1,1207.5 L196.0,1210.4 L196.0,1213.4 L196.0,1216.2 L196.0,1219.0 L195.9,1221.6 L195.9,1224.0 L195.8,1226.2 L195.7,1228.1 L195.6,1229.8 L195.5,1231.3 L195.4,1232.6 L195.2,1233.9 L195.1,1235.0 L195.0,1236.2 L194.8,1237.3 L194.7,1238.5 L194.5,1239.8 L194.3,1241.2 L194.2,1242.6 L194.0,1244.0 L193.9,1245.3 L193.7,1246.7 L193.5,1248.1 L193.3,1249.4 L193.2,1250.8 L193.0,1252.2 L192.8,1253.5 L192.6,1254.9 L192.4,1256.3 L192.3,1257.6 L192.1,1259.0 L191.9,1260.4 L191.7,1261.7 L191.5,1263.1 L191.3,1264.5 L191.1,1265.8 L190.8,1267.2 L190.5,1268.6 L190.2,1269.9 L189.8,1271.3 L189.5,1272.7 L189.1,1274.0 L188.7,1275.4 L188.3,1276.8 L188.0,1278.1 L187.6,1279.5 L187.3,1280.9 L187.0,1282.2 L186.7,1283.6 L186.4,1285.0 L186.2,1286.3 L185.9,1287.7 L185.7,1289.1 L185.4,1290.4 L185.2,1291.8 L185.0,1293.2 L184.8,1294.5 L184.6,1295.9 L184.4,1297.3 L184.3,1298.7 L184.1,1300.0 L184.0,1301.4 L183.9,1302.8 L183.7,1304.1 L183.6,1305.5 L183.4,1306.9 L183.3,1308.2 L183.2,1309.6 L183.0,1311.0 L182.9,1312.3 L182.8,1313.7 L182.7,1315.1 L182.5,1316.4 L182.4,1317.8 L182.2,1319.2 L182.0,1320.5 L181.8,1321.9 L181.5,1323.3 L181.2,1324.6 L180.8,1326.0 L180.5,1327.4 L180.1,1328.7 L179.7,1330.1 L179.3,1331.5 L178.9,1332.8 L178.6,1334.2 L178.3,1335.6 L178.0,1337.0 L177.8,1338.4 L177.5,1339.8 L177.3,1341.2 L177.1,1342.6 L176.8,1344.0 L176.7,1345.3 L176.5,1346.7 L176.4,1348.0 L176.3,1349.2 L176.2,1350.5 L176.2,1351.7 L176.2,1352.8 L176.2,1354.0 L176.2,1355.1 L176.3,1356.1 L176.4,1357.2 L176.5,1358.2 L176.6,1359.2 L176.8,1360.2 L177.0,1361.1 L177.3,1362.0 L177.5,1362.9 L177.8,1363.8 L178.2,1364.6 L178.5,1365.4 L178.9,1366.2 L179.4,1367.0 L179.8,1367.7 L180.3,1368.4 L180.9,1369.1 L181.5,1369.8 L182.2,1370.4 L183.0,1371.0 L183.8,1371.6 L184.5,1372.2 L185.2,1372.7 L185.9,1373.2 L186.4,1373.6 L186.8,1373.9" fill="none" stroke="#ff0000" stroke-width="4.4" stroke-linejoin="round" stroke-linecap="round"/>
<g fill="#ff0000"><circle cx="189.3" cy="1376.6" r="3.9"/><circle cx="205.3" cy="1376.6" r="3.9"/><circle cx="189.3" cy="1368.9" r="3.9"/><circle cx="205.3" cy="1365.1" r="3.9"/><circle cx="179.3" cy="1352.0" r="3.9"/><circle cx="189.3" cy="1350.6" r="3.9"/><circle cx="197.3" cy="1349.2" r="3.9"/><circle cx="205.3" cy="1346.5" r="3.9"/><circle cx="215.3" cy="1350.6" r="3.9"/><circle cx="189.3" cy="1345.1" r="3.9"/><circle cx="197.3" cy="1342.4" r="3.9"/><circle cx="205.3" cy="1341.0" r="3.9"/><circle cx="177.3" cy="1349.2" r="3.9"/><circle cx="189.3" cy="1327.4" r="3.9"/><circle cx="205.3" cy="1330.1" r="3.9"/><circle cx="197.3" cy="1324.6" r="3.9"/><circle cx="205.3" cy="1321.9" r="3.9"/><circle cx="189.3" cy="1317.8" r="3.9"/><circle cx="173.3" cy="1301.4" r="3.9"/><circle cx="183.3" cy="1305.5" r="3.9"/><circle cx="193.3" cy="1305.5" r="3.9"/><circle cx="203.3" cy="1305.5" r="3.9"/><circle cx="213.3" cy="1305.5" r="3.9"/><circle cx="197.3" cy="1294.5" r="3.9"/><circle cx="189.3" cy="1269.9" r="3.9"/><circle cx="205.3" cy="1271.3" r="3.9"/><circle cx="199.3" cy="1261.7" r="3.9"/><circle cx="197.3" cy="1246.7" r="3.9"/></g>
<line x1="197.3" y1="1147.72" x2="197.3" y2="1109.89" stroke="#ff0000" stroke-width="5" stroke-linecap="round"/>
<circle cx="197.3" cy="1147.7" r="4" fill="#ff0000"/>
<circle cx="197.3" cy="1127.4" r="4" fill="#ff0000"/>
<circle cx="197.3" cy="1112.8" r="4" fill="#ff0000"/>
<line x1="272.3" y1="1282.3" x2="272.3" y2="1362.9" stroke="#cd0067" stroke-width="4.6"/>
<path d="M282.3,1377.7 L282.9,1377.5 L283.8,1377.3 L284.8,1377.0 L285.9,1376.7 L287.1,1376.3 L288.4,1376.0 L289.5,1375.6 L290.6,1375.2 L291.6,1374.8 L292.3,1374.4 L292.9,1374.0 L293.5,1373.6 L294.0,1373.2 L294.5,1372.7 L294.8,1372.3 L295.1,1371.8 L295.2,1371.3 L295.3,1370.9 L295.1,1370.5 L294.8,1370.0 L294.3,1369.6 L293.5,1369.2 L292.5,1368.8 L291.4,1368.4 L290.2,1368.1 L288.9,1367.7 L287.7,1367.3 L286.4,1366.9 L285.3,1366.6 L284.3,1366.2 L283.4,1365.9 L282.5,1365.5 L281.6,1365.2 L280.7,1364.8 L279.8,1364.5 L279.0,1364.2 L278.3,1363.9 L277.5,1363.5 L276.9,1363.2 L276.3,1362.9 L275.8,1362.6 L275.3,1362.3 L275.0,1362.1 L274.6,1361.8 L274.4,1361.5 L274.1,1361.3 L273.9,1361.0 L273.7,1360.7 L273.5,1360.5 L273.3,1360.2 L273.1,1359.9 L273.0,1359.6 L272.8,1359.3 L272.7,1359.0 L272.6,1358.7 L272.5,1358.4 L272.5,1358.1 L272.4,1357.8 L272.4,1357.6 L272.3,1357.5 L272.3,1357.5 L272.2,1357.6 L272.2,1357.8 L272.1,1358.1 L272.1,1358.4 L272.0,1358.7 L271.9,1359.0 L271.8,1359.3 L271.6,1359.6 L271.5,1359.9 L271.3,1360.2 L271.1,1360.5 L270.9,1360.7 L270.7,1361.0 L270.5,1361.3 L270.2,1361.5 L270.0,1361.8 L269.6,1362.1 L269.3,1362.3 L268.8,1362.6 L268.3,1362.9 L267.7,1363.2 L267.1,1363.5 L266.3,1363.9 L265.6,1364.2 L264.8,1364.5 L263.9,1364.8 L263.0,1365.2 L262.1,1365.5 L261.2,1365.9 L260.3,1366.2 L259.3,1366.6 L258.2,1366.9 L256.9,1367.3 L255.7,1367.7 L254.4,1368.1 L253.2,1368.4 L252.1,1368.8 L251.1,1369.2 L250.3,1369.6 L249.8,1370.0 L249.5,1370.5 L249.3,1370.9 L249.4,1371.3 L249.5,1371.8 L249.8,1372.3 L250.1,1372.7 L250.6,1373.2 L251.1,1373.6 L251.7,1374.0 L252.3,1374.4 L253.0,1374.8 L254.0,1375.2 L255.1,1375.6 L256.2,1376.0 L257.5,1376.3 L258.7,1376.7 L259.8,1377.0 L260.8,1377.3 L261.7,1377.5 L262.3,1377.7 Z" fill="#f6c6ea" stroke="none"/>
<path d="M282.3,1377.7 L282.9,1377.5 L283.8,1377.3 L284.8,1377.0 L285.9,1376.7 L287.1,1376.3 L288.4,1376.0 L289.5,1375.6 L290.6,1375.2 L291.6,1374.8 L292.3,1374.4 L292.9,1374.0 L293.5,1373.6 L294.0,1373.2 L294.5,1372.7 L294.8,1372.3 L295.1,1371.8 L295.2,1371.3 L295.3,1370.9 L295.1,1370.5 L294.8,1370.0 L294.3,1369.6 L293.5,1369.2 L292.5,1368.8 L291.4,1368.4 L290.2,1368.1 L288.9,1367.7 L287.7,1367.3 L286.4,1366.9 L285.3,1366.6 L284.3,1366.2 L283.4,1365.9 L282.5,1365.5 L281.6,1365.2 L280.7,1364.8 L279.8,1364.5 L279.0,1364.2 L278.3,1363.9 L277.5,1363.5 L276.9,1363.2 L276.3,1362.9 L275.8,1362.6 L275.3,1362.3 L275.0,1362.1 L274.6,1361.8 L274.4,1361.5 L274.1,1361.3 L273.9,1361.0 L273.7,1360.7 L273.5,1360.5 L273.3,1360.2 L273.1,1359.9 L273.0,1359.6 L272.8,1359.3 L272.7,1359.0 L272.6,1358.7 L272.5,1358.4 L272.5,1358.1 L272.4,1357.8 L272.4,1357.6 L272.3,1357.5 L272.3,1357.5 L272.2,1357.6 L272.2,1357.8 L272.1,1358.1 L272.1,1358.4 L272.0,1358.7 L271.9,1359.0 L271.8,1359.3 L271.6,1359.6 L271.5,1359.9 L271.3,1360.2 L271.1,1360.5 L270.9,1360.7 L270.7,1361.0 L270.5,1361.3 L270.2,1361.5 L270.0,1361.8 L269.6,1362.1 L269.3,1362.3 L268.8,1362.6 L268.3,1362.9 L267.7,1363.2 L267.1,1363.5 L266.3,1363.9 L265.6,1364.2 L264.8,1364.5 L263.9,1364.8 L263.0,1365.2 L262.1,1365.5 L261.2,1365.9 L260.3,1366.2 L259.3,1366.6 L258.2,1366.9 L256.9,1367.3 L255.7,1367.7 L254.4,1368.1 L253.2,1368.4 L252.1,1368.8 L251.1,1369.2 L250.3,1369.6 L249.8,1370.0 L249.5,1370.5 L249.3,1370.9 L249.4,1371.3 L249.5,1371.8 L249.8,1372.3 L250.1,1372.7 L250.6,1373.2 L251.1,1373.6 L251.7,1374.0 L252.3,1374.4 L253.0,1374.8 L254.0,1375.2 L255.1,1375.6 L256.2,1376.0 L257.5,1376.3 L258.7,1376.7 L259.8,1377.0 L260.8,1377.3 L261.7,1377.5 L262.3,1377.7 Z" fill="none" stroke="#cd0067" stroke-width="4.4" stroke-linejoin="round"/>
<g fill="#cd0067"><circle cx="260.5" cy="1374.4" r="3.9"/><circle cx="272.3" cy="1374.7" r="3.9"/><circle cx="292.1" cy="1374.4" r="3.9"/><circle cx="250.5" cy="1370.0" r="3.9"/><circle cx="264.7" cy="1369.8" r="3.9"/><circle cx="272.3" cy="1370.0" r="3.9"/><circle cx="279.7" cy="1370.0" r="3.9"/><circle cx="288.4" cy="1370.3" r="3.9"/><circle cx="295.0" cy="1370.0" r="3.9"/><circle cx="264.1" cy="1364.3" r="3.9"/><circle cx="274.6" cy="1364.3" r="3.9"/><circle cx="256.3" cy="1372.0" r="3.9"/><circle cx="284.3" cy="1372.0" r="3.9"/></g>
<circle cx="272.3" cy="1354.1" r="4.6" fill="#cd0067"/>
<circle cx="272.3" cy="1282.3" r="4.6" fill="#cd0067"/>
<text x="586.2" y="1060.5" font-size="21.5" text-anchor="middle" fill="#000" letter-spacing="0.2">Troponin T</text>
<text x="414.4" y="1236.4" font-size="23" font-weight="bold" text-anchor="middle" fill="#000" transform="rotate(-90 414.4 1236.4)">Troponin (ng/L)</text>
<path d="M493.5,1346.6h0M502.8,1346.6h0M512.2,1346.6h0M521.5,1346.6h0M530.8,1346.6h0M540.2,1346.6h0M549.5,1346.6h0M558.8,1346.6h0M568.1,1346.6h0M577.5,1346.6h0M586.8,1346.6h0M596.1,1346.6h0M605.5,1346.6h0M614.8,1346.6h0M624.1,1346.6h0M633.5,1346.6h0M642.8,1346.6h0M652.1,1346.6h0M661.4,1346.6h0M670.8,1346.6h0M680.1,1346.6h0M689.4,1346.6h0" stroke="#000" stroke-width="2.6" stroke-linecap="round"/>
<line x1="484.1" y1="1097.3" x2="484.1" y2="1149.6" stroke="#000" stroke-width="3.2"/>
<line x1="484.1" y1="1171.9" x2="484.1" y2="1376.5" stroke="#000" stroke-width="3.2"/>
<line x1="471.6" y1="1098.2" x2="485.6" y2="1098.2" stroke="#000" stroke-width="3.2"/>
<text x="467.8" y="1106.9" font-size="23" font-weight="bold" text-anchor="end" fill="#000">600</text>
<line x1="471.6" y1="1138.7" x2="485.6" y2="1138.7" stroke="#000" stroke-width="3.2"/>
<text x="467.8" y="1147.4" font-size="23" font-weight="bold" text-anchor="end" fill="#000">200</text>
<line x1="477.1" y1="1149.6" x2="492.1" y2="1149.6" stroke="#000" stroke-width="3.2"/>
<line x1="477.1" y1="1171.9" x2="492.1" y2="1171.9" stroke="#000" stroke-width="3.2"/>
<text x="467.8" y="1180.6" font-size="23" font-weight="bold" text-anchor="end" fill="#000">100</text>
<line x1="471.6" y1="1375.0" x2="485.6" y2="1375.0" stroke="#000" stroke-width="3.2"/>
<text x="467.8" y="1383.7" font-size="23" font-weight="bold" text-anchor="end" fill="#000">0</text>
<line x1="471.6" y1="1334.4" x2="485.6" y2="1334.4" stroke="#000" stroke-width="3.2"/>
<text x="467.8" y="1343.1" font-size="23" font-weight="bold" text-anchor="end" fill="#000">20</text>
<line x1="471.6" y1="1293.8" x2="485.6" y2="1293.8" stroke="#000" stroke-width="3.2"/>
<text x="467.8" y="1302.5" font-size="23" font-weight="bold" text-anchor="end" fill="#000">40</text>
<line x1="471.6" y1="1253.1" x2="485.6" y2="1253.1" stroke="#000" stroke-width="3.2"/>
<text x="467.8" y="1261.8" font-size="23" font-weight="bold" text-anchor="end" fill="#000">60</text>
<line x1="471.6" y1="1212.5" x2="485.6" y2="1212.5" stroke="#000" stroke-width="3.2"/>
<text x="467.8" y="1221.2" font-size="23" font-weight="bold" text-anchor="end" fill="#000">80</text>
<line x1="471.6" y1="1346.6" x2="485.6" y2="1346.6" stroke="#000" stroke-width="3.2"/>
<line x1="514.5" y1="1406.0" x2="690.8" y2="1406.0" stroke="#000" stroke-width="3.2"/>
<line x1="564.2" y1="1406.0" x2="564.2" y2="1418.5" stroke="#000" stroke-width="3.2"/>
<line x1="638.7" y1="1406.0" x2="638.7" y2="1418.5" stroke="#000" stroke-width="3.2"/>
<text x="601.5" y="1447.0" font-size="21.5" text-anchor="middle" fill="#000">MIS-C</text>
<text x="552.6" y="1470.0" font-size="16.5" font-style="italic" text-anchor="middle" fill="#000">acute</text>
<text x="635.0" y="1470.0" font-size="16.5" font-style="italic" text-anchor="middle" fill="#000" letter-spacing="0.2">remission</text>
<text x="604.3" y="1119.7" font-size="40" font-weight="bold" text-anchor="middle" fill="#000" letter-spacing="2.4">***</text>
<line x1="574.7" y1="1119.7" x2="636.5" y2="1119.7" stroke="#444" stroke-width="1.6"/>
<path d="M581.0,1375.0 L581.4,1374.6 L581.9,1374.2 L582.5,1373.6 L583.2,1373.0 L583.9,1372.3 L584.6,1371.6 L585.3,1370.9 L586.0,1370.2 L586.6,1369.5 L587.0,1368.9 L587.3,1368.3 L587.6,1367.7 L587.9,1367.1 L588.1,1366.6 L588.2,1366.0 L588.3,1365.4 L588.4,1364.8 L588.5,1364.2 L588.5,1363.5 L588.5,1362.8 L588.5,1362.1 L588.4,1361.4 L588.3,1360.6 L588.2,1359.8 L588.0,1359.0 L587.9,1358.2 L587.7,1357.3 L587.4,1356.5 L587.2,1355.6 L587.0,1354.7 L586.8,1353.8 L586.5,1352.8 L586.2,1351.8 L586.0,1350.8 L585.7,1349.7 L585.3,1348.7 L585.0,1347.6 L584.7,1346.6 L584.3,1345.6 L584.0,1344.5 L583.6,1343.5 L583.2,1342.5 L582.8,1341.5 L582.4,1340.5 L581.9,1339.5 L581.5,1338.4 L581.1,1337.4 L580.7,1336.4 L580.3,1335.4 L580.0,1334.4 L579.7,1333.4 L579.4,1332.3 L579.2,1331.3 L579.0,1330.3 L578.8,1329.3 L578.6,1328.3 L578.4,1327.3 L578.3,1326.3 L578.1,1325.2 L578.0,1324.2 L577.9,1323.2 L577.8,1322.2 L577.7,1321.2 L577.7,1320.2 L577.7,1319.1 L577.6,1318.1 L577.6,1317.1 L577.6,1316.1 L577.5,1315.1 L577.5,1314.1 L577.5,1313.1 L577.4,1312.0 L577.4,1311.0 L577.4,1310.0 L577.3,1309.0 L577.3,1308.0 L577.3,1307.0 L577.2,1305.9 L577.1,1304.9 L577.0,1303.9 L576.9,1302.9 L576.7,1301.9 L576.5,1300.9 L576.3,1299.9 L576.1,1298.8 L575.9,1297.8 L575.7,1296.8 L575.5,1295.8 L575.2,1294.8 L575.0,1293.8 L574.8,1292.7 L574.5,1291.7 L574.3,1290.7 L574.0,1289.7 L573.8,1288.7 L573.5,1287.7 L573.2,1286.7 L573.0,1285.6 L572.7,1284.6 L572.5,1283.6 L572.3,1282.6 L572.1,1281.6 L571.9,1280.6 L571.7,1279.5 L571.5,1278.5 L571.3,1277.5 L571.1,1276.5 L570.9,1275.5 L570.7,1274.5 L570.5,1273.5 L570.3,1272.4 L570.1,1271.4 L569.9,1270.4 L569.7,1269.4 L569.5,1268.4 L569.3,1267.4 L569.1,1266.3 L568.9,1265.3 L568.7,1264.3 L568.5,1263.3 L568.3,1262.3 L568.2,1261.3 L568.0,1260.2 L567.8,1259.2 L567.7,1258.2 L567.5,1257.2 L567.4,1256.2 L567.2,1255.2 L567.1,1254.2 L567.0,1253.1 L566.9,1252.2 L566.8,1251.4 L566.8,1250.7 L566.7,1250.1 L566.7,1249.3 L566.6,1248.5 L566.6,1247.5 L566.6,1246.3 L566.5,1244.8 L566.5,1243.0 L566.5,1240.7 L566.5,1238.0 L566.5,1235.0 L566.4,1231.8 L566.5,1228.4 L566.5,1224.9 L566.5,1221.6 L566.5,1218.3 L566.5,1215.2 L566.5,1212.5 L566.5,1210.1 L566.5,1207.8 L566.6,1205.7 L566.6,1203.7 L566.6,1201.7 L566.7,1199.8 L566.7,1198.0 L566.7,1196.1 L566.8,1194.2 L566.8,1192.2 L566.8,1190.1 L566.8,1187.8 L566.9,1185.5 L566.9,1183.1 L566.9,1180.8 L566.9,1178.6 L567.0,1176.5 L567.0,1174.7 L567.0,1173.1 L567.0,1171.9 L563.0,1171.9 L563.0,1173.1 L563.0,1174.7 L563.0,1176.5 L563.1,1178.6 L563.1,1180.8 L563.1,1183.1 L563.1,1185.5 L563.2,1187.8 L563.2,1190.1 L563.2,1192.2 L563.2,1194.2 L563.3,1196.1 L563.3,1198.0 L563.3,1199.8 L563.4,1201.7 L563.4,1203.7 L563.4,1205.7 L563.5,1207.8 L563.5,1210.1 L563.5,1212.5 L563.5,1215.2 L563.5,1218.3 L563.5,1221.6 L563.5,1224.9 L563.5,1228.4 L563.6,1231.8 L563.5,1235.0 L563.5,1238.0 L563.5,1240.7 L563.5,1243.0 L563.5,1244.8 L563.4,1246.3 L563.4,1247.5 L563.4,1248.5 L563.3,1249.3 L563.3,1250.1 L563.2,1250.7 L563.2,1251.4 L563.1,1252.2 L563.0,1253.1 L562.9,1254.2 L562.8,1255.2 L562.6,1256.2 L562.5,1257.2 L562.3,1258.2 L562.2,1259.2 L562.0,1260.2 L561.8,1261.3 L561.7,1262.3 L561.5,1263.3 L561.3,1264.3 L561.1,1265.3 L560.9,1266.3 L560.7,1267.4 L560.5,1268.4 L560.3,1269.4 L560.1,1270.4 L559.9,1271.4 L559.7,1272.4 L559.5,1273.5 L559.3,1274.5 L559.1,1275.5 L558.9,1276.5 L558.7,1277.5 L558.5,1278.5 L558.3,1279.5 L558.1,1280.6 L557.9,1281.6 L557.7,1282.6 L557.5,1283.6 L557.3,1284.6 L557.0,1285.6 L556.8,1286.7 L556.5,1287.7 L556.2,1288.7 L556.0,1289.7 L555.7,1290.7 L555.5,1291.7 L555.2,1292.7 L555.0,1293.8 L554.8,1294.8 L554.5,1295.8 L554.3,1296.8 L554.1,1297.8 L553.9,1298.8 L553.7,1299.9 L553.5,1300.9 L553.3,1301.9 L553.1,1302.9 L553.0,1303.9 L552.9,1304.9 L552.8,1305.9 L552.7,1307.0 L552.7,1308.0 L552.7,1309.0 L552.6,1310.0 L552.6,1311.0 L552.6,1312.0 L552.5,1313.1 L552.5,1314.1 L552.5,1315.1 L552.4,1316.1 L552.4,1317.1 L552.4,1318.1 L552.3,1319.1 L552.3,1320.2 L552.3,1321.2 L552.2,1322.2 L552.1,1323.2 L552.0,1324.2 L551.9,1325.2 L551.7,1326.3 L551.6,1327.3 L551.4,1328.3 L551.2,1329.3 L551.0,1330.3 L550.8,1331.3 L550.6,1332.3 L550.3,1333.4 L550.0,1334.4 L549.7,1335.4 L549.3,1336.4 L548.9,1337.4 L548.5,1338.4 L548.1,1339.5 L547.6,1340.5 L547.2,1341.5 L546.8,1342.5 L546.4,1343.5 L546.0,1344.5 L545.7,1345.6 L545.3,1346.6 L545.0,1347.6 L544.7,1348.7 L544.3,1349.7 L544.0,1350.8 L543.8,1351.8 L543.5,1352.8 L543.2,1353.8 L543.0,1354.7 L542.8,1355.6 L542.6,1356.5 L542.3,1357.3 L542.1,1358.2 L542.0,1359.0 L541.8,1359.8 L541.7,1360.6 L541.6,1361.4 L541.5,1362.1 L541.5,1362.8 L541.5,1363.5 L541.5,1364.2 L541.6,1364.8 L541.7,1365.4 L541.8,1366.0 L541.9,1366.6 L542.1,1367.1 L542.4,1367.7 L542.7,1368.3 L543.0,1368.9 L543.4,1369.5 L544.0,1370.2 L544.7,1370.9 L545.4,1371.6 L546.1,1372.3 L546.8,1373.0 L547.5,1373.6 L548.1,1374.2 L548.6,1374.6 L549.0,1375.0 Z" fill="#fde0e0" stroke="none"/>
<line x1="552.7" y1="1326.3" x2="577.3" y2="1326.3" stroke="#222" stroke-width="1.2" stroke-dasharray="4,3"/>
<line x1="543.0" y1="1358.8" x2="587.0" y2="1358.8" stroke="#222" stroke-width="1.2" stroke-dasharray="1.5,2.5"/>
<line x1="557.0" y1="1289.7" x2="573.0" y2="1289.7" stroke="#222" stroke-width="1.2" stroke-dasharray="1.5,2.5"/>
<path d="M581.0,1375.0 L581.4,1374.6 L581.9,1374.2 L582.5,1373.6 L583.2,1373.0 L583.9,1372.3 L584.6,1371.6 L585.3,1370.9 L586.0,1370.2 L586.6,1369.5 L587.0,1368.9 L587.3,1368.3 L587.6,1367.7 L587.9,1367.1 L588.1,1366.6 L588.2,1366.0 L588.3,1365.4 L588.4,1364.8 L588.5,1364.2 L588.5,1363.5 L588.5,1362.8 L588.5,1362.1 L588.4,1361.4 L588.3,1360.6 L588.2,1359.8 L588.0,1359.0 L587.9,1358.2 L587.7,1357.3 L587.4,1356.5 L587.2,1355.6 L587.0,1354.7 L586.8,1353.8 L586.5,1352.8 L586.2,1351.8 L586.0,1350.8 L585.7,1349.7 L585.3,1348.7 L585.0,1347.6 L584.7,1346.6 L584.3,1345.6 L584.0,1344.5 L583.6,1343.5 L583.2,1342.5 L582.8,1341.5 L582.4,1340.5 L581.9,1339.5 L581.5,1338.4 L581.1,1337.4 L580.7,1336.4 L580.3,1335.4 L580.0,1334.4 L579.7,1333.4 L579.4,1332.3 L579.2,1331.3 L579.0,1330.3 L578.8,1329.3 L578.6,1328.3 L578.4,1327.3 L578.3,1326.3 L578.1,1325.2 L578.0,1324.2 L577.9,1323.2 L577.8,1322.2 L577.7,1321.2 L577.7,1320.2 L577.7,1319.1 L577.6,1318.1 L577.6,1317.1 L577.6,1316.1 L577.5,1315.1 L577.5,1314.1 L577.5,1313.1 L577.4,1312.0 L577.4,1311.0 L577.4,1310.0 L577.3,1309.0 L577.3,1308.0 L577.3,1307.0 L577.2,1305.9 L577.1,1304.9 L577.0,1303.9 L576.9,1302.9 L576.7,1301.9 L576.5,1300.9 L576.3,1299.9 L576.1,1298.8 L575.9,1297.8 L575.7,1296.8 L575.5,1295.8 L575.2,1294.8 L575.0,1293.8 L574.8,1292.7 L574.5,1291.7 L574.3,1290.7 L574.0,1289.7 L573.8,1288.7 L573.5,1287.7 L573.2,1286.7 L573.0,1285.6 L572.7,1284.6 L572.5,1283.6 L572.3,1282.6 L572.1,1281.6 L571.9,1280.6 L571.7,1279.5 L571.5,1278.5 L571.3,1277.5 L571.1,1276.5 L570.9,1275.5 L570.7,1274.5 L570.5,1273.5 L570.3,1272.4 L570.1,1271.4 L569.9,1270.4 L569.7,1269.4 L569.5,1268.4 L569.3,1267.4 L569.1,1266.3 L568.9,1265.3 L568.7,1264.3 L568.5,1263.3 L568.3,1262.3 L568.2,1261.3 L568.0,1260.2 L567.8,1259.2 L567.7,1258.2 L567.5,1257.2 L567.4,1256.2 L567.2,1255.2 L567.1,1254.2 L567.0,1253.1 L566.9,1252.2 L566.8,1251.4 L566.8,1250.7 L566.7,1250.1 L566.7,1249.3 L566.6,1248.5 L566.6,1247.5 L566.6,1246.3 L566.5,1244.8 L566.5,1243.0 L566.5,1240.7 L566.5,1238.0 L566.5,1235.0 L566.4,1231.8 L566.5,1228.4 L566.5,1224.9 L566.5,1221.6 L566.5,1218.3 L566.5,1215.2 L566.5,1212.5 L566.5,1210.1 L566.5,1207.8 L566.6,1205.7 L566.6,1203.7 L566.6,1201.7 L566.7,1199.8 L566.7,1198.0 L566.7,1196.1 L566.8,1194.2 L566.8,1192.2 L566.8,1190.1 L566.8,1187.8 L566.9,1185.5 L566.9,1183.1 L566.9,1180.8 L566.9,1178.6 L567.0,1176.5 L567.0,1174.7 L567.0,1173.1 L567.0,1171.9" fill="none" stroke="#ff0000" stroke-width="4.4" stroke-linejoin="round" stroke-linecap="round"/>
<path d="M563.0,1171.9 L563.0,1173.1 L563.0,1174.7 L563.0,1176.5 L563.1,1178.6 L563.1,1180.8 L563.1,1183.1 L563.1,1185.5 L563.2,1187.8 L563.2,1190.1 L563.2,1192.2 L563.2,1194.2 L563.3,1196.1 L563.3,1198.0 L563.3,1199.8 L563.4,1201.7 L563.4,1203.7 L563.4,1205.7 L563.5,1207.8 L563.5,1210.1 L563.5,1212.5 L563.5,1215.2 L563.5,1218.3 L563.5,1221.6 L563.5,1224.9 L563.5,1228.4 L563.6,1231.8 L563.5,1235.0 L563.5,1238.0 L563.5,1240.7 L563.5,1243.0 L563.5,1244.8 L563.4,1246.3 L563.4,1247.5 L563.4,1248.5 L563.3,1249.3 L563.3,1250.1 L563.2,1250.7 L563.2,1251.4 L563.1,1252.2 L563.0,1253.1 L562.9,1254.2 L562.8,1255.2 L562.6,1256.2 L562.5,1257.2 L562.3,1258.2 L562.2,1259.2 L562.0,1260.2 L561.8,1261.3 L561.7,1262.3 L561.5,1263.3 L561.3,1264.3 L561.1,1265.3 L560.9,1266.3 L560.7,1267.4 L560.5,1268.4 L560.3,1269.4 L560.1,1270.4 L559.9,1271.4 L559.7,1272.4 L559.5,1273.5 L559.3,1274.5 L559.1,1275.5 L558.9,1276.5 L558.7,1277.5 L558.5,1278.5 L558.3,1279.5 L558.1,1280.6 L557.9,1281.6 L557.7,1282.6 L557.5,1283.6 L557.3,1284.6 L557.0,1285.6 L556.8,1286.7 L556.5,1287.7 L556.2,1288.7 L556.0,1289.7 L555.7,1290.7 L555.5,1291.7 L555.2,1292.7 L555.0,1293.8 L554.8,1294.8 L554.5,1295.8 L554.3,1296.8 L554.1,1297.8 L553.9,1298.8 L553.7,1299.9 L553.5,1300.9 L553.3,1301.9 L553.1,1302.9 L553.0,1303.9 L552.9,1304.9 L552.8,1305.9 L552.7,1307.0 L552.7,1308.0 L552.7,1309.0 L552.6,1310.0 L552.6,1311.0 L552.6,1312.0 L552.5,1313.1 L552.5,1314.1 L552.5,1315.1 L552.4,1316.1 L552.4,1317.1 L552.4,1318.1 L552.3,1319.1 L552.3,1320.2 L552.3,1321.2 L552.2,1322.2 L552.1,1323.2 L552.0,1324.2 L551.9,1325.2 L551.7,1326.3 L551.6,1327.3 L551.4,1328.3 L551.2,1329.3 L551.0,1330.3 L550.8,1331.3 L550.6,1332.3 L550.3,1333.4 L550.0,1334.4 L549.7,1335.4 L549.3,1336.4 L548.9,1337.4 L548.5,1338.4 L548.1,1339.5 L547.6,1340.5 L547.2,1341.5 L546.8,1342.5 L546.4,1343.5 L546.0,1344.5 L545.7,1345.6 L545.3,1346.6 L545.0,1347.6 L544.7,1348.7 L544.3,1349.7 L544.0,1350.8 L543.8,1351.8 L543.5,1352.8 L543.2,1353.8 L543.0,1354.7 L542.8,1355.6 L542.6,1356.5 L542.3,1357.3 L542.1,1358.2 L542.0,1359.0 L541.8,1359.8 L541.7,1360.6 L541.6,1361.4 L541.5,1362.1 L541.5,1362.8 L541.5,1363.5 L541.5,1364.2 L541.6,1364.8 L541.7,1365.4 L541.8,1366.0 L541.9,1366.6 L542.1,1367.1 L542.4,1367.7 L542.7,1368.3 L543.0,1368.9 L543.4,1369.5 L544.0,1370.2 L544.7,1370.9 L545.4,1371.6 L546.1,1372.3 L546.8,1373.0 L547.5,1373.6 L548.1,1374.2 L548.6,1374.6 L549.0,1375.0" fill="none" stroke="#ff0000" stroke-width="4.4" stroke-linejoin="round" stroke-linecap="round"/>
<g fill="#ff0000"><circle cx="565.0" cy="1375.0" r="3.9"/><circle cx="555.0" cy="1368.9" r="3.9"/><circle cx="565.0" cy="1366.9" r="3.9"/><circle cx="575.0" cy="1368.9" r="3.9"/><circle cx="555.0" cy="1360.8" r="3.9"/><circle cx="565.0" cy="1358.8" r="3.9"/><circle cx="575.0" cy="1356.7" r="3.9"/><circle cx="545.0" cy="1356.7" r="3.9"/><circle cx="585.0" cy="1362.8" r="3.9"/><circle cx="553.0" cy="1350.6" r="3.9"/><circle cx="565.0" cy="1350.6" r="3.9"/><circle cx="575.0" cy="1346.6" r="3.9"/><circle cx="555.0" cy="1342.5" r="3.9"/><circle cx="555.0" cy="1318.1" r="3.9"/><circle cx="555.0" cy="1303.9" r="3.9"/><circle cx="575.0" cy="1303.9" r="3.9"/><circle cx="565.0" cy="1299.9" r="3.9"/><circle cx="559.0" cy="1291.7" r="3.9"/><circle cx="571.0" cy="1289.7" r="3.9"/><circle cx="575.0" cy="1318.1" r="3.9"/><circle cx="565.0" cy="1326.3" r="3.9"/><circle cx="565.0" cy="1334.4" r="3.9"/><circle cx="565.0" cy="1277.5" r="3.9"/><circle cx="565.0" cy="1265.3" r="3.9"/><circle cx="575.0" cy="1259.2" r="3.9"/></g>
<line x1="565" y1="1141.7375" x2="565" y2="1103.2625" stroke="#ff0000" stroke-width="5" stroke-linecap="round"/>
<circle cx="565" cy="1142.8" r="4.2" fill="#ff0000"/>
<circle cx="565" cy="1138.7" r="4.2" fill="#ff0000"/>
<circle cx="565" cy="1103.3" r="4.2" fill="#ff0000"/>
<path d="M647.0,1376.0 L647.6,1375.8 L648.4,1375.6 L649.4,1375.4 L650.5,1375.1 L651.6,1374.7 L652.8,1374.4 L654.0,1374.1 L655.1,1373.7 L656.1,1373.3 L657.0,1373.0 L657.8,1372.6 L658.6,1372.2 L659.3,1371.8 L660.0,1371.4 L660.7,1370.9 L661.3,1370.5 L661.8,1370.1 L662.3,1369.7 L662.7,1369.3 L663.0,1368.9 L663.2,1368.6 L663.4,1368.2 L663.5,1367.9 L663.5,1367.6 L663.4,1367.3 L663.3,1367.0 L663.1,1366.7 L662.8,1366.5 L662.5,1366.2 L662.0,1365.9 L661.4,1365.6 L660.7,1365.3 L659.9,1364.9 L659.0,1364.6 L658.0,1364.3 L657.0,1364.0 L656.0,1363.7 L654.9,1363.4 L653.9,1363.1 L653.0,1362.8 L652.1,1362.5 L651.1,1362.2 L650.1,1361.8 L649.1,1361.5 L648.1,1361.2 L647.2,1360.8 L646.3,1360.5 L645.4,1360.2 L644.7,1360.0 L644.0,1359.8 L643.4,1359.6 L643.0,1359.4 L642.6,1359.3 L642.2,1359.2 L641.9,1359.1 L641.7,1359.0 L641.5,1358.9 L641.3,1358.9 L641.2,1358.8 L641.0,1358.8 L641.0,1358.8 L640.8,1358.8 L640.7,1358.9 L640.5,1358.9 L640.3,1359.0 L640.1,1359.1 L639.8,1359.2 L639.4,1359.3 L639.0,1359.4 L638.6,1359.6 L638.0,1359.8 L637.3,1360.0 L636.6,1360.2 L635.7,1360.5 L634.8,1360.8 L633.9,1361.2 L632.9,1361.5 L631.9,1361.8 L630.9,1362.2 L629.9,1362.5 L629.0,1362.8 L628.1,1363.1 L627.1,1363.4 L626.0,1363.7 L625.0,1364.0 L624.0,1364.3 L623.0,1364.6 L622.1,1364.9 L621.3,1365.3 L620.6,1365.6 L620.0,1365.9 L619.5,1366.2 L619.2,1366.5 L618.9,1366.7 L618.7,1367.0 L618.6,1367.3 L618.5,1367.6 L618.5,1367.9 L618.6,1368.2 L618.8,1368.6 L619.0,1368.9 L619.3,1369.3 L619.7,1369.7 L620.2,1370.1 L620.7,1370.5 L621.3,1370.9 L622.0,1371.4 L622.7,1371.8 L623.4,1372.2 L624.2,1372.6 L625.0,1373.0 L625.9,1373.3 L626.9,1373.7 L628.0,1374.1 L629.2,1374.4 L630.4,1374.7 L631.5,1375.1 L632.6,1375.4 L633.6,1375.6 L634.4,1375.8 L635.0,1376.0 Z" fill="#f6c6ea" stroke="none"/>
<path d="M647.0,1376.0 L647.6,1375.8 L648.4,1375.6 L649.4,1375.4 L650.5,1375.1 L651.6,1374.7 L652.8,1374.4 L654.0,1374.1 L655.1,1373.7 L656.1,1373.3 L657.0,1373.0 L657.8,1372.6 L658.6,1372.2 L659.3,1371.8 L660.0,1371.4 L660.7,1370.9 L661.3,1370.5 L661.8,1370.1 L662.3,1369.7 L662.7,1369.3 L663.0,1368.9 L663.2,1368.6 L663.4,1368.2 L663.5,1367.9 L663.5,1367.6 L663.4,1367.3 L663.3,1367.0 L663.1,1366.7 L662.8,1366.5 L662.5,1366.2 L662.0,1365.9 L661.4,1365.6 L660.7,1365.3 L659.9,1364.9 L659.0,1364.6 L658.0,1364.3 L657.0,1364.0 L656.0,1363.7 L654.9,1363.4 L653.9,1363.1 L653.0,1362.8 L652.1,1362.5 L651.1,1362.2 L650.1,1361.8 L649.1,1361.5 L648.1,1361.2 L647.2,1360.8 L646.3,1360.5 L645.4,1360.2 L644.7,1360.0 L644.0,1359.8 L643.4,1359.6 L643.0,1359.4 L642.6,1359.3 L642.2,1359.2 L641.9,1359.1 L641.7,1359.0 L641.5,1358.9 L641.3,1358.9 L641.2,1358.8 L641.0,1358.8 L641.0,1358.8 L640.8,1358.8 L640.7,1358.9 L640.5,1358.9 L640.3,1359.0 L640.1,1359.1 L639.8,1359.2 L639.4,1359.3 L639.0,1359.4 L638.6,1359.6 L638.0,1359.8 L637.3,1360.0 L636.6,1360.2 L635.7,1360.5 L634.8,1360.8 L633.9,1361.2 L632.9,1361.5 L631.9,1361.8 L630.9,1362.2 L629.9,1362.5 L629.0,1362.8 L628.1,1363.1 L627.1,1363.4 L626.0,1363.7 L625.0,1364.0 L624.0,1364.3 L623.0,1364.6 L622.1,1364.9 L621.3,1365.3 L620.6,1365.6 L620.0,1365.9 L619.5,1366.2 L619.2,1366.5 L618.9,1366.7 L618.7,1367.0 L618.6,1367.3 L618.5,1367.6 L618.5,1367.9 L618.6,1368.2 L618.8,1368.6 L619.0,1368.9 L619.3,1369.3 L619.7,1369.7 L620.2,1370.1 L620.7,1370.5 L621.3,1370.9 L622.0,1371.4 L622.7,1371.8 L623.4,1372.2 L624.2,1372.6 L625.0,1373.0 L625.9,1373.3 L626.9,1373.7 L628.0,1374.1 L629.2,1374.4 L630.4,1374.7 L631.5,1375.1 L632.6,1375.4 L633.6,1375.6 L634.4,1375.8 L635.0,1376.0 Z" fill="none" stroke="#cd0067" stroke-width="4.4" stroke-linejoin="round"/>
<g fill="#cd0067"><circle cx="627.4" cy="1372.0" r="3.8"/><circle cx="634.2" cy="1372.0" r="3.8"/><circle cx="641.0" cy="1372.0" r="3.8"/><circle cx="647.8" cy="1372.0" r="3.8"/><circle cx="654.6" cy="1372.0" r="3.8"/><circle cx="620.6" cy="1367.9" r="3.8"/><circle cx="627.4" cy="1367.9" r="3.8"/><circle cx="634.2" cy="1367.9" r="3.8"/><circle cx="641.0" cy="1367.9" r="3.8"/><circle cx="647.8" cy="1367.9" r="3.8"/><circle cx="654.6" cy="1367.9" r="3.8"/><circle cx="661.4" cy="1367.9" r="3.8"/><circle cx="631.8" cy="1363.8" r="3.8"/><circle cx="638.6" cy="1363.8" r="3.8"/><circle cx="645.4" cy="1363.8" r="3.8"/><circle cx="652.2" cy="1363.8" r="3.8"/><circle cx="641.0" cy="1360.8" r="3.8"/></g>
<text x="952.0" y="1060.5" font-size="21.5" text-anchor="middle" fill="#000" letter-spacing="0.2">pro-BNP</text>
<text x="756.9" y="1236.4" font-size="23" font-weight="bold" text-anchor="middle" fill="#000" transform="rotate(-90 756.9 1236.4)">pro-BNP (pg/mL)</text>
<path d="M860.0,1372.9h0M869.3,1372.9h0M878.7,1372.9h0M888.0,1372.9h0M897.3,1372.9h0M906.7,1372.9h0M916.0,1372.9h0M925.3,1372.9h0M934.6,1372.9h0M944.0,1372.9h0M953.3,1372.9h0M962.6,1372.9h0M972.0,1372.9h0M981.3,1372.9h0M990.6,1372.9h0M1000.0,1372.9h0M1009.3,1372.9h0M1018.6,1372.9h0M1027.9,1372.9h0M1037.3,1372.9h0M1046.6,1372.9h0" stroke="#000" stroke-width="2.6" stroke-linecap="round"/>
<line x1="849.6" y1="1096.8" x2="849.6" y2="1151.0" stroke="#000" stroke-width="3.2"/>
<line x1="849.6" y1="1170.0" x2="849.6" y2="1375.4" stroke="#000" stroke-width="3.2"/>
<line x1="837.1" y1="1114.6" x2="851.1" y2="1114.6" stroke="#000" stroke-width="3.2"/>
<text x="833.3" y="1123.3" font-size="23" font-weight="bold" text-anchor="end" fill="#000">30000</text>
<line x1="837.1" y1="1140.0" x2="851.1" y2="1140.0" stroke="#000" stroke-width="3.2"/>
<text x="833.3" y="1148.7" font-size="23" font-weight="bold" text-anchor="end" fill="#000">15000</text>
<line x1="841.9" y1="1142.8" x2="857.4" y2="1157.8" stroke="#000" stroke-width="3.2"/>
<line x1="842.3" y1="1162.8" x2="857.4" y2="1177.8" stroke="#000" stroke-width="3.2"/>
<text x="833.3" y="1181.2" font-size="23" font-weight="bold" text-anchor="end" fill="#000">10000</text>
<line x1="837.1" y1="1373.9" x2="851.1" y2="1373.9" stroke="#000" stroke-width="3.2"/>
<text x="833.3" y="1382.6" font-size="23" font-weight="bold" text-anchor="end" fill="#000">0</text>
<line x1="837.1" y1="1272.6" x2="851.1" y2="1272.6" stroke="#000" stroke-width="3.2"/>
<text x="833.3" y="1281.3" font-size="23" font-weight="bold" text-anchor="end" fill="#000">5000</text>
<line x1="879.5" y1="1406.0" x2="1056.3" y2="1406.0" stroke="#000" stroke-width="3.2"/>
<line x1="929.9" y1="1406.0" x2="929.9" y2="1418.5" stroke="#000" stroke-width="3.2"/>
<line x1="1004.4" y1="1406.0" x2="1004.4" y2="1418.5" stroke="#000" stroke-width="3.2"/>
<text x="967.0" y="1447.0" font-size="21.5" text-anchor="middle" fill="#000">MIS-C</text>
<text x="918.3" y="1470.0" font-size="16.5" font-style="italic" text-anchor="middle" fill="#000">acute</text>
<text x="1000.5" y="1470.0" font-size="16.5" font-style="italic" text-anchor="middle" fill="#000" letter-spacing="0.2">remission</text>
<text x="973.0" y="1123.4" font-size="40" font-weight="bold" text-anchor="middle" fill="#000" letter-spacing="2.4">***</text>
<line x1="943.9" y1="1123.4" x2="1004.8" y2="1123.4" stroke="#444" stroke-width="1.6"/>
<path d="M949.2,1376.4 L949.3,1376.0 L949.3,1375.4 L949.4,1374.8 L949.5,1374.1 L949.7,1373.4 L949.8,1372.6 L949.9,1371.7 L950.0,1370.7 L950.2,1369.7 L950.3,1368.6 L950.4,1367.4 L950.6,1366.1 L950.8,1364.8 L951.0,1363.3 L951.2,1361.8 L951.4,1360.3 L951.5,1358.8 L951.6,1357.3 L951.7,1355.8 L951.7,1354.3 L951.6,1352.9 L951.5,1351.5 L951.4,1350.2 L951.2,1348.9 L951.0,1347.6 L950.8,1346.2 L950.5,1344.8 L950.2,1343.3 L949.9,1341.7 L949.6,1340.0 L949.3,1338.2 L948.9,1336.2 L948.5,1334.1 L948.0,1332.0 L947.6,1329.8 L947.1,1327.5 L946.7,1325.3 L946.2,1323.0 L945.7,1320.8 L945.3,1318.6 L944.9,1316.5 L944.4,1314.3 L944.0,1312.2 L943.5,1310.0 L943.1,1307.9 L942.7,1305.7 L942.2,1303.6 L941.8,1301.4 L941.4,1299.3 L941.0,1297.1 L940.6,1295.0 L940.2,1292.8 L939.8,1290.7 L939.5,1288.5 L939.1,1286.4 L938.7,1284.3 L938.4,1282.1 L938.0,1280.0 L937.7,1277.8 L937.4,1275.7 L937.1,1273.6 L936.8,1271.4 L936.5,1269.3 L936.2,1267.2 L935.9,1265.1 L935.6,1262.9 L935.4,1260.8 L935.2,1258.6 L935.0,1256.5 L934.9,1254.3 L934.8,1252.1 L934.8,1250.0 L934.9,1247.9 L935.0,1245.8 L935.1,1243.6 L935.2,1241.4 L935.3,1239.2 L935.5,1236.9 L935.5,1234.6 L935.6,1232.1 L935.6,1229.6 L935.6,1227.0 L935.7,1224.3 L935.7,1221.6 L935.6,1218.9 L935.6,1216.1 L935.6,1213.2 L935.6,1210.3 L935.6,1207.3 L935.6,1204.3 L935.6,1201.1 L935.6,1197.5 L935.6,1193.7 L935.6,1189.9 L935.6,1186.1 L935.6,1182.4 L935.6,1179.0 L935.6,1175.9 L935.6,1173.3 L935.6,1171.3 L925.8,1171.3 L925.8,1173.3 L925.8,1175.9 L925.8,1179.0 L925.8,1182.4 L925.8,1186.1 L925.8,1189.9 L925.8,1193.7 L925.8,1197.5 L925.8,1201.1 L925.8,1204.3 L925.8,1207.3 L925.8,1210.3 L925.8,1213.2 L925.8,1216.1 L925.8,1218.9 L925.7,1221.6 L925.7,1224.3 L925.8,1227.0 L925.8,1229.6 L925.8,1232.1 L925.9,1234.6 L925.9,1236.9 L926.1,1239.2 L926.2,1241.4 L926.3,1243.6 L926.4,1245.8 L926.5,1247.9 L926.6,1250.0 L926.6,1252.1 L926.5,1254.3 L926.4,1256.5 L926.2,1258.6 L926.0,1260.8 L925.8,1262.9 L925.5,1265.1 L925.2,1267.2 L924.9,1269.3 L924.6,1271.4 L924.3,1273.6 L924.0,1275.7 L923.7,1277.8 L923.4,1280.0 L923.0,1282.1 L922.7,1284.3 L922.3,1286.4 L921.9,1288.5 L921.6,1290.7 L921.2,1292.8 L920.8,1295.0 L920.4,1297.1 L920.0,1299.3 L919.6,1301.4 L919.2,1303.6 L918.7,1305.7 L918.3,1307.9 L917.9,1310.0 L917.4,1312.2 L917.0,1314.3 L916.5,1316.5 L916.1,1318.6 L915.7,1320.8 L915.2,1323.0 L914.7,1325.3 L914.3,1327.5 L913.8,1329.8 L913.4,1332.0 L912.9,1334.1 L912.5,1336.2 L912.1,1338.2 L911.8,1340.0 L911.5,1341.7 L911.2,1343.3 L910.9,1344.8 L910.6,1346.2 L910.4,1347.6 L910.2,1348.9 L910.0,1350.2 L909.9,1351.5 L909.8,1352.9 L909.7,1354.3 L909.7,1355.8 L909.8,1357.3 L909.9,1358.8 L910.0,1360.3 L910.2,1361.8 L910.4,1363.3 L910.6,1364.8 L910.8,1366.1 L911.0,1367.4 L911.1,1368.6 L911.2,1369.7 L911.4,1370.7 L911.5,1371.7 L911.6,1372.6 L911.7,1373.4 L911.9,1374.1 L912.0,1374.8 L912.1,1375.4 L912.1,1376.0 L912.2,1376.4 Z" fill="#fde0e0" stroke="none"/>
<line x1="915.7" y1="1325.7" x2="945.7" y2="1325.7" stroke="#222" stroke-width="1.2" stroke-dasharray="4,3"/>
<line x1="910.7" y1="1355.0" x2="950.7" y2="1355.0" stroke="#222" stroke-width="1.2" stroke-dasharray="1.5,2.5"/>
<path d="M949.2,1376.4 L949.3,1376.0 L949.3,1375.4 L949.4,1374.8 L949.5,1374.1 L949.7,1373.4 L949.8,1372.6 L949.9,1371.7 L950.0,1370.7 L950.2,1369.7 L950.3,1368.6 L950.4,1367.4 L950.6,1366.1 L950.8,1364.8 L951.0,1363.3 L951.2,1361.8 L951.4,1360.3 L951.5,1358.8 L951.6,1357.3 L951.7,1355.8 L951.7,1354.3 L951.6,1352.9 L951.5,1351.5 L951.4,1350.2 L951.2,1348.9 L951.0,1347.6 L950.8,1346.2 L950.5,1344.8 L950.2,1343.3 L949.9,1341.7 L949.6,1340.0 L949.3,1338.2 L948.9,1336.2 L948.5,1334.1 L948.0,1332.0 L947.6,1329.8 L947.1,1327.5 L946.7,1325.3 L946.2,1323.0 L945.7,1320.8 L945.3,1318.6 L944.9,1316.5 L944.4,1314.3 L944.0,1312.2 L943.5,1310.0 L943.1,1307.9 L942.7,1305.7 L942.2,1303.6 L941.8,1301.4 L941.4,1299.3 L941.0,1297.1 L940.6,1295.0 L940.2,1292.8 L939.8,1290.7 L939.5,1288.5 L939.1,1286.4 L938.7,1284.3 L938.4,1282.1 L938.0,1280.0 L937.7,1277.8 L937.4,1275.7 L937.1,1273.6 L936.8,1271.4 L936.5,1269.3 L936.2,1267.2 L935.9,1265.1 L935.6,1262.9 L935.4,1260.8 L935.2,1258.6 L935.0,1256.5 L934.9,1254.3 L934.8,1252.1 L934.8,1250.0 L934.9,1247.9 L935.0,1245.8 L935.1,1243.6 L935.2,1241.4 L935.3,1239.2 L935.5,1236.9 L935.5,1234.6 L935.6,1232.1 L935.6,1229.6 L935.6,1227.0 L935.7,1224.3 L935.7,1221.6 L935.6,1218.9 L935.6,1216.1 L935.6,1213.2 L935.6,1210.3 L935.6,1207.3 L935.6,1204.3 L935.6,1201.1 L935.6,1197.5 L935.6,1193.7 L935.6,1189.9 L935.6,1186.1 L935.6,1182.4 L935.6,1179.0 L935.6,1175.9 L935.6,1173.3 L935.6,1171.3" fill="none" stroke="#ff0000" stroke-width="4.4" stroke-linejoin="round" stroke-linecap="butt"/>
<path d="M925.8,1171.3 L925.8,1173.3 L925.8,1175.9 L925.8,1179.0 L925.8,1182.4 L925.8,1186.1 L925.8,1189.9 L925.8,1193.7 L925.8,1197.5 L925.8,1201.1 L925.8,1204.3 L925.8,1207.3 L925.8,1210.3 L925.8,1213.2 L925.8,1216.1 L925.8,1218.9 L925.7,1221.6 L925.7,1224.3 L925.8,1227.0 L925.8,1229.6 L925.8,1232.1 L925.9,1234.6 L925.9,1236.9 L926.1,1239.2 L926.2,1241.4 L926.3,1243.6 L926.4,1245.8 L926.5,1247.9 L926.6,1250.0 L926.6,1252.1 L926.5,1254.3 L926.4,1256.5 L926.2,1258.6 L926.0,1260.8 L925.8,1262.9 L925.5,1265.1 L925.2,1267.2 L924.9,1269.3 L924.6,1271.4 L924.3,1273.6 L924.0,1275.7 L923.7,1277.8 L923.4,1280.0 L923.0,1282.1 L922.7,1284.3 L922.3,1286.4 L921.9,1288.5 L921.6,1290.7 L921.2,1292.8 L920.8,1295.0 L920.4,1297.1 L920.0,1299.3 L919.6,1301.4 L919.2,1303.6 L918.7,1305.7 L918.3,1307.9 L917.9,1310.0 L917.4,1312.2 L917.0,1314.3 L916.5,1316.5 L916.1,1318.6 L915.7,1320.8 L915.2,1323.0 L914.7,1325.3 L914.3,1327.5 L913.8,1329.8 L913.4,1332.0 L912.9,1334.1 L912.5,1336.2 L912.1,1338.2 L911.8,1340.0 L911.5,1341.7 L911.2,1343.3 L910.9,1344.8 L910.6,1346.2 L910.4,1347.6 L910.2,1348.9 L910.0,1350.2 L909.9,1351.5 L909.8,1352.9 L909.7,1354.3 L909.7,1355.8 L909.8,1357.3 L909.9,1358.8 L910.0,1360.3 L910.2,1361.8 L910.4,1363.3 L910.6,1364.8 L910.8,1366.1 L911.0,1367.4 L911.1,1368.6 L911.2,1369.7 L911.4,1370.7 L911.5,1371.7 L911.6,1372.6 L911.7,1373.4 L911.9,1374.1 L912.0,1374.8 L912.1,1375.4 L912.1,1376.0 L912.2,1376.4" fill="none" stroke="#ff0000" stroke-width="4.4" stroke-linejoin="round" stroke-linecap="butt"/>
<g fill="#ff0000"><circle cx="930.7" cy="1207.1" r="3.9"/><circle cx="930.7" cy="1219.3" r="3.9"/><circle cx="930.7" cy="1262.1" r="3.9"/><circle cx="930.7" cy="1297.9" r="3.9"/><circle cx="912.1" cy="1323.6" r="3.9"/><circle cx="924.3" cy="1324.1" r="3.9"/><circle cx="936.4" cy="1324.6" r="3.9"/><circle cx="930.7" cy="1332.9" r="3.9"/><circle cx="924.3" cy="1340.7" r="3.9"/><circle cx="912.1" cy="1348.6" r="3.9"/><circle cx="924.3" cy="1348.6" r="3.9"/><circle cx="936.4" cy="1348.6" r="3.9"/><circle cx="948.6" cy="1347.6" r="3.9"/><circle cx="930.7" cy="1359.3" r="3.9"/><circle cx="912.1" cy="1365.7" r="3.9"/><circle cx="924.3" cy="1367.9" r="3.9"/><circle cx="936.4" cy="1370.7" r="3.9"/><circle cx="948.6" cy="1369.2" r="3.9"/><circle cx="912.1" cy="1373.6" r="3.9"/><circle cx="948.6" cy="1373.6" r="3.9"/></g>
<path d="M930.7,1115.7L929,1128L925,1146M929,1128L936,1148.6M929,1128L936,1139" stroke="#ff0000" stroke-width="3" fill="none" stroke-linecap="round"/>
<circle cx="924.3" cy="1126.4" r="3.9" fill="#ff0000"/>
<circle cx="936.4" cy="1128.6" r="3.9" fill="#ff0000"/>
<circle cx="930.7" cy="1127.3" r="3.9" fill="#ff0000"/>
<circle cx="936.4" cy="1139.3" r="3.9" fill="#ff0000"/>
<circle cx="912.1" cy="1145.0" r="3.9" fill="#ff0000"/>
<circle cx="924.3" cy="1147.9" r="3.9" fill="#ff0000"/>
<circle cx="936.4" cy="1148.6" r="3.9" fill="#ff0000"/>
<path d="M1019.0,1376.9 L1019.4,1376.8 L1020.1,1376.5 L1020.8,1376.2 L1021.6,1375.9 L1022.5,1375.5 L1023.4,1375.2 L1024.2,1374.8 L1024.9,1374.5 L1025.6,1374.2 L1026.0,1373.9 L1026.3,1373.7 L1026.6,1373.4 L1026.9,1373.2 L1027.0,1373.0 L1027.1,1372.8 L1027.1,1372.6 L1027.0,1372.5 L1026.8,1372.3 L1026.5,1372.1 L1026.0,1371.9 L1025.3,1371.7 L1024.5,1371.5 L1023.5,1371.2 L1022.3,1371.0 L1021.1,1370.8 L1019.9,1370.6 L1018.6,1370.4 L1017.3,1370.2 L1016.1,1370.0 L1015.0,1369.8 L1013.9,1369.7 L1012.8,1369.5 L1011.6,1369.4 L1010.4,1369.2 L1009.3,1369.1 L1008.2,1369.0 L1007.2,1368.9 L1006.3,1368.8 L1005.6,1368.7 L1005.0,1368.6 L1005.0,1368.6 L1004.4,1368.7 L1003.7,1368.8 L1002.8,1368.9 L1001.8,1369.0 L1000.7,1369.1 L999.6,1369.2 L998.4,1369.4 L997.2,1369.5 L996.1,1369.7 L995.0,1369.8 L993.9,1370.0 L992.7,1370.2 L991.4,1370.4 L990.1,1370.6 L988.9,1370.8 L987.7,1371.0 L986.5,1371.2 L985.5,1371.5 L984.7,1371.7 L984.0,1371.9 L983.5,1372.1 L983.2,1372.3 L983.0,1372.5 L982.9,1372.6 L982.9,1372.8 L983.0,1373.0 L983.1,1373.2 L983.4,1373.4 L983.7,1373.7 L984.0,1373.9 L984.4,1374.2 L985.1,1374.5 L985.8,1374.8 L986.6,1375.2 L987.5,1375.5 L988.4,1375.9 L989.2,1376.2 L989.9,1376.5 L990.6,1376.8 L991.0,1376.9 Z" fill="#f6c6ea" stroke="none"/>
<path d="M1019.0,1376.9 L1019.4,1376.8 L1020.1,1376.5 L1020.8,1376.2 L1021.6,1375.9 L1022.5,1375.5 L1023.4,1375.2 L1024.2,1374.8 L1024.9,1374.5 L1025.6,1374.2 L1026.0,1373.9 L1026.3,1373.7 L1026.6,1373.4 L1026.9,1373.2 L1027.0,1373.0 L1027.1,1372.8 L1027.1,1372.6 L1027.0,1372.5 L1026.8,1372.3 L1026.5,1372.1 L1026.0,1371.9 L1025.3,1371.7 L1024.5,1371.5 L1023.5,1371.2 L1022.3,1371.0 L1021.1,1370.8 L1019.9,1370.6 L1018.6,1370.4 L1017.3,1370.2 L1016.1,1370.0 L1015.0,1369.8 L1013.9,1369.7 L1012.8,1369.5 L1011.6,1369.4 L1010.4,1369.2 L1009.3,1369.1 L1008.2,1369.0 L1007.2,1368.9 L1006.3,1368.8 L1005.6,1368.7 L1005.0,1368.6 L1005.0,1368.6 L1004.4,1368.7 L1003.7,1368.8 L1002.8,1368.9 L1001.8,1369.0 L1000.7,1369.1 L999.6,1369.2 L998.4,1369.4 L997.2,1369.5 L996.1,1369.7 L995.0,1369.8 L993.9,1370.0 L992.7,1370.2 L991.4,1370.4 L990.1,1370.6 L988.9,1370.8 L987.7,1371.0 L986.5,1371.2 L985.5,1371.5 L984.7,1371.7 L984.0,1371.9 L983.5,1372.1 L983.2,1372.3 L983.0,1372.5 L982.9,1372.6 L982.9,1372.8 L983.0,1373.0 L983.1,1373.2 L983.4,1373.4 L983.7,1373.7 L984.0,1373.9 L984.4,1374.2 L985.1,1374.5 L985.8,1374.8 L986.6,1375.2 L987.5,1375.5 L988.4,1375.9 L989.2,1376.2 L989.9,1376.5 L990.6,1376.8 L991.0,1376.9 Z" fill="none" stroke="#cd0067" stroke-width="4.4" stroke-linejoin="round"/>
<g fill="#cd0067"><circle cx="984.0" cy="1373.9" r="3.8"/><circle cx="991.0" cy="1373.9" r="3.8"/><circle cx="998.0" cy="1373.9" r="3.8"/><circle cx="1005.0" cy="1373.9" r="3.8"/><circle cx="1012.0" cy="1373.9" r="3.8"/><circle cx="1019.0" cy="1373.9" r="3.8"/><circle cx="1026.0" cy="1373.9" r="3.8"/><circle cx="988.5" cy="1372.3" r="3.8"/><circle cx="995.5" cy="1372.3" r="3.8"/><circle cx="1002.5" cy="1372.3" r="3.8"/><circle cx="1009.5" cy="1372.3" r="3.8"/><circle cx="1016.5" cy="1372.3" r="3.8"/><circle cx="1023.5" cy="1372.3" r="3.8"/><circle cx="998.0" cy="1370.9" r="3.8"/><circle cx="1005.0" cy="1370.9" r="3.8"/><circle cx="1012.0" cy="1370.9" r="3.8"/></g>
<text x="1405.3" y="1063.7" font-size="23" text-anchor="middle" fill="#000" letter-spacing="1.6">Neopterin</text>
<text x="1146.6" y="1238.0" font-size="23" font-weight="bold" text-anchor="middle" fill="#000" transform="rotate(-90 1146.6 1238.0)">Neopterin (nmol/L)</text>
<line x1="1209.3" y1="1097.3" x2="1209.3" y2="1376.9" stroke="#000" stroke-width="3.2"/>
<line x1="1196.3" y1="1375.4" x2="1210.8" y2="1375.4" stroke="#000" stroke-width="3.2"/>
<text x="1192.5" y="1382.0" font-size="18.5" text-anchor="end" fill="#000">0</text>
<line x1="1196.3" y1="1283.2" x2="1210.8" y2="1283.2" stroke="#000" stroke-width="3.2"/>
<text x="1192.5" y="1289.8" font-size="18.5" text-anchor="end" fill="#000">100</text>
<line x1="1196.3" y1="1191.0" x2="1210.8" y2="1191.0" stroke="#000" stroke-width="3.2"/>
<text x="1192.5" y="1197.6" font-size="18.5" text-anchor="end" fill="#000">200</text>
<line x1="1196.3" y1="1098.8" x2="1210.8" y2="1098.8" stroke="#000" stroke-width="3.2"/>
<text x="1192.5" y="1105.4" font-size="18.5" text-anchor="end" fill="#000">300</text>
<line x1="1238.9" y1="1406.3" x2="1416.4" y2="1406.3" stroke="#000" stroke-width="3.2"/>
<line x1="1274.8" y1="1406.3" x2="1274.8" y2="1418.8" stroke="#000" stroke-width="3.2"/>
<line x1="1327.4" y1="1406.3" x2="1327.4" y2="1418.8" stroke="#000" stroke-width="3.2"/>
<line x1="1379.9" y1="1406.3" x2="1379.9" y2="1418.8" stroke="#000" stroke-width="3.2"/>
<text x="1279.0" y="1440.7" font-size="21" text-anchor="middle" fill="#000">HC</text>
<text x="1356.0" y="1440.7" font-size="21" text-anchor="middle" fill="#000">MIS-C</text>
<text x="1319.0" y="1461.8" font-size="16.5" font-style="italic" text-anchor="middle" fill="#000">acute</text>
<text x="1390.5" y="1461.8" font-size="16.5" font-style="italic" text-anchor="middle" fill="#000">remission</text>
<text x="1298.0" y="1123.7" font-size="40" font-weight="bold" text-anchor="middle" fill="#000" letter-spacing="2.4">***</text>
<text x="1359.2" y="1122.8" font-size="40" font-weight="bold" text-anchor="middle" fill="#000" letter-spacing="2.4">***</text>
<line x1="1272.9" y1="1123.7" x2="1321.7" y2="1123.7" stroke="#444" stroke-width="1.6"/>
<line x1="1334.4" y1="1122.8" x2="1383.0" y2="1122.8" stroke="#444" stroke-width="1.6"/>
<path d="M1328.0,1375.4 L1328.2,1375.1 L1328.4,1374.8 L1328.6,1374.4 L1328.9,1374.0 L1329.2,1373.5 L1329.5,1373.0 L1329.9,1372.5 L1330.2,1371.9 L1330.6,1371.3 L1331.0,1370.8 L1331.4,1370.2 L1331.9,1369.6 L1332.4,1369.0 L1332.9,1368.4 L1333.4,1367.7 L1334.0,1367.1 L1334.5,1366.4 L1335.0,1365.7 L1335.5,1365.0 L1336.0,1364.3 L1336.4,1363.6 L1336.9,1362.9 L1337.3,1362.2 L1337.7,1361.5 L1338.1,1360.8 L1338.5,1360.1 L1338.9,1359.3 L1339.2,1358.6 L1339.6,1357.8 L1340.0,1357.0 L1340.4,1356.1 L1340.8,1355.2 L1341.2,1354.3 L1341.6,1353.4 L1342.0,1352.5 L1342.3,1351.5 L1342.7,1350.6 L1343.0,1349.6 L1343.3,1348.7 L1343.5,1347.7 L1343.7,1346.8 L1343.8,1345.9 L1344.0,1345.0 L1344.1,1344.0 L1344.2,1343.1 L1344.2,1342.2 L1344.2,1341.3 L1344.2,1340.4 L1344.1,1339.4 L1344.0,1338.5 L1343.9,1337.6 L1343.7,1336.7 L1343.5,1335.7 L1343.2,1334.8 L1343.0,1333.9 L1342.7,1333.0 L1342.3,1332.1 L1341.9,1331.1 L1341.5,1330.2 L1341.0,1329.3 L1340.4,1328.4 L1339.8,1327.4 L1339.1,1326.5 L1338.3,1325.6 L1337.5,1324.7 L1336.7,1323.8 L1335.9,1322.8 L1335.2,1321.9 L1334.6,1321.0 L1334.0,1320.1 L1333.5,1319.2 L1333.1,1318.2 L1332.7,1317.3 L1332.4,1316.4 L1332.1,1315.5 L1331.9,1314.5 L1331.6,1313.6 L1331.4,1312.7 L1331.2,1311.8 L1331.0,1310.9 L1330.8,1309.9 L1330.7,1309.0 L1330.5,1308.1 L1330.4,1307.2 L1330.3,1306.2 L1330.3,1305.3 L1330.2,1304.4 L1330.1,1303.5 L1330.1,1302.6 L1330.0,1301.6 L1329.9,1300.7 L1329.8,1299.8 L1329.8,1298.9 L1329.7,1297.9 L1329.6,1297.0 L1329.6,1296.1 L1329.5,1295.2 L1329.5,1294.3 L1329.5,1293.3 L1329.5,1292.4 L1329.5,1291.5 L1329.6,1290.6 L1329.7,1289.6 L1329.8,1288.7 L1330.0,1287.8 L1330.1,1286.9 L1330.2,1286.0 L1330.3,1285.0 L1330.4,1284.1 L1330.5,1283.2 L1330.5,1282.3 L1330.6,1281.4 L1330.6,1280.6 L1330.6,1279.7 L1330.6,1278.9 L1330.6,1278.0 L1330.6,1277.1 L1330.6,1276.1 L1330.6,1275.1 L1330.5,1274.0 L1330.4,1272.8 L1330.3,1271.6 L1330.1,1270.4 L1330.0,1269.2 L1329.8,1267.9 L1329.6,1266.6 L1329.4,1265.1 L1329.3,1263.6 L1329.2,1261.9 L1329.2,1260.1 L1329.2,1258.2 L1329.3,1256.0 L1329.5,1253.8 L1329.6,1251.4 L1329.8,1248.9 L1330.0,1246.4 L1330.2,1243.9 L1330.3,1241.5 L1330.4,1239.2 L1330.4,1237.1 L1330.4,1235.0 L1330.3,1233.1 L1330.1,1231.2 L1330.0,1229.4 L1329.8,1227.6 L1329.6,1225.8 L1329.4,1224.0 L1329.2,1222.3 L1329.1,1220.5 L1329.0,1218.6 L1328.9,1216.8 L1328.9,1214.8 L1328.9,1212.9 L1328.8,1210.9 L1328.8,1209.0 L1328.9,1207.0 L1328.9,1205.2 L1329.0,1203.4 L1329.1,1201.7 L1329.2,1200.2 L1329.4,1198.8 L1329.7,1197.5 L1330.0,1196.4 L1330.4,1195.3 L1330.8,1194.3 L1331.2,1193.3 L1331.5,1192.3 L1331.8,1191.3 L1331.9,1190.2 L1332.0,1189.1 L1331.9,1188.0 L1331.8,1187.0 L1331.5,1185.9 L1331.1,1184.9 L1330.8,1183.9 L1330.4,1182.8 L1330.0,1181.6 L1329.7,1180.3 L1329.4,1178.8 L1329.2,1177.1 L1329.1,1175.2 L1329.0,1173.1 L1329.0,1170.7 L1328.9,1168.3 L1328.9,1165.7 L1329.0,1163.2 L1329.0,1160.7 L1329.1,1158.3 L1329.1,1156.1 L1329.2,1154.1 L1329.3,1152.3 L1329.4,1150.7 L1329.6,1149.3 L1329.8,1147.9 L1329.9,1146.6 L1330.1,1145.3 L1330.3,1144.1 L1330.4,1142.9 L1330.5,1141.6 L1330.5,1140.3 L1330.5,1138.9 L1330.4,1137.6 L1330.2,1136.3 L1330.1,1134.9 L1329.9,1133.6 L1329.7,1132.3 L1329.5,1130.9 L1329.3,1129.5 L1329.1,1128.0 L1329.0,1126.4 L1328.9,1124.7 L1328.8,1122.7 L1328.6,1120.7 L1328.5,1118.5 L1328.4,1116.3 L1328.3,1114.3 L1328.2,1112.3 L1328.1,1110.6 L1328.1,1109.1 L1328.0,1108.0 L1328.0,1108.0 L1327.9,1109.1 L1327.9,1110.6 L1327.8,1112.3 L1327.7,1114.3 L1327.6,1116.3 L1327.5,1118.5 L1327.4,1120.7 L1327.2,1122.7 L1327.1,1124.7 L1327.0,1126.4 L1326.9,1128.0 L1326.7,1129.5 L1326.5,1130.9 L1326.3,1132.3 L1326.1,1133.6 L1325.9,1134.9 L1325.8,1136.3 L1325.6,1137.6 L1325.5,1138.9 L1325.5,1140.3 L1325.5,1141.6 L1325.6,1142.9 L1325.7,1144.1 L1325.9,1145.3 L1326.1,1146.6 L1326.2,1147.9 L1326.4,1149.3 L1326.6,1150.7 L1326.7,1152.3 L1326.8,1154.1 L1326.9,1156.1 L1326.9,1158.3 L1327.0,1160.7 L1327.0,1163.2 L1327.1,1165.7 L1327.1,1168.3 L1327.0,1170.7 L1327.0,1173.1 L1326.9,1175.2 L1326.8,1177.1 L1326.6,1178.8 L1326.3,1180.3 L1326.0,1181.6 L1325.6,1182.8 L1325.2,1183.9 L1324.9,1184.9 L1324.5,1185.9 L1324.2,1187.0 L1324.1,1188.0 L1324.0,1189.1 L1324.1,1190.2 L1324.2,1191.3 L1324.5,1192.3 L1324.8,1193.3 L1325.2,1194.3 L1325.6,1195.3 L1326.0,1196.4 L1326.3,1197.5 L1326.6,1198.8 L1326.8,1200.2 L1326.9,1201.7 L1327.0,1203.4 L1327.1,1205.2 L1327.1,1207.0 L1327.2,1209.0 L1327.2,1210.9 L1327.1,1212.9 L1327.1,1214.8 L1327.1,1216.8 L1327.0,1218.6 L1326.9,1220.5 L1326.8,1222.3 L1326.6,1224.0 L1326.4,1225.8 L1326.2,1227.6 L1326.0,1229.4 L1325.9,1231.2 L1325.7,1233.1 L1325.6,1235.0 L1325.6,1237.1 L1325.6,1239.2 L1325.7,1241.5 L1325.8,1243.9 L1326.0,1246.4 L1326.2,1248.9 L1326.4,1251.4 L1326.5,1253.8 L1326.7,1256.0 L1326.8,1258.2 L1326.8,1260.1 L1326.8,1261.9 L1326.7,1263.6 L1326.6,1265.1 L1326.4,1266.6 L1326.2,1267.9 L1326.0,1269.2 L1325.9,1270.4 L1325.7,1271.6 L1325.6,1272.8 L1325.5,1274.0 L1325.4,1275.1 L1325.4,1276.1 L1325.4,1277.1 L1325.4,1278.0 L1325.4,1278.9 L1325.4,1279.7 L1325.4,1280.6 L1325.4,1281.4 L1325.5,1282.3 L1325.5,1283.2 L1325.6,1284.1 L1325.7,1285.0 L1325.8,1286.0 L1325.9,1286.9 L1326.0,1287.8 L1326.2,1288.7 L1326.3,1289.6 L1326.4,1290.6 L1326.5,1291.5 L1326.5,1292.4 L1326.5,1293.3 L1326.5,1294.3 L1326.5,1295.2 L1326.4,1296.1 L1326.4,1297.0 L1326.3,1297.9 L1326.2,1298.9 L1326.2,1299.8 L1326.1,1300.7 L1326.0,1301.6 L1325.9,1302.6 L1325.9,1303.5 L1325.8,1304.4 L1325.7,1305.3 L1325.7,1306.2 L1325.6,1307.2 L1325.5,1308.1 L1325.3,1309.0 L1325.2,1309.9 L1325.0,1310.9 L1324.8,1311.8 L1324.6,1312.7 L1324.4,1313.6 L1324.1,1314.5 L1323.9,1315.5 L1323.6,1316.4 L1323.3,1317.3 L1322.9,1318.2 L1322.5,1319.2 L1322.0,1320.1 L1321.4,1321.0 L1320.8,1321.9 L1320.1,1322.8 L1319.3,1323.8 L1318.5,1324.7 L1317.7,1325.6 L1316.9,1326.5 L1316.2,1327.4 L1315.6,1328.4 L1315.0,1329.3 L1314.5,1330.2 L1314.1,1331.1 L1313.7,1332.1 L1313.3,1333.0 L1313.0,1333.9 L1312.8,1334.8 L1312.5,1335.7 L1312.3,1336.7 L1312.1,1337.6 L1312.0,1338.5 L1311.9,1339.4 L1311.8,1340.4 L1311.8,1341.3 L1311.8,1342.2 L1311.8,1343.1 L1311.9,1344.0 L1312.0,1345.0 L1312.2,1345.9 L1312.3,1346.8 L1312.5,1347.7 L1312.7,1348.7 L1313.0,1349.6 L1313.3,1350.6 L1313.7,1351.5 L1314.0,1352.5 L1314.4,1353.4 L1314.8,1354.3 L1315.2,1355.2 L1315.6,1356.1 L1316.0,1357.0 L1316.4,1357.8 L1316.8,1358.6 L1317.1,1359.3 L1317.5,1360.1 L1317.9,1360.8 L1318.3,1361.5 L1318.7,1362.2 L1319.1,1362.9 L1319.6,1363.6 L1320.0,1364.3 L1320.5,1365.0 L1321.0,1365.7 L1321.5,1366.4 L1322.0,1367.1 L1322.6,1367.7 L1323.1,1368.4 L1323.6,1369.0 L1324.1,1369.6 L1324.6,1370.2 L1325.0,1370.8 L1325.4,1371.3 L1325.8,1371.9 L1326.1,1372.5 L1326.5,1373.0 L1326.8,1373.5 L1327.1,1374.0 L1327.4,1374.4 L1327.6,1374.8 L1327.8,1375.1 L1328.0,1375.4 Z" fill="#fbe0e0" stroke="none"/>
<path d="M1328.0,1375.4 L1328.2,1375.1 L1328.4,1374.8 L1328.6,1374.4 L1328.9,1374.0 L1329.2,1373.5 L1329.5,1373.0 L1329.9,1372.5 L1330.2,1371.9 L1330.6,1371.3 L1331.0,1370.8 L1331.4,1370.2 L1331.9,1369.6 L1332.4,1369.0 L1332.9,1368.4 L1333.4,1367.7 L1334.0,1367.1 L1334.5,1366.4 L1335.0,1365.7 L1335.5,1365.0 L1336.0,1364.3 L1336.4,1363.6 L1336.9,1362.9 L1337.3,1362.2 L1337.7,1361.5 L1338.1,1360.8 L1338.5,1360.1 L1338.9,1359.3 L1339.2,1358.6 L1339.6,1357.8 L1340.0,1357.0 L1340.4,1356.1 L1340.8,1355.2 L1341.2,1354.3 L1341.6,1353.4 L1342.0,1352.5 L1342.3,1351.5 L1342.7,1350.6 L1343.0,1349.6 L1343.3,1348.7 L1343.5,1347.7 L1343.7,1346.8 L1343.8,1345.9 L1344.0,1345.0 L1344.1,1344.0 L1344.2,1343.1 L1344.2,1342.2 L1344.2,1341.3 L1344.2,1340.4 L1344.1,1339.4 L1344.0,1338.5 L1343.9,1337.6 L1343.7,1336.7 L1343.5,1335.7 L1343.2,1334.8 L1343.0,1333.9 L1342.7,1333.0 L1342.3,1332.1 L1341.9,1331.1 L1341.5,1330.2 L1341.0,1329.3 L1340.4,1328.4 L1339.8,1327.4 L1339.1,1326.5 L1338.3,1325.6 L1337.5,1324.7 L1336.7,1323.8 L1335.9,1322.8 L1335.2,1321.9 L1334.6,1321.0 L1334.0,1320.1 L1333.5,1319.2 L1333.1,1318.2 L1332.7,1317.3 L1332.4,1316.4 L1332.1,1315.5 L1331.9,1314.5 L1331.6,1313.6 L1331.4,1312.7 L1331.2,1311.8 L1331.0,1310.9 L1330.8,1309.9 L1330.7,1309.0 L1330.5,1308.1 L1330.4,1307.2 L1330.3,1306.2 L1330.3,1305.3 L1330.2,1304.4 L1330.1,1303.5 L1330.1,1302.6 L1330.0,1301.6 L1329.9,1300.7 L1329.8,1299.8 L1329.8,1298.9 L1329.7,1297.9 L1329.6,1297.0 L1329.6,1296.1 L1329.5,1295.2 L1329.5,1294.3 L1329.5,1293.3 L1329.5,1292.4 L1329.5,1291.5 L1329.6,1290.6 L1329.7,1289.6 L1329.8,1288.7 L1330.0,1287.8 L1330.1,1286.9 L1330.2,1286.0 L1330.3,1285.0 L1330.4,1284.1 L1330.5,1283.2 L1330.5,1282.3 L1330.6,1281.4 L1330.6,1280.6 L1330.6,1279.7 L1330.6,1278.9 L1330.6,1278.0 L1330.6,1277.1 L1330.6,1276.1 L1330.6,1275.1 L1330.5,1274.0 L1330.4,1272.8 L1330.3,1271.6 L1330.1,1270.4 L1330.0,1269.2 L1329.8,1267.9 L1329.6,1266.6 L1329.4,1265.1 L1329.3,1263.6 L1329.2,1261.9 L1329.2,1260.1 L1329.2,1258.2 L1329.3,1256.0 L1329.5,1253.8 L1329.6,1251.4 L1329.8,1248.9 L1330.0,1246.4 L1330.2,1243.9 L1330.3,1241.5 L1330.4,1239.2 L1330.4,1237.1 L1330.4,1235.0 L1330.3,1233.1 L1330.1,1231.2 L1330.0,1229.4 L1329.8,1227.6 L1329.6,1225.8 L1329.4,1224.0 L1329.2,1222.3 L1329.1,1220.5 L1329.0,1218.6 L1328.9,1216.8 L1328.9,1214.8 L1328.9,1212.9 L1328.8,1210.9 L1328.8,1209.0 L1328.9,1207.0 L1328.9,1205.2 L1329.0,1203.4 L1329.1,1201.7 L1329.2,1200.2 L1329.4,1198.8 L1329.7,1197.5 L1330.0,1196.4 L1330.4,1195.3 L1330.8,1194.3 L1331.2,1193.3 L1331.5,1192.3 L1331.8,1191.3 L1331.9,1190.2 L1332.0,1189.1 L1331.9,1188.0 L1331.8,1187.0 L1331.5,1185.9 L1331.1,1184.9 L1330.8,1183.9 L1330.4,1182.8 L1330.0,1181.6 L1329.7,1180.3 L1329.4,1178.8 L1329.2,1177.1 L1329.1,1175.2 L1329.0,1173.1 L1329.0,1170.7 L1328.9,1168.3 L1328.9,1165.7 L1329.0,1163.2 L1329.0,1160.7 L1329.1,1158.3 L1329.1,1156.1 L1329.2,1154.1 L1329.3,1152.3 L1329.4,1150.7 L1329.6,1149.3 L1329.8,1147.9 L1329.9,1146.6 L1330.1,1145.3 L1330.3,1144.1 L1330.4,1142.9 L1330.5,1141.6 L1330.5,1140.3 L1330.5,1138.9 L1330.4,1137.6 L1330.2,1136.3 L1330.1,1134.9 L1329.9,1133.6 L1329.7,1132.3 L1329.5,1130.9 L1329.3,1129.5 L1329.1,1128.0 L1329.0,1126.4 L1328.9,1124.7 L1328.8,1122.7 L1328.6,1120.7 L1328.5,1118.5 L1328.4,1116.3 L1328.3,1114.3 L1328.2,1112.3 L1328.1,1110.6 L1328.1,1109.1 L1328.0,1108.0 L1328.0,1108.0 L1327.9,1109.1 L1327.9,1110.6 L1327.8,1112.3 L1327.7,1114.3 L1327.6,1116.3 L1327.5,1118.5 L1327.4,1120.7 L1327.2,1122.7 L1327.1,1124.7 L1327.0,1126.4 L1326.9,1128.0 L1326.7,1129.5 L1326.5,1130.9 L1326.3,1132.3 L1326.1,1133.6 L1325.9,1134.9 L1325.8,1136.3 L1325.6,1137.6 L1325.5,1138.9 L1325.5,1140.3 L1325.5,1141.6 L1325.6,1142.9 L1325.7,1144.1 L1325.9,1145.3 L1326.1,1146.6 L1326.2,1147.9 L1326.4,1149.3 L1326.6,1150.7 L1326.7,1152.3 L1326.8,1154.1 L1326.9,1156.1 L1326.9,1158.3 L1327.0,1160.7 L1327.0,1163.2 L1327.1,1165.7 L1327.1,1168.3 L1327.0,1170.7 L1327.0,1173.1 L1326.9,1175.2 L1326.8,1177.1 L1326.6,1178.8 L1326.3,1180.3 L1326.0,1181.6 L1325.6,1182.8 L1325.2,1183.9 L1324.9,1184.9 L1324.5,1185.9 L1324.2,1187.0 L1324.1,1188.0 L1324.0,1189.1 L1324.1,1190.2 L1324.2,1191.3 L1324.5,1192.3 L1324.8,1193.3 L1325.2,1194.3 L1325.6,1195.3 L1326.0,1196.4 L1326.3,1197.5 L1326.6,1198.8 L1326.8,1200.2 L1326.9,1201.7 L1327.0,1203.4 L1327.1,1205.2 L1327.1,1207.0 L1327.2,1209.0 L1327.2,1210.9 L1327.1,1212.9 L1327.1,1214.8 L1327.1,1216.8 L1327.0,1218.6 L1326.9,1220.5 L1326.8,1222.3 L1326.6,1224.0 L1326.4,1225.8 L1326.2,1227.6 L1326.0,1229.4 L1325.9,1231.2 L1325.7,1233.1 L1325.6,1235.0 L1325.6,1237.1 L1325.6,1239.2 L1325.7,1241.5 L1325.8,1243.9 L1326.0,1246.4 L1326.2,1248.9 L1326.4,1251.4 L1326.5,1253.8 L1326.7,1256.0 L1326.8,1258.2 L1326.8,1260.1 L1326.8,1261.9 L1326.7,1263.6 L1326.6,1265.1 L1326.4,1266.6 L1326.2,1267.9 L1326.0,1269.2 L1325.9,1270.4 L1325.7,1271.6 L1325.6,1272.8 L1325.5,1274.0 L1325.4,1275.1 L1325.4,1276.1 L1325.4,1277.1 L1325.4,1278.0 L1325.4,1278.9 L1325.4,1279.7 L1325.4,1280.6 L1325.4,1281.4 L1325.5,1282.3 L1325.5,1283.2 L1325.6,1284.1 L1325.7,1285.0 L1325.8,1286.0 L1325.9,1286.9 L1326.0,1287.8 L1326.2,1288.7 L1326.3,1289.6 L1326.4,1290.6 L1326.5,1291.5 L1326.5,1292.4 L1326.5,1293.3 L1326.5,1294.3 L1326.5,1295.2 L1326.4,1296.1 L1326.4,1297.0 L1326.3,1297.9 L1326.2,1298.9 L1326.2,1299.8 L1326.1,1300.7 L1326.0,1301.6 L1325.9,1302.6 L1325.9,1303.5 L1325.8,1304.4 L1325.7,1305.3 L1325.7,1306.2 L1325.6,1307.2 L1325.5,1308.1 L1325.3,1309.0 L1325.2,1309.9 L1325.0,1310.9 L1324.8,1311.8 L1324.6,1312.7 L1324.4,1313.6 L1324.1,1314.5 L1323.9,1315.5 L1323.6,1316.4 L1323.3,1317.3 L1322.9,1318.2 L1322.5,1319.2 L1322.0,1320.1 L1321.4,1321.0 L1320.8,1321.9 L1320.1,1322.8 L1319.3,1323.8 L1318.5,1324.7 L1317.7,1325.6 L1316.9,1326.5 L1316.2,1327.4 L1315.6,1328.4 L1315.0,1329.3 L1314.5,1330.2 L1314.1,1331.1 L1313.7,1332.1 L1313.3,1333.0 L1313.0,1333.9 L1312.8,1334.8 L1312.5,1335.7 L1312.3,1336.7 L1312.1,1337.6 L1312.0,1338.5 L1311.9,1339.4 L1311.8,1340.4 L1311.8,1341.3 L1311.8,1342.2 L1311.8,1343.1 L1311.9,1344.0 L1312.0,1345.0 L1312.2,1345.9 L1312.3,1346.8 L1312.5,1347.7 L1312.7,1348.7 L1313.0,1349.6 L1313.3,1350.6 L1313.7,1351.5 L1314.0,1352.5 L1314.4,1353.4 L1314.8,1354.3 L1315.2,1355.2 L1315.6,1356.1 L1316.0,1357.0 L1316.4,1357.8 L1316.8,1358.6 L1317.1,1359.3 L1317.5,1360.1 L1317.9,1360.8 L1318.3,1361.5 L1318.7,1362.2 L1319.1,1362.9 L1319.6,1363.6 L1320.0,1364.3 L1320.5,1365.0 L1321.0,1365.7 L1321.5,1366.4 L1322.0,1367.1 L1322.6,1367.7 L1323.1,1368.4 L1323.6,1369.0 L1324.1,1369.6 L1324.6,1370.2 L1325.0,1370.8 L1325.4,1371.3 L1325.8,1371.9 L1326.1,1372.5 L1326.5,1373.0 L1326.8,1373.5 L1327.1,1374.0 L1327.4,1374.4 L1327.6,1374.8 L1327.8,1375.1 L1328.0,1375.4 Z" fill="none" stroke="#f03c3c" stroke-width="2.2" stroke-linejoin="round"/>
<g fill="#f03c3c"><circle cx="1318.0" cy="1357.0" r="3.3"/><circle cx="1332.0" cy="1355.1" r="3.3"/><circle cx="1342.0" cy="1352.3" r="3.3"/><circle cx="1314.0" cy="1350.5" r="3.3"/><circle cx="1324.0" cy="1347.7" r="3.3"/><circle cx="1336.0" cy="1345.9" r="3.3"/><circle cx="1346.0" cy="1347.7" r="3.3"/><circle cx="1312.0" cy="1343.1" r="3.3"/><circle cx="1322.0" cy="1342.2" r="3.3"/><circle cx="1332.0" cy="1340.4" r="3.3"/><circle cx="1342.0" cy="1342.2" r="3.3"/><circle cx="1316.0" cy="1336.7" r="3.3"/><circle cx="1328.0" cy="1335.7" r="3.3"/><circle cx="1340.0" cy="1334.8" r="3.3"/><circle cx="1324.0" cy="1331.1" r="3.3"/><circle cx="1336.0" cy="1329.3" r="3.3"/><circle cx="1314.0" cy="1327.4" r="3.3"/><circle cx="1330.0" cy="1325.6" r="3.3"/><circle cx="1340.0" cy="1322.8" r="3.3"/><circle cx="1322.0" cy="1322.8" r="3.3"/><circle cx="1328.0" cy="1312.7" r="3.3"/><circle cx="1332.0" cy="1309.0" r="3.3"/><circle cx="1328.0" cy="1370.8" r="3.3"/><circle cx="1328.0" cy="1373.6" r="3.3"/><circle cx="1322.0" cy="1320.1" r="3.3"/><circle cx="1328.0" cy="1140.3" r="3.3"/><circle cx="1325.0" cy="1189.1" r="3.3"/><circle cx="1332.0" cy="1188.2" r="3.3"/><circle cx="1328.0" cy="1237.1" r="3.3"/><circle cx="1328.0" cy="1274.0" r="3.3"/><circle cx="1328.0" cy="1283.2" r="3.3"/><circle cx="1325.0" cy="1306.2" r="3.3"/><circle cx="1318.0" cy="1333.9" r="3.3"/><circle cx="1338.0" cy="1338.5" r="3.3"/><circle cx="1326.0" cy="1338.5" r="3.3"/><circle cx="1334.0" cy="1349.6" r="3.3"/><circle cx="1320.0" cy="1347.7" r="3.3"/></g>
<circle cx="1259.8" cy="1371.7" r="3.3" fill="#0a0ab4"/>
<circle cx="1265.8" cy="1370.8" r="3.3" fill="#0a0ab4"/>
<circle cx="1271.8" cy="1371.3" r="3.3" fill="#0a0ab4"/>
<circle cx="1277.8" cy="1371.7" r="3.3" fill="#0a0ab4"/>
<circle cx="1283.8" cy="1370.8" r="3.3" fill="#0a0ab4"/>
<circle cx="1288.8" cy="1372.2" r="3.3" fill="#0a0ab4"/>
<circle cx="1262.8" cy="1372.6" r="3.3" fill="#0a0ab4"/>
<circle cx="1280.8" cy="1372.6" r="3.3" fill="#0a0ab4"/>
<circle cx="1365.0" cy="1370.8" r="3.3" fill="#cd0067"/>
<circle cx="1371.0" cy="1369.9" r="3.3" fill="#cd0067"/>
<circle cx="1377.0" cy="1368.9" r="3.3" fill="#cd0067"/>
<circle cx="1383.0" cy="1368.0" r="3.3" fill="#cd0067"/>
<circle cx="1389.0" cy="1368.9" r="3.3" fill="#cd0067"/>
<circle cx="1395.0" cy="1370.8" r="3.3" fill="#cd0067"/>
<circle cx="1368.0" cy="1372.6" r="3.3" fill="#cd0067"/>
<circle cx="1380.0" cy="1371.7" r="3.3" fill="#cd0067"/>
<circle cx="1392.0" cy="1372.6" r="3.3" fill="#cd0067"/>
<circle cx="1374.0" cy="1373.1" r="3.3" fill="#cd0067"/>
<circle cx="1386.0" cy="1373.1" r="3.3" fill="#cd0067"/>
<circle cx="1380.0" cy="1366.2" r="3.3" fill="#cd0067"/>
<circle cx="1377.0" cy="1367.1" r="3.3" fill="#cd0067"/>
<circle cx="1385.0" cy="1366.6" r="3.3" fill="#cd0067"/>
<line x1="1443.0" y1="1402.8" x2="1619.9" y2="1402.8" stroke="#000" stroke-width="3.2"/>
<line x1="1471.2" y1="1402.8" x2="1471.2" y2="1414.6" stroke="#000" stroke-width="3.2"/>
<line x1="1511.4" y1="1402.8" x2="1511.4" y2="1414.6" stroke="#000" stroke-width="3.2"/>
<line x1="1551.2" y1="1402.8" x2="1551.2" y2="1414.6" stroke="#000" stroke-width="3.2"/>
<line x1="1591.3" y1="1402.8" x2="1591.3" y2="1414.6" stroke="#000" stroke-width="3.2"/>
<text x="1463.7" y="1441.7" font-size="16.5" font-style="italic" text-anchor="middle" fill="#000">acute</text>
<text x="1511.2" y="1441.7" font-size="16.5" font-style="italic" text-anchor="middle" fill="#000">IVIG</text>
<text x="1584.6" y="1441.7" font-size="16.5" font-style="italic" text-anchor="middle" fill="#000">remission</text>
<text x="1519.0" y="1125.2" font-size="40" font-weight="bold" text-anchor="middle" fill="#000" letter-spacing="2.4">***</text>
<line x1="1469.4" y1="1125.2" x2="1558.8" y2="1125.2" stroke="#111" stroke-width="1.8"/>
<path d="M1471.2,1134.3L1551.2,1367.6M1471.2,1185.8L1551.2,1367.6M1471.2,1233.4L1551.2,1367.6M1471.2,1276.2L1551.2,1367.6M1471.2,1304.0L1551.2,1368.1M1471.2,1308.0L1551.2,1368.1M1471.2,1317.0L1551.2,1368.1M1471.2,1320.0L1551.2,1368.1M1471.2,1323.0L1551.2,1368.1M1471.2,1327.0L1551.2,1368.1M1471.2,1330.0L1551.2,1368.1M1471.2,1333.0L1551.2,1368.1M1471.2,1336.0L1551.2,1368.1M1471.2,1338.0L1551.2,1368.1M1471.2,1340.0L1551.2,1368.1M1471.2,1342.0L1551.2,1368.1M1471.2,1344.0L1551.2,1368.1M1471.2,1346.0L1551.2,1368.1M1471.2,1349.0L1551.2,1368.1M1471.2,1351.0L1551.2,1368.1M1471.2,1270.3L1509.0,1356.7M1511.4,1168.6L1551.2,1367.6M1511.4,1310.6L1551.2,1367.6M1511.4,1367.0L1551.2,1367.6M1509.0,1356.7L1551.2,1367.6M1551.2,1367.6L1591.3,1368.5M1551.2,1364.0L1591.3,1365.0M1551.2,1367.6L1591.3,1369.5" stroke="#8a8a8a" stroke-width="1" fill="none"/>
<text x="472.0" y="1577.9" font-size="46" font-weight="bold" text-anchor="start" fill="#000" font-family="Liberation Serif">b</text>
<path d="M657.6,1539.1V2067.1M634.3,2043.2H1161.3M777.5,1539.1V2067.1M634.3,1923.3H1161.3M897.4,1539.1V2067.1M634.3,1803.4H1161.3M1017.3,1539.1V2067.1M634.3,1683.5H1161.3M1137.2,1539.1V2067.1M634.3,1563.6H1161.3" stroke="#d6d6d6" stroke-width="1.3" fill="none"/>
<circle cx="897.4" cy="1803.4" r="239.8" fill="none" stroke="#1e7b1e" stroke-width="1.6"/>
<path d="M657.6,1803.4H1161.3M897.4,1563.6V2043.2" stroke="#1e7b1e" stroke-width="1.6" fill="none"/>
<rect x="634.3" y="1539.1" width="527.0" height="528.0" fill="none" stroke="#333" stroke-width="2"/>
<path d="M657.6,2067.1v-4M657.6,1539.1v4M634.3,2043.2h4M1161.3,2043.2h-4M681.6,2067.1v-2.5M681.6,1539.1v2.5M634.3,2019.2h2.5M1161.3,2019.2h-2.5M705.6,2067.1v-2.5M705.6,1539.1v2.5M634.3,1995.2h2.5M1161.3,1995.2h-2.5M729.5,2067.1v-2.5M729.5,1539.1v2.5M634.3,1971.3h2.5M1161.3,1971.3h-2.5M753.5,2067.1v-2.5M753.5,1539.1v2.5M634.3,1947.3h2.5M1161.3,1947.3h-2.5M777.5,2067.1v-4M777.5,1539.1v4M634.3,1923.3h4M1161.3,1923.3h-4M801.5,2067.1v-2.5M801.5,1539.1v2.5M634.3,1899.3h2.5M1161.3,1899.3h-2.5M825.5,2067.1v-2.5M825.5,1539.1v2.5M634.3,1875.3h2.5M1161.3,1875.3h-2.5M849.4,2067.1v-2.5M849.4,1539.1v2.5M634.3,1851.4h2.5M1161.3,1851.4h-2.5M873.4,2067.1v-2.5M873.4,1539.1v2.5M634.3,1827.4h2.5M1161.3,1827.4h-2.5M897.4,2067.1v-4M897.4,1539.1v4M634.3,1803.4h4M1161.3,1803.4h-4M921.4,2067.1v-2.5M921.4,1539.1v2.5M634.3,1779.4h2.5M1161.3,1779.4h-2.5M945.4,2067.1v-2.5M945.4,1539.1v2.5M634.3,1755.4h2.5M1161.3,1755.4h-2.5M969.3,2067.1v-2.5M969.3,1539.1v2.5M634.3,1731.5h2.5M1161.3,1731.5h-2.5M993.3,2067.1v-2.5M993.3,1539.1v2.5M634.3,1707.5h2.5M1161.3,1707.5h-2.5M1017.3,2067.1v-4M1017.3,1539.1v4M634.3,1683.5h4M1161.3,1683.5h-4M1041.3,2067.1v-2.5M1041.3,1539.1v2.5M634.3,1659.5h2.5M1161.3,1659.5h-2.5M1065.3,2067.1v-2.5M1065.3,1539.1v2.5M634.3,1635.5h2.5M1161.3,1635.5h-2.5M1089.2,2067.1v-2.5M1089.2,1539.1v2.5M634.3,1611.6h2.5M1161.3,1611.6h-2.5M1113.2,2067.1v-2.5M1113.2,1539.1v2.5M634.3,1587.6h2.5M1161.3,1587.6h-2.5M1137.2,2067.1v-4M1137.2,1539.1v4M634.3,1563.6h4M1161.3,1563.6h-4M1161.2,2067.1v-2.5M1161.2,1539.1v2.5M634.3,1539.6h2.5M1161.3,1539.6h-2.5" stroke="#222" stroke-width="1.3" fill="none"/>
<text x="626.3" y="1568.8" font-size="16.8" text-anchor="end" fill="#000">1,0</text>
<text x="626.3" y="1688.7" font-size="16.8" text-anchor="end" fill="#000">0,5</text>
<text x="626.3" y="1808.6" font-size="16.8" text-anchor="end" fill="#000">0,0</text>
<text x="626.3" y="1928.5" font-size="16.8" text-anchor="end" fill="#000">-0,5</text>
<text x="626.3" y="2048.4" font-size="16.8" text-anchor="end" fill="#000">-1,0</text>
<text x="657.6" y="2090.4" font-size="16.8" text-anchor="middle" fill="#000">-1,0</text>
<text x="777.5" y="2090.4" font-size="16.8" text-anchor="middle" fill="#000">-0,5</text>
<text x="897.4" y="2090.4" font-size="16.8" text-anchor="middle" fill="#000">0,0</text>
<text x="1017.3" y="2090.4" font-size="16.8" text-anchor="middle" fill="#000">0,5</text>
<text x="1137.2" y="2090.4" font-size="16.8" text-anchor="middle" fill="#000">1,0</text>
<text x="897.7" y="2118.4" font-size="16.8" text-anchor="middle" fill="#000">PC1 (36,83% of variation)</text>
<text x="584.7" y="1801.6" font-size="16.8" text-anchor="middle" fill="#000" transform="rotate(-90 584.7 1801.6)">PC2 (26,24% of variation)</text>
<path d="M897.4,1803.4L971.7,1640.8M897.4,1803.4L1052.1,1670.6M897.4,1803.4L1065.0,1689.5M897.4,1803.4L952.8,1754.5M897.4,1803.4L1110.8,1894.8M897.4,1803.4L1087.6,1930.0M897.4,1803.4L972.2,1950.6" stroke="#1a1ae6" stroke-width="1.5" fill="none"/>
<g fill="none" stroke="#1a1ae6" stroke-width="1.3"><circle cx="971.7" cy="1640.8" r="3.2"/><circle cx="1052.1" cy="1670.6" r="3.2"/><circle cx="1065.0" cy="1689.5" r="3.2"/><circle cx="952.8" cy="1754.5" r="3.2"/><circle cx="1110.8" cy="1894.8" r="3.2"/><circle cx="1087.6" cy="1930.0" r="3.2"/><circle cx="972.2" cy="1950.6" r="3.2"/></g>
<text x="962.4" y="1635.5" font-size="16.8" text-anchor="start" fill="#000">Plt</text>
<text x="1044.8" y="1665.7" font-size="16.8" text-anchor="start" fill="#000">Ly</text>
<text x="1053.3" y="1684.5" font-size="16.8" text-anchor="start" fill="#000">Mo</text>
<text x="940.5" y="1749.3" font-size="16.8" text-anchor="start" fill="#000">Alb</text>
<text x="1092.0" y="1889.2" font-size="16.8" text-anchor="start" fill="#000">WBC</text>
<text x="1072.4" y="1924.4" font-size="16.8" text-anchor="start" fill="#000">Neu</text>
<text x="955.3" y="1945.2" font-size="16.8" text-anchor="start" fill="#000">CRP</text>
<path d="M897.4,1803.4L1018.3,1849.7M897.4,1803.4L918.5,1910.8M897.4,1803.4L928.8,1920.2" stroke="#e8141e" stroke-width="1.5" fill="none"/>
<g fill="none" stroke="#e8141e" stroke-width="1.2"><rect x="1015.3" y="1846.7" width="6" height="6"/><path d="M1015.3,1849.7h6"/><rect x="915.5" y="1907.8" width="6" height="6"/><path d="M915.5,1910.8h6"/><rect x="925.8" y="1917.2" width="6" height="6"/><path d="M925.8,1920.2h6"/></g>
<path d="M1021.3,1847.7L1057,1829.5M925.8,1920.2L838,1926.4" stroke="#e8141e" stroke-width="1.2" stroke-dasharray="4,3" fill="none"/>
<path d="M908.5,1910L915.5,1911.8" stroke="#e8141e" stroke-width="1.2" fill="none"/>
<rect x="997.8" y="1810" width="119.8" height="19.5" fill="#fff" stroke="#e8141e" stroke-width="1.4"/>
<text x="1001.6" y="1824.4" font-size="16.8" text-anchor="start" fill="#000">Length of fever</text>
<rect x="785.6" y="1890.6" width="122.9" height="20.0" fill="#fff" stroke="#e8141e" stroke-width="1.4"/>
<text x="789.6" y="1905.0" font-size="16.8" text-anchor="start" fill="#000">PICU treatment</text>
<rect x="738.8" y="1926.4" width="191.0" height="19.5" fill="#fff" stroke="#e8141e" stroke-width="1.4"/>
<text x="743.0" y="1941.4" font-size="16.8" text-anchor="start" fill="#000">Multisystem involvement</text>
</svg>
</body></html>
